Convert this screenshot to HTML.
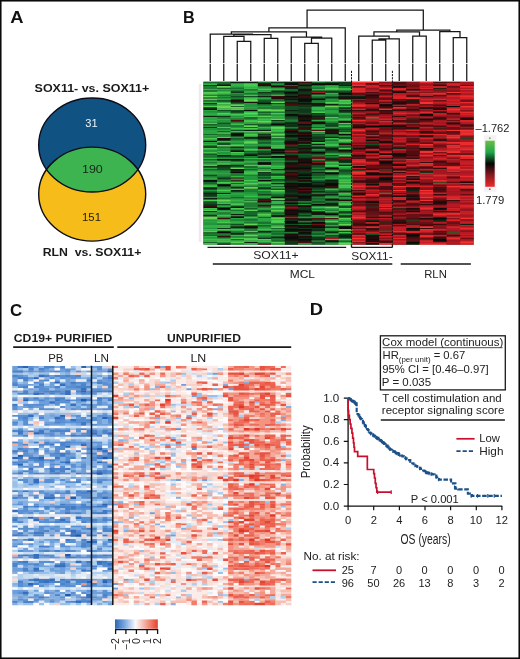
<!DOCTYPE html><html><head><meta charset="utf-8"><style>html,body{margin:0;padding:0;background:#fff;overflow:hidden;}svg{display:block;will-change:transform;}text{font-family:"Liberation Sans",sans-serif;}</style></head><body>
<svg width="520" height="659" viewBox="0 0 520 659">
<rect x="0" y="0" width="520" height="659" fill="#fff"/>
<text x="10.24" y="23.00" font-size="16.80" font-weight="bold" fill="#111" textLength="13.26" lengthAdjust="spacingAndGlyphs" xml:space="preserve">A</text>
<text x="183.05" y="22.80" font-size="16.80" font-weight="bold" fill="#111" textLength="11.72" lengthAdjust="spacingAndGlyphs" xml:space="preserve">B</text>
<text x="10.13" y="315.60" font-size="16.80" font-weight="bold" fill="#111" textLength="12.13" lengthAdjust="spacingAndGlyphs" xml:space="preserve">C</text>
<text x="309.81" y="315.30" font-size="16.80" font-weight="bold" fill="#111" textLength="13.27" lengthAdjust="spacingAndGlyphs" xml:space="preserve">D</text>
<text x="34.63" y="91.80" font-size="11.70" font-weight="bold" fill="#1a1a1a" textLength="114.58" lengthAdjust="spacingAndGlyphs" xml:space="preserve">SOX11- vs. SOX11+</text>
<ellipse cx="92.2" cy="145.0" rx="53.5" ry="47.0" fill="#105383"/>
<ellipse cx="92.2" cy="194.1" rx="53.5" ry="47.0" fill="#f6bc1a"/>
<clipPath id="cb"><ellipse cx="92.2" cy="145.0" rx="53.5" ry="47.0"/></clipPath>
<ellipse cx="92.2" cy="194.1" rx="53.5" ry="47.0" fill="#3eb450" clip-path="url(#cb)"/>
<ellipse cx="92.2" cy="145.0" rx="53.5" ry="47.0" fill="none" stroke="#0c0c18" stroke-width="1.4"/>
<ellipse cx="92.2" cy="194.1" rx="53.5" ry="47.0" fill="none" stroke="#0c0c18" stroke-width="1.4"/>
<text x="85.36" y="127.20" font-size="11.80" fill="#eef3f8" textLength="12.37" lengthAdjust="spacingAndGlyphs" xml:space="preserve">31</text>
<text x="81.96" y="172.80" font-size="11.80" fill="#17261a" textLength="20.82" lengthAdjust="spacingAndGlyphs" xml:space="preserve">190</text>
<text x="82.05" y="220.70" font-size="11.80" fill="#272008" textLength="18.90" lengthAdjust="spacingAndGlyphs" xml:space="preserve">151</text>
<text x="42.70" y="255.50" font-size="11.60" font-weight="bold" fill="#1a1a1a" textLength="98.65" lengthAdjust="spacingAndGlyphs" xml:space="preserve">RLN  vs. SOX11+</text>
<rect x="203.5" y="81.8" width="270.0" height="162.7" fill="#2a1810"/>
<path fill="#17662b" d="M203.5 81.8h13.8v1.7h-13.8zM217.0 81.8h13.8v1.7h-13.8zM257.5 81.8h13.8v1.7h-13.8zM311.5 81.8h13.8v1.7h-13.8zM217.0 83.2h13.8v1.7h-13.8zM284.5 84.6h13.8v1.7h-13.8zM311.5 84.6h13.8v1.7h-13.8zM230.5 87.4h13.8v1.7h-13.8zM311.5 87.4h13.8v1.7h-13.8zM284.5 88.8h13.8v1.7h-13.8zM230.5 90.2h13.8v1.7h-13.8zM284.5 90.2h13.8v1.7h-13.8zM244.0 93.0h13.8v1.7h-13.8zM257.5 93.0h13.8v1.7h-13.8zM271.0 93.0h13.8v1.7h-13.8zM203.5 94.4h13.8v1.7h-13.8zM217.0 94.4h13.8v1.7h-13.8zM338.5 94.4h13.8v1.7h-13.8zM325.0 95.8h13.8v1.7h-13.8zM311.5 97.2h13.8v1.7h-13.8zM271.0 98.6h13.8v1.7h-13.8zM338.5 98.6h13.8v1.7h-13.8zM271.0 100.0h13.8v1.7h-13.8zM230.5 102.8h13.8v1.7h-13.8zM230.5 105.6h13.8v1.7h-13.8zM311.5 105.6h13.8v1.7h-13.8zM338.5 108.4h13.8v1.7h-13.8zM311.5 114.1h13.8v1.7h-13.8zM325.0 114.1h13.8v1.7h-13.8zM325.0 115.5h13.8v1.7h-13.8zM284.5 118.3h13.8v1.7h-13.8zM365.5 118.3h13.8v1.7h-13.8zM230.5 121.1h13.8v1.7h-13.8zM284.5 121.1h13.8v1.7h-13.8zM406.0 122.5h13.8v1.7h-13.8zM257.5 125.3h13.8v1.7h-13.8zM244.0 126.7h13.8v1.7h-13.8zM311.5 126.7h13.8v1.7h-13.8zM298.0 129.5h13.8v1.7h-13.8zM338.5 129.5h13.8v1.7h-13.8zM203.5 133.7h13.8v1.7h-13.8zM325.0 133.7h13.8v1.7h-13.8zM311.5 135.1h13.8v1.7h-13.8zM433.0 136.5h13.8v1.7h-13.8zM338.5 137.9h13.8v1.7h-13.8zM257.5 139.3h13.8v1.7h-13.8zM325.0 139.3h13.8v1.7h-13.8zM338.5 142.1h13.8v1.7h-13.8zM298.0 143.5h13.8v1.7h-13.8zM217.0 146.3h13.8v1.7h-13.8zM325.0 146.3h13.8v1.7h-13.8zM230.5 149.1h13.8v1.7h-13.8zM244.0 150.5h13.8v1.7h-13.8zM325.0 151.9h13.8v1.7h-13.8zM338.5 151.9h13.8v1.7h-13.8zM271.0 153.3h13.8v1.7h-13.8zM298.0 153.3h13.8v1.7h-13.8zM230.5 154.7h13.8v1.7h-13.8zM203.5 156.1h13.8v1.7h-13.8zM217.0 156.1h13.8v1.7h-13.8zM230.5 160.3h13.8v1.7h-13.8zM284.5 160.3h13.8v1.7h-13.8zM325.0 160.3h13.8v1.7h-13.8zM244.0 163.1h13.8v1.7h-13.8zM257.5 167.4h13.8v1.7h-13.8zM203.5 168.8h13.8v1.7h-13.8zM244.0 168.8h13.8v1.7h-13.8zM338.5 168.8h13.8v1.7h-13.8zM284.5 170.2h13.8v1.7h-13.8zM352.0 170.2h13.8v1.7h-13.8zM338.5 171.6h13.8v1.7h-13.8zM271.0 173.0h13.8v1.7h-13.8zM311.5 173.0h13.8v1.7h-13.8zM338.5 173.0h13.8v1.7h-13.8zM311.5 177.2h13.8v1.7h-13.8zM217.0 178.6h13.8v1.7h-13.8zM325.0 178.6h13.8v1.7h-13.8zM271.0 180.0h13.8v1.7h-13.8zM203.5 181.4h13.8v1.7h-13.8zM298.0 181.4h13.8v1.7h-13.8zM203.5 182.8h13.8v1.7h-13.8zM230.5 182.8h13.8v1.7h-13.8zM257.5 184.2h13.8v1.7h-13.8zM271.0 185.6h13.8v1.7h-13.8zM257.5 188.4h13.8v1.7h-13.8zM311.5 189.8h13.8v1.7h-13.8zM338.5 189.8h13.8v1.7h-13.8zM230.5 191.2h13.8v1.7h-13.8zM325.0 192.6h13.8v1.7h-13.8zM271.0 194.0h13.8v1.7h-13.8zM271.0 195.4h13.8v1.7h-13.8zM230.5 196.8h13.8v1.7h-13.8zM311.5 198.2h13.8v1.7h-13.8zM284.5 201.0h13.8v1.7h-13.8zM257.5 203.8h13.8v1.7h-13.8zM271.0 203.8h13.8v1.7h-13.8zM230.5 205.2h13.8v1.7h-13.8zM311.5 205.2h13.8v1.7h-13.8zM230.5 209.4h13.8v1.7h-13.8zM257.5 209.4h13.8v1.7h-13.8zM244.0 210.8h13.8v1.7h-13.8zM217.0 212.2h13.8v1.7h-13.8zM244.0 212.2h13.8v1.7h-13.8zM244.0 213.6h13.8v1.7h-13.8zM298.0 213.6h13.8v1.7h-13.8zM257.5 216.4h13.8v1.7h-13.8zM284.5 216.4h13.8v1.7h-13.8zM338.5 216.4h13.8v1.7h-13.8zM311.5 220.7h13.8v1.7h-13.8zM325.0 222.1h13.8v1.7h-13.8zM298.0 223.5h13.8v1.7h-13.8zM325.0 223.5h13.8v1.7h-13.8zM271.0 227.7h13.8v1.7h-13.8zM271.0 230.5h13.8v1.7h-13.8zM311.5 230.5h13.8v1.7h-13.8zM230.5 231.9h13.8v1.7h-13.8zM257.5 231.9h13.8v1.7h-13.8zM446.5 231.9h13.8v1.7h-13.8zM271.0 233.3h13.8v1.7h-13.8zM365.5 233.3h13.8v1.7h-13.8zM203.5 234.7h13.8v1.7h-13.8zM217.0 234.7h13.8v1.7h-13.8zM230.5 236.1h13.8v1.7h-13.8zM325.0 236.1h13.8v1.7h-13.8zM271.0 237.5h13.8v1.7h-13.8zM338.5 237.5h13.8v1.7h-13.8zM271.0 240.3h13.8v1.7h-13.8zM203.5 241.7h13.8v1.7h-13.8zM325.0 241.7h13.8v1.7h-13.8zM311.5 243.1h13.8v1.7h-13.8z"/>
<path fill="#0d2212" d="M230.5 81.8h13.8v1.7h-13.8zM244.0 81.8h13.8v1.7h-13.8zM284.5 81.8h13.8v1.7h-13.8zM338.5 84.6h13.8v1.7h-13.8zM284.5 87.4h13.8v1.7h-13.8zM271.0 90.2h13.8v1.7h-13.8zM298.0 90.2h13.8v1.7h-13.8zM284.5 93.0h13.8v1.7h-13.8zM257.5 95.8h13.8v1.7h-13.8zM338.5 95.8h13.8v1.7h-13.8zM352.0 95.8h13.8v1.7h-13.8zM298.0 97.2h13.8v1.7h-13.8zM406.0 100.0h13.8v1.7h-13.8zM284.5 101.4h13.8v1.7h-13.8zM311.5 104.2h13.8v1.7h-13.8zM338.5 104.2h13.8v1.7h-13.8zM203.5 108.4h13.8v1.7h-13.8zM406.0 108.4h13.8v1.7h-13.8zM284.5 109.9h13.8v1.7h-13.8zM338.5 109.9h13.8v1.7h-13.8zM365.5 114.1h13.8v1.7h-13.8zM203.5 115.5h13.8v1.7h-13.8zM311.5 115.5h13.8v1.7h-13.8zM298.0 118.3h13.8v1.7h-13.8zM311.5 118.3h13.8v1.7h-13.8zM284.5 122.5h13.8v1.7h-13.8zM284.5 125.3h13.8v1.7h-13.8zM406.0 128.1h13.8v1.7h-13.8zM433.0 128.1h13.8v1.7h-13.8zM244.0 129.5h13.8v1.7h-13.8zM257.5 129.5h13.8v1.7h-13.8zM325.0 130.9h13.8v1.7h-13.8zM230.5 132.3h13.8v1.7h-13.8zM284.5 132.3h13.8v1.7h-13.8zM230.5 135.1h13.8v1.7h-13.8zM244.0 136.5h13.8v1.7h-13.8zM298.0 136.5h13.8v1.7h-13.8zM325.0 136.5h13.8v1.7h-13.8zM257.5 137.9h13.8v1.7h-13.8zM311.5 143.5h13.8v1.7h-13.8zM298.0 144.9h13.8v1.7h-13.8zM352.0 144.9h13.8v1.7h-13.8zM230.5 146.3h13.8v1.7h-13.8zM257.5 146.3h13.8v1.7h-13.8zM311.5 146.3h13.8v1.7h-13.8zM325.0 147.7h13.8v1.7h-13.8zM392.5 147.7h13.8v1.7h-13.8zM284.5 149.1h13.8v1.7h-13.8zM325.0 149.1h13.8v1.7h-13.8zM298.0 150.5h13.8v1.7h-13.8zM257.5 153.3h13.8v1.7h-13.8zM217.0 154.7h13.8v1.7h-13.8zM284.5 154.7h13.8v1.7h-13.8zM338.5 156.1h13.8v1.7h-13.8zM298.0 157.5h13.8v1.7h-13.8zM284.5 158.9h13.8v1.7h-13.8zM338.5 160.3h13.8v1.7h-13.8zM257.5 161.7h13.8v1.7h-13.8zM284.5 161.7h13.8v1.7h-13.8zM217.0 164.6h13.8v1.7h-13.8zM284.5 164.6h13.8v1.7h-13.8zM298.0 164.6h13.8v1.7h-13.8zM338.5 164.6h13.8v1.7h-13.8zM298.0 166.0h13.8v1.7h-13.8zM311.5 171.6h13.8v1.7h-13.8zM298.0 173.0h13.8v1.7h-13.8zM284.5 177.2h13.8v1.7h-13.8zM325.0 180.0h13.8v1.7h-13.8zM311.5 181.4h13.8v1.7h-13.8zM271.0 182.8h13.8v1.7h-13.8zM311.5 184.2h13.8v1.7h-13.8zM203.5 187.0h13.8v1.7h-13.8zM325.0 187.0h13.8v1.7h-13.8zM271.0 188.4h13.8v1.7h-13.8zM284.5 188.4h13.8v1.7h-13.8zM433.0 188.4h13.8v1.7h-13.8zM230.5 189.8h13.8v1.7h-13.8zM284.5 189.8h13.8v1.7h-13.8zM406.0 189.8h13.8v1.7h-13.8zM284.5 191.2h13.8v1.7h-13.8zM311.5 191.2h13.8v1.7h-13.8zM203.5 192.6h13.8v1.7h-13.8zM217.0 192.6h13.8v1.7h-13.8zM298.0 192.6h13.8v1.7h-13.8zM284.5 194.0h13.8v1.7h-13.8zM325.0 194.0h13.8v1.7h-13.8zM257.5 198.2h13.8v1.7h-13.8zM284.5 198.2h13.8v1.7h-13.8zM298.0 198.2h13.8v1.7h-13.8zM298.0 199.6h13.8v1.7h-13.8zM298.0 202.4h13.8v1.7h-13.8zM325.0 202.4h13.8v1.7h-13.8zM325.0 203.8h13.8v1.7h-13.8zM230.5 206.6h13.8v1.7h-13.8zM392.5 208.0h13.8v1.7h-13.8zM298.0 209.4h13.8v1.7h-13.8zM230.5 213.6h13.8v1.7h-13.8zM311.5 213.6h13.8v1.7h-13.8zM203.5 215.0h13.8v1.7h-13.8zM365.5 216.4h13.8v1.7h-13.8zM433.0 219.3h13.8v1.7h-13.8zM392.5 220.7h13.8v1.7h-13.8zM460.0 223.5h13.8v1.7h-13.8zM284.5 227.7h13.8v1.7h-13.8zM311.5 229.1h13.8v1.7h-13.8zM257.5 230.5h13.8v1.7h-13.8zM284.5 230.5h13.8v1.7h-13.8zM325.0 231.9h13.8v1.7h-13.8zM230.5 233.3h13.8v1.7h-13.8zM298.0 233.3h13.8v1.7h-13.8zM338.5 234.7h13.8v1.7h-13.8zM379.0 234.7h13.8v1.7h-13.8zM271.0 236.1h13.8v1.7h-13.8zM338.5 236.1h13.8v1.7h-13.8zM298.0 237.5h13.8v1.7h-13.8zM298.0 240.3h13.8v1.7h-13.8zM244.0 241.7h13.8v1.7h-13.8zM217.0 243.1h13.8v1.7h-13.8zM406.0 243.1h13.8v1.7h-13.8z"/>
<path fill="#0f381a" d="M271.0 81.8h13.8v1.7h-13.8zM338.5 81.8h13.8v1.7h-13.8zM338.5 83.2h13.8v1.7h-13.8zM203.5 84.6h13.8v1.7h-13.8zM311.5 90.2h13.8v1.7h-13.8zM325.0 90.2h13.8v1.7h-13.8zM230.5 91.6h13.8v1.7h-13.8zM257.5 91.6h13.8v1.7h-13.8zM298.0 91.6h13.8v1.7h-13.8zM338.5 91.6h13.8v1.7h-13.8zM298.0 93.0h13.8v1.7h-13.8zM203.5 97.2h13.8v1.7h-13.8zM284.5 97.2h13.8v1.7h-13.8zM325.0 97.2h13.8v1.7h-13.8zM217.0 100.0h13.8v1.7h-13.8zM230.5 101.4h13.8v1.7h-13.8zM298.0 101.4h13.8v1.7h-13.8zM203.5 102.8h13.8v1.7h-13.8zM298.0 104.2h13.8v1.7h-13.8zM298.0 105.6h13.8v1.7h-13.8zM203.5 107.0h13.8v1.7h-13.8zM338.5 107.0h13.8v1.7h-13.8zM298.0 108.4h13.8v1.7h-13.8zM298.0 109.9h13.8v1.7h-13.8zM230.5 111.3h13.8v1.7h-13.8zM298.0 111.3h13.8v1.7h-13.8zM338.5 111.3h13.8v1.7h-13.8zM311.5 112.7h13.8v1.7h-13.8zM217.0 115.5h13.8v1.7h-13.8zM284.5 115.5h13.8v1.7h-13.8zM406.0 118.3h13.8v1.7h-13.8zM271.0 119.7h13.8v1.7h-13.8zM271.0 122.5h13.8v1.7h-13.8zM298.0 122.5h13.8v1.7h-13.8zM203.5 123.9h13.8v1.7h-13.8zM244.0 123.9h13.8v1.7h-13.8zM284.5 123.9h13.8v1.7h-13.8zM298.0 125.3h13.8v1.7h-13.8zM325.0 125.3h13.8v1.7h-13.8zM203.5 126.7h13.8v1.7h-13.8zM284.5 128.1h13.8v1.7h-13.8zM325.0 128.1h13.8v1.7h-13.8zM257.5 133.7h13.8v1.7h-13.8zM284.5 133.7h13.8v1.7h-13.8zM284.5 136.5h13.8v1.7h-13.8zM311.5 136.5h13.8v1.7h-13.8zM244.0 137.9h13.8v1.7h-13.8zM311.5 137.9h13.8v1.7h-13.8zM284.5 139.3h13.8v1.7h-13.8zM298.0 140.7h13.8v1.7h-13.8zM257.5 142.1h13.8v1.7h-13.8zM298.0 146.3h13.8v1.7h-13.8zM284.5 147.7h13.8v1.7h-13.8zM311.5 147.7h13.8v1.7h-13.8zM298.0 149.1h13.8v1.7h-13.8zM244.0 153.3h13.8v1.7h-13.8zM325.0 157.5h13.8v1.7h-13.8zM338.5 158.9h13.8v1.7h-13.8zM311.5 160.3h13.8v1.7h-13.8zM392.5 160.3h13.8v1.7h-13.8zM338.5 161.7h13.8v1.7h-13.8zM230.5 164.6h13.8v1.7h-13.8zM217.0 166.0h13.8v1.7h-13.8zM298.0 170.2h13.8v1.7h-13.8zM257.5 171.6h13.8v1.7h-13.8zM298.0 171.6h13.8v1.7h-13.8zM325.0 171.6h13.8v1.7h-13.8zM419.5 171.6h13.8v1.7h-13.8zM203.5 174.4h13.8v1.7h-13.8zM257.5 174.4h13.8v1.7h-13.8zM271.0 174.4h13.8v1.7h-13.8zM298.0 175.8h13.8v1.7h-13.8zM217.0 177.2h13.8v1.7h-13.8zM257.5 177.2h13.8v1.7h-13.8zM298.0 178.6h13.8v1.7h-13.8zM284.5 180.0h13.8v1.7h-13.8zM325.0 181.4h13.8v1.7h-13.8zM311.5 182.8h13.8v1.7h-13.8zM365.5 182.8h13.8v1.7h-13.8zM257.5 187.0h13.8v1.7h-13.8zM311.5 187.0h13.8v1.7h-13.8zM203.5 188.4h13.8v1.7h-13.8zM379.0 191.2h13.8v1.7h-13.8zM284.5 192.6h13.8v1.7h-13.8zM203.5 194.0h13.8v1.7h-13.8zM257.5 194.0h13.8v1.7h-13.8zM298.0 194.0h13.8v1.7h-13.8zM203.5 195.4h13.8v1.7h-13.8zM338.5 195.4h13.8v1.7h-13.8zM284.5 196.8h13.8v1.7h-13.8zM325.0 199.6h13.8v1.7h-13.8zM406.0 202.4h13.8v1.7h-13.8zM203.5 203.8h13.8v1.7h-13.8zM325.0 205.2h13.8v1.7h-13.8zM365.5 205.2h13.8v1.7h-13.8zM298.0 206.6h13.8v1.7h-13.8zM298.0 208.0h13.8v1.7h-13.8zM203.5 210.8h13.8v1.7h-13.8zM365.5 210.8h13.8v1.7h-13.8zM338.5 212.2h13.8v1.7h-13.8zM298.0 215.0h13.8v1.7h-13.8zM338.5 215.0h13.8v1.7h-13.8zM298.0 217.9h13.8v1.7h-13.8zM284.5 219.3h13.8v1.7h-13.8zM365.5 219.3h13.8v1.7h-13.8zM433.0 220.7h13.8v1.7h-13.8zM379.0 222.1h13.8v1.7h-13.8zM217.0 227.7h13.8v1.7h-13.8zM298.0 227.7h13.8v1.7h-13.8zM311.5 227.7h13.8v1.7h-13.8zM217.0 230.5h13.8v1.7h-13.8zM244.0 231.9h13.8v1.7h-13.8zM338.5 233.3h13.8v1.7h-13.8zM311.5 236.1h13.8v1.7h-13.8zM257.5 237.5h13.8v1.7h-13.8zM311.5 237.5h13.8v1.7h-13.8zM406.0 238.9h13.8v1.7h-13.8zM284.5 240.3h13.8v1.7h-13.8zM284.5 241.7h13.8v1.7h-13.8zM284.5 243.1h13.8v1.7h-13.8z"/>
<path fill="#390c0e" d="M298.0 81.8h13.8v1.7h-13.8zM257.5 83.2h13.8v1.7h-13.8zM379.0 84.6h13.8v1.7h-13.8zM284.5 86.0h13.8v1.7h-13.8zM352.0 86.0h13.8v1.7h-13.8zM433.0 87.4h13.8v1.7h-13.8zM352.0 93.0h13.8v1.7h-13.8zM379.0 93.0h13.8v1.7h-13.8zM271.0 95.8h13.8v1.7h-13.8zM298.0 95.8h13.8v1.7h-13.8zM365.5 95.8h13.8v1.7h-13.8zM365.5 97.2h13.8v1.7h-13.8zM352.0 100.0h13.8v1.7h-13.8zM406.0 101.4h13.8v1.7h-13.8zM284.5 102.8h13.8v1.7h-13.8zM379.0 105.6h13.8v1.7h-13.8zM379.0 107.0h13.8v1.7h-13.8zM365.5 108.4h13.8v1.7h-13.8zM352.0 109.9h13.8v1.7h-13.8zM365.5 109.9h13.8v1.7h-13.8zM379.0 109.9h13.8v1.7h-13.8zM392.5 109.9h13.8v1.7h-13.8zM379.0 112.7h13.8v1.7h-13.8zM298.0 114.1h13.8v1.7h-13.8zM352.0 114.1h13.8v1.7h-13.8zM406.0 114.1h13.8v1.7h-13.8zM392.5 115.5h13.8v1.7h-13.8zM352.0 116.9h13.8v1.7h-13.8zM433.0 116.9h13.8v1.7h-13.8zM433.0 118.3h13.8v1.7h-13.8zM352.0 123.9h13.8v1.7h-13.8zM352.0 125.3h13.8v1.7h-13.8zM298.0 126.7h13.8v1.7h-13.8zM406.0 126.7h13.8v1.7h-13.8zM298.0 128.1h13.8v1.7h-13.8zM392.5 128.1h13.8v1.7h-13.8zM460.0 128.1h13.8v1.7h-13.8zM284.5 129.5h13.8v1.7h-13.8zM365.5 130.9h13.8v1.7h-13.8zM298.0 133.7h13.8v1.7h-13.8zM406.0 135.1h13.8v1.7h-13.8zM406.0 140.7h13.8v1.7h-13.8zM379.0 142.1h13.8v1.7h-13.8zM338.5 143.5h13.8v1.7h-13.8zM284.5 146.3h13.8v1.7h-13.8zM257.5 147.7h13.8v1.7h-13.8zM379.0 149.1h13.8v1.7h-13.8zM365.5 150.5h13.8v1.7h-13.8zM284.5 151.9h13.8v1.7h-13.8zM460.0 153.3h13.8v1.7h-13.8zM406.0 154.7h13.8v1.7h-13.8zM433.0 154.7h13.8v1.7h-13.8zM392.5 156.1h13.8v1.7h-13.8zM284.5 157.5h13.8v1.7h-13.8zM406.0 157.5h13.8v1.7h-13.8zM365.5 158.9h13.8v1.7h-13.8zM433.0 160.3h13.8v1.7h-13.8zM419.5 161.7h13.8v1.7h-13.8zM379.0 163.1h13.8v1.7h-13.8zM284.5 166.0h13.8v1.7h-13.8zM419.5 167.4h13.8v1.7h-13.8zM298.0 168.8h13.8v1.7h-13.8zM365.5 168.8h13.8v1.7h-13.8zM392.5 171.6h13.8v1.7h-13.8zM284.5 174.4h13.8v1.7h-13.8zM406.0 175.8h13.8v1.7h-13.8zM284.5 178.6h13.8v1.7h-13.8zM230.5 180.0h13.8v1.7h-13.8zM352.0 180.0h13.8v1.7h-13.8zM365.5 180.0h13.8v1.7h-13.8zM379.0 180.0h13.8v1.7h-13.8zM352.0 181.4h13.8v1.7h-13.8zM365.5 181.4h13.8v1.7h-13.8zM446.5 181.4h13.8v1.7h-13.8zM325.0 185.6h13.8v1.7h-13.8zM379.0 188.4h13.8v1.7h-13.8zM406.0 188.4h13.8v1.7h-13.8zM460.0 188.4h13.8v1.7h-13.8zM338.5 191.2h13.8v1.7h-13.8zM352.0 194.0h13.8v1.7h-13.8zM406.0 194.0h13.8v1.7h-13.8zM379.0 195.4h13.8v1.7h-13.8zM446.5 199.6h13.8v1.7h-13.8zM352.0 201.0h13.8v1.7h-13.8zM392.5 201.0h13.8v1.7h-13.8zM419.5 203.8h13.8v1.7h-13.8zM257.5 205.2h13.8v1.7h-13.8zM433.0 210.8h13.8v1.7h-13.8zM392.5 215.0h13.8v1.7h-13.8zM217.0 217.9h13.8v1.7h-13.8zM284.5 217.9h13.8v1.7h-13.8zM392.5 219.3h13.8v1.7h-13.8zM352.0 223.5h13.8v1.7h-13.8zM433.0 223.5h13.8v1.7h-13.8zM365.5 224.9h13.8v1.7h-13.8zM392.5 224.9h13.8v1.7h-13.8zM419.5 224.9h13.8v1.7h-13.8zM365.5 227.7h13.8v1.7h-13.8zM419.5 227.7h13.8v1.7h-13.8zM365.5 229.1h13.8v1.7h-13.8zM352.0 233.3h13.8v1.7h-13.8zM392.5 233.3h13.8v1.7h-13.8zM433.0 233.3h13.8v1.7h-13.8zM217.0 236.1h13.8v1.7h-13.8zM406.0 236.1h13.8v1.7h-13.8zM433.0 236.1h13.8v1.7h-13.8zM433.0 237.5h13.8v1.7h-13.8zM379.0 240.3h13.8v1.7h-13.8z"/>
<path fill="#124e22" d="M325.0 81.8h13.8v1.7h-13.8zM298.0 83.2h13.8v1.7h-13.8zM271.0 84.6h13.8v1.7h-13.8zM298.0 86.0h13.8v1.7h-13.8zM217.0 87.4h13.8v1.7h-13.8zM298.0 87.4h13.8v1.7h-13.8zM433.0 88.8h13.8v1.7h-13.8zM338.5 90.2h13.8v1.7h-13.8zM271.0 91.6h13.8v1.7h-13.8zM325.0 91.6h13.8v1.7h-13.8zM284.5 94.4h13.8v1.7h-13.8zM230.5 95.8h13.8v1.7h-13.8zM244.0 95.8h13.8v1.7h-13.8zM230.5 98.6h13.8v1.7h-13.8zM203.5 100.0h13.8v1.7h-13.8zM257.5 100.0h13.8v1.7h-13.8zM284.5 100.0h13.8v1.7h-13.8zM257.5 101.4h13.8v1.7h-13.8zM271.0 102.8h13.8v1.7h-13.8zM284.5 105.6h13.8v1.7h-13.8zM284.5 107.0h13.8v1.7h-13.8zM298.0 107.0h13.8v1.7h-13.8zM284.5 108.4h13.8v1.7h-13.8zM217.0 109.9h13.8v1.7h-13.8zM230.5 109.9h13.8v1.7h-13.8zM257.5 111.3h13.8v1.7h-13.8zM284.5 111.3h13.8v1.7h-13.8zM284.5 112.7h13.8v1.7h-13.8zM298.0 112.7h13.8v1.7h-13.8zM257.5 114.1h13.8v1.7h-13.8zM244.0 116.9h13.8v1.7h-13.8zM284.5 116.9h13.8v1.7h-13.8zM217.0 122.5h13.8v1.7h-13.8zM325.0 122.5h13.8v1.7h-13.8zM257.5 123.9h13.8v1.7h-13.8zM325.0 123.9h13.8v1.7h-13.8zM338.5 128.1h13.8v1.7h-13.8zM230.5 129.5h13.8v1.7h-13.8zM217.0 130.9h13.8v1.7h-13.8zM298.0 130.9h13.8v1.7h-13.8zM338.5 130.9h13.8v1.7h-13.8zM379.0 130.9h13.8v1.7h-13.8zM311.5 133.7h13.8v1.7h-13.8zM257.5 135.1h13.8v1.7h-13.8zM338.5 136.5h13.8v1.7h-13.8zM230.5 137.9h13.8v1.7h-13.8zM284.5 137.9h13.8v1.7h-13.8zM460.0 137.9h13.8v1.7h-13.8zM311.5 139.3h13.8v1.7h-13.8zM217.0 142.1h13.8v1.7h-13.8zM217.0 143.5h13.8v1.7h-13.8zM365.5 143.5h13.8v1.7h-13.8zM284.5 144.9h13.8v1.7h-13.8zM338.5 146.3h13.8v1.7h-13.8zM257.5 150.5h13.8v1.7h-13.8zM311.5 150.5h13.8v1.7h-13.8zM325.0 150.5h13.8v1.7h-13.8zM257.5 151.9h13.8v1.7h-13.8zM203.5 153.3h13.8v1.7h-13.8zM284.5 153.3h13.8v1.7h-13.8zM311.5 153.3h13.8v1.7h-13.8zM298.0 154.7h13.8v1.7h-13.8zM325.0 154.7h13.8v1.7h-13.8zM230.5 156.1h13.8v1.7h-13.8zM298.0 156.1h13.8v1.7h-13.8zM203.5 158.9h13.8v1.7h-13.8zM311.5 164.6h13.8v1.7h-13.8zM230.5 166.0h13.8v1.7h-13.8zM244.0 166.0h13.8v1.7h-13.8zM311.5 166.0h13.8v1.7h-13.8zM217.0 167.4h13.8v1.7h-13.8zM217.0 168.8h13.8v1.7h-13.8zM311.5 168.8h13.8v1.7h-13.8zM325.0 168.8h13.8v1.7h-13.8zM230.5 170.2h13.8v1.7h-13.8zM338.5 170.2h13.8v1.7h-13.8zM379.0 170.2h13.8v1.7h-13.8zM257.5 173.0h13.8v1.7h-13.8zM311.5 174.4h13.8v1.7h-13.8zM271.0 178.6h13.8v1.7h-13.8zM311.5 180.0h13.8v1.7h-13.8zM284.5 181.4h13.8v1.7h-13.8zM433.0 181.4h13.8v1.7h-13.8zM217.0 185.6h13.8v1.7h-13.8zM311.5 188.4h13.8v1.7h-13.8zM203.5 191.2h13.8v1.7h-13.8zM325.0 191.2h13.8v1.7h-13.8zM311.5 195.4h13.8v1.7h-13.8zM271.0 199.6h13.8v1.7h-13.8zM203.5 201.0h13.8v1.7h-13.8zM311.5 201.0h13.8v1.7h-13.8zM203.5 202.4h13.8v1.7h-13.8zM217.0 203.8h13.8v1.7h-13.8zM284.5 203.8h13.8v1.7h-13.8zM338.5 205.2h13.8v1.7h-13.8zM217.0 206.6h13.8v1.7h-13.8zM338.5 206.6h13.8v1.7h-13.8zM244.0 208.0h13.8v1.7h-13.8zM257.5 210.8h13.8v1.7h-13.8zM311.5 210.8h13.8v1.7h-13.8zM338.5 210.8h13.8v1.7h-13.8zM271.0 212.2h13.8v1.7h-13.8zM298.0 212.2h13.8v1.7h-13.8zM325.0 212.2h13.8v1.7h-13.8zM244.0 215.0h13.8v1.7h-13.8zM311.5 219.3h13.8v1.7h-13.8zM406.0 219.3h13.8v1.7h-13.8zM257.5 222.1h13.8v1.7h-13.8zM230.5 223.5h13.8v1.7h-13.8zM284.5 223.5h13.8v1.7h-13.8zM244.0 224.9h13.8v1.7h-13.8zM257.5 224.9h13.8v1.7h-13.8zM244.0 227.7h13.8v1.7h-13.8zM379.0 229.1h13.8v1.7h-13.8zM325.0 230.5h13.8v1.7h-13.8zM203.5 231.9h13.8v1.7h-13.8zM311.5 233.3h13.8v1.7h-13.8zM298.0 234.7h13.8v1.7h-13.8zM325.0 234.7h13.8v1.7h-13.8zM244.0 236.1h13.8v1.7h-13.8zM230.5 238.9h13.8v1.7h-13.8zM338.5 240.3h13.8v1.7h-13.8zM311.5 241.7h13.8v1.7h-13.8z"/>
<path fill="#f53232" d="M352.0 81.8h13.8v1.7h-13.8zM365.5 81.8h13.8v1.7h-13.8zM352.0 84.6h13.8v1.7h-13.8zM446.5 91.6h13.8v1.7h-13.8zM419.5 93.0h13.8v1.7h-13.8zM419.5 101.4h13.8v1.7h-13.8zM460.0 101.4h13.8v1.7h-13.8zM419.5 102.8h13.8v1.7h-13.8zM460.0 105.6h13.8v1.7h-13.8zM446.5 108.4h13.8v1.7h-13.8zM419.5 111.3h13.8v1.7h-13.8zM460.0 111.3h13.8v1.7h-13.8zM365.5 116.9h13.8v1.7h-13.8zM352.0 129.5h13.8v1.7h-13.8zM446.5 129.5h13.8v1.7h-13.8zM460.0 129.5h13.8v1.7h-13.8zM460.0 132.3h13.8v1.7h-13.8zM446.5 136.5h13.8v1.7h-13.8zM433.0 142.1h13.8v1.7h-13.8zM419.5 143.5h13.8v1.7h-13.8zM446.5 146.3h13.8v1.7h-13.8zM460.0 149.1h13.8v1.7h-13.8zM419.5 150.5h13.8v1.7h-13.8zM419.5 151.9h13.8v1.7h-13.8zM446.5 151.9h13.8v1.7h-13.8zM460.0 154.7h13.8v1.7h-13.8zM460.0 156.1h13.8v1.7h-13.8zM446.5 166.0h13.8v1.7h-13.8zM446.5 167.4h13.8v1.7h-13.8zM352.0 171.6h13.8v1.7h-13.8zM419.5 177.2h13.8v1.7h-13.8zM392.5 185.6h13.8v1.7h-13.8zM446.5 185.6h13.8v1.7h-13.8zM352.0 188.4h13.8v1.7h-13.8zM392.5 189.8h13.8v1.7h-13.8zM419.5 189.8h13.8v1.7h-13.8zM419.5 196.8h13.8v1.7h-13.8zM419.5 199.6h13.8v1.7h-13.8zM446.5 212.2h13.8v1.7h-13.8zM352.0 216.4h13.8v1.7h-13.8zM460.0 217.9h13.8v1.7h-13.8zM419.5 226.3h13.8v1.7h-13.8zM419.5 236.1h13.8v1.7h-13.8zM352.0 237.5h13.8v1.7h-13.8zM460.0 241.7h13.8v1.7h-13.8zM419.5 243.1h13.8v1.7h-13.8zM433.0 243.1h13.8v1.7h-13.8z"/>
<path fill="#89131b" d="M379.0 81.8h13.8v1.7h-13.8zM406.0 81.8h13.8v1.7h-13.8zM406.0 83.2h13.8v1.7h-13.8zM419.5 83.2h13.8v1.7h-13.8zM379.0 86.0h13.8v1.7h-13.8zM365.5 87.4h13.8v1.7h-13.8zM379.0 88.8h13.8v1.7h-13.8zM419.5 88.8h13.8v1.7h-13.8zM433.0 90.2h13.8v1.7h-13.8zM446.5 90.2h13.8v1.7h-13.8zM406.0 91.6h13.8v1.7h-13.8zM419.5 91.6h13.8v1.7h-13.8zM365.5 93.0h13.8v1.7h-13.8zM352.0 94.4h13.8v1.7h-13.8zM379.0 94.4h13.8v1.7h-13.8zM433.0 95.8h13.8v1.7h-13.8zM352.0 101.4h13.8v1.7h-13.8zM365.5 101.4h13.8v1.7h-13.8zM433.0 105.6h13.8v1.7h-13.8zM365.5 107.0h13.8v1.7h-13.8zM406.0 107.0h13.8v1.7h-13.8zM419.5 109.9h13.8v1.7h-13.8zM460.0 109.9h13.8v1.7h-13.8zM352.0 111.3h13.8v1.7h-13.8zM379.0 114.1h13.8v1.7h-13.8zM352.0 115.5h13.8v1.7h-13.8zM419.5 115.5h13.8v1.7h-13.8zM433.0 115.5h13.8v1.7h-13.8zM446.5 115.5h13.8v1.7h-13.8zM379.0 116.9h13.8v1.7h-13.8zM406.0 116.9h13.8v1.7h-13.8zM446.5 116.9h13.8v1.7h-13.8zM379.0 119.7h13.8v1.7h-13.8zM365.5 121.1h13.8v1.7h-13.8zM419.5 121.1h13.8v1.7h-13.8zM419.5 123.9h13.8v1.7h-13.8zM446.5 123.9h13.8v1.7h-13.8zM406.0 125.3h13.8v1.7h-13.8zM433.0 126.7h13.8v1.7h-13.8zM379.0 129.5h13.8v1.7h-13.8zM392.5 130.9h13.8v1.7h-13.8zM433.0 130.9h13.8v1.7h-13.8zM379.0 133.7h13.8v1.7h-13.8zM446.5 133.7h13.8v1.7h-13.8zM460.0 135.1h13.8v1.7h-13.8zM460.0 136.5h13.8v1.7h-13.8zM433.0 137.9h13.8v1.7h-13.8zM419.5 139.3h13.8v1.7h-13.8zM446.5 139.3h13.8v1.7h-13.8zM365.5 140.7h13.8v1.7h-13.8zM446.5 140.7h13.8v1.7h-13.8zM433.0 143.5h13.8v1.7h-13.8zM446.5 143.5h13.8v1.7h-13.8zM352.0 146.3h13.8v1.7h-13.8zM379.0 146.3h13.8v1.7h-13.8zM433.0 146.3h13.8v1.7h-13.8zM352.0 149.1h13.8v1.7h-13.8zM352.0 150.5h13.8v1.7h-13.8zM392.5 150.5h13.8v1.7h-13.8zM392.5 151.9h13.8v1.7h-13.8zM419.5 156.1h13.8v1.7h-13.8zM338.5 157.5h13.8v1.7h-13.8zM365.5 157.5h13.8v1.7h-13.8zM446.5 157.5h13.8v1.7h-13.8zM311.5 161.7h13.8v1.7h-13.8zM446.5 161.7h13.8v1.7h-13.8zM406.0 163.1h13.8v1.7h-13.8zM433.0 163.1h13.8v1.7h-13.8zM406.0 166.0h13.8v1.7h-13.8zM392.5 167.4h13.8v1.7h-13.8zM379.0 168.8h13.8v1.7h-13.8zM406.0 168.8h13.8v1.7h-13.8zM446.5 171.6h13.8v1.7h-13.8zM379.0 175.8h13.8v1.7h-13.8zM446.5 175.8h13.8v1.7h-13.8zM365.5 177.2h13.8v1.7h-13.8zM406.0 177.2h13.8v1.7h-13.8zM419.5 180.0h13.8v1.7h-13.8zM419.5 181.4h13.8v1.7h-13.8zM433.0 185.6h13.8v1.7h-13.8zM419.5 187.0h13.8v1.7h-13.8zM365.5 188.4h13.8v1.7h-13.8zM392.5 188.4h13.8v1.7h-13.8zM419.5 188.4h13.8v1.7h-13.8zM365.5 192.6h13.8v1.7h-13.8zM406.0 192.6h13.8v1.7h-13.8zM365.5 199.6h13.8v1.7h-13.8zM406.0 199.6h13.8v1.7h-13.8zM446.5 201.0h13.8v1.7h-13.8zM352.0 202.4h13.8v1.7h-13.8zM379.0 202.4h13.8v1.7h-13.8zM460.0 202.4h13.8v1.7h-13.8zM392.5 203.8h13.8v1.7h-13.8zM352.0 205.2h13.8v1.7h-13.8zM284.5 206.6h13.8v1.7h-13.8zM379.0 206.6h13.8v1.7h-13.8zM433.0 206.6h13.8v1.7h-13.8zM352.0 209.4h13.8v1.7h-13.8zM392.5 209.4h13.8v1.7h-13.8zM419.5 209.4h13.8v1.7h-13.8zM433.0 209.4h13.8v1.7h-13.8zM460.0 209.4h13.8v1.7h-13.8zM379.0 210.8h13.8v1.7h-13.8zM392.5 212.2h13.8v1.7h-13.8zM365.5 215.0h13.8v1.7h-13.8zM392.5 217.9h13.8v1.7h-13.8zM446.5 217.9h13.8v1.7h-13.8zM379.0 219.3h13.8v1.7h-13.8zM419.5 219.3h13.8v1.7h-13.8zM460.0 219.3h13.8v1.7h-13.8zM419.5 220.7h13.8v1.7h-13.8zM446.5 220.7h13.8v1.7h-13.8zM446.5 223.5h13.8v1.7h-13.8zM433.0 224.9h13.8v1.7h-13.8zM446.5 224.9h13.8v1.7h-13.8zM379.0 226.3h13.8v1.7h-13.8zM433.0 226.3h13.8v1.7h-13.8zM379.0 227.7h13.8v1.7h-13.8zM433.0 227.7h13.8v1.7h-13.8zM338.5 230.5h13.8v1.7h-13.8zM352.0 230.5h13.8v1.7h-13.8zM365.5 230.5h13.8v1.7h-13.8zM460.0 230.5h13.8v1.7h-13.8zM392.5 231.9h13.8v1.7h-13.8zM379.0 237.5h13.8v1.7h-13.8zM392.5 238.9h13.8v1.7h-13.8zM419.5 238.9h13.8v1.7h-13.8zM352.0 241.7h13.8v1.7h-13.8zM365.5 241.7h13.8v1.7h-13.8z"/>
<path fill="#500c10" d="M392.5 81.8h13.8v1.7h-13.8zM433.0 81.8h13.8v1.7h-13.8zM392.5 83.2h13.8v1.7h-13.8zM446.5 86.0h13.8v1.7h-13.8zM379.0 90.2h13.8v1.7h-13.8zM392.5 90.2h13.8v1.7h-13.8zM365.5 91.6h13.8v1.7h-13.8zM406.0 94.4h13.8v1.7h-13.8zM433.0 94.4h13.8v1.7h-13.8zM406.0 95.8h13.8v1.7h-13.8zM419.5 95.8h13.8v1.7h-13.8zM379.0 97.2h13.8v1.7h-13.8zM392.5 98.6h13.8v1.7h-13.8zM406.0 98.6h13.8v1.7h-13.8zM379.0 101.4h13.8v1.7h-13.8zM406.0 102.8h13.8v1.7h-13.8zM284.5 104.2h13.8v1.7h-13.8zM433.0 104.2h13.8v1.7h-13.8zM392.5 105.6h13.8v1.7h-13.8zM433.0 107.0h13.8v1.7h-13.8zM406.0 109.9h13.8v1.7h-13.8zM379.0 111.3h13.8v1.7h-13.8zM311.5 116.9h13.8v1.7h-13.8zM460.0 116.9h13.8v1.7h-13.8zM230.5 119.7h13.8v1.7h-13.8zM392.5 119.7h13.8v1.7h-13.8zM406.0 119.7h13.8v1.7h-13.8zM419.5 119.7h13.8v1.7h-13.8zM392.5 121.1h13.8v1.7h-13.8zM406.0 121.1h13.8v1.7h-13.8zM460.0 123.9h13.8v1.7h-13.8zM419.5 125.3h13.8v1.7h-13.8zM433.0 125.3h13.8v1.7h-13.8zM460.0 125.3h13.8v1.7h-13.8zM392.5 126.7h13.8v1.7h-13.8zM311.5 129.5h13.8v1.7h-13.8zM446.5 130.9h13.8v1.7h-13.8zM365.5 133.7h13.8v1.7h-13.8zM379.0 135.1h13.8v1.7h-13.8zM406.0 137.9h13.8v1.7h-13.8zM419.5 142.1h13.8v1.7h-13.8zM284.5 143.5h13.8v1.7h-13.8zM365.5 144.9h13.8v1.7h-13.8zM406.0 144.9h13.8v1.7h-13.8zM392.5 146.3h13.8v1.7h-13.8zM365.5 147.7h13.8v1.7h-13.8zM379.0 147.7h13.8v1.7h-13.8zM406.0 147.7h13.8v1.7h-13.8zM419.5 149.1h13.8v1.7h-13.8zM271.0 150.5h13.8v1.7h-13.8zM338.5 150.5h13.8v1.7h-13.8zM406.0 150.5h13.8v1.7h-13.8zM406.0 151.9h13.8v1.7h-13.8zM433.0 151.9h13.8v1.7h-13.8zM406.0 153.3h13.8v1.7h-13.8zM446.5 153.3h13.8v1.7h-13.8zM352.0 157.5h13.8v1.7h-13.8zM379.0 157.5h13.8v1.7h-13.8zM325.0 158.9h13.8v1.7h-13.8zM433.0 161.7h13.8v1.7h-13.8zM298.0 163.1h13.8v1.7h-13.8zM392.5 163.1h13.8v1.7h-13.8zM446.5 163.1h13.8v1.7h-13.8zM365.5 164.6h13.8v1.7h-13.8zM379.0 164.6h13.8v1.7h-13.8zM419.5 166.0h13.8v1.7h-13.8zM365.5 167.4h13.8v1.7h-13.8zM379.0 167.4h13.8v1.7h-13.8zM406.0 167.4h13.8v1.7h-13.8zM271.0 168.8h13.8v1.7h-13.8zM419.5 170.2h13.8v1.7h-13.8zM365.5 171.6h13.8v1.7h-13.8zM284.5 173.0h13.8v1.7h-13.8zM352.0 174.4h13.8v1.7h-13.8zM365.5 174.4h13.8v1.7h-13.8zM230.5 177.2h13.8v1.7h-13.8zM392.5 177.2h13.8v1.7h-13.8zM446.5 177.2h13.8v1.7h-13.8zM365.5 178.6h13.8v1.7h-13.8zM379.0 181.4h13.8v1.7h-13.8zM392.5 182.8h13.8v1.7h-13.8zM406.0 182.8h13.8v1.7h-13.8zM419.5 182.8h13.8v1.7h-13.8zM379.0 185.6h13.8v1.7h-13.8zM365.5 187.0h13.8v1.7h-13.8zM379.0 187.0h13.8v1.7h-13.8zM433.0 187.0h13.8v1.7h-13.8zM298.0 189.8h13.8v1.7h-13.8zM352.0 189.8h13.8v1.7h-13.8zM433.0 189.8h13.8v1.7h-13.8zM433.0 191.2h13.8v1.7h-13.8zM379.0 194.0h13.8v1.7h-13.8zM460.0 194.0h13.8v1.7h-13.8zM352.0 196.8h13.8v1.7h-13.8zM365.5 196.8h13.8v1.7h-13.8zM406.0 196.8h13.8v1.7h-13.8zM257.5 199.6h13.8v1.7h-13.8zM392.5 199.6h13.8v1.7h-13.8zM433.0 199.6h13.8v1.7h-13.8zM419.5 201.0h13.8v1.7h-13.8zM365.5 203.8h13.8v1.7h-13.8zM406.0 203.8h13.8v1.7h-13.8zM433.0 203.8h13.8v1.7h-13.8zM203.5 205.2h13.8v1.7h-13.8zM284.5 205.2h13.8v1.7h-13.8zM392.5 205.2h13.8v1.7h-13.8zM365.5 208.0h13.8v1.7h-13.8zM365.5 209.4h13.8v1.7h-13.8zM352.0 210.8h13.8v1.7h-13.8zM446.5 210.8h13.8v1.7h-13.8zM379.0 212.2h13.8v1.7h-13.8zM284.5 215.0h13.8v1.7h-13.8zM419.5 215.0h13.8v1.7h-13.8zM433.0 216.4h13.8v1.7h-13.8zM311.5 217.9h13.8v1.7h-13.8zM325.0 217.9h13.8v1.7h-13.8zM406.0 217.9h13.8v1.7h-13.8zM352.0 222.1h13.8v1.7h-13.8zM406.0 223.5h13.8v1.7h-13.8zM419.5 223.5h13.8v1.7h-13.8zM352.0 224.9h13.8v1.7h-13.8zM284.5 226.3h13.8v1.7h-13.8zM298.0 230.5h13.8v1.7h-13.8zM433.0 230.5h13.8v1.7h-13.8zM379.0 231.9h13.8v1.7h-13.8zM419.5 233.3h13.8v1.7h-13.8zM406.0 237.5h13.8v1.7h-13.8zM311.5 238.9h13.8v1.7h-13.8zM298.0 241.7h13.8v1.7h-13.8zM379.0 241.7h13.8v1.7h-13.8zM257.5 243.1h13.8v1.7h-13.8z"/>
<path fill="#e1262b" d="M419.5 81.8h13.8v1.7h-13.8zM352.0 87.4h13.8v1.7h-13.8zM379.0 87.4h13.8v1.7h-13.8zM352.0 88.8h13.8v1.7h-13.8zM392.5 88.8h13.8v1.7h-13.8zM460.0 88.8h13.8v1.7h-13.8zM406.0 90.2h13.8v1.7h-13.8zM433.0 98.6h13.8v1.7h-13.8zM406.0 104.2h13.8v1.7h-13.8zM352.0 105.6h13.8v1.7h-13.8zM446.5 107.0h13.8v1.7h-13.8zM446.5 111.3h13.8v1.7h-13.8zM392.5 112.7h13.8v1.7h-13.8zM460.0 114.1h13.8v1.7h-13.8zM379.0 121.1h13.8v1.7h-13.8zM352.0 128.1h13.8v1.7h-13.8zM406.0 129.5h13.8v1.7h-13.8zM419.5 133.7h13.8v1.7h-13.8zM433.0 133.7h13.8v1.7h-13.8zM460.0 147.7h13.8v1.7h-13.8zM379.0 151.9h13.8v1.7h-13.8zM379.0 154.7h13.8v1.7h-13.8zM365.5 156.1h13.8v1.7h-13.8zM460.0 157.5h13.8v1.7h-13.8zM352.0 164.6h13.8v1.7h-13.8zM406.0 164.6h13.8v1.7h-13.8zM419.5 164.6h13.8v1.7h-13.8zM460.0 166.0h13.8v1.7h-13.8zM352.0 167.4h13.8v1.7h-13.8zM392.5 170.2h13.8v1.7h-13.8zM446.5 170.2h13.8v1.7h-13.8zM406.0 180.0h13.8v1.7h-13.8zM460.0 182.8h13.8v1.7h-13.8zM460.0 187.0h13.8v1.7h-13.8zM379.0 192.6h13.8v1.7h-13.8zM352.0 195.4h13.8v1.7h-13.8zM460.0 195.4h13.8v1.7h-13.8zM446.5 196.8h13.8v1.7h-13.8zM379.0 205.2h13.8v1.7h-13.8zM379.0 208.0h13.8v1.7h-13.8zM446.5 208.0h13.8v1.7h-13.8zM460.0 212.2h13.8v1.7h-13.8zM446.5 213.6h13.8v1.7h-13.8zM352.0 215.0h13.8v1.7h-13.8zM365.5 226.3h13.8v1.7h-13.8zM406.0 226.3h13.8v1.7h-13.8zM446.5 226.3h13.8v1.7h-13.8zM419.5 234.7h13.8v1.7h-13.8zM392.5 237.5h13.8v1.7h-13.8zM419.5 240.3h13.8v1.7h-13.8zM460.0 240.3h13.8v1.7h-13.8z"/>
<path fill="#6c0f15" d="M446.5 81.8h13.8v1.7h-13.8zM392.5 84.6h13.8v1.7h-13.8zM406.0 84.6h13.8v1.7h-13.8zM460.0 84.6h13.8v1.7h-13.8zM406.0 86.0h13.8v1.7h-13.8zM365.5 98.6h13.8v1.7h-13.8zM379.0 98.6h13.8v1.7h-13.8zM365.5 100.0h13.8v1.7h-13.8zM392.5 100.0h13.8v1.7h-13.8zM433.0 100.0h13.8v1.7h-13.8zM460.0 100.0h13.8v1.7h-13.8zM419.5 104.2h13.8v1.7h-13.8zM406.0 105.6h13.8v1.7h-13.8zM352.0 107.0h13.8v1.7h-13.8zM392.5 108.4h13.8v1.7h-13.8zM365.5 112.7h13.8v1.7h-13.8zM352.0 118.3h13.8v1.7h-13.8zM446.5 119.7h13.8v1.7h-13.8zM298.0 121.1h13.8v1.7h-13.8zM352.0 121.1h13.8v1.7h-13.8zM365.5 122.5h13.8v1.7h-13.8zM392.5 123.9h13.8v1.7h-13.8zM406.0 123.9h13.8v1.7h-13.8zM365.5 126.7h13.8v1.7h-13.8zM379.0 126.7h13.8v1.7h-13.8zM446.5 126.7h13.8v1.7h-13.8zM379.0 128.1h13.8v1.7h-13.8zM419.5 128.1h13.8v1.7h-13.8zM446.5 128.1h13.8v1.7h-13.8zM365.5 129.5h13.8v1.7h-13.8zM406.0 130.9h13.8v1.7h-13.8zM352.0 132.3h13.8v1.7h-13.8zM365.5 132.3h13.8v1.7h-13.8zM419.5 132.3h13.8v1.7h-13.8zM433.0 132.3h13.8v1.7h-13.8zM446.5 132.3h13.8v1.7h-13.8zM352.0 135.1h13.8v1.7h-13.8zM379.0 136.5h13.8v1.7h-13.8zM379.0 137.9h13.8v1.7h-13.8zM406.0 139.3h13.8v1.7h-13.8zM352.0 142.1h13.8v1.7h-13.8zM365.5 142.1h13.8v1.7h-13.8zM392.5 142.1h13.8v1.7h-13.8zM406.0 142.1h13.8v1.7h-13.8zM392.5 143.5h13.8v1.7h-13.8zM379.0 144.9h13.8v1.7h-13.8zM433.0 144.9h13.8v1.7h-13.8zM406.0 146.3h13.8v1.7h-13.8zM406.0 149.1h13.8v1.7h-13.8zM365.5 154.7h13.8v1.7h-13.8zM311.5 156.1h13.8v1.7h-13.8zM352.0 156.1h13.8v1.7h-13.8zM406.0 156.1h13.8v1.7h-13.8zM311.5 157.5h13.8v1.7h-13.8zM392.5 157.5h13.8v1.7h-13.8zM460.0 158.9h13.8v1.7h-13.8zM365.5 160.3h13.8v1.7h-13.8zM433.0 164.6h13.8v1.7h-13.8zM446.5 164.6h13.8v1.7h-13.8zM365.5 166.0h13.8v1.7h-13.8zM379.0 166.0h13.8v1.7h-13.8zM352.0 168.8h13.8v1.7h-13.8zM406.0 170.2h13.8v1.7h-13.8zM406.0 173.0h13.8v1.7h-13.8zM379.0 174.4h13.8v1.7h-13.8zM352.0 177.2h13.8v1.7h-13.8zM392.5 180.0h13.8v1.7h-13.8zM392.5 184.2h13.8v1.7h-13.8zM419.5 184.2h13.8v1.7h-13.8zM433.0 184.2h13.8v1.7h-13.8zM460.0 184.2h13.8v1.7h-13.8zM298.0 187.0h13.8v1.7h-13.8zM460.0 189.8h13.8v1.7h-13.8zM406.0 191.2h13.8v1.7h-13.8zM392.5 192.6h13.8v1.7h-13.8zM433.0 198.2h13.8v1.7h-13.8zM365.5 202.4h13.8v1.7h-13.8zM352.0 203.8h13.8v1.7h-13.8zM406.0 205.2h13.8v1.7h-13.8zM365.5 206.6h13.8v1.7h-13.8zM284.5 208.0h13.8v1.7h-13.8zM406.0 209.4h13.8v1.7h-13.8zM392.5 210.8h13.8v1.7h-13.8zM365.5 212.2h13.8v1.7h-13.8zM365.5 213.6h13.8v1.7h-13.8zM379.0 213.6h13.8v1.7h-13.8zM406.0 213.6h13.8v1.7h-13.8zM419.5 213.6h13.8v1.7h-13.8zM406.0 215.0h13.8v1.7h-13.8zM406.0 216.4h13.8v1.7h-13.8zM352.0 219.3h13.8v1.7h-13.8zM352.0 220.7h13.8v1.7h-13.8zM379.0 220.7h13.8v1.7h-13.8zM406.0 220.7h13.8v1.7h-13.8zM406.0 222.1h13.8v1.7h-13.8zM419.5 222.1h13.8v1.7h-13.8zM446.5 222.1h13.8v1.7h-13.8zM311.5 223.5h13.8v1.7h-13.8zM379.0 223.5h13.8v1.7h-13.8zM352.0 227.7h13.8v1.7h-13.8zM433.0 231.9h13.8v1.7h-13.8zM419.5 237.5h13.8v1.7h-13.8zM460.0 237.5h13.8v1.7h-13.8zM406.0 240.3h13.8v1.7h-13.8z"/>
<path fill="#a51620" d="M460.0 81.8h13.8v1.7h-13.8zM460.0 83.2h13.8v1.7h-13.8zM419.5 84.6h13.8v1.7h-13.8zM446.5 87.4h13.8v1.7h-13.8zM365.5 88.8h13.8v1.7h-13.8zM446.5 88.8h13.8v1.7h-13.8zM311.5 91.6h13.8v1.7h-13.8zM379.0 91.6h13.8v1.7h-13.8zM433.0 91.6h13.8v1.7h-13.8zM446.5 97.2h13.8v1.7h-13.8zM352.0 98.6h13.8v1.7h-13.8zM460.0 98.6h13.8v1.7h-13.8zM352.0 102.8h13.8v1.7h-13.8zM379.0 102.8h13.8v1.7h-13.8zM460.0 104.2h13.8v1.7h-13.8zM419.5 105.6h13.8v1.7h-13.8zM419.5 108.4h13.8v1.7h-13.8zM365.5 111.3h13.8v1.7h-13.8zM406.0 111.3h13.8v1.7h-13.8zM419.5 112.7h13.8v1.7h-13.8zM406.0 115.5h13.8v1.7h-13.8zM392.5 116.9h13.8v1.7h-13.8zM433.0 119.7h13.8v1.7h-13.8zM379.0 122.5h13.8v1.7h-13.8zM433.0 122.5h13.8v1.7h-13.8zM379.0 123.9h13.8v1.7h-13.8zM460.0 126.7h13.8v1.7h-13.8zM419.5 129.5h13.8v1.7h-13.8zM406.0 136.5h13.8v1.7h-13.8zM419.5 136.5h13.8v1.7h-13.8zM379.0 139.3h13.8v1.7h-13.8zM460.0 139.3h13.8v1.7h-13.8zM419.5 140.7h13.8v1.7h-13.8zM460.0 140.7h13.8v1.7h-13.8zM352.0 143.5h13.8v1.7h-13.8zM433.0 147.7h13.8v1.7h-13.8zM284.5 150.5h13.8v1.7h-13.8zM460.0 150.5h13.8v1.7h-13.8zM352.0 153.3h13.8v1.7h-13.8zM419.5 153.3h13.8v1.7h-13.8zM433.0 156.1h13.8v1.7h-13.8zM419.5 157.5h13.8v1.7h-13.8zM446.5 160.3h13.8v1.7h-13.8zM406.0 161.7h13.8v1.7h-13.8zM352.0 163.1h13.8v1.7h-13.8zM460.0 164.6h13.8v1.7h-13.8zM460.0 167.4h13.8v1.7h-13.8zM433.0 170.2h13.8v1.7h-13.8zM379.0 171.6h13.8v1.7h-13.8zM433.0 171.6h13.8v1.7h-13.8zM460.0 171.6h13.8v1.7h-13.8zM392.5 173.0h13.8v1.7h-13.8zM433.0 173.0h13.8v1.7h-13.8zM419.5 175.8h13.8v1.7h-13.8zM460.0 177.2h13.8v1.7h-13.8zM352.0 178.6h13.8v1.7h-13.8zM419.5 178.6h13.8v1.7h-13.8zM433.0 178.6h13.8v1.7h-13.8zM446.5 184.2h13.8v1.7h-13.8zM446.5 188.4h13.8v1.7h-13.8zM379.0 189.8h13.8v1.7h-13.8zM365.5 191.2h13.8v1.7h-13.8zM392.5 191.2h13.8v1.7h-13.8zM446.5 191.2h13.8v1.7h-13.8zM460.0 191.2h13.8v1.7h-13.8zM446.5 192.6h13.8v1.7h-13.8zM460.0 192.6h13.8v1.7h-13.8zM446.5 194.0h13.8v1.7h-13.8zM365.5 195.4h13.8v1.7h-13.8zM379.0 196.8h13.8v1.7h-13.8zM433.0 196.8h13.8v1.7h-13.8zM365.5 198.2h13.8v1.7h-13.8zM419.5 198.2h13.8v1.7h-13.8zM352.0 199.6h13.8v1.7h-13.8zM379.0 199.6h13.8v1.7h-13.8zM460.0 199.6h13.8v1.7h-13.8zM392.5 202.4h13.8v1.7h-13.8zM419.5 202.4h13.8v1.7h-13.8zM446.5 202.4h13.8v1.7h-13.8zM433.0 205.2h13.8v1.7h-13.8zM406.0 206.6h13.8v1.7h-13.8zM446.5 206.6h13.8v1.7h-13.8zM460.0 208.0h13.8v1.7h-13.8zM379.0 209.4h13.8v1.7h-13.8zM419.5 210.8h13.8v1.7h-13.8zM419.5 212.2h13.8v1.7h-13.8zM352.0 213.6h13.8v1.7h-13.8zM392.5 213.6h13.8v1.7h-13.8zM446.5 215.0h13.8v1.7h-13.8zM460.0 215.0h13.8v1.7h-13.8zM392.5 216.4h13.8v1.7h-13.8zM419.5 216.4h13.8v1.7h-13.8zM365.5 217.9h13.8v1.7h-13.8zM392.5 223.5h13.8v1.7h-13.8zM460.0 229.1h13.8v1.7h-13.8zM446.5 230.5h13.8v1.7h-13.8zM352.0 231.9h13.8v1.7h-13.8zM419.5 231.9h13.8v1.7h-13.8zM460.0 234.7h13.8v1.7h-13.8zM325.0 237.5h13.8v1.7h-13.8zM460.0 238.9h13.8v1.7h-13.8zM446.5 240.3h13.8v1.7h-13.8zM446.5 243.1h13.8v1.7h-13.8z"/>
<path fill="#32b447" d="M203.5 83.2h13.8v1.7h-13.8zM230.5 83.2h13.8v1.7h-13.8zM230.5 84.6h13.8v1.7h-13.8zM325.0 86.0h13.8v1.7h-13.8zM338.5 87.4h13.8v1.7h-13.8zM203.5 88.8h13.8v1.7h-13.8zM271.0 88.8h13.8v1.7h-13.8zM311.5 88.8h13.8v1.7h-13.8zM338.5 88.8h13.8v1.7h-13.8zM244.0 90.2h13.8v1.7h-13.8zM217.0 93.0h13.8v1.7h-13.8zM325.0 93.0h13.8v1.7h-13.8zM271.0 94.4h13.8v1.7h-13.8zM203.5 101.4h13.8v1.7h-13.8zM325.0 102.8h13.8v1.7h-13.8zM271.0 104.2h13.8v1.7h-13.8zM311.5 107.0h13.8v1.7h-13.8zM271.0 108.4h13.8v1.7h-13.8zM311.5 108.4h13.8v1.7h-13.8zM203.5 114.1h13.8v1.7h-13.8zM271.0 115.5h13.8v1.7h-13.8zM217.0 118.3h13.8v1.7h-13.8zM203.5 119.7h13.8v1.7h-13.8zM257.5 119.7h13.8v1.7h-13.8zM325.0 119.7h13.8v1.7h-13.8zM257.5 126.7h13.8v1.7h-13.8zM311.5 128.1h13.8v1.7h-13.8zM271.0 130.9h13.8v1.7h-13.8zM338.5 135.1h13.8v1.7h-13.8zM203.5 139.3h13.8v1.7h-13.8zM271.0 140.7h13.8v1.7h-13.8zM203.5 143.5h13.8v1.7h-13.8zM230.5 143.5h13.8v1.7h-13.8zM217.0 150.5h13.8v1.7h-13.8zM230.5 153.3h13.8v1.7h-13.8zM325.0 153.3h13.8v1.7h-13.8zM271.0 154.7h13.8v1.7h-13.8zM203.5 157.5h13.8v1.7h-13.8zM244.0 157.5h13.8v1.7h-13.8zM257.5 157.5h13.8v1.7h-13.8zM217.0 160.3h13.8v1.7h-13.8zM244.0 160.3h13.8v1.7h-13.8zM230.5 161.7h13.8v1.7h-13.8zM203.5 163.1h13.8v1.7h-13.8zM257.5 166.0h13.8v1.7h-13.8zM325.0 166.0h13.8v1.7h-13.8zM271.0 167.4h13.8v1.7h-13.8zM230.5 175.8h13.8v1.7h-13.8zM271.0 177.2h13.8v1.7h-13.8zM338.5 178.6h13.8v1.7h-13.8zM217.0 182.8h13.8v1.7h-13.8zM257.5 182.8h13.8v1.7h-13.8zM244.0 184.2h13.8v1.7h-13.8zM271.0 184.2h13.8v1.7h-13.8zM257.5 189.8h13.8v1.7h-13.8zM271.0 191.2h13.8v1.7h-13.8zM217.0 194.0h13.8v1.7h-13.8zM338.5 194.0h13.8v1.7h-13.8zM230.5 199.6h13.8v1.7h-13.8zM217.0 201.0h13.8v1.7h-13.8zM271.0 201.0h13.8v1.7h-13.8zM230.5 202.4h13.8v1.7h-13.8zM271.0 202.4h13.8v1.7h-13.8zM271.0 205.2h13.8v1.7h-13.8zM257.5 208.0h13.8v1.7h-13.8zM311.5 209.4h13.8v1.7h-13.8zM338.5 209.4h13.8v1.7h-13.8zM217.0 210.8h13.8v1.7h-13.8zM271.0 210.8h13.8v1.7h-13.8zM325.0 210.8h13.8v1.7h-13.8zM203.5 212.2h13.8v1.7h-13.8zM271.0 216.4h13.8v1.7h-13.8zM217.0 219.3h13.8v1.7h-13.8zM338.5 219.3h13.8v1.7h-13.8zM217.0 220.7h13.8v1.7h-13.8zM230.5 222.1h13.8v1.7h-13.8zM203.5 224.9h13.8v1.7h-13.8zM271.0 224.9h13.8v1.7h-13.8zM203.5 226.3h13.8v1.7h-13.8zM217.0 226.3h13.8v1.7h-13.8zM325.0 229.1h13.8v1.7h-13.8zM257.5 233.3h13.8v1.7h-13.8zM230.5 234.7h13.8v1.7h-13.8zM203.5 236.1h13.8v1.7h-13.8zM325.0 238.9h13.8v1.7h-13.8zM203.5 240.3h13.8v1.7h-13.8zM244.0 240.3h13.8v1.7h-13.8zM338.5 241.7h13.8v1.7h-13.8zM244.0 243.1h13.8v1.7h-13.8z"/>
<path fill="#56ce54" d="M244.0 83.2h13.8v1.7h-13.8zM325.0 87.4h13.8v1.7h-13.8zM203.5 91.6h13.8v1.7h-13.8zM203.5 98.6h13.8v1.7h-13.8zM338.5 100.0h13.8v1.7h-13.8zM325.0 101.4h13.8v1.7h-13.8zM203.5 105.6h13.8v1.7h-13.8zM230.5 108.4h13.8v1.7h-13.8zM217.0 112.7h13.8v1.7h-13.8zM257.5 115.5h13.8v1.7h-13.8zM325.0 116.9h13.8v1.7h-13.8zM338.5 122.5h13.8v1.7h-13.8zM311.5 130.9h13.8v1.7h-13.8zM338.5 132.3h13.8v1.7h-13.8zM217.0 136.5h13.8v1.7h-13.8zM271.0 136.5h13.8v1.7h-13.8zM230.5 144.9h13.8v1.7h-13.8zM271.0 146.3h13.8v1.7h-13.8zM203.5 151.9h13.8v1.7h-13.8zM338.5 154.7h13.8v1.7h-13.8zM217.0 163.1h13.8v1.7h-13.8zM257.5 164.6h13.8v1.7h-13.8zM257.5 170.2h13.8v1.7h-13.8zM325.0 170.2h13.8v1.7h-13.8zM338.5 181.4h13.8v1.7h-13.8zM244.0 182.8h13.8v1.7h-13.8zM230.5 184.2h13.8v1.7h-13.8zM244.0 201.0h13.8v1.7h-13.8zM203.5 209.4h13.8v1.7h-13.8zM244.0 209.4h13.8v1.7h-13.8zM271.0 209.4h13.8v1.7h-13.8zM257.5 213.6h13.8v1.7h-13.8zM271.0 217.9h13.8v1.7h-13.8zM338.5 217.9h13.8v1.7h-13.8zM271.0 220.7h13.8v1.7h-13.8zM325.0 220.7h13.8v1.7h-13.8zM271.0 226.3h13.8v1.7h-13.8zM203.5 230.5h13.8v1.7h-13.8zM244.0 230.5h13.8v1.7h-13.8zM244.0 238.9h13.8v1.7h-13.8zM257.5 238.9h13.8v1.7h-13.8zM217.0 240.3h13.8v1.7h-13.8zM230.5 241.7h13.8v1.7h-13.8zM271.0 241.7h13.8v1.7h-13.8z"/>
<path fill="#22963c" d="M271.0 83.2h13.8v1.7h-13.8zM325.0 84.6h13.8v1.7h-13.8zM257.5 86.0h13.8v1.7h-13.8zM311.5 86.0h13.8v1.7h-13.8zM257.5 87.4h13.8v1.7h-13.8zM230.5 88.8h13.8v1.7h-13.8zM217.0 90.2h13.8v1.7h-13.8zM230.5 93.0h13.8v1.7h-13.8zM325.0 94.4h13.8v1.7h-13.8zM217.0 95.8h13.8v1.7h-13.8zM325.0 98.6h13.8v1.7h-13.8zM311.5 100.0h13.8v1.7h-13.8zM325.0 100.0h13.8v1.7h-13.8zM217.0 101.4h13.8v1.7h-13.8zM244.0 102.8h13.8v1.7h-13.8zM203.5 104.2h13.8v1.7h-13.8zM244.0 104.2h13.8v1.7h-13.8zM244.0 105.6h13.8v1.7h-13.8zM257.5 105.6h13.8v1.7h-13.8zM244.0 108.4h13.8v1.7h-13.8zM311.5 109.9h13.8v1.7h-13.8zM203.5 111.3h13.8v1.7h-13.8zM217.0 111.3h13.8v1.7h-13.8zM230.5 112.7h13.8v1.7h-13.8zM257.5 112.7h13.8v1.7h-13.8zM325.0 112.7h13.8v1.7h-13.8zM338.5 114.1h13.8v1.7h-13.8zM230.5 115.5h13.8v1.7h-13.8zM257.5 116.9h13.8v1.7h-13.8zM217.0 119.7h13.8v1.7h-13.8zM338.5 119.7h13.8v1.7h-13.8zM217.0 121.1h13.8v1.7h-13.8zM325.0 121.1h13.8v1.7h-13.8zM257.5 122.5h13.8v1.7h-13.8zM311.5 123.9h13.8v1.7h-13.8zM203.5 125.3h13.8v1.7h-13.8zM271.0 125.3h13.8v1.7h-13.8zM311.5 125.3h13.8v1.7h-13.8zM230.5 126.7h13.8v1.7h-13.8zM203.5 128.1h13.8v1.7h-13.8zM257.5 128.1h13.8v1.7h-13.8zM244.0 132.3h13.8v1.7h-13.8zM271.0 132.3h13.8v1.7h-13.8zM311.5 132.3h13.8v1.7h-13.8zM217.0 135.1h13.8v1.7h-13.8zM203.5 136.5h13.8v1.7h-13.8zM230.5 136.5h13.8v1.7h-13.8zM271.0 139.3h13.8v1.7h-13.8zM230.5 142.1h13.8v1.7h-13.8zM271.0 142.1h13.8v1.7h-13.8zM325.0 142.1h13.8v1.7h-13.8zM244.0 143.5h13.8v1.7h-13.8zM257.5 143.5h13.8v1.7h-13.8zM271.0 143.5h13.8v1.7h-13.8zM257.5 144.9h13.8v1.7h-13.8zM311.5 144.9h13.8v1.7h-13.8zM217.0 147.7h13.8v1.7h-13.8zM244.0 147.7h13.8v1.7h-13.8zM271.0 147.7h13.8v1.7h-13.8zM203.5 149.1h13.8v1.7h-13.8zM217.0 149.1h13.8v1.7h-13.8zM257.5 149.1h13.8v1.7h-13.8zM311.5 149.1h13.8v1.7h-13.8zM203.5 150.5h13.8v1.7h-13.8zM217.0 151.9h13.8v1.7h-13.8zM217.0 157.5h13.8v1.7h-13.8zM230.5 157.5h13.8v1.7h-13.8zM271.0 157.5h13.8v1.7h-13.8zM311.5 158.9h13.8v1.7h-13.8zM257.5 160.3h13.8v1.7h-13.8zM271.0 163.1h13.8v1.7h-13.8zM325.0 163.1h13.8v1.7h-13.8zM244.0 167.4h13.8v1.7h-13.8zM338.5 167.4h13.8v1.7h-13.8zM203.5 170.2h13.8v1.7h-13.8zM217.0 170.2h13.8v1.7h-13.8zM217.0 171.6h13.8v1.7h-13.8zM230.5 173.0h13.8v1.7h-13.8zM217.0 174.4h13.8v1.7h-13.8zM244.0 175.8h13.8v1.7h-13.8zM325.0 175.8h13.8v1.7h-13.8zM244.0 177.2h13.8v1.7h-13.8zM338.5 177.2h13.8v1.7h-13.8zM203.5 178.6h13.8v1.7h-13.8zM230.5 178.6h13.8v1.7h-13.8zM244.0 178.6h13.8v1.7h-13.8zM257.5 178.6h13.8v1.7h-13.8zM311.5 178.6h13.8v1.7h-13.8zM257.5 185.6h13.8v1.7h-13.8zM203.5 189.8h13.8v1.7h-13.8zM217.0 191.2h13.8v1.7h-13.8zM244.0 191.2h13.8v1.7h-13.8zM244.0 192.6h13.8v1.7h-13.8zM271.0 192.6h13.8v1.7h-13.8zM230.5 195.4h13.8v1.7h-13.8zM325.0 195.4h13.8v1.7h-13.8zM203.5 196.8h13.8v1.7h-13.8zM217.0 196.8h13.8v1.7h-13.8zM244.0 196.8h13.8v1.7h-13.8zM257.5 196.8h13.8v1.7h-13.8zM338.5 196.8h13.8v1.7h-13.8zM338.5 198.2h13.8v1.7h-13.8zM298.0 203.8h13.8v1.7h-13.8zM244.0 206.6h13.8v1.7h-13.8zM217.0 209.4h13.8v1.7h-13.8zM217.0 213.6h13.8v1.7h-13.8zM230.5 215.0h13.8v1.7h-13.8zM311.5 215.0h13.8v1.7h-13.8zM325.0 215.0h13.8v1.7h-13.8zM298.0 216.4h13.8v1.7h-13.8zM311.5 216.4h13.8v1.7h-13.8zM244.0 217.9h13.8v1.7h-13.8zM203.5 219.3h13.8v1.7h-13.8zM244.0 220.7h13.8v1.7h-13.8zM257.5 220.7h13.8v1.7h-13.8zM203.5 222.1h13.8v1.7h-13.8zM203.5 223.5h13.8v1.7h-13.8zM338.5 224.9h13.8v1.7h-13.8zM257.5 226.3h13.8v1.7h-13.8zM203.5 227.7h13.8v1.7h-13.8zM244.0 233.3h13.8v1.7h-13.8zM257.5 234.7h13.8v1.7h-13.8zM271.0 234.7h13.8v1.7h-13.8zM311.5 234.7h13.8v1.7h-13.8zM217.0 237.5h13.8v1.7h-13.8zM217.0 241.7h13.8v1.7h-13.8zM257.5 241.7h13.8v1.7h-13.8zM230.5 243.1h13.8v1.7h-13.8zM298.0 243.1h13.8v1.7h-13.8zM325.0 243.1h13.8v1.7h-13.8z"/>
<path fill="#0a0c0a" d="M284.5 83.2h13.8v1.7h-13.8zM311.5 83.2h13.8v1.7h-13.8zM325.0 83.2h13.8v1.7h-13.8zM365.5 83.2h13.8v1.7h-13.8zM284.5 91.6h13.8v1.7h-13.8zM311.5 93.0h13.8v1.7h-13.8zM338.5 93.0h13.8v1.7h-13.8zM284.5 95.8h13.8v1.7h-13.8zM298.0 98.6h13.8v1.7h-13.8zM311.5 98.6h13.8v1.7h-13.8zM298.0 100.0h13.8v1.7h-13.8zM257.5 102.8h13.8v1.7h-13.8zM365.5 102.8h13.8v1.7h-13.8zM325.0 104.2h13.8v1.7h-13.8zM379.0 104.2h13.8v1.7h-13.8zM446.5 105.6h13.8v1.7h-13.8zM244.0 109.9h13.8v1.7h-13.8zM433.0 111.3h13.8v1.7h-13.8zM284.5 114.1h13.8v1.7h-13.8zM419.5 114.1h13.8v1.7h-13.8zM298.0 115.5h13.8v1.7h-13.8zM419.5 118.3h13.8v1.7h-13.8zM298.0 119.7h13.8v1.7h-13.8zM311.5 121.1h13.8v1.7h-13.8zM271.0 123.9h13.8v1.7h-13.8zM298.0 123.9h13.8v1.7h-13.8zM365.5 125.3h13.8v1.7h-13.8zM379.0 125.3h13.8v1.7h-13.8zM284.5 130.9h13.8v1.7h-13.8zM230.5 133.7h13.8v1.7h-13.8zM338.5 133.7h13.8v1.7h-13.8zM284.5 135.1h13.8v1.7h-13.8zM298.0 135.1h13.8v1.7h-13.8zM392.5 135.1h13.8v1.7h-13.8zM298.0 137.9h13.8v1.7h-13.8zM217.0 139.3h13.8v1.7h-13.8zM365.5 139.3h13.8v1.7h-13.8zM433.0 139.3h13.8v1.7h-13.8zM203.5 140.7h13.8v1.7h-13.8zM311.5 140.7h13.8v1.7h-13.8zM379.0 140.7h13.8v1.7h-13.8zM284.5 142.1h13.8v1.7h-13.8zM271.0 149.1h13.8v1.7h-13.8zM338.5 149.1h13.8v1.7h-13.8zM271.0 151.9h13.8v1.7h-13.8zM311.5 151.9h13.8v1.7h-13.8zM392.5 153.3h13.8v1.7h-13.8zM271.0 156.1h13.8v1.7h-13.8zM217.0 158.9h13.8v1.7h-13.8zM230.5 158.9h13.8v1.7h-13.8zM379.0 160.3h13.8v1.7h-13.8zM298.0 161.7h13.8v1.7h-13.8zM379.0 161.7h13.8v1.7h-13.8zM257.5 163.1h13.8v1.7h-13.8zM203.5 166.0h13.8v1.7h-13.8zM284.5 167.4h13.8v1.7h-13.8zM298.0 167.4h13.8v1.7h-13.8zM325.0 167.4h13.8v1.7h-13.8zM433.0 167.4h13.8v1.7h-13.8zM230.5 168.8h13.8v1.7h-13.8zM230.5 171.6h13.8v1.7h-13.8zM325.0 173.0h13.8v1.7h-13.8zM365.5 173.0h13.8v1.7h-13.8zM379.0 173.0h13.8v1.7h-13.8zM298.0 174.4h13.8v1.7h-13.8zM298.0 177.2h13.8v1.7h-13.8zM379.0 177.2h13.8v1.7h-13.8zM379.0 178.6h13.8v1.7h-13.8zM406.0 178.6h13.8v1.7h-13.8zM203.5 180.0h13.8v1.7h-13.8zM257.5 180.0h13.8v1.7h-13.8zM284.5 182.8h13.8v1.7h-13.8zM298.0 182.8h13.8v1.7h-13.8zM325.0 182.8h13.8v1.7h-13.8zM217.0 184.2h13.8v1.7h-13.8zM298.0 184.2h13.8v1.7h-13.8zM325.0 184.2h13.8v1.7h-13.8zM365.5 184.2h13.8v1.7h-13.8zM284.5 185.6h13.8v1.7h-13.8zM298.0 185.6h13.8v1.7h-13.8zM311.5 185.6h13.8v1.7h-13.8zM230.5 187.0h13.8v1.7h-13.8zM298.0 188.4h13.8v1.7h-13.8zM433.0 194.0h13.8v1.7h-13.8zM298.0 195.4h13.8v1.7h-13.8zM271.0 196.8h13.8v1.7h-13.8zM298.0 196.8h13.8v1.7h-13.8zM203.5 198.2h13.8v1.7h-13.8zM365.5 201.0h13.8v1.7h-13.8zM284.5 202.4h13.8v1.7h-13.8zM311.5 203.8h13.8v1.7h-13.8zM217.0 208.0h13.8v1.7h-13.8zM433.0 208.0h13.8v1.7h-13.8zM284.5 209.4h13.8v1.7h-13.8zM298.0 210.8h13.8v1.7h-13.8zM406.0 210.8h13.8v1.7h-13.8zM284.5 213.6h13.8v1.7h-13.8zM325.0 213.6h13.8v1.7h-13.8zM271.0 215.0h13.8v1.7h-13.8zM230.5 216.4h13.8v1.7h-13.8zM379.0 216.4h13.8v1.7h-13.8zM433.0 217.9h13.8v1.7h-13.8zM284.5 220.7h13.8v1.7h-13.8zM284.5 222.1h13.8v1.7h-13.8zM298.0 222.1h13.8v1.7h-13.8zM311.5 222.1h13.8v1.7h-13.8zM284.5 224.9h13.8v1.7h-13.8zM298.0 224.9h13.8v1.7h-13.8zM230.5 226.3h13.8v1.7h-13.8zM311.5 226.3h13.8v1.7h-13.8zM338.5 226.3h13.8v1.7h-13.8zM338.5 227.7h13.8v1.7h-13.8zM406.0 227.7h13.8v1.7h-13.8zM284.5 229.1h13.8v1.7h-13.8zM298.0 229.1h13.8v1.7h-13.8zM217.0 231.9h13.8v1.7h-13.8zM298.0 231.9h13.8v1.7h-13.8zM406.0 234.7h13.8v1.7h-13.8zM284.5 236.1h13.8v1.7h-13.8zM284.5 237.5h13.8v1.7h-13.8zM298.0 238.9h13.8v1.7h-13.8zM365.5 238.9h13.8v1.7h-13.8zM433.0 238.9h13.8v1.7h-13.8zM433.0 240.3h13.8v1.7h-13.8zM406.0 241.7h13.8v1.7h-13.8zM365.5 243.1h13.8v1.7h-13.8z"/>
<path fill="#d72028" d="M352.0 83.2h13.8v1.7h-13.8zM365.5 86.0h13.8v1.7h-13.8zM392.5 87.4h13.8v1.7h-13.8zM419.5 87.4h13.8v1.7h-13.8zM460.0 91.6h13.8v1.7h-13.8zM392.5 93.0h13.8v1.7h-13.8zM460.0 94.4h13.8v1.7h-13.8zM392.5 95.8h13.8v1.7h-13.8zM446.5 95.8h13.8v1.7h-13.8zM392.5 97.2h13.8v1.7h-13.8zM460.0 97.2h13.8v1.7h-13.8zM419.5 98.6h13.8v1.7h-13.8zM446.5 100.0h13.8v1.7h-13.8zM446.5 102.8h13.8v1.7h-13.8zM365.5 104.2h13.8v1.7h-13.8zM460.0 107.0h13.8v1.7h-13.8zM352.0 108.4h13.8v1.7h-13.8zM446.5 109.9h13.8v1.7h-13.8zM406.0 112.7h13.8v1.7h-13.8zM379.0 118.3h13.8v1.7h-13.8zM460.0 119.7h13.8v1.7h-13.8zM460.0 121.1h13.8v1.7h-13.8zM392.5 122.5h13.8v1.7h-13.8zM392.5 132.3h13.8v1.7h-13.8zM352.0 133.7h13.8v1.7h-13.8zM406.0 133.7h13.8v1.7h-13.8zM365.5 135.1h13.8v1.7h-13.8zM419.5 137.9h13.8v1.7h-13.8zM406.0 143.5h13.8v1.7h-13.8zM419.5 144.9h13.8v1.7h-13.8zM460.0 146.3h13.8v1.7h-13.8zM365.5 149.1h13.8v1.7h-13.8zM446.5 149.1h13.8v1.7h-13.8zM433.0 153.3h13.8v1.7h-13.8zM433.0 157.5h13.8v1.7h-13.8zM352.0 158.9h13.8v1.7h-13.8zM352.0 161.7h13.8v1.7h-13.8zM365.5 161.7h13.8v1.7h-13.8zM460.0 163.1h13.8v1.7h-13.8zM433.0 166.0h13.8v1.7h-13.8zM446.5 168.8h13.8v1.7h-13.8zM365.5 170.2h13.8v1.7h-13.8zM419.5 173.0h13.8v1.7h-13.8zM446.5 174.4h13.8v1.7h-13.8zM433.0 182.8h13.8v1.7h-13.8zM406.0 185.6h13.8v1.7h-13.8zM419.5 185.6h13.8v1.7h-13.8zM419.5 191.2h13.8v1.7h-13.8zM433.0 195.4h13.8v1.7h-13.8zM446.5 195.4h13.8v1.7h-13.8zM392.5 196.8h13.8v1.7h-13.8zM392.5 198.2h13.8v1.7h-13.8zM460.0 198.2h13.8v1.7h-13.8zM379.0 203.8h13.8v1.7h-13.8zM352.0 206.6h13.8v1.7h-13.8zM419.5 206.6h13.8v1.7h-13.8zM446.5 216.4h13.8v1.7h-13.8zM352.0 217.9h13.8v1.7h-13.8zM446.5 219.3h13.8v1.7h-13.8zM460.0 222.1h13.8v1.7h-13.8zM433.0 229.1h13.8v1.7h-13.8zM406.0 230.5h13.8v1.7h-13.8zM419.5 230.5h13.8v1.7h-13.8zM406.0 231.9h13.8v1.7h-13.8zM392.5 234.7h13.8v1.7h-13.8zM446.5 236.1h13.8v1.7h-13.8zM392.5 240.3h13.8v1.7h-13.8zM460.0 243.1h13.8v1.7h-13.8z"/>
<path fill="#b61923" d="M379.0 83.2h13.8v1.7h-13.8zM433.0 83.2h13.8v1.7h-13.8zM406.0 87.4h13.8v1.7h-13.8zM460.0 87.4h13.8v1.7h-13.8zM419.5 90.2h13.8v1.7h-13.8zM460.0 90.2h13.8v1.7h-13.8zM352.0 91.6h13.8v1.7h-13.8zM406.0 93.0h13.8v1.7h-13.8zM460.0 93.0h13.8v1.7h-13.8zM419.5 97.2h13.8v1.7h-13.8zM433.0 97.2h13.8v1.7h-13.8zM419.5 100.0h13.8v1.7h-13.8zM433.0 102.8h13.8v1.7h-13.8zM460.0 102.8h13.8v1.7h-13.8zM392.5 104.2h13.8v1.7h-13.8zM365.5 105.6h13.8v1.7h-13.8zM433.0 109.9h13.8v1.7h-13.8zM392.5 114.1h13.8v1.7h-13.8zM446.5 114.1h13.8v1.7h-13.8zM365.5 115.5h13.8v1.7h-13.8zM379.0 115.5h13.8v1.7h-13.8zM460.0 115.5h13.8v1.7h-13.8zM419.5 116.9h13.8v1.7h-13.8zM365.5 119.7h13.8v1.7h-13.8zM433.0 121.1h13.8v1.7h-13.8zM446.5 121.1h13.8v1.7h-13.8zM352.0 122.5h13.8v1.7h-13.8zM460.0 122.5h13.8v1.7h-13.8zM365.5 123.9h13.8v1.7h-13.8zM433.0 123.9h13.8v1.7h-13.8zM446.5 125.3h13.8v1.7h-13.8zM392.5 129.5h13.8v1.7h-13.8zM352.0 130.9h13.8v1.7h-13.8zM406.0 132.3h13.8v1.7h-13.8zM433.0 135.1h13.8v1.7h-13.8zM392.5 136.5h13.8v1.7h-13.8zM352.0 137.9h13.8v1.7h-13.8zM365.5 137.9h13.8v1.7h-13.8zM352.0 139.3h13.8v1.7h-13.8zM392.5 139.3h13.8v1.7h-13.8zM352.0 140.7h13.8v1.7h-13.8zM433.0 140.7h13.8v1.7h-13.8zM379.0 143.5h13.8v1.7h-13.8zM392.5 144.9h13.8v1.7h-13.8zM433.0 149.1h13.8v1.7h-13.8zM379.0 150.5h13.8v1.7h-13.8zM352.0 151.9h13.8v1.7h-13.8zM460.0 151.9h13.8v1.7h-13.8zM446.5 156.1h13.8v1.7h-13.8zM392.5 158.9h13.8v1.7h-13.8zM419.5 158.9h13.8v1.7h-13.8zM433.0 168.8h13.8v1.7h-13.8zM460.0 170.2h13.8v1.7h-13.8zM446.5 173.0h13.8v1.7h-13.8zM460.0 173.0h13.8v1.7h-13.8zM392.5 174.4h13.8v1.7h-13.8zM460.0 174.4h13.8v1.7h-13.8zM365.5 175.8h13.8v1.7h-13.8zM433.0 177.2h13.8v1.7h-13.8zM446.5 178.6h13.8v1.7h-13.8zM446.5 180.0h13.8v1.7h-13.8zM460.0 180.0h13.8v1.7h-13.8zM392.5 181.4h13.8v1.7h-13.8zM352.0 182.8h13.8v1.7h-13.8zM379.0 182.8h13.8v1.7h-13.8zM352.0 184.2h13.8v1.7h-13.8zM379.0 184.2h13.8v1.7h-13.8zM406.0 184.2h13.8v1.7h-13.8zM352.0 187.0h13.8v1.7h-13.8zM392.5 187.0h13.8v1.7h-13.8zM446.5 189.8h13.8v1.7h-13.8zM352.0 191.2h13.8v1.7h-13.8zM392.5 194.0h13.8v1.7h-13.8zM460.0 196.8h13.8v1.7h-13.8zM379.0 201.0h13.8v1.7h-13.8zM446.5 203.8h13.8v1.7h-13.8zM460.0 203.8h13.8v1.7h-13.8zM419.5 205.2h13.8v1.7h-13.8zM446.5 205.2h13.8v1.7h-13.8zM406.0 212.2h13.8v1.7h-13.8zM433.0 212.2h13.8v1.7h-13.8zM460.0 213.6h13.8v1.7h-13.8zM379.0 217.9h13.8v1.7h-13.8zM460.0 220.7h13.8v1.7h-13.8zM433.0 222.1h13.8v1.7h-13.8zM379.0 224.9h13.8v1.7h-13.8zM406.0 224.9h13.8v1.7h-13.8zM352.0 226.3h13.8v1.7h-13.8zM460.0 226.3h13.8v1.7h-13.8zM446.5 227.7h13.8v1.7h-13.8zM446.5 229.1h13.8v1.7h-13.8zM379.0 230.5h13.8v1.7h-13.8zM460.0 231.9h13.8v1.7h-13.8zM446.5 233.3h13.8v1.7h-13.8zM392.5 236.1h13.8v1.7h-13.8zM379.0 238.9h13.8v1.7h-13.8zM446.5 238.9h13.8v1.7h-13.8zM433.0 241.7h13.8v1.7h-13.8zM446.5 241.7h13.8v1.7h-13.8zM352.0 243.1h13.8v1.7h-13.8zM392.5 243.1h13.8v1.7h-13.8z"/>
<path fill="#eb2c2f" d="M446.5 83.2h13.8v1.7h-13.8zM433.0 86.0h13.8v1.7h-13.8zM460.0 86.0h13.8v1.7h-13.8zM352.0 90.2h13.8v1.7h-13.8zM433.0 93.0h13.8v1.7h-13.8zM460.0 95.8h13.8v1.7h-13.8zM406.0 97.2h13.8v1.7h-13.8zM352.0 104.2h13.8v1.7h-13.8zM392.5 107.0h13.8v1.7h-13.8zM379.0 108.4h13.8v1.7h-13.8zM352.0 119.7h13.8v1.7h-13.8zM460.0 130.9h13.8v1.7h-13.8zM460.0 133.7h13.8v1.7h-13.8zM446.5 135.1h13.8v1.7h-13.8zM446.5 142.1h13.8v1.7h-13.8zM460.0 142.1h13.8v1.7h-13.8zM460.0 143.5h13.8v1.7h-13.8zM446.5 144.9h13.8v1.7h-13.8zM433.0 150.5h13.8v1.7h-13.8zM446.5 150.5h13.8v1.7h-13.8zM419.5 154.7h13.8v1.7h-13.8zM446.5 154.7h13.8v1.7h-13.8zM406.0 158.9h13.8v1.7h-13.8zM352.0 160.3h13.8v1.7h-13.8zM419.5 163.1h13.8v1.7h-13.8zM460.0 168.8h13.8v1.7h-13.8zM352.0 173.0h13.8v1.7h-13.8zM406.0 174.4h13.8v1.7h-13.8zM433.0 174.4h13.8v1.7h-13.8zM392.5 175.8h13.8v1.7h-13.8zM460.0 175.8h13.8v1.7h-13.8zM433.0 180.0h13.8v1.7h-13.8zM352.0 185.6h13.8v1.7h-13.8zM460.0 185.6h13.8v1.7h-13.8zM419.5 192.6h13.8v1.7h-13.8zM365.5 194.0h13.8v1.7h-13.8zM446.5 198.2h13.8v1.7h-13.8zM460.0 205.2h13.8v1.7h-13.8zM419.5 208.0h13.8v1.7h-13.8zM433.0 213.6h13.8v1.7h-13.8zM460.0 227.7h13.8v1.7h-13.8zM419.5 229.1h13.8v1.7h-13.8zM392.5 230.5h13.8v1.7h-13.8zM352.0 234.7h13.8v1.7h-13.8zM446.5 237.5h13.8v1.7h-13.8zM352.0 240.3h13.8v1.7h-13.8zM379.0 243.1h13.8v1.7h-13.8z"/>
<path fill="#210c0c" d="M217.0 84.6h13.8v1.7h-13.8zM257.5 84.6h13.8v1.7h-13.8zM298.0 84.6h13.8v1.7h-13.8zM433.0 84.6h13.8v1.7h-13.8zM271.0 86.0h13.8v1.7h-13.8zM392.5 86.0h13.8v1.7h-13.8zM298.0 88.8h13.8v1.7h-13.8zM406.0 88.8h13.8v1.7h-13.8zM392.5 91.6h13.8v1.7h-13.8zM446.5 93.0h13.8v1.7h-13.8zM298.0 94.4h13.8v1.7h-13.8zM365.5 94.4h13.8v1.7h-13.8zM271.0 97.2h13.8v1.7h-13.8zM338.5 97.2h13.8v1.7h-13.8zM352.0 97.2h13.8v1.7h-13.8zM284.5 98.6h13.8v1.7h-13.8zM230.5 100.0h13.8v1.7h-13.8zM244.0 101.4h13.8v1.7h-13.8zM392.5 101.4h13.8v1.7h-13.8zM298.0 102.8h13.8v1.7h-13.8zM311.5 102.8h13.8v1.7h-13.8zM392.5 102.8h13.8v1.7h-13.8zM419.5 107.0h13.8v1.7h-13.8zM433.0 108.4h13.8v1.7h-13.8zM446.5 112.7h13.8v1.7h-13.8zM298.0 116.9h13.8v1.7h-13.8zM460.0 118.3h13.8v1.7h-13.8zM338.5 121.1h13.8v1.7h-13.8zM311.5 122.5h13.8v1.7h-13.8zM446.5 122.5h13.8v1.7h-13.8zM392.5 125.3h13.8v1.7h-13.8zM352.0 126.7h13.8v1.7h-13.8zM325.0 129.5h13.8v1.7h-13.8zM419.5 130.9h13.8v1.7h-13.8zM298.0 132.3h13.8v1.7h-13.8zM325.0 132.3h13.8v1.7h-13.8zM419.5 135.1h13.8v1.7h-13.8zM257.5 136.5h13.8v1.7h-13.8zM365.5 136.5h13.8v1.7h-13.8zM217.0 137.9h13.8v1.7h-13.8zM298.0 139.3h13.8v1.7h-13.8zM284.5 140.7h13.8v1.7h-13.8zM298.0 142.1h13.8v1.7h-13.8zM203.5 146.3h13.8v1.7h-13.8zM365.5 146.3h13.8v1.7h-13.8zM298.0 147.7h13.8v1.7h-13.8zM352.0 147.7h13.8v1.7h-13.8zM419.5 147.7h13.8v1.7h-13.8zM230.5 150.5h13.8v1.7h-13.8zM298.0 151.9h13.8v1.7h-13.8zM365.5 151.9h13.8v1.7h-13.8zM379.0 153.3h13.8v1.7h-13.8zM244.0 154.7h13.8v1.7h-13.8zM352.0 154.7h13.8v1.7h-13.8zM392.5 154.7h13.8v1.7h-13.8zM257.5 156.1h13.8v1.7h-13.8zM284.5 156.1h13.8v1.7h-13.8zM298.0 158.9h13.8v1.7h-13.8zM298.0 160.3h13.8v1.7h-13.8zM284.5 163.1h13.8v1.7h-13.8zM311.5 163.1h13.8v1.7h-13.8zM392.5 164.6h13.8v1.7h-13.8zM352.0 166.0h13.8v1.7h-13.8zM284.5 168.8h13.8v1.7h-13.8zM392.5 168.8h13.8v1.7h-13.8zM284.5 171.6h13.8v1.7h-13.8zM284.5 175.8h13.8v1.7h-13.8zM298.0 180.0h13.8v1.7h-13.8zM406.0 181.4h13.8v1.7h-13.8zM460.0 181.4h13.8v1.7h-13.8zM284.5 184.2h13.8v1.7h-13.8zM284.5 187.0h13.8v1.7h-13.8zM406.0 187.0h13.8v1.7h-13.8zM298.0 191.2h13.8v1.7h-13.8zM352.0 192.6h13.8v1.7h-13.8zM311.5 194.0h13.8v1.7h-13.8zM284.5 195.4h13.8v1.7h-13.8zM392.5 195.4h13.8v1.7h-13.8zM406.0 195.4h13.8v1.7h-13.8zM325.0 198.2h13.8v1.7h-13.8zM406.0 198.2h13.8v1.7h-13.8zM284.5 199.6h13.8v1.7h-13.8zM338.5 199.6h13.8v1.7h-13.8zM257.5 201.0h13.8v1.7h-13.8zM433.0 201.0h13.8v1.7h-13.8zM433.0 202.4h13.8v1.7h-13.8zM298.0 205.2h13.8v1.7h-13.8zM203.5 206.6h13.8v1.7h-13.8zM406.0 208.0h13.8v1.7h-13.8zM284.5 210.8h13.8v1.7h-13.8zM284.5 212.2h13.8v1.7h-13.8zM311.5 212.2h13.8v1.7h-13.8zM419.5 217.9h13.8v1.7h-13.8zM298.0 219.3h13.8v1.7h-13.8zM365.5 220.7h13.8v1.7h-13.8zM392.5 222.1h13.8v1.7h-13.8zM365.5 223.5h13.8v1.7h-13.8zM311.5 224.9h13.8v1.7h-13.8zM244.0 226.3h13.8v1.7h-13.8zM298.0 226.3h13.8v1.7h-13.8zM325.0 226.3h13.8v1.7h-13.8zM406.0 229.1h13.8v1.7h-13.8zM284.5 233.3h13.8v1.7h-13.8zM406.0 233.3h13.8v1.7h-13.8zM284.5 234.7h13.8v1.7h-13.8zM365.5 234.7h13.8v1.7h-13.8zM446.5 234.7h13.8v1.7h-13.8zM298.0 236.1h13.8v1.7h-13.8zM365.5 236.1h13.8v1.7h-13.8zM365.5 237.5h13.8v1.7h-13.8zM284.5 238.9h13.8v1.7h-13.8zM325.0 240.3h13.8v1.7h-13.8zM365.5 240.3h13.8v1.7h-13.8z"/>
<path fill="#48c950" d="M244.0 84.6h13.8v1.7h-13.8zM244.0 87.4h13.8v1.7h-13.8zM257.5 88.8h13.8v1.7h-13.8zM217.0 91.6h13.8v1.7h-13.8zM203.5 93.0h13.8v1.7h-13.8zM244.0 98.6h13.8v1.7h-13.8zM338.5 102.8h13.8v1.7h-13.8zM257.5 108.4h13.8v1.7h-13.8zM311.5 111.3h13.8v1.7h-13.8zM271.0 112.7h13.8v1.7h-13.8zM230.5 114.1h13.8v1.7h-13.8zM244.0 115.5h13.8v1.7h-13.8zM244.0 121.1h13.8v1.7h-13.8zM203.5 122.5h13.8v1.7h-13.8zM230.5 123.9h13.8v1.7h-13.8zM217.0 126.7h13.8v1.7h-13.8zM244.0 128.1h13.8v1.7h-13.8zM271.0 128.1h13.8v1.7h-13.8zM244.0 130.9h13.8v1.7h-13.8zM217.0 132.3h13.8v1.7h-13.8zM244.0 133.7h13.8v1.7h-13.8zM203.5 137.9h13.8v1.7h-13.8zM244.0 140.7h13.8v1.7h-13.8zM203.5 147.7h13.8v1.7h-13.8zM338.5 147.7h13.8v1.7h-13.8zM244.0 149.1h13.8v1.7h-13.8zM230.5 151.9h13.8v1.7h-13.8zM203.5 164.6h13.8v1.7h-13.8zM244.0 164.6h13.8v1.7h-13.8zM325.0 164.6h13.8v1.7h-13.8zM244.0 180.0h13.8v1.7h-13.8zM217.0 181.4h13.8v1.7h-13.8zM257.5 181.4h13.8v1.7h-13.8zM338.5 187.0h13.8v1.7h-13.8zM325.0 188.4h13.8v1.7h-13.8zM217.0 189.8h13.8v1.7h-13.8zM203.5 199.6h13.8v1.7h-13.8zM230.5 203.8h13.8v1.7h-13.8zM338.5 203.8h13.8v1.7h-13.8zM230.5 208.0h13.8v1.7h-13.8zM338.5 208.0h13.8v1.7h-13.8zM325.0 216.4h13.8v1.7h-13.8zM271.0 219.3h13.8v1.7h-13.8zM217.0 222.1h13.8v1.7h-13.8zM271.0 222.1h13.8v1.7h-13.8zM217.0 224.9h13.8v1.7h-13.8zM217.0 229.1h13.8v1.7h-13.8zM230.5 237.5h13.8v1.7h-13.8zM244.0 237.5h13.8v1.7h-13.8zM203.5 238.9h13.8v1.7h-13.8zM338.5 238.9h13.8v1.7h-13.8z"/>
<path fill="#c61d25" d="M365.5 84.6h13.8v1.7h-13.8zM446.5 84.6h13.8v1.7h-13.8zM419.5 86.0h13.8v1.7h-13.8zM365.5 90.2h13.8v1.7h-13.8zM392.5 94.4h13.8v1.7h-13.8zM419.5 94.4h13.8v1.7h-13.8zM446.5 94.4h13.8v1.7h-13.8zM379.0 95.8h13.8v1.7h-13.8zM446.5 98.6h13.8v1.7h-13.8zM379.0 100.0h13.8v1.7h-13.8zM433.0 101.4h13.8v1.7h-13.8zM446.5 101.4h13.8v1.7h-13.8zM446.5 104.2h13.8v1.7h-13.8zM460.0 108.4h13.8v1.7h-13.8zM392.5 111.3h13.8v1.7h-13.8zM352.0 112.7h13.8v1.7h-13.8zM433.0 112.7h13.8v1.7h-13.8zM460.0 112.7h13.8v1.7h-13.8zM433.0 114.1h13.8v1.7h-13.8zM392.5 118.3h13.8v1.7h-13.8zM446.5 118.3h13.8v1.7h-13.8zM419.5 122.5h13.8v1.7h-13.8zM419.5 126.7h13.8v1.7h-13.8zM365.5 128.1h13.8v1.7h-13.8zM433.0 129.5h13.8v1.7h-13.8zM379.0 132.3h13.8v1.7h-13.8zM392.5 133.7h13.8v1.7h-13.8zM352.0 136.5h13.8v1.7h-13.8zM392.5 137.9h13.8v1.7h-13.8zM446.5 137.9h13.8v1.7h-13.8zM392.5 140.7h13.8v1.7h-13.8zM460.0 144.9h13.8v1.7h-13.8zM419.5 146.3h13.8v1.7h-13.8zM446.5 147.7h13.8v1.7h-13.8zM392.5 149.1h13.8v1.7h-13.8zM365.5 153.3h13.8v1.7h-13.8zM379.0 156.1h13.8v1.7h-13.8zM379.0 158.9h13.8v1.7h-13.8zM433.0 158.9h13.8v1.7h-13.8zM446.5 158.9h13.8v1.7h-13.8zM406.0 160.3h13.8v1.7h-13.8zM419.5 160.3h13.8v1.7h-13.8zM460.0 160.3h13.8v1.7h-13.8zM392.5 161.7h13.8v1.7h-13.8zM460.0 161.7h13.8v1.7h-13.8zM365.5 163.1h13.8v1.7h-13.8zM392.5 166.0h13.8v1.7h-13.8zM419.5 168.8h13.8v1.7h-13.8zM406.0 171.6h13.8v1.7h-13.8zM419.5 174.4h13.8v1.7h-13.8zM352.0 175.8h13.8v1.7h-13.8zM433.0 175.8h13.8v1.7h-13.8zM392.5 178.6h13.8v1.7h-13.8zM460.0 178.6h13.8v1.7h-13.8zM446.5 182.8h13.8v1.7h-13.8zM365.5 185.6h13.8v1.7h-13.8zM446.5 187.0h13.8v1.7h-13.8zM365.5 189.8h13.8v1.7h-13.8zM433.0 192.6h13.8v1.7h-13.8zM419.5 194.0h13.8v1.7h-13.8zM419.5 195.4h13.8v1.7h-13.8zM352.0 198.2h13.8v1.7h-13.8zM379.0 198.2h13.8v1.7h-13.8zM406.0 201.0h13.8v1.7h-13.8zM460.0 201.0h13.8v1.7h-13.8zM392.5 206.6h13.8v1.7h-13.8zM460.0 206.6h13.8v1.7h-13.8zM352.0 208.0h13.8v1.7h-13.8zM446.5 209.4h13.8v1.7h-13.8zM460.0 210.8h13.8v1.7h-13.8zM352.0 212.2h13.8v1.7h-13.8zM379.0 215.0h13.8v1.7h-13.8zM433.0 215.0h13.8v1.7h-13.8zM460.0 216.4h13.8v1.7h-13.8zM365.5 222.1h13.8v1.7h-13.8zM460.0 224.9h13.8v1.7h-13.8zM392.5 226.3h13.8v1.7h-13.8zM392.5 227.7h13.8v1.7h-13.8zM352.0 229.1h13.8v1.7h-13.8zM392.5 229.1h13.8v1.7h-13.8zM365.5 231.9h13.8v1.7h-13.8zM379.0 233.3h13.8v1.7h-13.8zM460.0 233.3h13.8v1.7h-13.8zM433.0 234.7h13.8v1.7h-13.8zM352.0 236.1h13.8v1.7h-13.8zM379.0 236.1h13.8v1.7h-13.8zM460.0 236.1h13.8v1.7h-13.8zM352.0 238.9h13.8v1.7h-13.8zM392.5 241.7h13.8v1.7h-13.8zM419.5 241.7h13.8v1.7h-13.8z"/>
<path fill="#1d7e33" d="M203.5 86.0h13.8v1.7h-13.8zM338.5 86.0h13.8v1.7h-13.8zM203.5 87.4h13.8v1.7h-13.8zM244.0 88.8h13.8v1.7h-13.8zM203.5 90.2h13.8v1.7h-13.8zM230.5 94.4h13.8v1.7h-13.8zM257.5 94.4h13.8v1.7h-13.8zM311.5 95.8h13.8v1.7h-13.8zM217.0 97.2h13.8v1.7h-13.8zM230.5 97.2h13.8v1.7h-13.8zM257.5 98.6h13.8v1.7h-13.8zM311.5 101.4h13.8v1.7h-13.8zM257.5 104.2h13.8v1.7h-13.8zM271.0 105.6h13.8v1.7h-13.8zM257.5 107.0h13.8v1.7h-13.8zM271.0 107.0h13.8v1.7h-13.8zM325.0 108.4h13.8v1.7h-13.8zM271.0 111.3h13.8v1.7h-13.8zM338.5 115.5h13.8v1.7h-13.8zM217.0 116.9h13.8v1.7h-13.8zM338.5 116.9h13.8v1.7h-13.8zM230.5 118.3h13.8v1.7h-13.8zM244.0 118.3h13.8v1.7h-13.8zM284.5 119.7h13.8v1.7h-13.8zM271.0 121.1h13.8v1.7h-13.8zM217.0 123.9h13.8v1.7h-13.8zM338.5 123.9h13.8v1.7h-13.8zM217.0 125.3h13.8v1.7h-13.8zM230.5 125.3h13.8v1.7h-13.8zM284.5 126.7h13.8v1.7h-13.8zM338.5 126.7h13.8v1.7h-13.8zM217.0 128.1h13.8v1.7h-13.8zM257.5 132.3h13.8v1.7h-13.8zM217.0 133.7h13.8v1.7h-13.8zM271.0 135.1h13.8v1.7h-13.8zM325.0 135.1h13.8v1.7h-13.8zM271.0 137.9h13.8v1.7h-13.8zM230.5 139.3h13.8v1.7h-13.8zM257.5 140.7h13.8v1.7h-13.8zM203.5 144.9h13.8v1.7h-13.8zM338.5 144.9h13.8v1.7h-13.8zM244.0 146.3h13.8v1.7h-13.8zM230.5 147.7h13.8v1.7h-13.8zM244.0 151.9h13.8v1.7h-13.8zM203.5 154.7h13.8v1.7h-13.8zM257.5 154.7h13.8v1.7h-13.8zM311.5 154.7h13.8v1.7h-13.8zM244.0 156.1h13.8v1.7h-13.8zM325.0 156.1h13.8v1.7h-13.8zM244.0 158.9h13.8v1.7h-13.8zM257.5 158.9h13.8v1.7h-13.8zM271.0 158.9h13.8v1.7h-13.8zM203.5 161.7h13.8v1.7h-13.8zM271.0 161.7h13.8v1.7h-13.8zM311.5 167.4h13.8v1.7h-13.8zM311.5 170.2h13.8v1.7h-13.8zM230.5 174.4h13.8v1.7h-13.8zM244.0 174.4h13.8v1.7h-13.8zM325.0 174.4h13.8v1.7h-13.8zM203.5 175.8h13.8v1.7h-13.8zM217.0 175.8h13.8v1.7h-13.8zM257.5 175.8h13.8v1.7h-13.8zM311.5 175.8h13.8v1.7h-13.8zM217.0 180.0h13.8v1.7h-13.8zM230.5 185.6h13.8v1.7h-13.8zM244.0 185.6h13.8v1.7h-13.8zM217.0 187.0h13.8v1.7h-13.8zM244.0 188.4h13.8v1.7h-13.8zM338.5 188.4h13.8v1.7h-13.8zM244.0 189.8h13.8v1.7h-13.8zM325.0 189.8h13.8v1.7h-13.8zM257.5 191.2h13.8v1.7h-13.8zM257.5 192.6h13.8v1.7h-13.8zM311.5 192.6h13.8v1.7h-13.8zM311.5 196.8h13.8v1.7h-13.8zM217.0 198.2h13.8v1.7h-13.8zM244.0 199.6h13.8v1.7h-13.8zM311.5 199.6h13.8v1.7h-13.8zM298.0 201.0h13.8v1.7h-13.8zM325.0 201.0h13.8v1.7h-13.8zM244.0 202.4h13.8v1.7h-13.8zM257.5 202.4h13.8v1.7h-13.8zM311.5 202.4h13.8v1.7h-13.8zM244.0 203.8h13.8v1.7h-13.8zM244.0 205.2h13.8v1.7h-13.8zM257.5 206.6h13.8v1.7h-13.8zM311.5 208.0h13.8v1.7h-13.8zM325.0 209.4h13.8v1.7h-13.8zM203.5 213.6h13.8v1.7h-13.8zM271.0 213.6h13.8v1.7h-13.8zM217.0 216.4h13.8v1.7h-13.8zM230.5 219.3h13.8v1.7h-13.8zM244.0 219.3h13.8v1.7h-13.8zM298.0 220.7h13.8v1.7h-13.8zM338.5 220.7h13.8v1.7h-13.8zM244.0 222.1h13.8v1.7h-13.8zM217.0 223.5h13.8v1.7h-13.8zM271.0 223.5h13.8v1.7h-13.8zM230.5 224.9h13.8v1.7h-13.8zM230.5 227.7h13.8v1.7h-13.8zM244.0 229.1h13.8v1.7h-13.8zM230.5 230.5h13.8v1.7h-13.8zM271.0 231.9h13.8v1.7h-13.8zM284.5 231.9h13.8v1.7h-13.8zM311.5 231.9h13.8v1.7h-13.8zM203.5 233.3h13.8v1.7h-13.8zM217.0 233.3h13.8v1.7h-13.8zM257.5 236.1h13.8v1.7h-13.8zM271.0 238.9h13.8v1.7h-13.8zM311.5 240.3h13.8v1.7h-13.8z"/>
<path fill="#64d458" d="M217.0 86.0h13.8v1.7h-13.8zM203.5 95.8h13.8v1.7h-13.8zM244.0 100.0h13.8v1.7h-13.8zM271.0 101.4h13.8v1.7h-13.8zM217.0 102.8h13.8v1.7h-13.8zM230.5 104.2h13.8v1.7h-13.8zM217.0 105.6h13.8v1.7h-13.8zM325.0 105.6h13.8v1.7h-13.8zM217.0 107.0h13.8v1.7h-13.8zM230.5 107.0h13.8v1.7h-13.8zM257.5 109.9h13.8v1.7h-13.8zM271.0 109.9h13.8v1.7h-13.8zM244.0 112.7h13.8v1.7h-13.8zM271.0 118.3h13.8v1.7h-13.8zM257.5 121.1h13.8v1.7h-13.8zM244.0 125.3h13.8v1.7h-13.8zM271.0 126.7h13.8v1.7h-13.8zM257.5 130.9h13.8v1.7h-13.8zM271.0 133.7h13.8v1.7h-13.8zM338.5 139.3h13.8v1.7h-13.8zM244.0 142.1h13.8v1.7h-13.8zM217.0 144.9h13.8v1.7h-13.8zM230.5 167.4h13.8v1.7h-13.8zM338.5 184.2h13.8v1.7h-13.8zM244.0 187.0h13.8v1.7h-13.8zM271.0 189.8h13.8v1.7h-13.8zM271.0 198.2h13.8v1.7h-13.8zM217.0 199.6h13.8v1.7h-13.8zM271.0 206.6h13.8v1.7h-13.8zM325.0 206.6h13.8v1.7h-13.8zM203.5 216.4h13.8v1.7h-13.8zM203.5 217.9h13.8v1.7h-13.8zM244.0 223.5h13.8v1.7h-13.8zM338.5 223.5h13.8v1.7h-13.8zM338.5 229.1h13.8v1.7h-13.8zM244.0 234.7h13.8v1.7h-13.8zM338.5 243.1h13.8v1.7h-13.8z"/>
<path fill="#2aa541" d="M230.5 86.0h13.8v1.7h-13.8zM271.0 87.4h13.8v1.7h-13.8zM217.0 88.8h13.8v1.7h-13.8zM257.5 90.2h13.8v1.7h-13.8zM244.0 91.6h13.8v1.7h-13.8zM311.5 94.4h13.8v1.7h-13.8zM257.5 97.2h13.8v1.7h-13.8zM217.0 98.6h13.8v1.7h-13.8zM244.0 107.0h13.8v1.7h-13.8zM325.0 107.0h13.8v1.7h-13.8zM203.5 109.9h13.8v1.7h-13.8zM325.0 109.9h13.8v1.7h-13.8zM325.0 111.3h13.8v1.7h-13.8zM203.5 112.7h13.8v1.7h-13.8zM338.5 112.7h13.8v1.7h-13.8zM271.0 114.1h13.8v1.7h-13.8zM203.5 116.9h13.8v1.7h-13.8zM230.5 116.9h13.8v1.7h-13.8zM271.0 116.9h13.8v1.7h-13.8zM203.5 118.3h13.8v1.7h-13.8zM325.0 118.3h13.8v1.7h-13.8zM311.5 119.7h13.8v1.7h-13.8zM203.5 121.1h13.8v1.7h-13.8zM230.5 122.5h13.8v1.7h-13.8zM244.0 122.5h13.8v1.7h-13.8zM325.0 126.7h13.8v1.7h-13.8zM203.5 129.5h13.8v1.7h-13.8zM217.0 129.5h13.8v1.7h-13.8zM203.5 130.9h13.8v1.7h-13.8zM203.5 132.3h13.8v1.7h-13.8zM203.5 135.1h13.8v1.7h-13.8zM244.0 139.3h13.8v1.7h-13.8zM230.5 140.7h13.8v1.7h-13.8zM325.0 140.7h13.8v1.7h-13.8zM203.5 142.1h13.8v1.7h-13.8zM244.0 144.9h13.8v1.7h-13.8zM217.0 153.3h13.8v1.7h-13.8zM338.5 153.3h13.8v1.7h-13.8zM203.5 160.3h13.8v1.7h-13.8zM271.0 160.3h13.8v1.7h-13.8zM217.0 161.7h13.8v1.7h-13.8zM244.0 161.7h13.8v1.7h-13.8zM230.5 163.1h13.8v1.7h-13.8zM338.5 163.1h13.8v1.7h-13.8zM271.0 164.6h13.8v1.7h-13.8zM203.5 167.4h13.8v1.7h-13.8zM257.5 168.8h13.8v1.7h-13.8zM244.0 170.2h13.8v1.7h-13.8zM271.0 170.2h13.8v1.7h-13.8zM203.5 171.6h13.8v1.7h-13.8zM271.0 171.6h13.8v1.7h-13.8zM203.5 173.0h13.8v1.7h-13.8zM217.0 173.0h13.8v1.7h-13.8zM338.5 174.4h13.8v1.7h-13.8zM203.5 177.2h13.8v1.7h-13.8zM325.0 177.2h13.8v1.7h-13.8zM244.0 181.4h13.8v1.7h-13.8zM271.0 181.4h13.8v1.7h-13.8zM338.5 182.8h13.8v1.7h-13.8zM203.5 184.2h13.8v1.7h-13.8zM271.0 187.0h13.8v1.7h-13.8zM217.0 188.4h13.8v1.7h-13.8zM230.5 192.6h13.8v1.7h-13.8zM230.5 194.0h13.8v1.7h-13.8zM244.0 194.0h13.8v1.7h-13.8zM217.0 195.4h13.8v1.7h-13.8zM257.5 195.4h13.8v1.7h-13.8zM325.0 196.8h13.8v1.7h-13.8zM230.5 198.2h13.8v1.7h-13.8zM244.0 198.2h13.8v1.7h-13.8zM230.5 201.0h13.8v1.7h-13.8zM338.5 201.0h13.8v1.7h-13.8zM217.0 205.2h13.8v1.7h-13.8zM271.0 208.0h13.8v1.7h-13.8zM325.0 208.0h13.8v1.7h-13.8zM230.5 210.8h13.8v1.7h-13.8zM230.5 212.2h13.8v1.7h-13.8zM257.5 212.2h13.8v1.7h-13.8zM338.5 213.6h13.8v1.7h-13.8zM230.5 217.9h13.8v1.7h-13.8zM257.5 217.9h13.8v1.7h-13.8zM257.5 219.3h13.8v1.7h-13.8zM325.0 219.3h13.8v1.7h-13.8zM203.5 220.7h13.8v1.7h-13.8zM230.5 220.7h13.8v1.7h-13.8zM338.5 222.1h13.8v1.7h-13.8zM257.5 223.5h13.8v1.7h-13.8zM325.0 224.9h13.8v1.7h-13.8zM257.5 227.7h13.8v1.7h-13.8zM325.0 227.7h13.8v1.7h-13.8zM271.0 229.1h13.8v1.7h-13.8zM325.0 233.3h13.8v1.7h-13.8zM203.5 237.5h13.8v1.7h-13.8zM271.0 243.1h13.8v1.7h-13.8z"/>
<path fill="#3ac34c" d="M244.0 86.0h13.8v1.7h-13.8zM325.0 88.8h13.8v1.7h-13.8zM244.0 94.4h13.8v1.7h-13.8zM244.0 97.2h13.8v1.7h-13.8zM338.5 101.4h13.8v1.7h-13.8zM217.0 104.2h13.8v1.7h-13.8zM338.5 105.6h13.8v1.7h-13.8zM217.0 108.4h13.8v1.7h-13.8zM244.0 111.3h13.8v1.7h-13.8zM217.0 114.1h13.8v1.7h-13.8zM244.0 114.1h13.8v1.7h-13.8zM257.5 118.3h13.8v1.7h-13.8zM338.5 118.3h13.8v1.7h-13.8zM244.0 119.7h13.8v1.7h-13.8zM338.5 125.3h13.8v1.7h-13.8zM230.5 128.1h13.8v1.7h-13.8zM271.0 129.5h13.8v1.7h-13.8zM230.5 130.9h13.8v1.7h-13.8zM244.0 135.1h13.8v1.7h-13.8zM325.0 137.9h13.8v1.7h-13.8zM217.0 140.7h13.8v1.7h-13.8zM338.5 140.7h13.8v1.7h-13.8zM311.5 142.1h13.8v1.7h-13.8zM325.0 143.5h13.8v1.7h-13.8zM271.0 144.9h13.8v1.7h-13.8zM325.0 144.9h13.8v1.7h-13.8zM325.0 161.7h13.8v1.7h-13.8zM271.0 166.0h13.8v1.7h-13.8zM338.5 166.0h13.8v1.7h-13.8zM244.0 171.6h13.8v1.7h-13.8zM244.0 173.0h13.8v1.7h-13.8zM271.0 175.8h13.8v1.7h-13.8zM338.5 175.8h13.8v1.7h-13.8zM338.5 180.0h13.8v1.7h-13.8zM230.5 181.4h13.8v1.7h-13.8zM203.5 185.6h13.8v1.7h-13.8zM338.5 185.6h13.8v1.7h-13.8zM230.5 188.4h13.8v1.7h-13.8zM338.5 192.6h13.8v1.7h-13.8zM244.0 195.4h13.8v1.7h-13.8zM217.0 202.4h13.8v1.7h-13.8zM338.5 202.4h13.8v1.7h-13.8zM311.5 206.6h13.8v1.7h-13.8zM203.5 208.0h13.8v1.7h-13.8zM217.0 215.0h13.8v1.7h-13.8zM257.5 215.0h13.8v1.7h-13.8zM244.0 216.4h13.8v1.7h-13.8zM203.5 229.1h13.8v1.7h-13.8zM230.5 229.1h13.8v1.7h-13.8zM257.5 229.1h13.8v1.7h-13.8zM338.5 231.9h13.8v1.7h-13.8zM217.0 238.9h13.8v1.7h-13.8zM230.5 240.3h13.8v1.7h-13.8zM257.5 240.3h13.8v1.7h-13.8zM203.5 243.1h13.8v1.7h-13.8z"/>
<rect x="198.8" y="84" width="2.6" height="158" fill="#efe9ed"/>
<path d="M307.07 10.00L423.30 10.00M307.07 10.00L307.07 27.80M268.89 27.80L345.25 27.80M268.89 27.80L268.89 31.80M231.34 31.80L306.44 31.80M231.34 31.80L231.34 34.00M210.25 34.00L252.44 34.00M252.44 34.00L252.44 34.60M233.88 34.60L271.00 34.60M233.88 34.60L233.88 36.25M223.75 36.25L244.00 36.25M244.00 36.25L244.00 41.25M237.25 41.25L250.75 41.25M271.00 34.60L271.00 38.25M264.25 38.25L277.75 38.25M306.44 31.80L306.44 37.00M291.25 37.00L321.62 37.00M321.62 37.00L321.62 38.00M311.50 38.00L331.75 38.00M311.50 38.00L311.50 43.25M304.75 43.25L318.25 43.25M423.30 10.00L423.30 30.00M396.72 30.00L449.88 30.00M396.72 30.00L396.72 31.75M373.94 31.75L419.50 31.75M373.94 31.75L373.94 36.00M358.75 36.00L389.12 36.00M389.12 36.00L389.12 38.75M379.00 38.75L399.25 38.75M379.00 38.75L379.00 40.00M372.25 40.00L385.75 40.00M419.50 31.75L419.50 36.00M412.75 36.00L426.25 36.00M449.88 30.00L449.88 31.50M439.75 31.50L460.00 31.50M460.00 31.50L460.00 37.50M453.25 37.50L466.75 37.50M210.25 34.00V62.30M210.25 64.30V80.40M223.75 36.25V62.30M223.75 64.30V80.40M237.25 41.25V62.30M237.25 64.30V80.40M250.75 41.25V62.30M250.75 64.30V80.40M264.25 38.25V62.30M264.25 64.30V80.40M277.75 38.25V62.30M277.75 64.30V80.40M291.25 37.00V62.30M291.25 64.30V80.40M304.75 43.25V62.30M304.75 64.30V80.40M318.25 43.25V62.30M318.25 64.30V80.40M331.75 38.00V62.30M331.75 64.30V80.40M345.25 27.80V62.30M345.25 64.30V80.40M358.75 36.00V62.30M358.75 64.30V80.40M372.25 40.00V62.30M372.25 64.30V80.40M385.75 40.00V62.30M385.75 64.30V80.40M399.25 38.75V62.30M399.25 64.30V80.40M412.75 36.00V62.30M412.75 64.30V80.40M426.25 36.00V62.30M426.25 64.30V80.40M439.75 31.50V62.30M439.75 64.30V80.40M453.25 37.50V62.30M453.25 64.30V80.40M466.75 37.50V62.30M466.75 64.30V80.40" stroke="#161616" stroke-width="1.25" fill="none" stroke-linecap="square"/>
<line x1="351.5" y1="70.8" x2="351.5" y2="244.6" stroke="#151515" stroke-width="1" stroke-dasharray="2.2 1"/>
<line x1="392.4" y1="70.8" x2="392.4" y2="244.6" stroke="#151515" stroke-width="1" stroke-dasharray="2.2 1"/>
<rect x="483.8" y="135.3" width="12.6" height="56.5" fill="#f3f3f5"/>
<defs><linearGradient id="gbar" x1="0" y1="0" x2="0" y2="1"><stop offset="0" stop-color="#6dbd45"/><stop offset="0.25" stop-color="#1fa74b"/><stop offset="0.5" stop-color="#050505"/><stop offset="0.75" stop-color="#8a1a20"/><stop offset="1" stop-color="#ee2a2a"/></linearGradient></defs>
<rect x="485.3" y="140.7" width="9.4" height="46.1" fill="url(#gbar)"/>
<circle cx="489.8" cy="138.2" r="0.9" fill="#60b848"/><circle cx="489.8" cy="189.2" r="0.9" fill="#e83a3a"/>
<text x="475.50" y="132.10" font-size="11.20" fill="#222" textLength="33.94" lengthAdjust="spacingAndGlyphs" xml:space="preserve">–1.762</text>
<text x="475.95" y="204.40" font-size="11.20" fill="#222" textLength="28.28" lengthAdjust="spacingAndGlyphs" xml:space="preserve">1.779</text>
<path d="M207.5 247.4H346.2M351.5 247.4H392.4M351.5 244.4V247.6M392.4 244.4V247.6M212.8 264H392.3M400.7 264H470.9" stroke="#1a1a1a" stroke-width="1.4" fill="none"/>
<text x="253.25" y="259.30" font-size="11.40" fill="#222" textLength="45.44" lengthAdjust="spacingAndGlyphs" xml:space="preserve">SOX11+</text>
<text x="351.37" y="259.80" font-size="11.40" fill="#222" textLength="41.24" lengthAdjust="spacingAndGlyphs" xml:space="preserve">SOX11-</text>
<text x="289.74" y="277.70" font-size="11.40" fill="#222" textLength="25.23" lengthAdjust="spacingAndGlyphs" xml:space="preserve">MCL</text>
<text x="424.20" y="277.70" font-size="11.40" fill="#222" textLength="22.61" lengthAdjust="spacingAndGlyphs" xml:space="preserve">RLN</text>
<text x="13.81" y="341.80" font-size="11.80" font-weight="bold" fill="#1a1a1a" textLength="98.48" lengthAdjust="spacingAndGlyphs" xml:space="preserve">CD19+ PURIFIED</text>
<text x="167.08" y="341.80" font-size="11.80" font-weight="bold" fill="#1a1a1a" textLength="73.83" lengthAdjust="spacingAndGlyphs" xml:space="preserve">UNPURIFIED</text>
<path d="M13.2 347.1H113.8M117.3 347.1H291.2" stroke="#1a1a1a" stroke-width="1.6"/>
<text x="48.19" y="361.80" font-size="11.00" fill="#222" textLength="15.23" lengthAdjust="spacingAndGlyphs" xml:space="preserve">PB</text>
<text x="93.97" y="361.80" font-size="11.00" fill="#222" textLength="14.90" lengthAdjust="spacingAndGlyphs" xml:space="preserve">LN</text>
<text x="190.41" y="362.00" font-size="11.00" fill="#222" textLength="15.82" lengthAdjust="spacingAndGlyphs" xml:space="preserve">LN</text>
<rect x="12.3" y="365.9" width="278.7" height="239.1" fill="#f0d8d4"/>
<path fill="#6e9fdb" d="M12.3 365.9h5.6v2.5h-5.6zM33.4 365.9h5.6v2.5h-5.6zM91.5 365.9h5.6v2.5h-5.6zM12.3 368.1h5.6v2.5h-5.6zM44.0 368.1h5.6v2.5h-5.6zM59.8 368.1h5.6v2.5h-5.6zM70.4 368.1h5.6v2.5h-5.6zM22.9 370.3h5.6v2.5h-5.6zM33.4 370.3h5.6v2.5h-5.6zM44.0 370.3h5.6v2.5h-5.6zM59.8 370.3h5.6v2.5h-5.6zM86.2 370.3h5.6v2.5h-5.6zM91.5 370.3h5.6v2.5h-5.6zM96.8 370.3h5.6v2.5h-5.6zM102.2 370.3h5.6v2.5h-5.6zM212.4 372.5h5.5v2.5h-5.5zM22.9 374.8h5.6v2.5h-5.6zM49.3 374.8h5.6v2.5h-5.6zM96.8 374.8h5.6v2.5h-5.6zM12.3 377.0h5.6v2.5h-5.6zM65.1 377.0h5.6v2.5h-5.6zM75.7 377.0h5.6v2.5h-5.6zM86.2 377.0h5.6v2.5h-5.6zM91.5 377.0h5.6v2.5h-5.6zM12.3 379.2h5.6v2.5h-5.6zM54.5 379.2h5.6v2.5h-5.6zM65.1 379.2h5.6v2.5h-5.6zM102.2 379.2h5.6v2.5h-5.6zM38.7 381.4h5.6v2.5h-5.6zM49.3 381.4h5.6v2.5h-5.6zM65.1 381.4h5.6v2.5h-5.6zM86.2 381.4h5.6v2.5h-5.6zM91.5 381.4h5.6v2.5h-5.6zM107.5 381.4h5.6v2.5h-5.6zM17.6 383.6h5.6v2.5h-5.6zM22.9 383.6h5.6v2.5h-5.6zM28.1 383.6h5.6v2.5h-5.6zM49.3 383.6h5.6v2.5h-5.6zM65.1 383.6h5.6v2.5h-5.6zM75.7 383.6h5.6v2.5h-5.6zM180.9 383.6h5.5v2.5h-5.5zM44.0 385.8h5.6v2.5h-5.6zM49.3 385.8h5.6v2.5h-5.6zM28.1 388.0h5.6v2.5h-5.6zM54.5 388.0h5.6v2.5h-5.6zM59.8 388.0h5.6v2.5h-5.6zM65.1 388.0h5.6v2.5h-5.6zM70.4 388.0h5.6v2.5h-5.6zM75.7 388.0h5.6v2.5h-5.6zM102.2 388.0h5.6v2.5h-5.6zM107.5 388.0h5.6v2.5h-5.6zM186.2 388.0h5.5v2.5h-5.5zM212.4 388.0h5.5v2.5h-5.5zM228.1 388.0h5.5v2.5h-5.5zM28.1 392.5h5.6v2.5h-5.6zM44.0 392.5h5.6v2.5h-5.6zM54.5 392.5h5.6v2.5h-5.6zM75.7 392.5h5.6v2.5h-5.6zM191.4 394.7h5.5v2.5h-5.5zM12.3 396.9h5.6v2.5h-5.6zM28.1 396.9h5.6v2.5h-5.6zM49.3 396.9h5.6v2.5h-5.6zM75.7 396.9h5.6v2.5h-5.6zM80.9 396.9h5.6v2.5h-5.6zM86.2 396.9h5.6v2.5h-5.6zM28.1 399.1h5.6v2.5h-5.6zM33.4 399.1h5.6v2.5h-5.6zM44.0 399.1h5.6v2.5h-5.6zM91.5 399.1h5.6v2.5h-5.6zM38.7 401.3h5.6v2.5h-5.6zM44.0 401.3h5.6v2.5h-5.6zM75.7 401.3h5.6v2.5h-5.6zM102.2 401.3h5.6v2.5h-5.6zM44.0 403.5h5.6v2.5h-5.6zM91.5 403.5h5.6v2.5h-5.6zM102.2 403.5h5.6v2.5h-5.6zM107.5 403.5h5.6v2.5h-5.6zM22.9 405.8h5.6v2.5h-5.6zM33.4 405.8h5.6v2.5h-5.6zM38.7 405.8h5.6v2.5h-5.6zM75.7 405.8h5.6v2.5h-5.6zM86.2 405.8h5.6v2.5h-5.6zM91.5 405.8h5.6v2.5h-5.6zM75.7 408.0h5.6v2.5h-5.6zM96.8 408.0h5.6v2.5h-5.6zM33.4 412.4h5.6v2.5h-5.6zM102.2 412.4h5.6v2.5h-5.6zM38.7 414.6h5.6v2.5h-5.6zM49.3 414.6h5.6v2.5h-5.6zM70.4 414.6h5.6v2.5h-5.6zM107.5 414.6h5.6v2.5h-5.6zM75.7 416.8h5.6v2.5h-5.6zM96.8 416.8h5.6v2.5h-5.6zM17.6 419.0h5.6v2.5h-5.6zM65.1 419.0h5.6v2.5h-5.6zM96.8 419.0h5.6v2.5h-5.6zM44.0 421.2h5.6v2.5h-5.6zM49.3 421.2h5.6v2.5h-5.6zM96.8 421.2h5.6v2.5h-5.6zM28.1 423.5h5.6v2.5h-5.6zM49.3 423.5h5.6v2.5h-5.6zM54.5 423.5h5.6v2.5h-5.6zM59.8 423.5h5.6v2.5h-5.6zM75.7 423.5h5.6v2.5h-5.6zM96.8 423.5h5.6v2.5h-5.6zM102.2 423.5h5.6v2.5h-5.6zM107.5 423.5h5.6v2.5h-5.6zM38.7 427.9h5.6v2.5h-5.6zM49.3 427.9h5.6v2.5h-5.6zM59.8 427.9h5.6v2.5h-5.6zM86.2 427.9h5.6v2.5h-5.6zM91.5 427.9h5.6v2.5h-5.6zM102.2 427.9h5.6v2.5h-5.6zM107.5 427.9h5.6v2.5h-5.6zM22.9 430.1h5.6v2.5h-5.6zM33.4 430.1h5.6v2.5h-5.6zM96.8 430.1h5.6v2.5h-5.6zM107.5 430.1h5.6v2.5h-5.6zM70.4 432.3h5.6v2.5h-5.6zM96.8 432.3h5.6v2.5h-5.6zM12.3 434.5h5.6v2.5h-5.6zM17.6 434.5h5.6v2.5h-5.6zM44.0 434.5h5.6v2.5h-5.6zM54.5 434.5h5.6v2.5h-5.6zM59.8 434.5h5.6v2.5h-5.6zM65.1 434.5h5.6v2.5h-5.6zM91.5 434.5h5.6v2.5h-5.6zM107.5 434.5h5.6v2.5h-5.6zM70.4 439.0h5.6v2.5h-5.6zM17.6 441.2h5.6v2.5h-5.6zM49.3 441.2h5.6v2.5h-5.6zM86.2 441.2h5.6v2.5h-5.6zM107.5 441.2h5.6v2.5h-5.6zM17.6 443.4h5.6v2.5h-5.6zM70.4 443.4h5.6v2.5h-5.6zM75.7 443.4h5.6v2.5h-5.6zM86.2 443.4h5.6v2.5h-5.6zM96.8 443.4h5.6v2.5h-5.6zM107.5 443.4h5.6v2.5h-5.6zM38.7 445.6h5.6v2.5h-5.6zM86.2 445.6h5.6v2.5h-5.6zM91.5 445.6h5.6v2.5h-5.6zM107.5 445.6h5.6v2.5h-5.6zM28.1 447.8h5.6v2.5h-5.6zM44.0 447.8h5.6v2.5h-5.6zM102.2 447.8h5.6v2.5h-5.6zM17.6 450.0h5.6v2.5h-5.6zM86.2 450.0h5.6v2.5h-5.6zM96.8 450.0h5.6v2.5h-5.6zM12.3 452.2h5.6v2.5h-5.6zM28.1 452.2h5.6v2.5h-5.6zM33.4 452.2h5.6v2.5h-5.6zM44.0 452.2h5.6v2.5h-5.6zM70.4 452.2h5.6v2.5h-5.6zM80.9 452.2h5.6v2.5h-5.6zM102.2 452.2h5.6v2.5h-5.6zM38.7 454.5h5.6v2.5h-5.6zM65.1 454.5h5.6v2.5h-5.6zM70.4 454.5h5.6v2.5h-5.6zM91.5 454.5h5.6v2.5h-5.6zM17.6 458.9h5.6v2.5h-5.6zM22.9 458.9h5.6v2.5h-5.6zM54.5 458.9h5.6v2.5h-5.6zM33.4 461.1h5.6v2.5h-5.6zM49.3 461.1h5.6v2.5h-5.6zM75.7 461.1h5.6v2.5h-5.6zM80.9 461.1h5.6v2.5h-5.6zM28.1 463.3h5.6v2.5h-5.6zM65.1 463.3h5.6v2.5h-5.6zM102.2 463.3h5.6v2.5h-5.6zM107.5 463.3h5.6v2.5h-5.6zM17.6 465.5h5.6v2.5h-5.6zM28.1 465.5h5.6v2.5h-5.6zM49.3 465.5h5.6v2.5h-5.6zM75.7 465.5h5.6v2.5h-5.6zM91.5 465.5h5.6v2.5h-5.6zM102.2 465.5h5.6v2.5h-5.6zM44.0 467.7h5.6v2.5h-5.6zM80.9 467.7h5.6v2.5h-5.6zM102.2 467.7h5.6v2.5h-5.6zM17.6 470.0h5.6v2.5h-5.6zM54.5 470.0h5.6v2.5h-5.6zM80.9 470.0h5.6v2.5h-5.6zM91.5 470.0h5.6v2.5h-5.6zM44.0 472.2h5.6v2.5h-5.6zM70.4 476.6h5.6v2.5h-5.6zM86.2 478.8h5.6v2.5h-5.6zM107.5 478.8h5.6v2.5h-5.6zM175.7 478.8h5.5v2.5h-5.5zM201.9 478.8h5.5v2.5h-5.5zM80.9 483.2h5.6v2.5h-5.6zM65.1 485.4h5.6v2.5h-5.6zM102.2 485.4h5.6v2.5h-5.6zM17.6 489.9h5.6v2.5h-5.6zM28.1 489.9h5.6v2.5h-5.6zM54.5 489.9h5.6v2.5h-5.6zM102.2 489.9h5.6v2.5h-5.6zM38.7 492.1h5.6v2.5h-5.6zM49.3 492.1h5.6v2.5h-5.6zM107.5 492.1h5.6v2.5h-5.6zM28.1 494.3h5.6v2.5h-5.6zM102.2 494.3h5.6v2.5h-5.6zM107.5 494.3h5.6v2.5h-5.6zM54.5 496.5h5.6v2.5h-5.6zM17.6 500.9h5.6v2.5h-5.6zM107.5 500.9h5.6v2.5h-5.6zM12.3 503.2h5.6v2.5h-5.6zM49.3 503.2h5.6v2.5h-5.6zM75.7 503.2h5.6v2.5h-5.6zM96.8 503.2h5.6v2.5h-5.6zM112.8 503.2h5.5v2.5h-5.5zM38.7 505.4h5.6v2.5h-5.6zM54.5 507.6h5.6v2.5h-5.6zM28.1 509.8h5.6v2.5h-5.6zM38.7 509.8h5.6v2.5h-5.6zM49.3 509.8h5.6v2.5h-5.6zM59.8 509.8h5.6v2.5h-5.6zM80.9 509.8h5.6v2.5h-5.6zM91.5 509.8h5.6v2.5h-5.6zM22.9 512.0h5.6v2.5h-5.6zM38.7 512.0h5.6v2.5h-5.6zM54.5 512.0h5.6v2.5h-5.6zM59.8 512.0h5.6v2.5h-5.6zM80.9 512.0h5.6v2.5h-5.6zM149.5 512.0h5.5v2.5h-5.5zM17.6 516.4h5.6v2.5h-5.6zM22.9 516.4h5.6v2.5h-5.6zM65.1 516.4h5.6v2.5h-5.6zM38.7 518.7h5.6v2.5h-5.6zM65.1 518.7h5.6v2.5h-5.6zM96.8 518.7h5.6v2.5h-5.6zM12.3 520.9h5.6v2.5h-5.6zM86.2 520.9h5.6v2.5h-5.6zM96.8 520.9h5.6v2.5h-5.6zM102.2 520.9h5.6v2.5h-5.6zM49.3 525.3h5.6v2.5h-5.6zM80.9 525.3h5.6v2.5h-5.6zM33.4 527.5h5.6v2.5h-5.6zM54.5 527.5h5.6v2.5h-5.6zM59.8 527.5h5.6v2.5h-5.6zM12.3 529.7h5.6v2.5h-5.6zM33.4 529.7h5.6v2.5h-5.6zM91.5 529.7h5.6v2.5h-5.6zM12.3 531.9h5.6v2.5h-5.6zM86.2 531.9h5.6v2.5h-5.6zM170.5 534.2h5.5v2.5h-5.5zM44.0 538.6h5.6v2.5h-5.6zM49.3 538.6h5.6v2.5h-5.6zM38.7 540.8h5.6v2.5h-5.6zM49.3 540.8h5.6v2.5h-5.6zM102.2 540.8h5.6v2.5h-5.6zM12.3 543.0h5.6v2.5h-5.6zM49.3 545.2h5.6v2.5h-5.6zM75.7 545.2h5.6v2.5h-5.6zM102.2 545.2h5.6v2.5h-5.6zM22.9 547.4h5.6v2.5h-5.6zM22.9 549.7h5.6v2.5h-5.6zM28.1 549.7h5.6v2.5h-5.6zM49.3 549.7h5.6v2.5h-5.6zM59.8 549.7h5.6v2.5h-5.6zM96.8 549.7h5.6v2.5h-5.6zM107.5 549.7h5.6v2.5h-5.6zM12.3 556.3h5.6v2.5h-5.6zM38.7 556.3h5.6v2.5h-5.6zM44.0 556.3h5.6v2.5h-5.6zM54.5 556.3h5.6v2.5h-5.6zM107.5 556.3h5.6v2.5h-5.6zM12.3 560.7h5.6v2.5h-5.6zM59.8 560.7h5.6v2.5h-5.6zM80.9 560.7h5.6v2.5h-5.6zM17.6 562.9h5.6v2.5h-5.6zM38.7 562.9h5.6v2.5h-5.6zM65.1 562.9h5.6v2.5h-5.6zM80.9 562.9h5.6v2.5h-5.6zM22.9 565.1h5.6v2.5h-5.6zM33.4 565.1h5.6v2.5h-5.6zM38.7 565.1h5.6v2.5h-5.6zM44.0 565.1h5.6v2.5h-5.6zM65.1 565.1h5.6v2.5h-5.6zM12.3 567.4h5.6v2.5h-5.6zM17.6 567.4h5.6v2.5h-5.6zM49.3 567.4h5.6v2.5h-5.6zM59.8 567.4h5.6v2.5h-5.6zM75.7 567.4h5.6v2.5h-5.6zM80.9 567.4h5.6v2.5h-5.6zM12.3 569.6h5.6v2.5h-5.6zM17.6 569.6h5.6v2.5h-5.6zM28.1 569.6h5.6v2.5h-5.6zM49.3 569.6h5.6v2.5h-5.6zM54.5 569.6h5.6v2.5h-5.6zM59.8 569.6h5.6v2.5h-5.6zM102.2 569.6h5.6v2.5h-5.6zM107.5 569.6h5.6v2.5h-5.6zM59.8 571.8h5.6v2.5h-5.6zM91.5 578.4h5.6v2.5h-5.6zM123.3 578.4h5.5v2.5h-5.5zM33.4 580.6h5.6v2.5h-5.6zM22.9 582.9h5.6v2.5h-5.6zM38.7 582.9h5.6v2.5h-5.6zM44.0 582.9h5.6v2.5h-5.6zM70.4 582.9h5.6v2.5h-5.6zM102.2 582.9h5.6v2.5h-5.6zM112.8 582.9h5.5v2.5h-5.5zM22.9 585.1h5.6v2.5h-5.6zM28.1 585.1h5.6v2.5h-5.6zM59.8 585.1h5.6v2.5h-5.6zM91.5 585.1h5.6v2.5h-5.6zM96.8 585.1h5.6v2.5h-5.6zM112.8 587.3h5.5v2.5h-5.5zM12.3 589.5h5.6v2.5h-5.6zM17.6 589.5h5.6v2.5h-5.6zM22.9 589.5h5.6v2.5h-5.6zM33.4 589.5h5.6v2.5h-5.6zM44.0 589.5h5.6v2.5h-5.6zM65.1 589.5h5.6v2.5h-5.6zM91.5 589.5h5.6v2.5h-5.6zM12.3 591.7h5.6v2.5h-5.6zM49.3 591.7h5.6v2.5h-5.6zM59.8 591.7h5.6v2.5h-5.6zM86.2 591.7h5.6v2.5h-5.6zM91.5 591.7h5.6v2.5h-5.6zM96.8 591.7h5.6v2.5h-5.6zM22.9 593.9h5.6v2.5h-5.6zM70.4 593.9h5.6v2.5h-5.6zM75.7 593.9h5.6v2.5h-5.6zM107.5 593.9h5.6v2.5h-5.6zM17.6 596.1h5.6v2.5h-5.6zM33.4 596.1h5.6v2.5h-5.6zM75.7 596.1h5.6v2.5h-5.6zM96.8 596.1h5.6v2.5h-5.6zM22.9 598.4h5.6v2.5h-5.6zM38.7 598.4h5.6v2.5h-5.6zM49.3 598.4h5.6v2.5h-5.6zM59.8 598.4h5.6v2.5h-5.6zM86.2 598.4h5.6v2.5h-5.6zM91.5 598.4h5.6v2.5h-5.6zM96.8 598.4h5.6v2.5h-5.6zM33.4 600.6h5.6v2.5h-5.6zM102.2 600.6h5.6v2.5h-5.6zM107.5 602.8h5.6v2.5h-5.6z"/>
<path fill="#4079c5" d="M17.6 365.9h5.6v2.5h-5.6zM107.5 377.0h5.6v2.5h-5.6zM70.4 381.4h5.6v2.5h-5.6zM49.3 390.3h5.6v2.5h-5.6zM96.8 390.3h5.6v2.5h-5.6zM107.5 390.3h5.6v2.5h-5.6zM38.7 392.5h5.6v2.5h-5.6zM96.8 396.9h5.6v2.5h-5.6zM54.5 399.1h5.6v2.5h-5.6zM65.1 399.1h5.6v2.5h-5.6zM107.5 399.1h5.6v2.5h-5.6zM12.3 403.5h5.6v2.5h-5.6zM80.9 421.2h5.6v2.5h-5.6zM80.9 423.5h5.6v2.5h-5.6zM17.6 430.1h5.6v2.5h-5.6zM38.7 430.1h5.6v2.5h-5.6zM17.6 432.3h5.6v2.5h-5.6zM38.7 432.3h5.6v2.5h-5.6zM70.4 434.5h5.6v2.5h-5.6zM86.2 434.5h5.6v2.5h-5.6zM33.4 441.2h5.6v2.5h-5.6zM49.3 443.4h5.6v2.5h-5.6zM12.3 450.0h5.6v2.5h-5.6zM59.8 452.2h5.6v2.5h-5.6zM59.8 454.5h5.6v2.5h-5.6zM17.6 456.7h5.6v2.5h-5.6zM28.1 456.7h5.6v2.5h-5.6zM33.4 456.7h5.6v2.5h-5.6zM54.5 456.7h5.6v2.5h-5.6zM96.8 456.7h5.6v2.5h-5.6zM107.5 456.7h5.6v2.5h-5.6zM38.7 458.9h5.6v2.5h-5.6zM59.8 461.1h5.6v2.5h-5.6zM28.1 467.7h5.6v2.5h-5.6zM49.3 467.7h5.6v2.5h-5.6zM65.1 467.7h5.6v2.5h-5.6zM49.3 470.0h5.6v2.5h-5.6zM96.8 470.0h5.6v2.5h-5.6zM17.6 472.2h5.6v2.5h-5.6zM54.5 472.2h5.6v2.5h-5.6zM75.7 472.2h5.6v2.5h-5.6zM91.5 472.2h5.6v2.5h-5.6zM22.9 489.9h5.6v2.5h-5.6zM49.3 494.3h5.6v2.5h-5.6zM59.8 503.2h5.6v2.5h-5.6zM22.9 505.4h5.6v2.5h-5.6zM33.4 505.4h5.6v2.5h-5.6zM70.4 505.4h5.6v2.5h-5.6zM96.8 505.4h5.6v2.5h-5.6zM102.2 505.4h5.6v2.5h-5.6zM70.4 507.6h5.6v2.5h-5.6zM102.2 509.8h5.6v2.5h-5.6zM65.1 512.0h5.6v2.5h-5.6zM96.8 512.0h5.6v2.5h-5.6zM102.2 512.0h5.6v2.5h-5.6zM12.3 518.7h5.6v2.5h-5.6zM86.2 527.5h5.6v2.5h-5.6zM17.6 531.9h5.6v2.5h-5.6zM33.4 531.9h5.6v2.5h-5.6zM38.7 531.9h5.6v2.5h-5.6zM70.4 531.9h5.6v2.5h-5.6zM12.3 534.2h5.6v2.5h-5.6zM102.2 534.2h5.6v2.5h-5.6zM65.1 538.6h5.6v2.5h-5.6zM38.7 545.2h5.6v2.5h-5.6zM22.9 554.1h5.6v2.5h-5.6zM102.2 554.1h5.6v2.5h-5.6zM65.1 556.3h5.6v2.5h-5.6zM70.4 556.3h5.6v2.5h-5.6zM22.9 560.7h5.6v2.5h-5.6zM86.2 560.7h5.6v2.5h-5.6zM102.2 560.7h5.6v2.5h-5.6zM59.8 562.9h5.6v2.5h-5.6zM96.8 562.9h5.6v2.5h-5.6zM33.4 569.6h5.6v2.5h-5.6zM80.9 569.6h5.6v2.5h-5.6zM38.7 578.4h5.6v2.5h-5.6zM44.0 578.4h5.6v2.5h-5.6zM59.8 578.4h5.6v2.5h-5.6zM70.4 578.4h5.6v2.5h-5.6zM102.2 578.4h5.6v2.5h-5.6zM38.7 580.6h5.6v2.5h-5.6zM65.1 580.6h5.6v2.5h-5.6zM38.7 596.1h5.6v2.5h-5.6zM86.2 600.6h5.6v2.5h-5.6z"/>
<path fill="#2964b6" d="M22.9 365.9h5.6v2.5h-5.6zM80.9 365.9h5.6v2.5h-5.6zM107.5 370.3h5.6v2.5h-5.6zM33.4 377.0h5.6v2.5h-5.6zM54.5 381.4h5.6v2.5h-5.6zM80.9 390.3h5.6v2.5h-5.6zM22.9 399.1h5.6v2.5h-5.6zM59.8 414.6h5.6v2.5h-5.6zM102.2 416.8h5.6v2.5h-5.6zM33.4 432.3h5.6v2.5h-5.6zM65.1 445.6h5.6v2.5h-5.6zM96.8 447.8h5.6v2.5h-5.6zM17.6 454.5h5.6v2.5h-5.6zM12.3 456.7h5.6v2.5h-5.6zM38.7 456.7h5.6v2.5h-5.6zM65.1 461.1h5.6v2.5h-5.6zM96.8 461.1h5.6v2.5h-5.6zM17.6 463.3h5.6v2.5h-5.6zM107.5 465.5h5.6v2.5h-5.6zM86.2 489.9h5.6v2.5h-5.6zM102.2 503.2h5.6v2.5h-5.6zM28.1 516.4h5.6v2.5h-5.6zM107.5 538.6h5.6v2.5h-5.6zM86.2 540.8h5.6v2.5h-5.6zM86.2 580.6h5.6v2.5h-5.6zM102.2 580.6h5.6v2.5h-5.6zM28.1 582.9h5.6v2.5h-5.6z"/>
<path fill="#598fd3" d="M28.1 365.9h5.6v2.5h-5.6zM96.8 365.9h5.6v2.5h-5.6zM65.1 368.1h5.6v2.5h-5.6zM96.8 368.1h5.6v2.5h-5.6zM28.1 370.3h5.6v2.5h-5.6zM38.7 370.3h5.6v2.5h-5.6zM49.3 370.3h5.6v2.5h-5.6zM65.1 370.3h5.6v2.5h-5.6zM75.7 370.3h5.6v2.5h-5.6zM17.6 374.8h5.6v2.5h-5.6zM59.8 374.8h5.6v2.5h-5.6zM70.4 374.8h5.6v2.5h-5.6zM107.5 374.8h5.6v2.5h-5.6zM28.1 377.0h5.6v2.5h-5.6zM49.3 377.0h5.6v2.5h-5.6zM59.8 377.0h5.6v2.5h-5.6zM70.4 377.0h5.6v2.5h-5.6zM102.2 377.0h5.6v2.5h-5.6zM38.7 379.2h5.6v2.5h-5.6zM96.8 379.2h5.6v2.5h-5.6zM107.5 379.2h5.6v2.5h-5.6zM12.3 381.4h5.6v2.5h-5.6zM75.7 381.4h5.6v2.5h-5.6zM80.9 381.4h5.6v2.5h-5.6zM102.2 381.4h5.6v2.5h-5.6zM70.4 383.6h5.6v2.5h-5.6zM102.2 383.6h5.6v2.5h-5.6zM107.5 383.6h5.6v2.5h-5.6zM17.6 385.8h5.6v2.5h-5.6zM38.7 385.8h5.6v2.5h-5.6zM65.1 385.8h5.6v2.5h-5.6zM70.4 385.8h5.6v2.5h-5.6zM107.5 385.8h5.6v2.5h-5.6zM38.7 388.0h5.6v2.5h-5.6zM44.0 388.0h5.6v2.5h-5.6zM91.5 388.0h5.6v2.5h-5.6zM96.8 388.0h5.6v2.5h-5.6zM12.3 390.3h5.6v2.5h-5.6zM33.4 390.3h5.6v2.5h-5.6zM38.7 390.3h5.6v2.5h-5.6zM59.8 390.3h5.6v2.5h-5.6zM86.2 390.3h5.6v2.5h-5.6zM86.2 392.5h5.6v2.5h-5.6zM91.5 392.5h5.6v2.5h-5.6zM44.0 396.9h5.6v2.5h-5.6zM102.2 396.9h5.6v2.5h-5.6zM12.3 399.1h5.6v2.5h-5.6zM59.8 399.1h5.6v2.5h-5.6zM70.4 399.1h5.6v2.5h-5.6zM75.7 399.1h5.6v2.5h-5.6zM54.5 401.3h5.6v2.5h-5.6zM59.8 401.3h5.6v2.5h-5.6zM65.1 401.3h5.6v2.5h-5.6zM96.8 401.3h5.6v2.5h-5.6zM22.9 403.5h5.6v2.5h-5.6zM28.1 403.5h5.6v2.5h-5.6zM33.4 403.5h5.6v2.5h-5.6zM38.7 403.5h5.6v2.5h-5.6zM54.5 403.5h5.6v2.5h-5.6zM86.2 403.5h5.6v2.5h-5.6zM96.8 403.5h5.6v2.5h-5.6zM12.3 405.8h5.6v2.5h-5.6zM28.1 405.8h5.6v2.5h-5.6zM59.8 405.8h5.6v2.5h-5.6zM107.5 405.8h5.6v2.5h-5.6zM12.3 408.0h5.6v2.5h-5.6zM38.7 408.0h5.6v2.5h-5.6zM44.0 408.0h5.6v2.5h-5.6zM49.3 408.0h5.6v2.5h-5.6zM70.4 408.0h5.6v2.5h-5.6zM86.2 408.0h5.6v2.5h-5.6zM102.2 408.0h5.6v2.5h-5.6zM107.5 408.0h5.6v2.5h-5.6zM12.3 414.6h5.6v2.5h-5.6zM17.6 414.6h5.6v2.5h-5.6zM22.9 414.6h5.6v2.5h-5.6zM75.7 414.6h5.6v2.5h-5.6zM86.2 414.6h5.6v2.5h-5.6zM96.8 414.6h5.6v2.5h-5.6zM102.2 414.6h5.6v2.5h-5.6zM17.6 416.8h5.6v2.5h-5.6zM80.9 416.8h5.6v2.5h-5.6zM91.5 416.8h5.6v2.5h-5.6zM22.9 419.0h5.6v2.5h-5.6zM54.5 419.0h5.6v2.5h-5.6zM59.8 419.0h5.6v2.5h-5.6zM75.7 419.0h5.6v2.5h-5.6zM80.9 419.0h5.6v2.5h-5.6zM91.5 419.0h5.6v2.5h-5.6zM107.5 419.0h5.6v2.5h-5.6zM22.9 421.2h5.6v2.5h-5.6zM59.8 421.2h5.6v2.5h-5.6zM65.1 421.2h5.6v2.5h-5.6zM70.4 421.2h5.6v2.5h-5.6zM75.7 421.2h5.6v2.5h-5.6zM86.2 421.2h5.6v2.5h-5.6zM107.5 421.2h5.6v2.5h-5.6zM12.3 423.5h5.6v2.5h-5.6zM22.9 423.5h5.6v2.5h-5.6zM44.0 423.5h5.6v2.5h-5.6zM91.5 423.5h5.6v2.5h-5.6zM17.6 427.9h5.6v2.5h-5.6zM44.0 427.9h5.6v2.5h-5.6zM54.5 427.9h5.6v2.5h-5.6zM65.1 427.9h5.6v2.5h-5.6zM75.7 427.9h5.6v2.5h-5.6zM175.7 427.9h5.5v2.5h-5.5zM75.7 430.1h5.6v2.5h-5.6zM44.0 432.3h5.6v2.5h-5.6zM49.3 432.3h5.6v2.5h-5.6zM59.8 432.3h5.6v2.5h-5.6zM80.9 432.3h5.6v2.5h-5.6zM49.3 434.5h5.6v2.5h-5.6zM54.5 441.2h5.6v2.5h-5.6zM70.4 441.2h5.6v2.5h-5.6zM75.7 441.2h5.6v2.5h-5.6zM80.9 441.2h5.6v2.5h-5.6zM91.5 441.2h5.6v2.5h-5.6zM96.8 441.2h5.6v2.5h-5.6zM38.7 443.4h5.6v2.5h-5.6zM65.1 443.4h5.6v2.5h-5.6zM54.5 445.6h5.6v2.5h-5.6zM59.8 445.6h5.6v2.5h-5.6zM96.8 445.6h5.6v2.5h-5.6zM22.9 447.8h5.6v2.5h-5.6zM54.5 447.8h5.6v2.5h-5.6zM59.8 447.8h5.6v2.5h-5.6zM191.4 447.8h5.5v2.5h-5.5zM33.4 450.0h5.6v2.5h-5.6zM44.0 450.0h5.6v2.5h-5.6zM54.5 450.0h5.6v2.5h-5.6zM65.1 450.0h5.6v2.5h-5.6zM22.9 452.2h5.6v2.5h-5.6zM49.3 452.2h5.6v2.5h-5.6zM22.9 454.5h5.6v2.5h-5.6zM28.1 454.5h5.6v2.5h-5.6zM49.3 454.5h5.6v2.5h-5.6zM54.5 454.5h5.6v2.5h-5.6zM102.2 454.5h5.6v2.5h-5.6zM65.1 456.7h5.6v2.5h-5.6zM91.5 456.7h5.6v2.5h-5.6zM28.1 458.9h5.6v2.5h-5.6zM44.0 458.9h5.6v2.5h-5.6zM65.1 458.9h5.6v2.5h-5.6zM91.5 458.9h5.6v2.5h-5.6zM17.6 461.1h5.6v2.5h-5.6zM22.9 461.1h5.6v2.5h-5.6zM38.7 461.1h5.6v2.5h-5.6zM12.3 463.3h5.6v2.5h-5.6zM38.7 463.3h5.6v2.5h-5.6zM49.3 463.3h5.6v2.5h-5.6zM54.5 463.3h5.6v2.5h-5.6zM70.4 463.3h5.6v2.5h-5.6zM80.9 463.3h5.6v2.5h-5.6zM22.9 465.5h5.6v2.5h-5.6zM33.4 465.5h5.6v2.5h-5.6zM38.7 465.5h5.6v2.5h-5.6zM59.8 465.5h5.6v2.5h-5.6zM70.4 465.5h5.6v2.5h-5.6zM80.9 465.5h5.6v2.5h-5.6zM28.1 470.0h5.6v2.5h-5.6zM107.5 470.0h5.6v2.5h-5.6zM12.3 472.2h5.6v2.5h-5.6zM28.1 472.2h5.6v2.5h-5.6zM38.7 472.2h5.6v2.5h-5.6zM59.8 472.2h5.6v2.5h-5.6zM65.1 472.2h5.6v2.5h-5.6zM80.9 472.2h5.6v2.5h-5.6zM107.5 472.2h5.6v2.5h-5.6zM17.6 478.8h5.6v2.5h-5.6zM22.9 478.8h5.6v2.5h-5.6zM44.0 478.8h5.6v2.5h-5.6zM49.3 478.8h5.6v2.5h-5.6zM59.8 478.8h5.6v2.5h-5.6zM75.7 478.8h5.6v2.5h-5.6zM96.8 478.8h5.6v2.5h-5.6zM102.2 478.8h5.6v2.5h-5.6zM22.9 481.0h5.6v2.5h-5.6zM44.0 481.0h5.6v2.5h-5.6zM49.3 481.0h5.6v2.5h-5.6zM65.1 481.0h5.6v2.5h-5.6zM70.4 481.0h5.6v2.5h-5.6zM28.1 483.2h5.6v2.5h-5.6zM38.7 489.9h5.6v2.5h-5.6zM80.9 489.9h5.6v2.5h-5.6zM91.5 489.9h5.6v2.5h-5.6zM44.0 492.1h5.6v2.5h-5.6zM54.5 492.1h5.6v2.5h-5.6zM59.8 492.1h5.6v2.5h-5.6zM75.7 492.1h5.6v2.5h-5.6zM96.8 492.1h5.6v2.5h-5.6zM102.2 492.1h5.6v2.5h-5.6zM33.4 494.3h5.6v2.5h-5.6zM44.0 494.3h5.6v2.5h-5.6zM75.7 494.3h5.6v2.5h-5.6zM80.9 494.3h5.6v2.5h-5.6zM86.2 494.3h5.6v2.5h-5.6zM96.8 494.3h5.6v2.5h-5.6zM17.6 496.5h5.6v2.5h-5.6zM22.9 496.5h5.6v2.5h-5.6zM59.8 496.5h5.6v2.5h-5.6zM80.9 496.5h5.6v2.5h-5.6zM91.5 496.5h5.6v2.5h-5.6zM96.8 496.5h5.6v2.5h-5.6zM107.5 496.5h5.6v2.5h-5.6zM86.2 500.9h5.6v2.5h-5.6zM17.6 503.2h5.6v2.5h-5.6zM33.4 503.2h5.6v2.5h-5.6zM65.1 503.2h5.6v2.5h-5.6zM70.4 503.2h5.6v2.5h-5.6zM107.5 503.2h5.6v2.5h-5.6zM28.1 505.4h5.6v2.5h-5.6zM49.3 505.4h5.6v2.5h-5.6zM75.7 505.4h5.6v2.5h-5.6zM22.9 507.6h5.6v2.5h-5.6zM75.7 507.6h5.6v2.5h-5.6zM80.9 507.6h5.6v2.5h-5.6zM86.2 507.6h5.6v2.5h-5.6zM17.6 509.8h5.6v2.5h-5.6zM22.9 509.8h5.6v2.5h-5.6zM33.4 509.8h5.6v2.5h-5.6zM65.1 509.8h5.6v2.5h-5.6zM107.5 509.8h5.6v2.5h-5.6zM17.6 512.0h5.6v2.5h-5.6zM28.1 512.0h5.6v2.5h-5.6zM70.4 512.0h5.6v2.5h-5.6zM33.4 516.4h5.6v2.5h-5.6zM80.9 516.4h5.6v2.5h-5.6zM86.2 516.4h5.6v2.5h-5.6zM102.2 516.4h5.6v2.5h-5.6zM44.0 518.7h5.6v2.5h-5.6zM54.5 518.7h5.6v2.5h-5.6zM80.9 518.7h5.6v2.5h-5.6zM86.2 518.7h5.6v2.5h-5.6zM107.5 518.7h5.6v2.5h-5.6zM38.7 520.9h5.6v2.5h-5.6zM44.0 520.9h5.6v2.5h-5.6zM49.3 520.9h5.6v2.5h-5.6zM59.8 520.9h5.6v2.5h-5.6zM91.5 520.9h5.6v2.5h-5.6zM12.3 525.3h5.6v2.5h-5.6zM22.9 525.3h5.6v2.5h-5.6zM38.7 525.3h5.6v2.5h-5.6zM44.0 525.3h5.6v2.5h-5.6zM54.5 525.3h5.6v2.5h-5.6zM70.4 525.3h5.6v2.5h-5.6zM75.7 525.3h5.6v2.5h-5.6zM102.2 525.3h5.6v2.5h-5.6zM17.6 527.5h5.6v2.5h-5.6zM22.9 527.5h5.6v2.5h-5.6zM28.1 527.5h5.6v2.5h-5.6zM38.7 527.5h5.6v2.5h-5.6zM49.3 527.5h5.6v2.5h-5.6zM65.1 527.5h5.6v2.5h-5.6zM80.9 527.5h5.6v2.5h-5.6zM107.5 527.5h5.6v2.5h-5.6zM22.9 529.7h5.6v2.5h-5.6zM38.7 529.7h5.6v2.5h-5.6zM54.5 529.7h5.6v2.5h-5.6zM65.1 529.7h5.6v2.5h-5.6zM75.7 529.7h5.6v2.5h-5.6zM28.1 531.9h5.6v2.5h-5.6zM59.8 531.9h5.6v2.5h-5.6zM80.9 531.9h5.6v2.5h-5.6zM96.8 531.9h5.6v2.5h-5.6zM22.9 534.2h5.6v2.5h-5.6zM49.3 534.2h5.6v2.5h-5.6zM12.3 538.6h5.6v2.5h-5.6zM54.5 538.6h5.6v2.5h-5.6zM70.4 538.6h5.6v2.5h-5.6zM91.5 538.6h5.6v2.5h-5.6zM65.1 540.8h5.6v2.5h-5.6zM70.4 540.8h5.6v2.5h-5.6zM80.9 540.8h5.6v2.5h-5.6zM107.5 540.8h5.6v2.5h-5.6zM17.6 543.0h5.6v2.5h-5.6zM28.1 543.0h5.6v2.5h-5.6zM59.8 543.0h5.6v2.5h-5.6zM86.2 543.0h5.6v2.5h-5.6zM102.2 543.0h5.6v2.5h-5.6zM12.3 545.2h5.6v2.5h-5.6zM59.8 545.2h5.6v2.5h-5.6zM65.1 545.2h5.6v2.5h-5.6zM86.2 545.2h5.6v2.5h-5.6zM107.5 545.2h5.6v2.5h-5.6zM96.8 547.4h5.6v2.5h-5.6zM17.6 549.7h5.6v2.5h-5.6zM38.7 549.7h5.6v2.5h-5.6zM70.4 549.7h5.6v2.5h-5.6zM91.5 549.7h5.6v2.5h-5.6zM38.7 554.1h5.6v2.5h-5.6zM49.3 554.1h5.6v2.5h-5.6zM75.7 554.1h5.6v2.5h-5.6zM86.2 554.1h5.6v2.5h-5.6zM96.8 554.1h5.6v2.5h-5.6zM17.6 556.3h5.6v2.5h-5.6zM28.1 556.3h5.6v2.5h-5.6zM49.3 556.3h5.6v2.5h-5.6zM75.7 556.3h5.6v2.5h-5.6zM80.9 556.3h5.6v2.5h-5.6zM86.2 556.3h5.6v2.5h-5.6zM96.8 556.3h5.6v2.5h-5.6zM102.2 556.3h5.6v2.5h-5.6zM38.7 560.7h5.6v2.5h-5.6zM44.0 560.7h5.6v2.5h-5.6zM49.3 560.7h5.6v2.5h-5.6zM107.5 560.7h5.6v2.5h-5.6zM22.9 562.9h5.6v2.5h-5.6zM28.1 562.9h5.6v2.5h-5.6zM54.5 562.9h5.6v2.5h-5.6zM86.2 562.9h5.6v2.5h-5.6zM80.9 565.1h5.6v2.5h-5.6zM86.2 565.1h5.6v2.5h-5.6zM102.2 565.1h5.6v2.5h-5.6zM107.5 565.1h5.6v2.5h-5.6zM91.5 567.4h5.6v2.5h-5.6zM38.7 569.6h5.6v2.5h-5.6zM65.1 578.4h5.6v2.5h-5.6zM59.8 580.6h5.6v2.5h-5.6zM107.5 580.6h5.6v2.5h-5.6zM17.6 582.9h5.6v2.5h-5.6zM65.1 582.9h5.6v2.5h-5.6zM75.7 582.9h5.6v2.5h-5.6zM86.2 582.9h5.6v2.5h-5.6zM17.6 585.1h5.6v2.5h-5.6zM38.7 585.1h5.6v2.5h-5.6zM54.5 585.1h5.6v2.5h-5.6zM65.1 585.1h5.6v2.5h-5.6zM70.4 585.1h5.6v2.5h-5.6zM102.2 585.1h5.6v2.5h-5.6zM107.5 585.1h5.6v2.5h-5.6zM54.5 589.5h5.6v2.5h-5.6zM86.2 589.5h5.6v2.5h-5.6zM102.2 589.5h5.6v2.5h-5.6zM17.6 591.7h5.6v2.5h-5.6zM44.0 591.7h5.6v2.5h-5.6zM70.4 591.7h5.6v2.5h-5.6zM80.9 591.7h5.6v2.5h-5.6zM102.2 591.7h5.6v2.5h-5.6zM107.5 591.7h5.6v2.5h-5.6zM33.4 593.9h5.6v2.5h-5.6zM28.1 596.1h5.6v2.5h-5.6zM44.0 596.1h5.6v2.5h-5.6zM59.8 596.1h5.6v2.5h-5.6zM91.5 596.1h5.6v2.5h-5.6zM102.2 596.1h5.6v2.5h-5.6zM17.6 598.4h5.6v2.5h-5.6zM33.4 598.4h5.6v2.5h-5.6zM80.9 598.4h5.6v2.5h-5.6zM49.3 600.6h5.6v2.5h-5.6zM65.1 600.6h5.6v2.5h-5.6z"/>
<path fill="#98c0e9" d="M38.7 365.9h5.6v2.5h-5.6zM70.4 365.9h5.6v2.5h-5.6zM17.6 368.1h5.6v2.5h-5.6zM33.4 368.1h5.6v2.5h-5.6zM91.5 368.1h5.6v2.5h-5.6zM70.4 370.3h5.6v2.5h-5.6zM80.9 370.3h5.6v2.5h-5.6zM12.3 372.5h5.6v2.5h-5.6zM17.6 372.5h5.6v2.5h-5.6zM28.1 372.5h5.6v2.5h-5.6zM38.7 372.5h5.6v2.5h-5.6zM44.0 372.5h5.6v2.5h-5.6zM59.8 372.5h5.6v2.5h-5.6zM91.5 372.5h5.6v2.5h-5.6zM180.9 372.5h5.5v2.5h-5.5zM33.4 374.8h5.6v2.5h-5.6zM102.2 374.8h5.6v2.5h-5.6zM17.6 381.4h5.6v2.5h-5.6zM165.2 381.4h5.5v2.5h-5.5zM96.8 383.6h5.6v2.5h-5.6zM12.3 385.8h5.6v2.5h-5.6zM59.8 385.8h5.6v2.5h-5.6zM22.9 388.0h5.6v2.5h-5.6zM49.3 388.0h5.6v2.5h-5.6zM86.2 388.0h5.6v2.5h-5.6zM149.5 388.0h5.5v2.5h-5.5zM12.3 392.5h5.6v2.5h-5.6zM196.7 392.5h5.5v2.5h-5.5zM196.7 394.7h5.5v2.5h-5.5zM207.1 394.7h5.5v2.5h-5.5zM212.4 394.7h5.5v2.5h-5.5zM128.5 396.9h5.5v2.5h-5.5zM22.9 401.3h5.6v2.5h-5.6zM107.5 401.3h5.6v2.5h-5.6zM254.3 401.3h5.5v2.5h-5.5zM49.3 403.5h5.6v2.5h-5.6zM170.5 403.5h5.5v2.5h-5.5zM149.5 408.0h5.5v2.5h-5.5zM170.5 410.2h5.5v2.5h-5.5zM191.4 410.2h5.5v2.5h-5.5zM17.6 412.4h5.6v2.5h-5.6zM22.9 412.4h5.6v2.5h-5.6zM28.1 412.4h5.6v2.5h-5.6zM44.0 412.4h5.6v2.5h-5.6zM54.5 412.4h5.6v2.5h-5.6zM59.8 412.4h5.6v2.5h-5.6zM65.1 412.4h5.6v2.5h-5.6zM70.4 412.4h5.6v2.5h-5.6zM91.5 412.4h5.6v2.5h-5.6zM96.8 412.4h5.6v2.5h-5.6zM212.4 412.4h5.5v2.5h-5.5zM33.4 414.6h5.6v2.5h-5.6zM91.5 414.6h5.6v2.5h-5.6zM191.4 414.6h5.5v2.5h-5.5zM280.5 414.6h5.5v2.5h-5.5zM175.7 416.8h5.5v2.5h-5.5zM28.1 419.0h5.6v2.5h-5.6zM165.2 419.0h5.5v2.5h-5.5zM17.6 421.2h5.6v2.5h-5.6zM154.7 421.2h5.5v2.5h-5.5zM17.6 423.5h5.6v2.5h-5.6zM65.1 423.5h5.6v2.5h-5.6zM12.3 427.9h5.6v2.5h-5.6zM22.9 427.9h5.6v2.5h-5.6zM70.4 427.9h5.6v2.5h-5.6zM217.6 427.9h5.5v2.5h-5.5zM33.4 434.5h5.6v2.5h-5.6zM38.7 434.5h5.6v2.5h-5.6zM170.5 436.7h5.5v2.5h-5.5zM28.1 439.0h5.6v2.5h-5.6zM38.7 439.0h5.6v2.5h-5.6zM49.3 439.0h5.6v2.5h-5.6zM54.5 439.0h5.6v2.5h-5.6zM65.1 439.0h5.6v2.5h-5.6zM80.9 439.0h5.6v2.5h-5.6zM123.3 439.0h5.5v2.5h-5.5zM196.7 439.0h5.5v2.5h-5.5zM207.1 441.2h5.5v2.5h-5.5zM222.9 441.2h5.5v2.5h-5.5zM160.0 443.4h5.5v2.5h-5.5zM180.9 443.4h5.5v2.5h-5.5zM12.3 445.6h5.6v2.5h-5.6zM139.0 445.6h5.5v2.5h-5.5zM280.5 445.6h5.5v2.5h-5.5zM12.3 447.8h5.6v2.5h-5.6zM107.5 447.8h5.6v2.5h-5.6zM144.2 447.8h5.5v2.5h-5.5zM133.8 452.2h5.5v2.5h-5.5zM170.5 452.2h5.5v2.5h-5.5zM170.5 454.5h5.5v2.5h-5.5zM96.8 458.9h5.6v2.5h-5.6zM70.4 461.1h5.6v2.5h-5.6zM160.0 461.1h5.5v2.5h-5.5zM180.9 461.1h5.5v2.5h-5.5zM144.2 463.3h5.5v2.5h-5.5zM149.5 463.3h5.5v2.5h-5.5zM86.2 465.5h5.6v2.5h-5.6zM175.7 465.5h5.5v2.5h-5.5zM86.2 467.7h5.6v2.5h-5.6zM107.5 467.7h5.6v2.5h-5.6zM238.6 467.7h5.5v2.5h-5.5zM12.3 470.0h5.6v2.5h-5.6zM70.4 472.2h5.6v2.5h-5.6zM160.0 474.4h5.5v2.5h-5.5zM33.4 476.6h5.6v2.5h-5.6zM44.0 476.6h5.6v2.5h-5.6zM65.1 476.6h5.6v2.5h-5.6zM80.9 476.6h5.6v2.5h-5.6zM107.5 476.6h5.6v2.5h-5.6zM54.5 478.8h5.6v2.5h-5.6zM80.9 478.8h5.6v2.5h-5.6zM170.5 478.8h5.5v2.5h-5.5zM12.3 481.0h5.6v2.5h-5.6zM59.8 481.0h5.6v2.5h-5.6zM102.2 481.0h5.6v2.5h-5.6zM107.5 481.0h5.6v2.5h-5.6zM12.3 483.2h5.6v2.5h-5.6zM22.9 483.2h5.6v2.5h-5.6zM54.5 483.2h5.6v2.5h-5.6zM65.1 483.2h5.6v2.5h-5.6zM70.4 483.2h5.6v2.5h-5.6zM86.2 483.2h5.6v2.5h-5.6zM96.8 483.2h5.6v2.5h-5.6zM102.2 483.2h5.6v2.5h-5.6zM107.5 483.2h5.6v2.5h-5.6zM170.5 483.2h5.5v2.5h-5.5zM12.3 485.4h5.6v2.5h-5.6zM22.9 485.4h5.6v2.5h-5.6zM70.4 485.4h5.6v2.5h-5.6zM75.7 485.4h5.6v2.5h-5.6zM201.9 485.4h5.5v2.5h-5.5zM91.5 492.1h5.6v2.5h-5.6zM91.5 494.3h5.6v2.5h-5.6zM207.1 494.3h5.5v2.5h-5.5zM75.7 496.5h5.6v2.5h-5.6zM222.9 496.5h5.5v2.5h-5.5zM12.3 498.7h5.6v2.5h-5.6zM17.6 498.7h5.6v2.5h-5.6zM22.9 498.7h5.6v2.5h-5.6zM44.0 498.7h5.6v2.5h-5.6zM59.8 498.7h5.6v2.5h-5.6zM75.7 498.7h5.6v2.5h-5.6zM96.8 498.7h5.6v2.5h-5.6zM102.2 498.7h5.6v2.5h-5.6zM12.3 500.9h5.6v2.5h-5.6zM28.1 500.9h5.6v2.5h-5.6zM33.4 500.9h5.6v2.5h-5.6zM38.7 500.9h5.6v2.5h-5.6zM54.5 500.9h5.6v2.5h-5.6zM264.8 500.9h5.5v2.5h-5.5zM54.5 503.2h5.6v2.5h-5.6zM133.8 503.2h5.5v2.5h-5.5zM207.1 503.2h5.5v2.5h-5.5zM222.9 503.2h5.5v2.5h-5.5zM165.2 505.4h5.5v2.5h-5.5zM280.5 505.4h5.5v2.5h-5.5zM28.1 507.6h5.6v2.5h-5.6zM33.4 507.6h5.6v2.5h-5.6zM49.3 507.6h5.6v2.5h-5.6zM59.8 507.6h5.6v2.5h-5.6zM102.2 507.6h5.6v2.5h-5.6zM107.5 507.6h5.6v2.5h-5.6zM54.5 509.8h5.6v2.5h-5.6zM33.4 512.0h5.6v2.5h-5.6zM222.9 512.0h5.5v2.5h-5.5zM186.2 514.2h5.5v2.5h-5.5zM91.5 516.4h5.6v2.5h-5.6zM191.4 516.4h5.5v2.5h-5.5zM22.9 518.7h5.6v2.5h-5.6zM228.1 518.7h5.5v2.5h-5.5zM22.9 520.9h5.6v2.5h-5.6zM118.0 520.9h5.5v2.5h-5.5zM207.1 520.9h5.5v2.5h-5.5zM222.9 520.9h5.5v2.5h-5.5zM33.4 525.3h5.6v2.5h-5.6zM91.5 525.3h5.6v2.5h-5.6zM160.0 525.3h5.5v2.5h-5.5zM249.1 525.3h5.5v2.5h-5.5zM54.5 531.9h5.6v2.5h-5.6zM212.4 531.9h5.5v2.5h-5.5zM28.1 534.2h5.6v2.5h-5.6zM38.7 538.6h5.6v2.5h-5.6zM86.2 538.6h5.6v2.5h-5.6zM96.8 538.6h5.6v2.5h-5.6zM102.2 538.6h5.6v2.5h-5.6zM217.6 538.6h5.5v2.5h-5.5zM33.4 540.8h5.6v2.5h-5.6zM33.4 543.0h5.6v2.5h-5.6zM38.7 543.0h5.6v2.5h-5.6zM180.9 543.0h5.5v2.5h-5.5zM33.4 547.4h5.6v2.5h-5.6zM44.0 547.4h5.6v2.5h-5.6zM49.3 547.4h5.6v2.5h-5.6zM59.8 547.4h5.6v2.5h-5.6zM80.9 547.4h5.6v2.5h-5.6zM86.2 547.4h5.6v2.5h-5.6zM33.4 549.7h5.6v2.5h-5.6zM139.0 549.7h5.5v2.5h-5.5zM22.9 556.3h5.6v2.5h-5.6zM59.8 556.3h5.6v2.5h-5.6zM149.5 556.3h5.5v2.5h-5.5zM28.1 560.7h5.6v2.5h-5.6zM65.1 560.7h5.6v2.5h-5.6zM70.4 560.7h5.6v2.5h-5.6zM139.0 562.9h5.5v2.5h-5.5zM96.8 565.1h5.6v2.5h-5.6zM44.0 567.4h5.6v2.5h-5.6zM201.9 567.4h5.5v2.5h-5.5zM222.9 567.4h5.5v2.5h-5.5zM65.1 569.6h5.6v2.5h-5.6zM33.4 571.8h5.6v2.5h-5.6zM38.7 571.8h5.6v2.5h-5.6zM44.0 571.8h5.6v2.5h-5.6zM70.4 571.8h5.6v2.5h-5.6zM170.5 571.8h5.5v2.5h-5.5zM217.6 571.8h5.5v2.5h-5.5zM17.6 578.4h5.6v2.5h-5.6zM128.5 578.4h5.5v2.5h-5.5zM28.1 580.6h5.6v2.5h-5.6zM70.4 580.6h5.6v2.5h-5.6zM12.3 585.1h5.6v2.5h-5.6zM139.0 587.3h5.5v2.5h-5.5zM96.8 589.5h5.6v2.5h-5.6zM28.1 591.7h5.6v2.5h-5.6zM65.1 591.7h5.6v2.5h-5.6zM59.8 593.9h5.6v2.5h-5.6zM123.3 593.9h5.5v2.5h-5.5zM217.6 593.9h5.5v2.5h-5.5zM254.3 593.9h5.5v2.5h-5.5zM12.3 596.1h5.6v2.5h-5.6zM70.4 596.1h5.6v2.5h-5.6zM175.7 596.1h5.5v2.5h-5.5zM91.5 600.6h5.6v2.5h-5.6zM217.6 600.6h5.5v2.5h-5.5zM22.9 602.8h5.6v2.5h-5.6zM28.1 602.8h5.6v2.5h-5.6zM38.7 602.8h5.6v2.5h-5.6zM59.8 602.8h5.6v2.5h-5.6zM65.1 602.8h5.6v2.5h-5.6zM75.7 602.8h5.6v2.5h-5.6zM86.2 602.8h5.6v2.5h-5.6z"/>
<path fill="#4c84cc" d="M44.0 365.9h5.6v2.5h-5.6zM49.3 365.9h5.6v2.5h-5.6zM59.8 365.9h5.6v2.5h-5.6zM28.1 368.1h5.6v2.5h-5.6zM38.7 368.1h5.6v2.5h-5.6zM107.5 368.1h5.6v2.5h-5.6zM12.3 370.3h5.6v2.5h-5.6zM17.6 370.3h5.6v2.5h-5.6zM54.5 370.3h5.6v2.5h-5.6zM12.3 374.8h5.6v2.5h-5.6zM44.0 374.8h5.6v2.5h-5.6zM54.5 374.8h5.6v2.5h-5.6zM65.1 374.8h5.6v2.5h-5.6zM75.7 374.8h5.6v2.5h-5.6zM17.6 377.0h5.6v2.5h-5.6zM22.9 377.0h5.6v2.5h-5.6zM22.9 379.2h5.6v2.5h-5.6zM44.0 379.2h5.6v2.5h-5.6zM86.2 379.2h5.6v2.5h-5.6zM33.4 381.4h5.6v2.5h-5.6zM96.8 381.4h5.6v2.5h-5.6zM12.3 383.6h5.6v2.5h-5.6zM38.7 383.6h5.6v2.5h-5.6zM80.9 383.6h5.6v2.5h-5.6zM22.9 385.8h5.6v2.5h-5.6zM33.4 385.8h5.6v2.5h-5.6zM54.5 385.8h5.6v2.5h-5.6zM75.7 385.8h5.6v2.5h-5.6zM80.9 385.8h5.6v2.5h-5.6zM86.2 385.8h5.6v2.5h-5.6zM22.9 390.3h5.6v2.5h-5.6zM44.0 390.3h5.6v2.5h-5.6zM54.5 390.3h5.6v2.5h-5.6zM75.7 390.3h5.6v2.5h-5.6zM91.5 390.3h5.6v2.5h-5.6zM102.2 390.3h5.6v2.5h-5.6zM17.6 392.5h5.6v2.5h-5.6zM22.9 392.5h5.6v2.5h-5.6zM49.3 392.5h5.6v2.5h-5.6zM59.8 392.5h5.6v2.5h-5.6zM80.9 392.5h5.6v2.5h-5.6zM22.9 396.9h5.6v2.5h-5.6zM33.4 396.9h5.6v2.5h-5.6zM54.5 396.9h5.6v2.5h-5.6zM59.8 396.9h5.6v2.5h-5.6zM107.5 396.9h5.6v2.5h-5.6zM38.7 399.1h5.6v2.5h-5.6zM86.2 399.1h5.6v2.5h-5.6zM96.8 399.1h5.6v2.5h-5.6zM80.9 403.5h5.6v2.5h-5.6zM80.9 408.0h5.6v2.5h-5.6zM22.9 416.8h5.6v2.5h-5.6zM38.7 416.8h5.6v2.5h-5.6zM59.8 416.8h5.6v2.5h-5.6zM107.5 416.8h5.6v2.5h-5.6zM86.2 419.0h5.6v2.5h-5.6zM12.3 421.2h5.6v2.5h-5.6zM54.5 421.2h5.6v2.5h-5.6zM80.9 427.9h5.6v2.5h-5.6zM12.3 430.1h5.6v2.5h-5.6zM28.1 430.1h5.6v2.5h-5.6zM49.3 430.1h5.6v2.5h-5.6zM54.5 430.1h5.6v2.5h-5.6zM59.8 430.1h5.6v2.5h-5.6zM65.1 430.1h5.6v2.5h-5.6zM86.2 430.1h5.6v2.5h-5.6zM91.5 430.1h5.6v2.5h-5.6zM102.2 430.1h5.6v2.5h-5.6zM86.2 432.3h5.6v2.5h-5.6zM102.2 432.3h5.6v2.5h-5.6zM22.9 434.5h5.6v2.5h-5.6zM75.7 434.5h5.6v2.5h-5.6zM80.9 434.5h5.6v2.5h-5.6zM96.8 434.5h5.6v2.5h-5.6zM12.3 441.2h5.6v2.5h-5.6zM44.0 441.2h5.6v2.5h-5.6zM59.8 441.2h5.6v2.5h-5.6zM65.1 441.2h5.6v2.5h-5.6zM22.9 443.4h5.6v2.5h-5.6zM44.0 443.4h5.6v2.5h-5.6zM59.8 443.4h5.6v2.5h-5.6zM17.6 447.8h5.6v2.5h-5.6zM33.4 447.8h5.6v2.5h-5.6zM86.2 447.8h5.6v2.5h-5.6zM91.5 447.8h5.6v2.5h-5.6zM22.9 450.0h5.6v2.5h-5.6zM75.7 450.0h5.6v2.5h-5.6zM54.5 452.2h5.6v2.5h-5.6zM65.1 452.2h5.6v2.5h-5.6zM86.2 452.2h5.6v2.5h-5.6zM91.5 452.2h5.6v2.5h-5.6zM96.8 454.5h5.6v2.5h-5.6zM107.5 454.5h5.6v2.5h-5.6zM70.4 456.7h5.6v2.5h-5.6zM80.9 456.7h5.6v2.5h-5.6zM33.4 458.9h5.6v2.5h-5.6zM49.3 458.9h5.6v2.5h-5.6zM12.3 461.1h5.6v2.5h-5.6zM102.2 461.1h5.6v2.5h-5.6zM54.5 467.7h5.6v2.5h-5.6zM59.8 467.7h5.6v2.5h-5.6zM22.9 470.0h5.6v2.5h-5.6zM59.8 470.0h5.6v2.5h-5.6zM70.4 470.0h5.6v2.5h-5.6zM102.2 470.0h5.6v2.5h-5.6zM33.4 472.2h5.6v2.5h-5.6zM49.3 472.2h5.6v2.5h-5.6zM86.2 472.2h5.6v2.5h-5.6zM102.2 472.2h5.6v2.5h-5.6zM75.7 481.0h5.6v2.5h-5.6zM96.8 481.0h5.6v2.5h-5.6zM12.3 489.9h5.6v2.5h-5.6zM65.1 489.9h5.6v2.5h-5.6zM75.7 489.9h5.6v2.5h-5.6zM65.1 492.1h5.6v2.5h-5.6zM80.9 492.1h5.6v2.5h-5.6zM86.2 492.1h5.6v2.5h-5.6zM17.6 494.3h5.6v2.5h-5.6zM12.3 496.5h5.6v2.5h-5.6zM33.4 496.5h5.6v2.5h-5.6zM86.2 496.5h5.6v2.5h-5.6zM80.9 503.2h5.6v2.5h-5.6zM44.0 505.4h5.6v2.5h-5.6zM54.5 505.4h5.6v2.5h-5.6zM59.8 505.4h5.6v2.5h-5.6zM65.1 505.4h5.6v2.5h-5.6zM80.9 505.4h5.6v2.5h-5.6zM86.2 505.4h5.6v2.5h-5.6zM91.5 505.4h5.6v2.5h-5.6zM44.0 507.6h5.6v2.5h-5.6zM65.1 507.6h5.6v2.5h-5.6zM75.7 512.0h5.6v2.5h-5.6zM91.5 512.0h5.6v2.5h-5.6zM12.3 516.4h5.6v2.5h-5.6zM49.3 516.4h5.6v2.5h-5.6zM91.5 518.7h5.6v2.5h-5.6zM102.2 518.7h5.6v2.5h-5.6zM17.6 520.9h5.6v2.5h-5.6zM54.5 520.9h5.6v2.5h-5.6zM65.1 520.9h5.6v2.5h-5.6zM80.9 520.9h5.6v2.5h-5.6zM91.5 527.5h5.6v2.5h-5.6zM102.2 527.5h5.6v2.5h-5.6zM44.0 529.7h5.6v2.5h-5.6zM102.2 529.7h5.6v2.5h-5.6zM107.5 529.7h5.6v2.5h-5.6zM75.7 531.9h5.6v2.5h-5.6zM17.6 534.2h5.6v2.5h-5.6zM33.4 534.2h5.6v2.5h-5.6zM38.7 534.2h5.6v2.5h-5.6zM59.8 534.2h5.6v2.5h-5.6zM65.1 534.2h5.6v2.5h-5.6zM86.2 534.2h5.6v2.5h-5.6zM91.5 534.2h5.6v2.5h-5.6zM22.9 538.6h5.6v2.5h-5.6zM80.9 538.6h5.6v2.5h-5.6zM80.9 543.0h5.6v2.5h-5.6zM44.0 545.2h5.6v2.5h-5.6zM80.9 545.2h5.6v2.5h-5.6zM44.0 549.7h5.6v2.5h-5.6zM54.5 549.7h5.6v2.5h-5.6zM65.1 549.7h5.6v2.5h-5.6zM86.2 549.7h5.6v2.5h-5.6zM17.6 554.1h5.6v2.5h-5.6zM28.1 554.1h5.6v2.5h-5.6zM44.0 554.1h5.6v2.5h-5.6zM91.5 554.1h5.6v2.5h-5.6zM107.5 554.1h5.6v2.5h-5.6zM91.5 556.3h5.6v2.5h-5.6zM17.6 560.7h5.6v2.5h-5.6zM12.3 562.9h5.6v2.5h-5.6zM33.4 562.9h5.6v2.5h-5.6zM102.2 562.9h5.6v2.5h-5.6zM12.3 565.1h5.6v2.5h-5.6zM91.5 565.1h5.6v2.5h-5.6zM22.9 567.4h5.6v2.5h-5.6zM22.9 569.6h5.6v2.5h-5.6zM86.2 569.6h5.6v2.5h-5.6zM28.1 578.4h5.6v2.5h-5.6zM75.7 578.4h5.6v2.5h-5.6zM80.9 578.4h5.6v2.5h-5.6zM86.2 578.4h5.6v2.5h-5.6zM107.5 578.4h5.6v2.5h-5.6zM17.6 580.6h5.6v2.5h-5.6zM49.3 580.6h5.6v2.5h-5.6zM54.5 580.6h5.6v2.5h-5.6zM75.7 580.6h5.6v2.5h-5.6zM80.9 580.6h5.6v2.5h-5.6zM33.4 582.9h5.6v2.5h-5.6zM59.8 582.9h5.6v2.5h-5.6zM91.5 582.9h5.6v2.5h-5.6zM80.9 585.1h5.6v2.5h-5.6zM86.2 585.1h5.6v2.5h-5.6zM54.5 593.9h5.6v2.5h-5.6zM102.2 593.9h5.6v2.5h-5.6zM80.9 596.1h5.6v2.5h-5.6zM12.3 600.6h5.6v2.5h-5.6zM22.9 600.6h5.6v2.5h-5.6zM28.1 600.6h5.6v2.5h-5.6zM70.4 600.6h5.6v2.5h-5.6zM80.9 600.6h5.6v2.5h-5.6z"/>
<path fill="#83afe2" d="M54.5 365.9h5.6v2.5h-5.6zM86.2 365.9h5.6v2.5h-5.6zM160.0 365.9h5.5v2.5h-5.5zM49.3 368.1h5.6v2.5h-5.6zM102.2 368.1h5.6v2.5h-5.6zM65.1 372.5h5.6v2.5h-5.6zM91.5 374.8h5.6v2.5h-5.6zM44.0 377.0h5.6v2.5h-5.6zM54.5 377.0h5.6v2.5h-5.6zM80.9 377.0h5.6v2.5h-5.6zM28.1 379.2h5.6v2.5h-5.6zM70.4 379.2h5.6v2.5h-5.6zM22.9 381.4h5.6v2.5h-5.6zM59.8 381.4h5.6v2.5h-5.6zM243.8 381.4h5.5v2.5h-5.5zM33.4 383.6h5.6v2.5h-5.6zM86.2 383.6h5.6v2.5h-5.6zM222.9 383.6h5.5v2.5h-5.5zM96.8 385.8h5.6v2.5h-5.6zM154.7 385.8h5.5v2.5h-5.5zM33.4 388.0h5.6v2.5h-5.6zM17.6 390.3h5.6v2.5h-5.6zM28.1 390.3h5.6v2.5h-5.6zM38.7 396.9h5.6v2.5h-5.6zM49.3 399.1h5.6v2.5h-5.6zM102.2 399.1h5.6v2.5h-5.6zM201.9 399.1h5.5v2.5h-5.5zM80.9 401.3h5.6v2.5h-5.6zM65.1 403.5h5.6v2.5h-5.6zM75.7 403.5h5.6v2.5h-5.6zM17.6 405.8h5.6v2.5h-5.6zM65.1 405.8h5.6v2.5h-5.6zM70.4 405.8h5.6v2.5h-5.6zM133.8 405.8h5.5v2.5h-5.5zM285.8 405.8h5.5v2.5h-5.5zM17.6 408.0h5.6v2.5h-5.6zM28.1 408.0h5.6v2.5h-5.6zM54.5 408.0h5.6v2.5h-5.6zM65.1 408.0h5.6v2.5h-5.6zM91.5 408.0h5.6v2.5h-5.6zM212.4 408.0h5.5v2.5h-5.5zM49.3 412.4h5.6v2.5h-5.6zM44.0 414.6h5.6v2.5h-5.6zM54.5 414.6h5.6v2.5h-5.6zM186.2 414.6h5.5v2.5h-5.5zM28.1 416.8h5.6v2.5h-5.6zM44.0 416.8h5.6v2.5h-5.6zM49.3 416.8h5.6v2.5h-5.6zM154.7 416.8h5.5v2.5h-5.5zM12.3 419.0h5.6v2.5h-5.6zM38.7 419.0h5.6v2.5h-5.6zM44.0 419.0h5.6v2.5h-5.6zM102.2 419.0h5.6v2.5h-5.6zM280.5 419.0h5.5v2.5h-5.5zM102.2 421.2h5.6v2.5h-5.6zM70.4 423.5h5.6v2.5h-5.6zM86.2 423.5h5.6v2.5h-5.6zM33.4 427.9h5.6v2.5h-5.6zM96.8 427.9h5.6v2.5h-5.6zM44.0 430.1h5.6v2.5h-5.6zM22.9 432.3h5.6v2.5h-5.6zM54.5 432.3h5.6v2.5h-5.6zM75.7 432.3h5.6v2.5h-5.6zM17.6 439.0h5.6v2.5h-5.6zM44.0 439.0h5.6v2.5h-5.6zM75.7 439.0h5.6v2.5h-5.6zM86.2 439.0h5.6v2.5h-5.6zM107.5 439.0h5.6v2.5h-5.6zM118.0 439.0h5.5v2.5h-5.5zM212.4 439.0h5.5v2.5h-5.5zM28.1 441.2h5.6v2.5h-5.6zM91.5 443.4h5.6v2.5h-5.6zM102.2 443.4h5.6v2.5h-5.6zM165.2 443.4h5.5v2.5h-5.5zM175.7 443.4h5.5v2.5h-5.5zM17.6 445.6h5.6v2.5h-5.6zM49.3 445.6h5.6v2.5h-5.6zM243.8 445.6h5.5v2.5h-5.5zM80.9 447.8h5.6v2.5h-5.6zM28.1 450.0h5.6v2.5h-5.6zM49.3 450.0h5.6v2.5h-5.6zM91.5 450.0h5.6v2.5h-5.6zM33.4 454.5h5.6v2.5h-5.6zM86.2 454.5h5.6v2.5h-5.6zM59.8 456.7h5.6v2.5h-5.6zM86.2 456.7h5.6v2.5h-5.6zM196.7 456.7h5.5v2.5h-5.5zM59.8 458.9h5.6v2.5h-5.6zM80.9 458.9h5.6v2.5h-5.6zM86.2 458.9h5.6v2.5h-5.6zM280.5 458.9h5.5v2.5h-5.5zM28.1 461.1h5.6v2.5h-5.6zM44.0 461.1h5.6v2.5h-5.6zM54.5 461.1h5.6v2.5h-5.6zM86.2 461.1h5.6v2.5h-5.6zM91.5 461.1h5.6v2.5h-5.6zM59.8 463.3h5.6v2.5h-5.6zM75.7 463.3h5.6v2.5h-5.6zM86.2 463.3h5.6v2.5h-5.6zM91.5 463.3h5.6v2.5h-5.6zM96.8 463.3h5.6v2.5h-5.6zM70.4 467.7h5.6v2.5h-5.6zM96.8 467.7h5.6v2.5h-5.6zM33.4 470.0h5.6v2.5h-5.6zM44.0 470.0h5.6v2.5h-5.6zM75.7 470.0h5.6v2.5h-5.6zM144.2 474.4h5.5v2.5h-5.5zM12.3 476.6h5.6v2.5h-5.6zM22.9 476.6h5.6v2.5h-5.6zM28.1 476.6h5.6v2.5h-5.6zM49.3 476.6h5.6v2.5h-5.6zM54.5 476.6h5.6v2.5h-5.6zM75.7 476.6h5.6v2.5h-5.6zM86.2 476.6h5.6v2.5h-5.6zM96.8 476.6h5.6v2.5h-5.6zM102.2 476.6h5.6v2.5h-5.6zM28.1 478.8h5.6v2.5h-5.6zM65.1 478.8h5.6v2.5h-5.6zM91.5 478.8h5.6v2.5h-5.6zM238.6 478.8h5.5v2.5h-5.5zM28.1 481.0h5.6v2.5h-5.6zM38.7 481.0h5.6v2.5h-5.6zM91.5 481.0h5.6v2.5h-5.6zM33.4 483.2h5.6v2.5h-5.6zM59.8 483.2h5.6v2.5h-5.6zM280.5 483.2h5.5v2.5h-5.5zM49.3 485.4h5.6v2.5h-5.6zM33.4 489.9h5.6v2.5h-5.6zM44.0 489.9h5.6v2.5h-5.6zM49.3 489.9h5.6v2.5h-5.6zM59.8 489.9h5.6v2.5h-5.6zM107.5 489.9h5.6v2.5h-5.6zM17.6 492.1h5.6v2.5h-5.6zM28.1 492.1h5.6v2.5h-5.6zM70.4 492.1h5.6v2.5h-5.6zM12.3 494.3h5.6v2.5h-5.6zM59.8 494.3h5.6v2.5h-5.6zM175.7 496.5h5.5v2.5h-5.5zM38.7 498.7h5.6v2.5h-5.6zM49.3 498.7h5.6v2.5h-5.6zM65.1 498.7h5.6v2.5h-5.6zM70.4 498.7h5.6v2.5h-5.6zM91.5 498.7h5.6v2.5h-5.6zM107.5 498.7h5.6v2.5h-5.6zM22.9 500.9h5.6v2.5h-5.6zM59.8 500.9h5.6v2.5h-5.6zM65.1 500.9h5.6v2.5h-5.6zM80.9 500.9h5.6v2.5h-5.6zM102.2 500.9h5.6v2.5h-5.6zM118.0 500.9h5.5v2.5h-5.5zM22.9 503.2h5.6v2.5h-5.6zM38.7 503.2h5.6v2.5h-5.6zM44.0 503.2h5.6v2.5h-5.6zM86.2 503.2h5.6v2.5h-5.6zM91.5 503.2h5.6v2.5h-5.6zM17.6 507.6h5.6v2.5h-5.6zM91.5 507.6h5.6v2.5h-5.6zM96.8 507.6h5.6v2.5h-5.6zM70.4 509.8h5.6v2.5h-5.6zM75.7 509.8h5.6v2.5h-5.6zM96.8 509.8h5.6v2.5h-5.6zM44.0 512.0h5.6v2.5h-5.6zM107.5 512.0h5.6v2.5h-5.6zM44.0 516.4h5.6v2.5h-5.6zM59.8 516.4h5.6v2.5h-5.6zM96.8 516.4h5.6v2.5h-5.6zM107.5 516.4h5.6v2.5h-5.6zM128.5 516.4h5.5v2.5h-5.5zM17.6 518.7h5.6v2.5h-5.6zM49.3 518.7h5.6v2.5h-5.6zM75.7 518.7h5.6v2.5h-5.6zM112.8 520.9h5.5v2.5h-5.5zM154.7 523.1h5.5v2.5h-5.5zM107.5 525.3h5.6v2.5h-5.6zM44.0 527.5h5.6v2.5h-5.6zM70.4 527.5h5.6v2.5h-5.6zM75.7 527.5h5.6v2.5h-5.6zM180.9 527.5h5.5v2.5h-5.5zM49.3 529.7h5.6v2.5h-5.6zM80.9 529.7h5.6v2.5h-5.6zM86.2 529.7h5.6v2.5h-5.6zM123.3 529.7h5.5v2.5h-5.5zM22.9 531.9h5.6v2.5h-5.6zM44.0 531.9h5.6v2.5h-5.6zM49.3 531.9h5.6v2.5h-5.6zM91.5 531.9h5.6v2.5h-5.6zM165.2 534.2h5.5v2.5h-5.5zM17.6 538.6h5.6v2.5h-5.6zM12.3 540.8h5.6v2.5h-5.6zM17.6 540.8h5.6v2.5h-5.6zM54.5 540.8h5.6v2.5h-5.6zM75.7 540.8h5.6v2.5h-5.6zM22.9 543.0h5.6v2.5h-5.6zM49.3 543.0h5.6v2.5h-5.6zM75.7 543.0h5.6v2.5h-5.6zM91.5 543.0h5.6v2.5h-5.6zM28.1 545.2h5.6v2.5h-5.6zM70.4 545.2h5.6v2.5h-5.6zM96.8 545.2h5.6v2.5h-5.6zM38.7 547.4h5.6v2.5h-5.6zM65.1 547.4h5.6v2.5h-5.6zM75.7 549.7h5.6v2.5h-5.6zM102.2 549.7h5.6v2.5h-5.6zM70.4 554.1h5.6v2.5h-5.6zM80.9 554.1h5.6v2.5h-5.6zM28.1 565.1h5.6v2.5h-5.6zM49.3 565.1h5.6v2.5h-5.6zM70.4 565.1h5.6v2.5h-5.6zM75.7 565.1h5.6v2.5h-5.6zM28.1 567.4h5.6v2.5h-5.6zM54.5 567.4h5.6v2.5h-5.6zM65.1 567.4h5.6v2.5h-5.6zM86.2 567.4h5.6v2.5h-5.6zM70.4 569.6h5.6v2.5h-5.6zM12.3 571.8h5.6v2.5h-5.6zM28.1 571.8h5.6v2.5h-5.6zM54.5 571.8h5.6v2.5h-5.6zM22.9 578.4h5.6v2.5h-5.6zM96.8 578.4h5.6v2.5h-5.6zM170.5 578.4h5.5v2.5h-5.5zM243.8 578.4h5.5v2.5h-5.5zM22.9 580.6h5.6v2.5h-5.6zM96.8 580.6h5.6v2.5h-5.6zM12.3 582.9h5.6v2.5h-5.6zM49.3 582.9h5.6v2.5h-5.6zM96.8 582.9h5.6v2.5h-5.6zM107.5 582.9h5.6v2.5h-5.6zM44.0 585.1h5.6v2.5h-5.6zM49.3 589.5h5.6v2.5h-5.6zM75.7 589.5h5.6v2.5h-5.6zM80.9 589.5h5.6v2.5h-5.6zM54.5 591.7h5.6v2.5h-5.6zM12.3 593.9h5.6v2.5h-5.6zM17.6 593.9h5.6v2.5h-5.6zM38.7 593.9h5.6v2.5h-5.6zM49.3 593.9h5.6v2.5h-5.6zM91.5 593.9h5.6v2.5h-5.6zM22.9 596.1h5.6v2.5h-5.6zM49.3 596.1h5.6v2.5h-5.6zM54.5 596.1h5.6v2.5h-5.6zM12.3 598.4h5.6v2.5h-5.6zM44.0 598.4h5.6v2.5h-5.6zM54.5 598.4h5.6v2.5h-5.6zM75.7 598.4h5.6v2.5h-5.6zM17.6 600.6h5.6v2.5h-5.6zM44.0 600.6h5.6v2.5h-5.6zM54.5 600.6h5.6v2.5h-5.6zM107.5 600.6h5.6v2.5h-5.6zM12.3 602.8h5.6v2.5h-5.6zM96.8 602.8h5.6v2.5h-5.6zM170.5 602.8h5.5v2.5h-5.5z"/>
<path fill="#fcfafa" d="M65.1 365.9h5.6v2.5h-5.6zM217.6 365.9h5.5v2.5h-5.5zM54.5 368.1h5.6v2.5h-5.6zM80.9 368.1h5.6v2.5h-5.6zM86.2 368.1h5.6v2.5h-5.6zM154.7 368.1h5.5v2.5h-5.5zM175.7 368.1h5.5v2.5h-5.5zM112.8 370.3h5.5v2.5h-5.5zM118.0 370.3h5.5v2.5h-5.5zM128.5 370.3h5.5v2.5h-5.5zM139.0 370.3h5.5v2.5h-5.5zM154.7 370.3h5.5v2.5h-5.5zM160.0 370.3h5.5v2.5h-5.5zM165.2 370.3h5.5v2.5h-5.5zM175.7 370.3h5.5v2.5h-5.5zM207.1 370.3h5.5v2.5h-5.5zM222.9 370.3h5.5v2.5h-5.5zM280.5 370.3h5.5v2.5h-5.5zM285.8 370.3h5.5v2.5h-5.5zM49.3 372.5h5.6v2.5h-5.6zM86.2 372.5h5.6v2.5h-5.6zM102.2 372.5h5.6v2.5h-5.6zM207.1 374.8h5.5v2.5h-5.5zM222.9 374.8h5.5v2.5h-5.5zM133.8 377.0h5.5v2.5h-5.5zM139.0 377.0h5.5v2.5h-5.5zM144.2 377.0h5.5v2.5h-5.5zM154.7 377.0h5.5v2.5h-5.5zM160.0 377.0h5.5v2.5h-5.5zM191.4 377.0h5.5v2.5h-5.5zM275.3 377.0h5.5v2.5h-5.5zM49.3 379.2h5.6v2.5h-5.6zM112.8 379.2h5.5v2.5h-5.5zM118.0 379.2h5.5v2.5h-5.5zM144.2 379.2h5.5v2.5h-5.5zM160.0 379.2h5.5v2.5h-5.5zM201.9 379.2h5.5v2.5h-5.5zM207.1 379.2h5.5v2.5h-5.5zM212.4 379.2h5.5v2.5h-5.5zM28.1 381.4h5.6v2.5h-5.6zM44.0 381.4h5.6v2.5h-5.6zM133.8 381.4h5.5v2.5h-5.5zM212.4 381.4h5.5v2.5h-5.5zM217.6 381.4h5.5v2.5h-5.5zM112.8 383.6h5.5v2.5h-5.5zM175.7 383.6h5.5v2.5h-5.5zM280.5 383.6h5.5v2.5h-5.5zM28.1 385.8h5.6v2.5h-5.6zM118.0 385.8h5.5v2.5h-5.5zM139.0 385.8h5.5v2.5h-5.5zM186.2 385.8h5.5v2.5h-5.5zM207.1 385.8h5.5v2.5h-5.5zM212.4 385.8h5.5v2.5h-5.5zM217.6 385.8h5.5v2.5h-5.5zM17.6 388.0h5.6v2.5h-5.6zM123.3 390.3h5.5v2.5h-5.5zM128.5 390.3h5.5v2.5h-5.5zM139.0 390.3h5.5v2.5h-5.5zM144.2 390.3h5.5v2.5h-5.5zM160.0 390.3h5.5v2.5h-5.5zM170.5 390.3h5.5v2.5h-5.5zM180.9 390.3h5.5v2.5h-5.5zM186.2 390.3h5.5v2.5h-5.5zM201.9 390.3h5.5v2.5h-5.5zM212.4 390.3h5.5v2.5h-5.5zM217.6 390.3h5.5v2.5h-5.5zM222.9 390.3h5.5v2.5h-5.5zM275.3 390.3h5.5v2.5h-5.5zM118.0 392.5h5.5v2.5h-5.5zM186.2 392.5h5.5v2.5h-5.5zM207.1 392.5h5.5v2.5h-5.5zM212.4 392.5h5.5v2.5h-5.5zM217.6 392.5h5.5v2.5h-5.5zM280.5 392.5h5.5v2.5h-5.5zM17.6 394.7h5.6v2.5h-5.6zM22.9 394.7h5.6v2.5h-5.6zM49.3 394.7h5.6v2.5h-5.6zM70.4 396.9h5.6v2.5h-5.6zM91.5 396.9h5.6v2.5h-5.6zM160.0 396.9h5.5v2.5h-5.5zM175.7 396.9h5.5v2.5h-5.5zM222.9 396.9h5.5v2.5h-5.5zM249.1 396.9h5.5v2.5h-5.5zM275.3 396.9h5.5v2.5h-5.5zM285.8 396.9h5.5v2.5h-5.5zM160.0 399.1h5.5v2.5h-5.5zM191.4 399.1h5.5v2.5h-5.5zM212.4 399.1h5.5v2.5h-5.5zM217.6 399.1h5.5v2.5h-5.5zM28.1 401.3h5.6v2.5h-5.6zM128.5 401.3h5.5v2.5h-5.5zM175.7 401.3h5.5v2.5h-5.5zM212.4 401.3h5.5v2.5h-5.5zM217.6 401.3h5.5v2.5h-5.5zM222.9 401.3h5.5v2.5h-5.5zM59.8 403.5h5.6v2.5h-5.6zM54.5 405.8h5.6v2.5h-5.6zM207.1 405.8h5.5v2.5h-5.5zM212.4 405.8h5.5v2.5h-5.5zM275.3 405.8h5.5v2.5h-5.5zM22.9 408.0h5.6v2.5h-5.6zM128.5 408.0h5.5v2.5h-5.5zM133.8 408.0h5.5v2.5h-5.5zM160.0 408.0h5.5v2.5h-5.5zM165.2 408.0h5.5v2.5h-5.5zM17.6 410.2h5.6v2.5h-5.6zM75.7 410.2h5.6v2.5h-5.6zM91.5 410.2h5.6v2.5h-5.6zM128.5 410.2h5.5v2.5h-5.5zM149.5 410.2h5.5v2.5h-5.5zM175.7 410.2h5.5v2.5h-5.5zM212.4 410.2h5.5v2.5h-5.5zM270.0 410.2h5.5v2.5h-5.5zM12.3 412.4h5.6v2.5h-5.6zM38.7 412.4h5.6v2.5h-5.6zM80.9 412.4h5.6v2.5h-5.6zM128.5 412.4h5.5v2.5h-5.5zM144.2 412.4h5.5v2.5h-5.5zM154.7 412.4h5.5v2.5h-5.5zM170.5 412.4h5.5v2.5h-5.5zM144.2 414.6h5.5v2.5h-5.5zM180.9 414.6h5.5v2.5h-5.5zM196.7 414.6h5.5v2.5h-5.5zM275.3 414.6h5.5v2.5h-5.5zM12.3 416.8h5.6v2.5h-5.6zM123.3 416.8h5.5v2.5h-5.5zM212.4 416.8h5.5v2.5h-5.5zM222.9 416.8h5.5v2.5h-5.5zM33.4 419.0h5.6v2.5h-5.6zM118.0 419.0h5.5v2.5h-5.5zM133.8 419.0h5.5v2.5h-5.5zM139.0 419.0h5.5v2.5h-5.5zM191.4 419.0h5.5v2.5h-5.5zM217.6 419.0h5.5v2.5h-5.5zM222.9 419.0h5.5v2.5h-5.5zM112.8 421.2h5.5v2.5h-5.5zM123.3 421.2h5.5v2.5h-5.5zM222.9 421.2h5.5v2.5h-5.5zM285.8 421.2h5.5v2.5h-5.5zM38.7 423.5h5.6v2.5h-5.6zM128.5 423.5h5.5v2.5h-5.5zM149.5 423.5h5.5v2.5h-5.5zM160.0 423.5h5.5v2.5h-5.5zM165.2 423.5h5.5v2.5h-5.5zM207.1 423.5h5.5v2.5h-5.5zM22.9 425.7h5.6v2.5h-5.6zM49.3 425.7h5.6v2.5h-5.6zM54.5 425.7h5.6v2.5h-5.6zM80.9 425.7h5.6v2.5h-5.6zM107.5 425.7h5.6v2.5h-5.6zM112.8 425.7h5.5v2.5h-5.5zM118.0 425.7h5.5v2.5h-5.5zM133.8 425.7h5.5v2.5h-5.5zM180.9 425.7h5.5v2.5h-5.5zM217.6 425.7h5.5v2.5h-5.5zM28.1 427.9h5.6v2.5h-5.6zM112.8 430.1h5.5v2.5h-5.5zM123.3 430.1h5.5v2.5h-5.5zM170.5 430.1h5.5v2.5h-5.5zM186.2 430.1h5.5v2.5h-5.5zM217.6 430.1h5.5v2.5h-5.5zM65.1 432.3h5.6v2.5h-5.6zM133.8 432.3h5.5v2.5h-5.5zM144.2 432.3h5.5v2.5h-5.5zM170.5 432.3h5.5v2.5h-5.5zM175.7 432.3h5.5v2.5h-5.5zM180.9 432.3h5.5v2.5h-5.5zM196.7 432.3h5.5v2.5h-5.5zM212.4 432.3h5.5v2.5h-5.5zM217.6 432.3h5.5v2.5h-5.5zM222.9 432.3h5.5v2.5h-5.5zM270.0 432.3h5.5v2.5h-5.5zM275.3 432.3h5.5v2.5h-5.5zM128.5 434.5h5.5v2.5h-5.5zM160.0 434.5h5.5v2.5h-5.5zM201.9 434.5h5.5v2.5h-5.5zM12.3 436.7h5.6v2.5h-5.6zM17.6 436.7h5.6v2.5h-5.6zM28.1 436.7h5.6v2.5h-5.6zM54.5 436.7h5.6v2.5h-5.6zM118.0 436.7h5.5v2.5h-5.5zM133.8 436.7h5.5v2.5h-5.5zM180.9 436.7h5.5v2.5h-5.5zM186.2 436.7h5.5v2.5h-5.5zM217.6 436.7h5.5v2.5h-5.5zM12.3 439.0h5.6v2.5h-5.6zM59.8 439.0h5.6v2.5h-5.6zM139.0 439.0h5.5v2.5h-5.5zM186.2 439.0h5.5v2.5h-5.5zM264.8 439.0h5.5v2.5h-5.5zM133.8 441.2h5.5v2.5h-5.5zM139.0 441.2h5.5v2.5h-5.5zM196.7 441.2h5.5v2.5h-5.5zM54.5 443.4h5.6v2.5h-5.6zM154.7 443.4h5.5v2.5h-5.5zM28.1 445.6h5.6v2.5h-5.6zM33.4 445.6h5.6v2.5h-5.6zM102.2 445.6h5.6v2.5h-5.6zM112.8 445.6h5.5v2.5h-5.5zM170.5 445.6h5.5v2.5h-5.5zM75.7 447.8h5.6v2.5h-5.6zM139.0 447.8h5.5v2.5h-5.5zM160.0 447.8h5.5v2.5h-5.5zM186.2 447.8h5.5v2.5h-5.5zM207.1 447.8h5.5v2.5h-5.5zM249.1 447.8h5.5v2.5h-5.5zM38.7 450.0h5.6v2.5h-5.6zM59.8 450.0h5.6v2.5h-5.6zM80.9 450.0h5.6v2.5h-5.6zM123.3 450.0h5.5v2.5h-5.5zM160.0 450.0h5.5v2.5h-5.5zM165.2 450.0h5.5v2.5h-5.5zM180.9 450.0h5.5v2.5h-5.5zM191.4 450.0h5.5v2.5h-5.5zM212.4 450.0h5.5v2.5h-5.5zM222.9 450.0h5.5v2.5h-5.5zM17.6 452.2h5.6v2.5h-5.6zM38.7 452.2h5.6v2.5h-5.6zM112.8 452.2h5.5v2.5h-5.5zM118.0 452.2h5.5v2.5h-5.5zM139.0 452.2h5.5v2.5h-5.5zM144.2 452.2h5.5v2.5h-5.5zM80.9 454.5h5.6v2.5h-5.6zM112.8 454.5h5.5v2.5h-5.5zM123.3 454.5h5.5v2.5h-5.5zM165.2 454.5h5.5v2.5h-5.5zM207.1 454.5h5.5v2.5h-5.5zM118.0 456.7h5.5v2.5h-5.5zM139.0 456.7h5.5v2.5h-5.5zM170.5 456.7h5.5v2.5h-5.5zM186.2 456.7h5.5v2.5h-5.5zM207.1 456.7h5.5v2.5h-5.5zM222.9 456.7h5.5v2.5h-5.5zM70.4 458.9h5.6v2.5h-5.6zM123.3 461.1h5.5v2.5h-5.5zM186.2 461.1h5.5v2.5h-5.5zM118.0 463.3h5.5v2.5h-5.5zM139.0 463.3h5.5v2.5h-5.5zM170.5 463.3h5.5v2.5h-5.5zM186.2 463.3h5.5v2.5h-5.5zM212.4 463.3h5.5v2.5h-5.5zM222.9 463.3h5.5v2.5h-5.5zM12.3 465.5h5.6v2.5h-5.6zM44.0 465.5h5.6v2.5h-5.6zM123.3 465.5h5.5v2.5h-5.5zM128.5 465.5h5.5v2.5h-5.5zM149.5 465.5h5.5v2.5h-5.5zM170.5 465.5h5.5v2.5h-5.5zM186.2 465.5h5.5v2.5h-5.5zM222.9 465.5h5.5v2.5h-5.5zM228.1 465.5h5.5v2.5h-5.5zM22.9 467.7h5.6v2.5h-5.6zM170.5 467.7h5.5v2.5h-5.5zM175.7 467.7h5.5v2.5h-5.5zM186.2 467.7h5.5v2.5h-5.5zM112.8 470.0h5.5v2.5h-5.5zM118.0 470.0h5.5v2.5h-5.5zM128.5 470.0h5.5v2.5h-5.5zM139.0 470.0h5.5v2.5h-5.5zM149.5 470.0h5.5v2.5h-5.5zM154.7 470.0h5.5v2.5h-5.5zM175.7 470.0h5.5v2.5h-5.5zM180.9 470.0h5.5v2.5h-5.5zM186.2 470.0h5.5v2.5h-5.5zM191.4 470.0h5.5v2.5h-5.5zM207.1 470.0h5.5v2.5h-5.5zM212.4 470.0h5.5v2.5h-5.5zM222.9 470.0h5.5v2.5h-5.5zM22.9 474.4h5.6v2.5h-5.6zM75.7 474.4h5.6v2.5h-5.6zM70.4 478.8h5.6v2.5h-5.6zM86.2 481.0h5.6v2.5h-5.6zM123.3 481.0h5.5v2.5h-5.5zM128.5 481.0h5.5v2.5h-5.5zM133.8 481.0h5.5v2.5h-5.5zM139.0 481.0h5.5v2.5h-5.5zM160.0 481.0h5.5v2.5h-5.5zM165.2 481.0h5.5v2.5h-5.5zM175.7 481.0h5.5v2.5h-5.5zM180.9 481.0h5.5v2.5h-5.5zM207.1 481.0h5.5v2.5h-5.5zM212.4 481.0h5.5v2.5h-5.5zM217.6 481.0h5.5v2.5h-5.5zM280.5 481.0h5.5v2.5h-5.5zM118.0 483.2h5.5v2.5h-5.5zM139.0 483.2h5.5v2.5h-5.5zM165.2 483.2h5.5v2.5h-5.5zM180.9 483.2h5.5v2.5h-5.5zM186.2 483.2h5.5v2.5h-5.5zM201.9 483.2h5.5v2.5h-5.5zM238.6 483.2h5.5v2.5h-5.5zM54.5 485.4h5.6v2.5h-5.6zM59.8 485.4h5.6v2.5h-5.6zM91.5 485.4h5.6v2.5h-5.6zM123.3 485.4h5.5v2.5h-5.5zM139.0 485.4h5.5v2.5h-5.5zM175.7 485.4h5.5v2.5h-5.5zM180.9 485.4h5.5v2.5h-5.5zM22.9 487.7h5.6v2.5h-5.6zM86.2 487.7h5.6v2.5h-5.6zM186.2 487.7h5.5v2.5h-5.5zM165.2 489.9h5.5v2.5h-5.5zM175.7 489.9h5.5v2.5h-5.5zM180.9 489.9h5.5v2.5h-5.5zM201.9 489.9h5.5v2.5h-5.5zM212.4 492.1h5.5v2.5h-5.5zM54.5 494.3h5.6v2.5h-5.6zM118.0 494.3h5.5v2.5h-5.5zM196.7 494.3h5.5v2.5h-5.5zM212.4 494.3h5.5v2.5h-5.5zM217.6 494.3h5.5v2.5h-5.5zM123.3 496.5h5.5v2.5h-5.5zM170.5 496.5h5.5v2.5h-5.5zM180.9 496.5h5.5v2.5h-5.5zM186.2 496.5h5.5v2.5h-5.5zM28.1 498.7h5.6v2.5h-5.6zM33.4 498.7h5.6v2.5h-5.6zM112.8 498.7h5.5v2.5h-5.5zM128.5 498.7h5.5v2.5h-5.5zM133.8 498.7h5.5v2.5h-5.5zM139.0 498.7h5.5v2.5h-5.5zM149.5 498.7h5.5v2.5h-5.5zM165.2 498.7h5.5v2.5h-5.5zM170.5 498.7h5.5v2.5h-5.5zM175.7 498.7h5.5v2.5h-5.5zM191.4 498.7h5.5v2.5h-5.5zM207.1 498.7h5.5v2.5h-5.5zM212.4 498.7h5.5v2.5h-5.5zM222.9 498.7h5.5v2.5h-5.5zM75.7 500.9h5.6v2.5h-5.6zM123.3 500.9h5.5v2.5h-5.5zM222.9 500.9h5.5v2.5h-5.5zM28.1 503.2h5.6v2.5h-5.6zM175.7 505.4h5.5v2.5h-5.5zM180.9 505.4h5.5v2.5h-5.5zM222.9 505.4h5.5v2.5h-5.5zM228.1 505.4h5.5v2.5h-5.5zM12.3 507.6h5.6v2.5h-5.6zM175.7 507.6h5.5v2.5h-5.5zM196.7 507.6h5.5v2.5h-5.5zM139.0 509.8h5.5v2.5h-5.5zM160.0 509.8h5.5v2.5h-5.5zM165.2 509.8h5.5v2.5h-5.5zM186.2 509.8h5.5v2.5h-5.5zM212.4 509.8h5.5v2.5h-5.5zM217.6 509.8h5.5v2.5h-5.5zM12.3 512.0h5.6v2.5h-5.6zM49.3 512.0h5.6v2.5h-5.6zM118.0 512.0h5.5v2.5h-5.5zM180.9 512.0h5.5v2.5h-5.5zM196.7 512.0h5.5v2.5h-5.5zM212.4 512.0h5.5v2.5h-5.5zM217.6 512.0h5.5v2.5h-5.5zM17.6 514.2h5.6v2.5h-5.6zM33.4 514.2h5.6v2.5h-5.6zM118.0 514.2h5.5v2.5h-5.5zM139.0 514.2h5.5v2.5h-5.5zM144.2 514.2h5.5v2.5h-5.5zM180.9 514.2h5.5v2.5h-5.5zM233.3 514.2h5.5v2.5h-5.5zM54.5 516.4h5.6v2.5h-5.6zM133.8 516.4h5.5v2.5h-5.5zM149.5 516.4h5.5v2.5h-5.5zM186.2 516.4h5.5v2.5h-5.5zM196.7 516.4h5.5v2.5h-5.5zM128.5 518.7h5.5v2.5h-5.5zM160.0 518.7h5.5v2.5h-5.5zM212.4 518.7h5.5v2.5h-5.5zM238.6 518.7h5.5v2.5h-5.5zM280.5 518.7h5.5v2.5h-5.5zM170.5 520.9h5.5v2.5h-5.5zM186.2 520.9h5.5v2.5h-5.5zM212.4 520.9h5.5v2.5h-5.5zM28.1 523.1h5.6v2.5h-5.6zM49.3 523.1h5.6v2.5h-5.6zM139.0 523.1h5.5v2.5h-5.5zM160.0 523.1h5.5v2.5h-5.5zM217.6 523.1h5.5v2.5h-5.5zM65.1 525.3h5.6v2.5h-5.6zM196.7 525.3h5.5v2.5h-5.5zM201.9 525.3h5.5v2.5h-5.5zM207.1 525.3h5.5v2.5h-5.5zM12.3 527.5h5.6v2.5h-5.6zM160.0 527.5h5.5v2.5h-5.5zM170.5 527.5h5.5v2.5h-5.5zM217.6 527.5h5.5v2.5h-5.5zM65.1 531.9h5.6v2.5h-5.6zM118.0 531.9h5.5v2.5h-5.5zM180.9 531.9h5.5v2.5h-5.5zM243.8 531.9h5.5v2.5h-5.5zM275.3 531.9h5.5v2.5h-5.5zM12.3 536.4h5.6v2.5h-5.6zM128.5 536.4h5.5v2.5h-5.5zM180.9 536.4h5.5v2.5h-5.5zM207.1 536.4h5.5v2.5h-5.5zM212.4 536.4h5.5v2.5h-5.5zM217.6 536.4h5.5v2.5h-5.5zM280.5 536.4h5.5v2.5h-5.5zM59.8 538.6h5.6v2.5h-5.6zM28.1 540.8h5.6v2.5h-5.6zM191.4 540.8h5.5v2.5h-5.5zM196.7 540.8h5.5v2.5h-5.5zM207.1 540.8h5.5v2.5h-5.5zM222.9 540.8h5.5v2.5h-5.5zM44.0 543.0h5.6v2.5h-5.6zM65.1 543.0h5.6v2.5h-5.6zM170.5 543.0h5.5v2.5h-5.5zM212.4 543.0h5.5v2.5h-5.5zM17.6 545.2h5.6v2.5h-5.6zM22.9 545.2h5.6v2.5h-5.6zM54.5 545.2h5.6v2.5h-5.6zM112.8 545.2h5.5v2.5h-5.5zM133.8 545.2h5.5v2.5h-5.5zM154.7 545.2h5.5v2.5h-5.5zM160.0 545.2h5.5v2.5h-5.5zM170.5 545.2h5.5v2.5h-5.5zM180.9 545.2h5.5v2.5h-5.5zM196.7 545.2h5.5v2.5h-5.5zM212.4 545.2h5.5v2.5h-5.5zM12.3 547.4h5.6v2.5h-5.6zM128.5 547.4h5.5v2.5h-5.5zM133.8 547.4h5.5v2.5h-5.5zM139.0 547.4h5.5v2.5h-5.5zM149.5 547.4h5.5v2.5h-5.5zM165.2 547.4h5.5v2.5h-5.5zM170.5 547.4h5.5v2.5h-5.5zM201.9 547.4h5.5v2.5h-5.5zM222.9 547.4h5.5v2.5h-5.5zM275.3 547.4h5.5v2.5h-5.5zM80.9 549.7h5.6v2.5h-5.6zM207.1 549.7h5.5v2.5h-5.5zM280.5 549.7h5.5v2.5h-5.5zM80.9 551.9h5.6v2.5h-5.6zM86.2 551.9h5.6v2.5h-5.6zM165.2 551.9h5.5v2.5h-5.5zM139.0 554.1h5.5v2.5h-5.5zM170.5 554.1h5.5v2.5h-5.5zM222.9 554.1h5.5v2.5h-5.5zM264.8 554.1h5.5v2.5h-5.5zM133.8 556.3h5.5v2.5h-5.5zM139.0 556.3h5.5v2.5h-5.5zM154.7 556.3h5.5v2.5h-5.5zM175.7 556.3h5.5v2.5h-5.5zM222.9 556.3h5.5v2.5h-5.5zM17.6 558.5h5.6v2.5h-5.6zM28.1 558.5h5.6v2.5h-5.6zM33.4 558.5h5.6v2.5h-5.6zM49.3 558.5h5.6v2.5h-5.6zM96.8 558.5h5.6v2.5h-5.6zM180.9 558.5h5.5v2.5h-5.5zM186.2 558.5h5.5v2.5h-5.5zM191.4 558.5h5.5v2.5h-5.5zM212.4 558.5h5.5v2.5h-5.5zM254.3 558.5h5.5v2.5h-5.5zM54.5 560.7h5.6v2.5h-5.6zM128.5 560.7h5.5v2.5h-5.5zM149.5 560.7h5.5v2.5h-5.5zM212.4 560.7h5.5v2.5h-5.5zM217.6 560.7h5.5v2.5h-5.5zM238.6 560.7h5.5v2.5h-5.5zM217.6 562.9h5.5v2.5h-5.5zM170.5 565.1h5.5v2.5h-5.5zM222.9 565.1h5.5v2.5h-5.5zM96.8 567.4h5.6v2.5h-5.6zM102.2 567.4h5.6v2.5h-5.6zM180.9 567.4h5.5v2.5h-5.5zM186.2 567.4h5.5v2.5h-5.5zM217.6 567.4h5.5v2.5h-5.5zM96.8 569.6h5.6v2.5h-5.6zM118.0 569.6h5.5v2.5h-5.5zM133.8 569.6h5.5v2.5h-5.5zM139.0 569.6h5.5v2.5h-5.5zM154.7 569.6h5.5v2.5h-5.5zM165.2 569.6h5.5v2.5h-5.5zM180.9 569.6h5.5v2.5h-5.5zM186.2 569.6h5.5v2.5h-5.5zM191.4 569.6h5.5v2.5h-5.5zM207.1 569.6h5.5v2.5h-5.5zM275.3 569.6h5.5v2.5h-5.5zM280.5 569.6h5.5v2.5h-5.5zM17.6 571.8h5.6v2.5h-5.6zM86.2 571.8h5.6v2.5h-5.6zM139.0 571.8h5.5v2.5h-5.5zM191.4 571.8h5.5v2.5h-5.5zM212.4 571.8h5.5v2.5h-5.5zM222.9 571.8h5.5v2.5h-5.5zM12.3 574.0h5.6v2.5h-5.6zM118.0 574.0h5.5v2.5h-5.5zM123.3 574.0h5.5v2.5h-5.5zM154.7 574.0h5.5v2.5h-5.5zM160.0 574.0h5.5v2.5h-5.5zM180.9 574.0h5.5v2.5h-5.5zM212.4 574.0h5.5v2.5h-5.5zM217.6 574.0h5.5v2.5h-5.5zM222.9 574.0h5.5v2.5h-5.5zM80.9 576.2h5.6v2.5h-5.6zM102.2 576.2h5.6v2.5h-5.6zM123.3 576.2h5.5v2.5h-5.5zM128.5 576.2h5.5v2.5h-5.5zM133.8 576.2h5.5v2.5h-5.5zM149.5 576.2h5.5v2.5h-5.5zM196.7 576.2h5.5v2.5h-5.5zM118.0 580.6h5.5v2.5h-5.5zM54.5 582.9h5.6v2.5h-5.6zM123.3 582.9h5.5v2.5h-5.5zM133.8 582.9h5.5v2.5h-5.5zM217.6 582.9h5.5v2.5h-5.5zM233.3 582.9h5.5v2.5h-5.5zM33.4 585.1h5.6v2.5h-5.6zM75.7 585.1h5.6v2.5h-5.6zM112.8 585.1h5.5v2.5h-5.5zM123.3 585.1h5.5v2.5h-5.5zM128.5 585.1h5.5v2.5h-5.5zM133.8 585.1h5.5v2.5h-5.5zM139.0 585.1h5.5v2.5h-5.5zM149.5 585.1h5.5v2.5h-5.5zM154.7 585.1h5.5v2.5h-5.5zM170.5 585.1h5.5v2.5h-5.5zM201.9 585.1h5.5v2.5h-5.5zM207.1 585.1h5.5v2.5h-5.5zM212.4 585.1h5.5v2.5h-5.5zM238.6 585.1h5.5v2.5h-5.5zM12.3 587.3h5.6v2.5h-5.6zM22.9 587.3h5.6v2.5h-5.6zM191.4 587.3h5.5v2.5h-5.5zM217.6 587.3h5.5v2.5h-5.5zM280.5 587.3h5.5v2.5h-5.5zM38.7 589.5h5.6v2.5h-5.6zM59.8 589.5h5.6v2.5h-5.6zM149.5 589.5h5.5v2.5h-5.5zM160.0 589.5h5.5v2.5h-5.5zM170.5 589.5h5.5v2.5h-5.5zM207.1 589.5h5.5v2.5h-5.5zM212.4 589.5h5.5v2.5h-5.5zM222.9 589.5h5.5v2.5h-5.5zM264.8 589.5h5.5v2.5h-5.5zM75.7 591.7h5.6v2.5h-5.6zM160.0 591.7h5.5v2.5h-5.5zM212.4 591.7h5.5v2.5h-5.5zM249.1 591.7h5.5v2.5h-5.5zM44.0 593.9h5.6v2.5h-5.6zM80.9 593.9h5.6v2.5h-5.6zM128.5 593.9h5.5v2.5h-5.5zM133.8 593.9h5.5v2.5h-5.5zM139.0 593.9h5.5v2.5h-5.5zM175.7 593.9h5.5v2.5h-5.5zM207.1 593.9h5.5v2.5h-5.5zM212.4 593.9h5.5v2.5h-5.5zM65.1 596.1h5.6v2.5h-5.6zM154.7 596.1h5.5v2.5h-5.5zM123.3 598.4h5.5v2.5h-5.5zM128.5 598.4h5.5v2.5h-5.5zM170.5 598.4h5.5v2.5h-5.5zM201.9 598.4h5.5v2.5h-5.5zM207.1 598.4h5.5v2.5h-5.5zM217.6 598.4h5.5v2.5h-5.5zM222.9 598.4h5.5v2.5h-5.5zM128.5 600.6h5.5v2.5h-5.5zM144.2 600.6h5.5v2.5h-5.5zM165.2 600.6h5.5v2.5h-5.5zM196.7 600.6h5.5v2.5h-5.5zM222.9 600.6h5.5v2.5h-5.5zM254.3 600.6h5.5v2.5h-5.5zM33.4 602.8h5.6v2.5h-5.6zM44.0 602.8h5.6v2.5h-5.6zM128.5 602.8h5.5v2.5h-5.5zM175.7 602.8h5.5v2.5h-5.5zM180.9 602.8h5.5v2.5h-5.5z"/>
<path fill="#c9ddf2" d="M75.7 365.9h5.6v2.5h-5.6zM102.2 365.9h5.6v2.5h-5.6zM75.7 368.1h5.6v2.5h-5.6zM70.4 372.5h5.6v2.5h-5.6zM80.9 372.5h5.6v2.5h-5.6zM107.5 372.5h5.6v2.5h-5.6zM191.4 372.5h5.5v2.5h-5.5zM139.0 374.8h5.5v2.5h-5.5zM180.9 374.8h5.5v2.5h-5.5zM207.1 377.0h5.5v2.5h-5.5zM170.5 388.0h5.5v2.5h-5.5zM12.3 394.7h5.6v2.5h-5.6zM44.0 394.7h5.6v2.5h-5.6zM54.5 394.7h5.6v2.5h-5.6zM59.8 394.7h5.6v2.5h-5.6zM80.9 394.7h5.6v2.5h-5.6zM86.2 394.7h5.6v2.5h-5.6zM91.5 394.7h5.6v2.5h-5.6zM102.2 394.7h5.6v2.5h-5.6zM154.7 394.7h5.5v2.5h-5.5zM160.0 394.7h5.5v2.5h-5.5zM217.6 394.7h5.5v2.5h-5.5zM17.6 396.9h5.6v2.5h-5.6zM212.4 396.9h5.5v2.5h-5.5zM175.7 403.5h5.5v2.5h-5.5zM180.9 403.5h5.5v2.5h-5.5zM186.2 403.5h5.5v2.5h-5.5zM170.5 405.8h5.5v2.5h-5.5zM12.3 410.2h5.6v2.5h-5.6zM22.9 410.2h5.6v2.5h-5.6zM33.4 410.2h5.6v2.5h-5.6zM44.0 410.2h5.6v2.5h-5.6zM49.3 410.2h5.6v2.5h-5.6zM59.8 410.2h5.6v2.5h-5.6zM65.1 410.2h5.6v2.5h-5.6zM102.2 410.2h5.6v2.5h-5.6zM33.4 416.8h5.6v2.5h-5.6zM186.2 419.0h5.5v2.5h-5.5zM175.7 421.2h5.5v2.5h-5.5zM112.8 423.5h5.5v2.5h-5.5zM17.6 425.7h5.6v2.5h-5.6zM28.1 425.7h5.6v2.5h-5.6zM33.4 425.7h5.6v2.5h-5.6zM38.7 425.7h5.6v2.5h-5.6zM65.1 425.7h5.6v2.5h-5.6zM70.4 425.7h5.6v2.5h-5.6zM75.7 425.7h5.6v2.5h-5.6zM96.8 425.7h5.6v2.5h-5.6zM102.2 425.7h5.6v2.5h-5.6zM123.3 425.7h5.5v2.5h-5.5zM149.5 425.7h5.5v2.5h-5.5zM264.8 425.7h5.5v2.5h-5.5zM160.0 427.9h5.5v2.5h-5.5zM207.1 427.9h5.5v2.5h-5.5zM139.0 430.1h5.5v2.5h-5.5zM165.2 430.1h5.5v2.5h-5.5zM222.9 430.1h5.5v2.5h-5.5zM175.7 434.5h5.5v2.5h-5.5zM212.4 434.5h5.5v2.5h-5.5zM33.4 436.7h5.6v2.5h-5.6zM44.0 436.7h5.6v2.5h-5.6zM49.3 436.7h5.6v2.5h-5.6zM59.8 436.7h5.6v2.5h-5.6zM70.4 436.7h5.6v2.5h-5.6zM75.7 436.7h5.6v2.5h-5.6zM80.9 436.7h5.6v2.5h-5.6zM102.2 436.7h5.6v2.5h-5.6zM107.5 436.7h5.6v2.5h-5.6zM22.9 439.0h5.6v2.5h-5.6zM96.8 439.0h5.6v2.5h-5.6zM102.2 439.0h5.6v2.5h-5.6zM243.8 441.2h5.5v2.5h-5.5zM249.1 443.4h5.5v2.5h-5.5zM144.2 445.6h5.5v2.5h-5.5zM233.3 445.6h5.5v2.5h-5.5zM49.3 447.8h5.6v2.5h-5.6zM165.2 447.8h5.5v2.5h-5.5zM112.8 450.0h5.5v2.5h-5.5zM75.7 452.2h5.6v2.5h-5.6zM212.4 454.5h5.5v2.5h-5.5zM112.8 458.9h5.5v2.5h-5.5zM160.0 458.9h5.5v2.5h-5.5zM212.4 461.1h5.5v2.5h-5.5zM228.1 461.1h5.5v2.5h-5.5zM65.1 465.5h5.6v2.5h-5.6zM33.4 467.7h5.6v2.5h-5.6zM91.5 467.7h5.6v2.5h-5.6zM165.2 467.7h5.5v2.5h-5.5zM254.3 467.7h5.5v2.5h-5.5zM243.8 472.2h5.5v2.5h-5.5zM17.6 474.4h5.6v2.5h-5.6zM28.1 474.4h5.6v2.5h-5.6zM44.0 474.4h5.6v2.5h-5.6zM49.3 474.4h5.6v2.5h-5.6zM54.5 474.4h5.6v2.5h-5.6zM80.9 474.4h5.6v2.5h-5.6zM96.8 474.4h5.6v2.5h-5.6zM107.5 474.4h5.6v2.5h-5.6zM112.8 474.4h5.5v2.5h-5.5zM186.2 474.4h5.5v2.5h-5.5zM201.9 474.4h5.5v2.5h-5.5zM207.1 474.4h5.5v2.5h-5.5zM17.6 476.6h5.6v2.5h-5.6zM139.0 476.6h5.5v2.5h-5.5zM238.6 476.6h5.5v2.5h-5.5zM165.2 478.8h5.5v2.5h-5.5zM196.7 478.8h5.5v2.5h-5.5zM207.1 478.8h5.5v2.5h-5.5zM49.3 483.2h5.6v2.5h-5.6zM128.5 483.2h5.5v2.5h-5.5zM222.9 483.2h5.5v2.5h-5.5zM254.3 483.2h5.5v2.5h-5.5zM80.9 485.4h5.6v2.5h-5.6zM212.4 485.4h5.5v2.5h-5.5zM12.3 487.7h5.6v2.5h-5.6zM17.6 487.7h5.6v2.5h-5.6zM44.0 487.7h5.6v2.5h-5.6zM54.5 487.7h5.6v2.5h-5.6zM65.1 487.7h5.6v2.5h-5.6zM70.4 487.7h5.6v2.5h-5.6zM91.5 487.7h5.6v2.5h-5.6zM96.8 487.7h5.6v2.5h-5.6zM102.2 487.7h5.6v2.5h-5.6zM212.4 489.9h5.5v2.5h-5.5zM186.2 492.1h5.5v2.5h-5.5zM22.9 494.3h5.6v2.5h-5.6zM38.7 494.3h5.6v2.5h-5.6zM54.5 498.7h5.6v2.5h-5.6zM96.8 500.9h5.6v2.5h-5.6zM186.2 500.9h5.5v2.5h-5.5zM17.6 505.4h5.6v2.5h-5.6zM154.7 507.6h5.5v2.5h-5.5zM180.9 507.6h5.5v2.5h-5.5zM207.1 507.6h5.5v2.5h-5.5zM12.3 514.2h5.6v2.5h-5.6zM22.9 514.2h5.6v2.5h-5.6zM28.1 514.2h5.6v2.5h-5.6zM70.4 514.2h5.6v2.5h-5.6zM80.9 514.2h5.6v2.5h-5.6zM86.2 514.2h5.6v2.5h-5.6zM91.5 514.2h5.6v2.5h-5.6zM96.8 514.2h5.6v2.5h-5.6zM102.2 514.2h5.6v2.5h-5.6zM133.8 514.2h5.5v2.5h-5.5zM17.6 523.1h5.6v2.5h-5.6zM22.9 523.1h5.6v2.5h-5.6zM33.4 523.1h5.6v2.5h-5.6zM44.0 523.1h5.6v2.5h-5.6zM54.5 523.1h5.6v2.5h-5.6zM59.8 523.1h5.6v2.5h-5.6zM65.1 523.1h5.6v2.5h-5.6zM75.7 523.1h5.6v2.5h-5.6zM91.5 523.1h5.6v2.5h-5.6zM102.2 523.1h5.6v2.5h-5.6zM186.2 523.1h5.5v2.5h-5.5zM139.0 525.3h5.5v2.5h-5.5zM222.9 529.7h5.5v2.5h-5.5zM44.0 534.2h5.6v2.5h-5.6zM212.4 534.2h5.5v2.5h-5.5zM217.6 534.2h5.5v2.5h-5.5zM17.6 536.4h5.6v2.5h-5.6zM22.9 536.4h5.6v2.5h-5.6zM28.1 536.4h5.6v2.5h-5.6zM38.7 536.4h5.6v2.5h-5.6zM44.0 536.4h5.6v2.5h-5.6zM49.3 536.4h5.6v2.5h-5.6zM75.7 536.4h5.6v2.5h-5.6zM80.9 536.4h5.6v2.5h-5.6zM91.5 536.4h5.6v2.5h-5.6zM102.2 536.4h5.6v2.5h-5.6zM107.5 536.4h5.6v2.5h-5.6zM118.0 536.4h5.5v2.5h-5.5zM186.2 536.4h5.5v2.5h-5.5zM75.7 538.6h5.6v2.5h-5.6zM207.1 538.6h5.5v2.5h-5.5zM212.4 538.6h5.5v2.5h-5.5zM54.5 543.0h5.6v2.5h-5.6zM112.8 543.0h5.5v2.5h-5.5zM91.5 545.2h5.6v2.5h-5.6zM275.3 545.2h5.5v2.5h-5.5zM54.5 547.4h5.6v2.5h-5.6zM254.3 547.4h5.5v2.5h-5.5zM22.9 551.9h5.6v2.5h-5.6zM28.1 551.9h5.6v2.5h-5.6zM33.4 551.9h5.6v2.5h-5.6zM54.5 551.9h5.6v2.5h-5.6zM59.8 551.9h5.6v2.5h-5.6zM91.5 551.9h5.6v2.5h-5.6zM54.5 554.1h5.6v2.5h-5.6zM123.3 554.1h5.5v2.5h-5.5zM144.2 554.1h5.5v2.5h-5.5zM175.7 554.1h5.5v2.5h-5.5zM180.9 556.3h5.5v2.5h-5.5zM12.3 558.5h5.6v2.5h-5.6zM22.9 558.5h5.6v2.5h-5.6zM38.7 558.5h5.6v2.5h-5.6zM44.0 558.5h5.6v2.5h-5.6zM54.5 558.5h5.6v2.5h-5.6zM59.8 558.5h5.6v2.5h-5.6zM65.1 558.5h5.6v2.5h-5.6zM75.7 558.5h5.6v2.5h-5.6zM80.9 558.5h5.6v2.5h-5.6zM86.2 558.5h5.6v2.5h-5.6zM91.5 558.5h5.6v2.5h-5.6zM102.2 558.5h5.6v2.5h-5.6zM17.6 565.1h5.6v2.5h-5.6zM191.4 565.1h5.5v2.5h-5.5zM118.0 567.4h5.5v2.5h-5.5zM149.5 569.6h5.5v2.5h-5.5zM65.1 571.8h5.6v2.5h-5.6zM107.5 571.8h5.6v2.5h-5.6zM196.7 571.8h5.5v2.5h-5.5zM22.9 574.0h5.6v2.5h-5.6zM28.1 574.0h5.6v2.5h-5.6zM38.7 574.0h5.6v2.5h-5.6zM44.0 574.0h5.6v2.5h-5.6zM49.3 574.0h5.6v2.5h-5.6zM86.2 574.0h5.6v2.5h-5.6zM91.5 574.0h5.6v2.5h-5.6zM102.2 574.0h5.6v2.5h-5.6zM107.5 574.0h5.6v2.5h-5.6zM133.8 574.0h5.5v2.5h-5.5zM149.5 574.0h5.5v2.5h-5.5zM186.2 574.0h5.5v2.5h-5.5zM201.9 574.0h5.5v2.5h-5.5zM12.3 576.2h5.6v2.5h-5.6zM22.9 576.2h5.6v2.5h-5.6zM28.1 576.2h5.6v2.5h-5.6zM33.4 576.2h5.6v2.5h-5.6zM49.3 576.2h5.6v2.5h-5.6zM54.5 576.2h5.6v2.5h-5.6zM59.8 576.2h5.6v2.5h-5.6zM70.4 576.2h5.6v2.5h-5.6zM86.2 576.2h5.6v2.5h-5.6zM107.5 576.2h5.6v2.5h-5.6zM201.9 576.2h5.5v2.5h-5.5zM54.5 578.4h5.6v2.5h-5.6zM12.3 580.6h5.6v2.5h-5.6zM144.2 580.6h5.5v2.5h-5.5zM17.6 587.3h5.6v2.5h-5.6zM33.4 587.3h5.6v2.5h-5.6zM44.0 587.3h5.6v2.5h-5.6zM54.5 587.3h5.6v2.5h-5.6zM59.8 587.3h5.6v2.5h-5.6zM65.1 587.3h5.6v2.5h-5.6zM75.7 587.3h5.6v2.5h-5.6zM86.2 587.3h5.6v2.5h-5.6zM149.5 587.3h5.5v2.5h-5.5zM165.2 589.5h5.5v2.5h-5.5zM139.0 591.7h5.5v2.5h-5.5zM107.5 598.4h5.6v2.5h-5.6zM59.8 600.6h5.6v2.5h-5.6zM49.3 602.8h5.6v2.5h-5.6zM70.4 602.8h5.6v2.5h-5.6zM91.5 602.8h5.6v2.5h-5.6zM133.8 602.8h5.5v2.5h-5.5z"/>
<path fill="#f9d0c6" d="M107.5 365.9h5.6v2.5h-5.6zM254.3 365.9h5.5v2.5h-5.5zM123.3 368.1h5.5v2.5h-5.5zM128.5 368.1h5.5v2.5h-5.5zM222.9 368.1h5.5v2.5h-5.5zM238.6 370.3h5.5v2.5h-5.5zM75.7 372.5h5.6v2.5h-5.6zM128.5 372.5h5.5v2.5h-5.5zM144.2 372.5h5.5v2.5h-5.5zM201.9 372.5h5.5v2.5h-5.5zM280.5 372.5h5.5v2.5h-5.5zM112.8 374.8h5.5v2.5h-5.5zM186.2 374.8h5.5v2.5h-5.5zM175.7 377.0h5.5v2.5h-5.5zM186.2 377.0h5.5v2.5h-5.5zM254.3 377.0h5.5v2.5h-5.5zM259.6 377.0h5.5v2.5h-5.5zM280.5 377.0h5.5v2.5h-5.5zM154.7 379.2h5.5v2.5h-5.5zM238.6 379.2h5.5v2.5h-5.5zM259.6 379.2h5.5v2.5h-5.5zM123.3 381.4h5.5v2.5h-5.5zM128.5 381.4h5.5v2.5h-5.5zM170.5 383.6h5.5v2.5h-5.5zM186.2 383.6h5.5v2.5h-5.5zM191.4 383.6h5.5v2.5h-5.5zM102.2 385.8h5.6v2.5h-5.6zM254.3 385.8h5.5v2.5h-5.5zM118.0 388.0h5.5v2.5h-5.5zM123.3 388.0h5.5v2.5h-5.5zM139.0 388.0h5.5v2.5h-5.5zM191.4 388.0h5.5v2.5h-5.5zM144.2 392.5h5.5v2.5h-5.5zM154.7 392.5h5.5v2.5h-5.5zM275.3 392.5h5.5v2.5h-5.5zM128.5 394.7h5.5v2.5h-5.5zM149.5 394.7h5.5v2.5h-5.5zM180.9 396.9h5.5v2.5h-5.5zM186.2 401.3h5.5v2.5h-5.5zM133.8 403.5h5.5v2.5h-5.5zM154.7 403.5h5.5v2.5h-5.5zM254.3 403.5h5.5v2.5h-5.5zM275.3 403.5h5.5v2.5h-5.5zM280.5 405.8h5.5v2.5h-5.5zM196.7 410.2h5.5v2.5h-5.5zM118.0 412.4h5.5v2.5h-5.5zM243.8 412.4h5.5v2.5h-5.5zM212.4 414.6h5.5v2.5h-5.5zM222.9 414.6h5.5v2.5h-5.5zM144.2 416.8h5.5v2.5h-5.5zM249.1 416.8h5.5v2.5h-5.5zM254.3 416.8h5.5v2.5h-5.5zM170.5 419.0h5.5v2.5h-5.5zM249.1 421.2h5.5v2.5h-5.5zM33.4 423.5h5.6v2.5h-5.6zM123.3 423.5h5.5v2.5h-5.5zM191.4 423.5h5.5v2.5h-5.5zM165.2 425.7h5.5v2.5h-5.5zM243.8 425.7h5.5v2.5h-5.5zM280.5 425.7h5.5v2.5h-5.5zM128.5 427.9h5.5v2.5h-5.5zM154.7 427.9h5.5v2.5h-5.5zM180.9 427.9h5.5v2.5h-5.5zM233.3 427.9h5.5v2.5h-5.5zM133.8 430.1h5.5v2.5h-5.5zM149.5 430.1h5.5v2.5h-5.5zM180.9 430.1h5.5v2.5h-5.5zM249.1 432.3h5.5v2.5h-5.5zM165.2 434.5h5.5v2.5h-5.5zM165.2 441.2h5.5v2.5h-5.5zM212.4 443.4h5.5v2.5h-5.5zM217.6 445.6h5.5v2.5h-5.5zM222.9 445.6h5.5v2.5h-5.5zM70.4 447.8h5.6v2.5h-5.6zM217.6 447.8h5.5v2.5h-5.5zM107.5 450.0h5.6v2.5h-5.6zM133.8 450.0h5.5v2.5h-5.5zM139.0 450.0h5.5v2.5h-5.5zM186.2 450.0h5.5v2.5h-5.5zM228.1 450.0h5.5v2.5h-5.5zM264.8 450.0h5.5v2.5h-5.5zM96.8 452.2h5.6v2.5h-5.6zM149.5 454.5h5.5v2.5h-5.5zM238.6 454.5h5.5v2.5h-5.5zM275.3 456.7h5.5v2.5h-5.5zM280.5 456.7h5.5v2.5h-5.5zM118.0 458.9h5.5v2.5h-5.5zM123.3 458.9h5.5v2.5h-5.5zM196.7 458.9h5.5v2.5h-5.5zM212.4 458.9h5.5v2.5h-5.5zM222.9 458.9h5.5v2.5h-5.5zM107.5 461.1h5.6v2.5h-5.6zM201.9 463.3h5.5v2.5h-5.5zM165.2 465.5h5.5v2.5h-5.5zM254.3 465.5h5.5v2.5h-5.5zM160.0 472.2h5.5v2.5h-5.5zM186.2 472.2h5.5v2.5h-5.5zM207.1 472.2h5.5v2.5h-5.5zM212.4 472.2h5.5v2.5h-5.5zM222.9 472.2h5.5v2.5h-5.5zM133.8 474.4h5.5v2.5h-5.5zM154.7 474.4h5.5v2.5h-5.5zM175.7 474.4h5.5v2.5h-5.5zM191.4 474.4h5.5v2.5h-5.5zM212.4 474.4h5.5v2.5h-5.5zM149.5 476.6h5.5v2.5h-5.5zM175.7 476.6h5.5v2.5h-5.5zM207.1 476.6h5.5v2.5h-5.5zM233.3 476.6h5.5v2.5h-5.5zM243.8 476.6h5.5v2.5h-5.5zM38.7 478.8h5.6v2.5h-5.6zM118.0 478.8h5.5v2.5h-5.5zM139.0 478.8h5.5v2.5h-5.5zM144.2 478.8h5.5v2.5h-5.5zM149.5 478.8h5.5v2.5h-5.5zM186.2 478.8h5.5v2.5h-5.5zM243.8 478.8h5.5v2.5h-5.5zM160.0 483.2h5.5v2.5h-5.5zM217.6 485.4h5.5v2.5h-5.5zM154.7 487.7h5.5v2.5h-5.5zM112.8 489.9h5.5v2.5h-5.5zM118.0 489.9h5.5v2.5h-5.5zM123.3 489.9h5.5v2.5h-5.5zM128.5 489.9h5.5v2.5h-5.5zM144.2 489.9h5.5v2.5h-5.5zM160.0 489.9h5.5v2.5h-5.5zM139.0 492.1h5.5v2.5h-5.5zM160.0 494.3h5.5v2.5h-5.5zM186.2 494.3h5.5v2.5h-5.5zM139.0 496.5h5.5v2.5h-5.5zM270.0 498.7h5.5v2.5h-5.5zM49.3 500.9h5.6v2.5h-5.6zM160.0 500.9h5.5v2.5h-5.5zM207.1 500.9h5.5v2.5h-5.5zM128.5 503.2h5.5v2.5h-5.5zM144.2 503.2h5.5v2.5h-5.5zM149.5 503.2h5.5v2.5h-5.5zM165.2 503.2h5.5v2.5h-5.5zM170.5 503.2h5.5v2.5h-5.5zM191.4 503.2h5.5v2.5h-5.5zM201.9 503.2h5.5v2.5h-5.5zM196.7 505.4h5.5v2.5h-5.5zM201.9 505.4h5.5v2.5h-5.5zM275.3 505.4h5.5v2.5h-5.5zM160.0 507.6h5.5v2.5h-5.5zM133.8 509.8h5.5v2.5h-5.5zM170.5 509.8h5.5v2.5h-5.5zM280.5 509.8h5.5v2.5h-5.5zM170.5 516.4h5.5v2.5h-5.5zM170.5 518.7h5.5v2.5h-5.5zM191.4 518.7h5.5v2.5h-5.5zM285.8 523.1h5.5v2.5h-5.5zM86.2 525.3h5.6v2.5h-5.6zM144.2 529.7h5.5v2.5h-5.5zM160.0 529.7h5.5v2.5h-5.5zM180.9 529.7h5.5v2.5h-5.5zM186.2 529.7h5.5v2.5h-5.5zM123.3 531.9h5.5v2.5h-5.5zM144.2 531.9h5.5v2.5h-5.5zM160.0 531.9h5.5v2.5h-5.5zM123.3 534.2h5.5v2.5h-5.5zM144.2 534.2h5.5v2.5h-5.5zM154.7 534.2h5.5v2.5h-5.5zM160.0 534.2h5.5v2.5h-5.5zM180.9 534.2h5.5v2.5h-5.5zM186.2 534.2h5.5v2.5h-5.5zM285.8 534.2h5.5v2.5h-5.5zM133.8 538.6h5.5v2.5h-5.5zM180.9 538.6h5.5v2.5h-5.5zM191.4 538.6h5.5v2.5h-5.5zM201.9 538.6h5.5v2.5h-5.5zM254.3 538.6h5.5v2.5h-5.5zM112.8 540.8h5.5v2.5h-5.5zM149.5 540.8h5.5v2.5h-5.5zM186.2 543.0h5.5v2.5h-5.5zM243.8 543.0h5.5v2.5h-5.5zM128.5 545.2h5.5v2.5h-5.5zM175.7 545.2h5.5v2.5h-5.5zM191.4 545.2h5.5v2.5h-5.5zM160.0 547.4h5.5v2.5h-5.5zM186.2 547.4h5.5v2.5h-5.5zM249.1 547.4h5.5v2.5h-5.5zM259.6 547.4h5.5v2.5h-5.5zM270.0 547.4h5.5v2.5h-5.5zM112.8 549.7h5.5v2.5h-5.5zM175.7 549.7h5.5v2.5h-5.5zM123.3 551.9h5.5v2.5h-5.5zM139.0 551.9h5.5v2.5h-5.5zM228.1 551.9h5.5v2.5h-5.5zM133.8 554.1h5.5v2.5h-5.5zM165.2 554.1h5.5v2.5h-5.5zM207.1 554.1h5.5v2.5h-5.5zM212.4 556.3h5.5v2.5h-5.5zM285.8 556.3h5.5v2.5h-5.5zM207.1 560.7h5.5v2.5h-5.5zM70.4 562.9h5.6v2.5h-5.6zM70.4 567.4h5.6v2.5h-5.6zM144.2 569.6h5.5v2.5h-5.5zM170.5 569.6h5.5v2.5h-5.5zM238.6 569.6h5.5v2.5h-5.5zM243.8 569.6h5.5v2.5h-5.5zM175.7 571.8h5.5v2.5h-5.5zM139.0 574.0h5.5v2.5h-5.5zM196.7 574.0h5.5v2.5h-5.5zM228.1 574.0h5.5v2.5h-5.5zM280.5 574.0h5.5v2.5h-5.5zM118.0 576.2h5.5v2.5h-5.5zM160.0 576.2h5.5v2.5h-5.5zM165.2 576.2h5.5v2.5h-5.5zM254.3 576.2h5.5v2.5h-5.5zM133.8 578.4h5.5v2.5h-5.5zM149.5 578.4h5.5v2.5h-5.5zM217.6 578.4h5.5v2.5h-5.5zM222.9 578.4h5.5v2.5h-5.5zM259.6 578.4h5.5v2.5h-5.5zM264.8 578.4h5.5v2.5h-5.5zM112.8 580.6h5.5v2.5h-5.5zM191.4 580.6h5.5v2.5h-5.5zM259.6 585.1h5.5v2.5h-5.5zM264.8 585.1h5.5v2.5h-5.5zM270.0 585.1h5.5v2.5h-5.5zM170.5 587.3h5.5v2.5h-5.5zM112.8 589.5h5.5v2.5h-5.5zM118.0 589.5h5.5v2.5h-5.5zM196.7 589.5h5.5v2.5h-5.5zM217.6 589.5h5.5v2.5h-5.5zM228.1 589.5h5.5v2.5h-5.5zM112.8 591.7h5.5v2.5h-5.5zM133.8 591.7h5.5v2.5h-5.5zM280.5 591.7h5.5v2.5h-5.5zM285.8 591.7h5.5v2.5h-5.5zM201.9 593.9h5.5v2.5h-5.5zM118.0 598.4h5.5v2.5h-5.5zM144.2 598.4h5.5v2.5h-5.5zM175.7 598.4h5.5v2.5h-5.5zM180.9 598.4h5.5v2.5h-5.5zM191.4 598.4h5.5v2.5h-5.5zM212.4 598.4h5.5v2.5h-5.5zM228.1 598.4h5.5v2.5h-5.5zM259.6 598.4h5.5v2.5h-5.5zM118.0 600.6h5.5v2.5h-5.5zM139.0 600.6h5.5v2.5h-5.5zM54.5 602.8h5.6v2.5h-5.6zM285.8 602.8h5.5v2.5h-5.5z"/>
<path fill="#ee6d5a" d="M112.8 365.9h5.5v2.5h-5.5zM175.7 365.9h5.5v2.5h-5.5zM233.3 365.9h5.5v2.5h-5.5zM238.6 365.9h5.5v2.5h-5.5zM270.0 365.9h5.5v2.5h-5.5zM280.5 365.9h5.5v2.5h-5.5zM201.9 368.1h5.5v2.5h-5.5zM139.0 372.5h5.5v2.5h-5.5zM160.0 372.5h5.5v2.5h-5.5zM259.6 381.4h5.5v2.5h-5.5zM270.0 381.4h5.5v2.5h-5.5zM243.8 383.6h5.5v2.5h-5.5zM249.1 383.6h5.5v2.5h-5.5zM160.0 385.8h5.5v2.5h-5.5zM228.1 385.8h5.5v2.5h-5.5zM196.7 388.0h5.5v2.5h-5.5zM207.1 388.0h5.5v2.5h-5.5zM249.1 388.0h5.5v2.5h-5.5zM285.8 388.0h5.5v2.5h-5.5zM222.9 392.5h5.5v2.5h-5.5zM249.1 392.5h5.5v2.5h-5.5zM264.8 394.7h5.5v2.5h-5.5zM154.7 399.1h5.5v2.5h-5.5zM180.9 401.3h5.5v2.5h-5.5zM191.4 401.3h5.5v2.5h-5.5zM196.7 401.3h5.5v2.5h-5.5zM233.3 401.3h5.5v2.5h-5.5zM259.6 401.3h5.5v2.5h-5.5zM275.3 401.3h5.5v2.5h-5.5zM212.4 403.5h5.5v2.5h-5.5zM249.1 403.5h5.5v2.5h-5.5zM160.0 405.8h5.5v2.5h-5.5zM233.3 405.8h5.5v2.5h-5.5zM243.8 405.8h5.5v2.5h-5.5zM264.8 405.8h5.5v2.5h-5.5zM238.6 408.0h5.5v2.5h-5.5zM243.8 408.0h5.5v2.5h-5.5zM275.3 410.2h5.5v2.5h-5.5zM228.1 412.4h5.5v2.5h-5.5zM259.6 412.4h5.5v2.5h-5.5zM154.7 414.6h5.5v2.5h-5.5zM207.1 414.6h5.5v2.5h-5.5zM228.1 419.0h5.5v2.5h-5.5zM238.6 419.0h5.5v2.5h-5.5zM249.1 419.0h5.5v2.5h-5.5zM233.3 421.2h5.5v2.5h-5.5zM238.6 421.2h5.5v2.5h-5.5zM243.8 421.2h5.5v2.5h-5.5zM249.1 423.5h5.5v2.5h-5.5zM254.3 423.5h5.5v2.5h-5.5zM259.6 427.9h5.5v2.5h-5.5zM285.8 427.9h5.5v2.5h-5.5zM149.5 434.5h5.5v2.5h-5.5zM228.1 434.5h5.5v2.5h-5.5zM254.3 434.5h5.5v2.5h-5.5zM285.8 434.5h5.5v2.5h-5.5zM165.2 436.7h5.5v2.5h-5.5zM270.0 436.7h5.5v2.5h-5.5zM280.5 436.7h5.5v2.5h-5.5zM254.3 439.0h5.5v2.5h-5.5zM275.3 439.0h5.5v2.5h-5.5zM270.0 441.2h5.5v2.5h-5.5zM275.3 441.2h5.5v2.5h-5.5zM243.8 443.4h5.5v2.5h-5.5zM259.6 443.4h5.5v2.5h-5.5zM275.3 443.4h5.5v2.5h-5.5zM285.8 443.4h5.5v2.5h-5.5zM128.5 445.6h5.5v2.5h-5.5zM228.1 445.6h5.5v2.5h-5.5zM254.3 445.6h5.5v2.5h-5.5zM243.8 447.8h5.5v2.5h-5.5zM228.1 454.5h5.5v2.5h-5.5zM243.8 454.5h5.5v2.5h-5.5zM280.5 454.5h5.5v2.5h-5.5zM133.8 456.7h5.5v2.5h-5.5zM270.0 456.7h5.5v2.5h-5.5zM133.8 458.9h5.5v2.5h-5.5zM201.9 458.9h5.5v2.5h-5.5zM196.7 461.1h5.5v2.5h-5.5zM217.6 461.1h5.5v2.5h-5.5zM238.6 461.1h5.5v2.5h-5.5zM254.3 461.1h5.5v2.5h-5.5zM112.8 463.3h5.5v2.5h-5.5zM196.7 463.3h5.5v2.5h-5.5zM233.3 463.3h5.5v2.5h-5.5zM238.6 463.3h5.5v2.5h-5.5zM270.0 463.3h5.5v2.5h-5.5zM191.4 465.5h5.5v2.5h-5.5zM217.6 465.5h5.5v2.5h-5.5zM249.1 467.7h5.5v2.5h-5.5zM259.6 467.7h5.5v2.5h-5.5zM264.8 467.7h5.5v2.5h-5.5zM270.0 467.7h5.5v2.5h-5.5zM280.5 472.2h5.5v2.5h-5.5zM233.3 474.4h5.5v2.5h-5.5zM275.3 476.6h5.5v2.5h-5.5zM228.1 478.8h5.5v2.5h-5.5zM243.8 483.2h5.5v2.5h-5.5zM264.8 483.2h5.5v2.5h-5.5zM270.0 483.2h5.5v2.5h-5.5zM112.8 485.4h5.5v2.5h-5.5zM233.3 485.4h5.5v2.5h-5.5zM249.1 485.4h5.5v2.5h-5.5zM254.3 485.4h5.5v2.5h-5.5zM196.7 487.7h5.5v2.5h-5.5zM228.1 487.7h5.5v2.5h-5.5zM238.6 487.7h5.5v2.5h-5.5zM243.8 492.1h5.5v2.5h-5.5zM249.1 492.1h5.5v2.5h-5.5zM264.8 492.1h5.5v2.5h-5.5zM270.0 492.1h5.5v2.5h-5.5zM154.7 494.3h5.5v2.5h-5.5zM201.9 494.3h5.5v2.5h-5.5zM238.6 494.3h5.5v2.5h-5.5zM249.1 494.3h5.5v2.5h-5.5zM259.6 494.3h5.5v2.5h-5.5zM275.3 494.3h5.5v2.5h-5.5zM285.8 494.3h5.5v2.5h-5.5zM285.8 496.5h5.5v2.5h-5.5zM139.0 503.2h5.5v2.5h-5.5zM154.7 503.2h5.5v2.5h-5.5zM228.1 503.2h5.5v2.5h-5.5zM243.8 503.2h5.5v2.5h-5.5zM254.3 503.2h5.5v2.5h-5.5zM285.8 503.2h5.5v2.5h-5.5zM191.4 505.4h5.5v2.5h-5.5zM128.5 507.6h5.5v2.5h-5.5zM228.1 507.6h5.5v2.5h-5.5zM243.8 507.6h5.5v2.5h-5.5zM259.6 507.6h5.5v2.5h-5.5zM264.8 512.0h5.5v2.5h-5.5zM165.2 514.2h5.5v2.5h-5.5zM243.8 514.2h5.5v2.5h-5.5zM280.5 514.2h5.5v2.5h-5.5zM154.7 516.4h5.5v2.5h-5.5zM165.2 516.4h5.5v2.5h-5.5zM233.3 516.4h5.5v2.5h-5.5zM249.1 516.4h5.5v2.5h-5.5zM264.8 518.7h5.5v2.5h-5.5zM139.0 520.9h5.5v2.5h-5.5zM233.3 520.9h5.5v2.5h-5.5zM259.6 520.9h5.5v2.5h-5.5zM270.0 520.9h5.5v2.5h-5.5zM180.9 523.1h5.5v2.5h-5.5zM243.8 523.1h5.5v2.5h-5.5zM264.8 523.1h5.5v2.5h-5.5zM233.3 525.3h5.5v2.5h-5.5zM243.8 527.5h5.5v2.5h-5.5zM275.3 527.5h5.5v2.5h-5.5zM191.4 529.7h5.5v2.5h-5.5zM112.8 531.9h5.5v2.5h-5.5zM228.1 531.9h5.5v2.5h-5.5zM238.6 531.9h5.5v2.5h-5.5zM249.1 531.9h5.5v2.5h-5.5zM139.0 534.2h5.5v2.5h-5.5zM238.6 536.4h5.5v2.5h-5.5zM112.8 538.6h5.5v2.5h-5.5zM154.7 538.6h5.5v2.5h-5.5zM254.3 540.8h5.5v2.5h-5.5zM149.5 543.0h5.5v2.5h-5.5zM275.3 543.0h5.5v2.5h-5.5zM201.9 549.7h5.5v2.5h-5.5zM233.3 549.7h5.5v2.5h-5.5zM243.8 549.7h5.5v2.5h-5.5zM264.8 549.7h5.5v2.5h-5.5zM270.0 549.7h5.5v2.5h-5.5zM201.9 551.9h5.5v2.5h-5.5zM238.6 551.9h5.5v2.5h-5.5zM243.8 551.9h5.5v2.5h-5.5zM249.1 551.9h5.5v2.5h-5.5zM201.9 556.3h5.5v2.5h-5.5zM207.1 556.3h5.5v2.5h-5.5zM228.1 556.3h5.5v2.5h-5.5zM233.3 556.3h5.5v2.5h-5.5zM264.8 556.3h5.5v2.5h-5.5zM233.3 558.5h5.5v2.5h-5.5zM228.1 560.7h5.5v2.5h-5.5zM165.2 562.9h5.5v2.5h-5.5zM186.2 562.9h5.5v2.5h-5.5zM233.3 562.9h5.5v2.5h-5.5zM270.0 562.9h5.5v2.5h-5.5zM233.3 565.1h5.5v2.5h-5.5zM249.1 565.1h5.5v2.5h-5.5zM275.3 565.1h5.5v2.5h-5.5zM238.6 567.4h5.5v2.5h-5.5zM249.1 567.4h5.5v2.5h-5.5zM254.3 567.4h5.5v2.5h-5.5zM264.8 567.4h5.5v2.5h-5.5zM259.6 571.8h5.5v2.5h-5.5zM249.1 578.4h5.5v2.5h-5.5zM270.0 578.4h5.5v2.5h-5.5zM170.5 580.6h5.5v2.5h-5.5zM249.1 580.6h5.5v2.5h-5.5zM264.8 580.6h5.5v2.5h-5.5zM238.6 582.9h5.5v2.5h-5.5zM270.0 582.9h5.5v2.5h-5.5zM259.6 587.3h5.5v2.5h-5.5zM285.8 587.3h5.5v2.5h-5.5zM112.8 593.9h5.5v2.5h-5.5zM165.2 593.9h5.5v2.5h-5.5zM264.8 593.9h5.5v2.5h-5.5zM270.0 593.9h5.5v2.5h-5.5zM149.5 596.1h5.5v2.5h-5.5zM238.6 596.1h5.5v2.5h-5.5zM249.1 600.6h5.5v2.5h-5.5zM238.6 602.8h5.5v2.5h-5.5zM243.8 602.8h5.5v2.5h-5.5zM249.1 602.8h5.5v2.5h-5.5zM270.0 602.8h5.5v2.5h-5.5z"/>
<path fill="#fbece9" d="M118.0 365.9h5.5v2.5h-5.5zM123.3 365.9h5.5v2.5h-5.5zM128.5 365.9h5.5v2.5h-5.5zM144.2 365.9h5.5v2.5h-5.5zM170.5 365.9h5.5v2.5h-5.5zM186.2 365.9h5.5v2.5h-5.5zM196.7 365.9h5.5v2.5h-5.5zM201.9 365.9h5.5v2.5h-5.5zM207.1 365.9h5.5v2.5h-5.5zM212.4 365.9h5.5v2.5h-5.5zM222.9 365.9h5.5v2.5h-5.5zM275.3 365.9h5.5v2.5h-5.5zM285.8 365.9h5.5v2.5h-5.5zM112.8 368.1h5.5v2.5h-5.5zM118.0 368.1h5.5v2.5h-5.5zM170.5 368.1h5.5v2.5h-5.5zM180.9 368.1h5.5v2.5h-5.5zM186.2 368.1h5.5v2.5h-5.5zM207.1 368.1h5.5v2.5h-5.5zM280.5 368.1h5.5v2.5h-5.5zM285.8 368.1h5.5v2.5h-5.5zM149.5 370.3h5.5v2.5h-5.5zM170.5 370.3h5.5v2.5h-5.5zM191.4 370.3h5.5v2.5h-5.5zM201.9 370.3h5.5v2.5h-5.5zM228.1 370.3h5.5v2.5h-5.5zM233.3 370.3h5.5v2.5h-5.5zM254.3 370.3h5.5v2.5h-5.5zM264.8 370.3h5.5v2.5h-5.5zM270.0 370.3h5.5v2.5h-5.5zM275.3 370.3h5.5v2.5h-5.5zM149.5 374.8h5.5v2.5h-5.5zM154.7 374.8h5.5v2.5h-5.5zM175.7 374.8h5.5v2.5h-5.5zM191.4 374.8h5.5v2.5h-5.5zM217.6 374.8h5.5v2.5h-5.5zM280.5 374.8h5.5v2.5h-5.5zM285.8 374.8h5.5v2.5h-5.5zM149.5 377.0h5.5v2.5h-5.5zM165.2 377.0h5.5v2.5h-5.5zM180.9 377.0h5.5v2.5h-5.5zM196.7 377.0h5.5v2.5h-5.5zM201.9 377.0h5.5v2.5h-5.5zM217.6 377.0h5.5v2.5h-5.5zM222.9 377.0h5.5v2.5h-5.5zM249.1 377.0h5.5v2.5h-5.5zM33.4 379.2h5.6v2.5h-5.6zM75.7 379.2h5.6v2.5h-5.6zM128.5 379.2h5.5v2.5h-5.5zM133.8 379.2h5.5v2.5h-5.5zM165.2 379.2h5.5v2.5h-5.5zM175.7 379.2h5.5v2.5h-5.5zM180.9 379.2h5.5v2.5h-5.5zM191.4 379.2h5.5v2.5h-5.5zM196.7 379.2h5.5v2.5h-5.5zM217.6 379.2h5.5v2.5h-5.5zM222.9 379.2h5.5v2.5h-5.5zM270.0 379.2h5.5v2.5h-5.5zM275.3 379.2h5.5v2.5h-5.5zM280.5 379.2h5.5v2.5h-5.5zM118.0 381.4h5.5v2.5h-5.5zM144.2 381.4h5.5v2.5h-5.5zM175.7 381.4h5.5v2.5h-5.5zM180.9 381.4h5.5v2.5h-5.5zM207.1 381.4h5.5v2.5h-5.5zM275.3 381.4h5.5v2.5h-5.5zM139.0 383.6h5.5v2.5h-5.5zM165.2 383.6h5.5v2.5h-5.5zM201.9 383.6h5.5v2.5h-5.5zM207.1 383.6h5.5v2.5h-5.5zM228.1 383.6h5.5v2.5h-5.5zM233.3 383.6h5.5v2.5h-5.5zM275.3 383.6h5.5v2.5h-5.5zM149.5 385.8h5.5v2.5h-5.5zM196.7 385.8h5.5v2.5h-5.5zM201.9 385.8h5.5v2.5h-5.5zM112.8 390.3h5.5v2.5h-5.5zM165.2 390.3h5.5v2.5h-5.5zM175.7 390.3h5.5v2.5h-5.5zM196.7 390.3h5.5v2.5h-5.5zM207.1 390.3h5.5v2.5h-5.5zM228.1 390.3h5.5v2.5h-5.5zM280.5 390.3h5.5v2.5h-5.5zM133.8 392.5h5.5v2.5h-5.5zM139.0 392.5h5.5v2.5h-5.5zM149.5 392.5h5.5v2.5h-5.5zM175.7 392.5h5.5v2.5h-5.5zM180.9 392.5h5.5v2.5h-5.5zM201.9 392.5h5.5v2.5h-5.5zM112.8 396.9h5.5v2.5h-5.5zM123.3 396.9h5.5v2.5h-5.5zM139.0 396.9h5.5v2.5h-5.5zM144.2 396.9h5.5v2.5h-5.5zM154.7 396.9h5.5v2.5h-5.5zM170.5 396.9h5.5v2.5h-5.5zM186.2 396.9h5.5v2.5h-5.5zM264.8 396.9h5.5v2.5h-5.5zM133.8 399.1h5.5v2.5h-5.5zM139.0 399.1h5.5v2.5h-5.5zM170.5 399.1h5.5v2.5h-5.5zM175.7 399.1h5.5v2.5h-5.5zM222.9 399.1h5.5v2.5h-5.5zM280.5 399.1h5.5v2.5h-5.5zM285.8 399.1h5.5v2.5h-5.5zM123.3 401.3h5.5v2.5h-5.5zM139.0 401.3h5.5v2.5h-5.5zM144.2 401.3h5.5v2.5h-5.5zM154.7 401.3h5.5v2.5h-5.5zM160.0 401.3h5.5v2.5h-5.5zM170.5 401.3h5.5v2.5h-5.5zM228.1 401.3h5.5v2.5h-5.5zM285.8 401.3h5.5v2.5h-5.5zM17.6 403.5h5.6v2.5h-5.6zM222.9 403.5h5.5v2.5h-5.5zM118.0 405.8h5.5v2.5h-5.5zM154.7 405.8h5.5v2.5h-5.5zM175.7 405.8h5.5v2.5h-5.5zM191.4 405.8h5.5v2.5h-5.5zM196.7 405.8h5.5v2.5h-5.5zM112.8 408.0h5.5v2.5h-5.5zM118.0 408.0h5.5v2.5h-5.5zM154.7 408.0h5.5v2.5h-5.5zM175.7 408.0h5.5v2.5h-5.5zM191.4 408.0h5.5v2.5h-5.5zM201.9 408.0h5.5v2.5h-5.5zM222.9 408.0h5.5v2.5h-5.5zM86.2 410.2h5.6v2.5h-5.6zM144.2 410.2h5.5v2.5h-5.5zM165.2 410.2h5.5v2.5h-5.5zM207.1 410.2h5.5v2.5h-5.5zM243.8 410.2h5.5v2.5h-5.5zM175.7 412.4h5.5v2.5h-5.5zM180.9 412.4h5.5v2.5h-5.5zM196.7 412.4h5.5v2.5h-5.5zM201.9 412.4h5.5v2.5h-5.5zM217.6 412.4h5.5v2.5h-5.5zM118.0 414.6h5.5v2.5h-5.5zM149.5 414.6h5.5v2.5h-5.5zM160.0 414.6h5.5v2.5h-5.5zM165.2 414.6h5.5v2.5h-5.5zM217.6 414.6h5.5v2.5h-5.5zM128.5 416.8h5.5v2.5h-5.5zM133.8 416.8h5.5v2.5h-5.5zM139.0 416.8h5.5v2.5h-5.5zM180.9 416.8h5.5v2.5h-5.5zM196.7 416.8h5.5v2.5h-5.5zM201.9 416.8h5.5v2.5h-5.5zM217.6 416.8h5.5v2.5h-5.5zM112.8 419.0h5.5v2.5h-5.5zM128.5 419.0h5.5v2.5h-5.5zM144.2 419.0h5.5v2.5h-5.5zM149.5 419.0h5.5v2.5h-5.5zM160.0 419.0h5.5v2.5h-5.5zM275.3 419.0h5.5v2.5h-5.5zM38.7 421.2h5.6v2.5h-5.6zM160.0 421.2h5.5v2.5h-5.5zM180.9 421.2h5.5v2.5h-5.5zM212.4 421.2h5.5v2.5h-5.5zM217.6 421.2h5.5v2.5h-5.5zM133.8 423.5h5.5v2.5h-5.5zM154.7 423.5h5.5v2.5h-5.5zM170.5 423.5h5.5v2.5h-5.5zM175.7 423.5h5.5v2.5h-5.5zM186.2 423.5h5.5v2.5h-5.5zM212.4 423.5h5.5v2.5h-5.5zM217.6 423.5h5.5v2.5h-5.5zM139.0 425.7h5.5v2.5h-5.5zM154.7 425.7h5.5v2.5h-5.5zM170.5 425.7h5.5v2.5h-5.5zM186.2 425.7h5.5v2.5h-5.5zM196.7 425.7h5.5v2.5h-5.5zM118.0 430.1h5.5v2.5h-5.5zM128.5 430.1h5.5v2.5h-5.5zM144.2 430.1h5.5v2.5h-5.5zM154.7 430.1h5.5v2.5h-5.5zM160.0 430.1h5.5v2.5h-5.5zM175.7 430.1h5.5v2.5h-5.5zM191.4 430.1h5.5v2.5h-5.5zM212.4 430.1h5.5v2.5h-5.5zM285.8 430.1h5.5v2.5h-5.5zM128.5 432.3h5.5v2.5h-5.5zM149.5 432.3h5.5v2.5h-5.5zM165.2 432.3h5.5v2.5h-5.5zM186.2 432.3h5.5v2.5h-5.5zM191.4 432.3h5.5v2.5h-5.5zM280.5 432.3h5.5v2.5h-5.5zM285.8 432.3h5.5v2.5h-5.5zM28.1 434.5h5.6v2.5h-5.6zM133.8 434.5h5.5v2.5h-5.5zM186.2 434.5h5.5v2.5h-5.5zM191.4 434.5h5.5v2.5h-5.5zM196.7 434.5h5.5v2.5h-5.5zM207.1 434.5h5.5v2.5h-5.5zM275.3 434.5h5.5v2.5h-5.5zM65.1 436.7h5.6v2.5h-5.6zM201.9 436.7h5.5v2.5h-5.5zM212.4 436.7h5.5v2.5h-5.5zM222.9 436.7h5.5v2.5h-5.5zM285.8 436.7h5.5v2.5h-5.5zM112.8 439.0h5.5v2.5h-5.5zM154.7 439.0h5.5v2.5h-5.5zM165.2 439.0h5.5v2.5h-5.5zM201.9 439.0h5.5v2.5h-5.5zM207.1 439.0h5.5v2.5h-5.5zM217.6 439.0h5.5v2.5h-5.5zM222.9 439.0h5.5v2.5h-5.5zM128.5 441.2h5.5v2.5h-5.5zM170.5 441.2h5.5v2.5h-5.5zM180.9 441.2h5.5v2.5h-5.5zM212.4 441.2h5.5v2.5h-5.5zM123.3 443.4h5.5v2.5h-5.5zM139.0 443.4h5.5v2.5h-5.5zM144.2 443.4h5.5v2.5h-5.5zM186.2 443.4h5.5v2.5h-5.5zM201.9 443.4h5.5v2.5h-5.5zM207.1 443.4h5.5v2.5h-5.5zM222.9 443.4h5.5v2.5h-5.5zM118.0 445.6h5.5v2.5h-5.5zM123.3 445.6h5.5v2.5h-5.5zM133.8 445.6h5.5v2.5h-5.5zM180.9 445.6h5.5v2.5h-5.5zM285.8 445.6h5.5v2.5h-5.5zM149.5 447.8h5.5v2.5h-5.5zM175.7 447.8h5.5v2.5h-5.5zM180.9 447.8h5.5v2.5h-5.5zM196.7 447.8h5.5v2.5h-5.5zM201.9 447.8h5.5v2.5h-5.5zM233.3 447.8h5.5v2.5h-5.5zM238.6 447.8h5.5v2.5h-5.5zM128.5 450.0h5.5v2.5h-5.5zM144.2 450.0h5.5v2.5h-5.5zM154.7 450.0h5.5v2.5h-5.5zM196.7 450.0h5.5v2.5h-5.5zM207.1 450.0h5.5v2.5h-5.5zM217.6 450.0h5.5v2.5h-5.5zM238.6 450.0h5.5v2.5h-5.5zM280.5 450.0h5.5v2.5h-5.5zM285.8 450.0h5.5v2.5h-5.5zM123.3 452.2h5.5v2.5h-5.5zM128.5 452.2h5.5v2.5h-5.5zM154.7 452.2h5.5v2.5h-5.5zM175.7 452.2h5.5v2.5h-5.5zM180.9 452.2h5.5v2.5h-5.5zM201.9 452.2h5.5v2.5h-5.5zM222.9 452.2h5.5v2.5h-5.5zM228.1 452.2h5.5v2.5h-5.5zM285.8 452.2h5.5v2.5h-5.5zM154.7 454.5h5.5v2.5h-5.5zM160.0 454.5h5.5v2.5h-5.5zM175.7 454.5h5.5v2.5h-5.5zM180.9 454.5h5.5v2.5h-5.5zM186.2 454.5h5.5v2.5h-5.5zM196.7 454.5h5.5v2.5h-5.5zM180.9 456.7h5.5v2.5h-5.5zM212.4 456.7h5.5v2.5h-5.5zM217.6 456.7h5.5v2.5h-5.5zM285.8 456.7h5.5v2.5h-5.5zM102.2 458.9h5.6v2.5h-5.6zM175.7 458.9h5.5v2.5h-5.5zM139.0 461.1h5.5v2.5h-5.5zM165.2 461.1h5.5v2.5h-5.5zM175.7 461.1h5.5v2.5h-5.5zM233.3 461.1h5.5v2.5h-5.5zM33.4 463.3h5.6v2.5h-5.6zM133.8 463.3h5.5v2.5h-5.5zM160.0 463.3h5.5v2.5h-5.5zM207.1 463.3h5.5v2.5h-5.5zM217.6 463.3h5.5v2.5h-5.5zM280.5 463.3h5.5v2.5h-5.5zM112.8 465.5h5.5v2.5h-5.5zM201.9 465.5h5.5v2.5h-5.5zM212.4 465.5h5.5v2.5h-5.5zM259.6 465.5h5.5v2.5h-5.5zM280.5 465.5h5.5v2.5h-5.5zM118.0 467.7h5.5v2.5h-5.5zM154.7 467.7h5.5v2.5h-5.5zM201.9 467.7h5.5v2.5h-5.5zM207.1 467.7h5.5v2.5h-5.5zM123.3 470.0h5.5v2.5h-5.5zM144.2 470.0h5.5v2.5h-5.5zM160.0 470.0h5.5v2.5h-5.5zM165.2 470.0h5.5v2.5h-5.5zM170.5 470.0h5.5v2.5h-5.5zM196.7 470.0h5.5v2.5h-5.5zM217.6 470.0h5.5v2.5h-5.5zM228.1 470.0h5.5v2.5h-5.5zM238.6 470.0h5.5v2.5h-5.5zM270.0 470.0h5.5v2.5h-5.5zM280.5 470.0h5.5v2.5h-5.5zM285.8 470.0h5.5v2.5h-5.5zM59.8 474.4h5.6v2.5h-5.6zM118.0 474.4h5.5v2.5h-5.5zM180.9 474.4h5.5v2.5h-5.5zM118.0 481.0h5.5v2.5h-5.5zM149.5 481.0h5.5v2.5h-5.5zM191.4 481.0h5.5v2.5h-5.5zM196.7 481.0h5.5v2.5h-5.5zM228.1 481.0h5.5v2.5h-5.5zM123.3 483.2h5.5v2.5h-5.5zM133.8 483.2h5.5v2.5h-5.5zM144.2 483.2h5.5v2.5h-5.5zM212.4 483.2h5.5v2.5h-5.5zM217.6 483.2h5.5v2.5h-5.5zM275.3 483.2h5.5v2.5h-5.5zM38.7 485.4h5.6v2.5h-5.6zM154.7 485.4h5.5v2.5h-5.5zM165.2 485.4h5.5v2.5h-5.5zM191.4 485.4h5.5v2.5h-5.5zM222.9 485.4h5.5v2.5h-5.5zM275.3 485.4h5.5v2.5h-5.5zM139.0 487.7h5.5v2.5h-5.5zM149.5 487.7h5.5v2.5h-5.5zM165.2 487.7h5.5v2.5h-5.5zM180.9 487.7h5.5v2.5h-5.5zM191.4 487.7h5.5v2.5h-5.5zM201.9 487.7h5.5v2.5h-5.5zM217.6 487.7h5.5v2.5h-5.5zM270.0 487.7h5.5v2.5h-5.5zM285.8 487.7h5.5v2.5h-5.5zM133.8 489.9h5.5v2.5h-5.5zM154.7 489.9h5.5v2.5h-5.5zM170.5 489.9h5.5v2.5h-5.5zM186.2 489.9h5.5v2.5h-5.5zM191.4 489.9h5.5v2.5h-5.5zM196.7 489.9h5.5v2.5h-5.5zM217.6 489.9h5.5v2.5h-5.5zM222.9 489.9h5.5v2.5h-5.5zM243.8 489.9h5.5v2.5h-5.5zM33.4 492.1h5.6v2.5h-5.6zM112.8 492.1h5.5v2.5h-5.5zM118.0 492.1h5.5v2.5h-5.5zM128.5 492.1h5.5v2.5h-5.5zM154.7 492.1h5.5v2.5h-5.5zM160.0 492.1h5.5v2.5h-5.5zM180.9 492.1h5.5v2.5h-5.5zM191.4 492.1h5.5v2.5h-5.5zM222.9 492.1h5.5v2.5h-5.5zM70.4 494.3h5.6v2.5h-5.6zM139.0 494.3h5.5v2.5h-5.5zM165.2 494.3h5.5v2.5h-5.5zM133.8 496.5h5.5v2.5h-5.5zM160.0 496.5h5.5v2.5h-5.5zM165.2 496.5h5.5v2.5h-5.5zM207.1 496.5h5.5v2.5h-5.5zM228.1 496.5h5.5v2.5h-5.5zM280.5 496.5h5.5v2.5h-5.5zM123.3 498.7h5.5v2.5h-5.5zM144.2 498.7h5.5v2.5h-5.5zM186.2 498.7h5.5v2.5h-5.5zM217.6 498.7h5.5v2.5h-5.5zM275.3 498.7h5.5v2.5h-5.5zM280.5 498.7h5.5v2.5h-5.5zM285.8 498.7h5.5v2.5h-5.5zM165.2 500.9h5.5v2.5h-5.5zM170.5 500.9h5.5v2.5h-5.5zM175.7 500.9h5.5v2.5h-5.5zM212.4 500.9h5.5v2.5h-5.5zM217.6 500.9h5.5v2.5h-5.5zM112.8 505.4h5.5v2.5h-5.5zM128.5 505.4h5.5v2.5h-5.5zM144.2 505.4h5.5v2.5h-5.5zM149.5 505.4h5.5v2.5h-5.5zM154.7 505.4h5.5v2.5h-5.5zM160.0 505.4h5.5v2.5h-5.5zM186.2 505.4h5.5v2.5h-5.5zM212.4 505.4h5.5v2.5h-5.5zM233.3 505.4h5.5v2.5h-5.5zM112.8 507.6h5.5v2.5h-5.5zM118.0 507.6h5.5v2.5h-5.5zM123.3 507.6h5.5v2.5h-5.5zM133.8 507.6h5.5v2.5h-5.5zM139.0 507.6h5.5v2.5h-5.5zM144.2 507.6h5.5v2.5h-5.5zM149.5 507.6h5.5v2.5h-5.5zM170.5 507.6h5.5v2.5h-5.5zM186.2 507.6h5.5v2.5h-5.5zM222.9 507.6h5.5v2.5h-5.5zM280.5 507.6h5.5v2.5h-5.5zM128.5 509.8h5.5v2.5h-5.5zM144.2 509.8h5.5v2.5h-5.5zM191.4 509.8h5.5v2.5h-5.5zM201.9 509.8h5.5v2.5h-5.5zM207.1 509.8h5.5v2.5h-5.5zM222.9 509.8h5.5v2.5h-5.5zM112.8 512.0h5.5v2.5h-5.5zM160.0 512.0h5.5v2.5h-5.5zM170.5 512.0h5.5v2.5h-5.5zM175.7 512.0h5.5v2.5h-5.5zM186.2 512.0h5.5v2.5h-5.5zM243.8 512.0h5.5v2.5h-5.5zM65.1 514.2h5.6v2.5h-5.6zM160.0 514.2h5.5v2.5h-5.5zM201.9 514.2h5.5v2.5h-5.5zM217.6 514.2h5.5v2.5h-5.5zM275.3 514.2h5.5v2.5h-5.5zM201.9 516.4h5.5v2.5h-5.5zM212.4 516.4h5.5v2.5h-5.5zM222.9 516.4h5.5v2.5h-5.5zM228.1 516.4h5.5v2.5h-5.5zM112.8 518.7h5.5v2.5h-5.5zM139.0 518.7h5.5v2.5h-5.5zM144.2 518.7h5.5v2.5h-5.5zM175.7 518.7h5.5v2.5h-5.5zM186.2 518.7h5.5v2.5h-5.5zM207.1 518.7h5.5v2.5h-5.5zM222.9 518.7h5.5v2.5h-5.5zM33.4 520.9h5.6v2.5h-5.6zM133.8 520.9h5.5v2.5h-5.5zM154.7 520.9h5.5v2.5h-5.5zM175.7 520.9h5.5v2.5h-5.5zM180.9 520.9h5.5v2.5h-5.5zM191.4 520.9h5.5v2.5h-5.5zM201.9 520.9h5.5v2.5h-5.5zM217.6 520.9h5.5v2.5h-5.5zM243.8 520.9h5.5v2.5h-5.5zM275.3 520.9h5.5v2.5h-5.5zM118.0 523.1h5.5v2.5h-5.5zM123.3 523.1h5.5v2.5h-5.5zM128.5 523.1h5.5v2.5h-5.5zM149.5 523.1h5.5v2.5h-5.5zM165.2 523.1h5.5v2.5h-5.5zM170.5 523.1h5.5v2.5h-5.5zM201.9 523.1h5.5v2.5h-5.5zM222.9 523.1h5.5v2.5h-5.5zM28.1 525.3h5.6v2.5h-5.6zM118.0 525.3h5.5v2.5h-5.5zM128.5 525.3h5.5v2.5h-5.5zM165.2 525.3h5.5v2.5h-5.5zM259.6 525.3h5.5v2.5h-5.5zM275.3 525.3h5.5v2.5h-5.5zM285.8 525.3h5.5v2.5h-5.5zM133.8 527.5h5.5v2.5h-5.5zM165.2 527.5h5.5v2.5h-5.5zM196.7 527.5h5.5v2.5h-5.5zM201.9 527.5h5.5v2.5h-5.5zM96.8 529.7h5.6v2.5h-5.6zM175.7 529.7h5.5v2.5h-5.5zM128.5 531.9h5.5v2.5h-5.5zM139.0 531.9h5.5v2.5h-5.5zM149.5 531.9h5.5v2.5h-5.5zM165.2 531.9h5.5v2.5h-5.5zM191.4 531.9h5.5v2.5h-5.5zM123.3 536.4h5.5v2.5h-5.5zM133.8 536.4h5.5v2.5h-5.5zM144.2 536.4h5.5v2.5h-5.5zM160.0 536.4h5.5v2.5h-5.5zM175.7 536.4h5.5v2.5h-5.5zM201.9 536.4h5.5v2.5h-5.5zM264.8 536.4h5.5v2.5h-5.5zM22.9 540.8h5.6v2.5h-5.6zM59.8 540.8h5.6v2.5h-5.6zM118.0 540.8h5.5v2.5h-5.5zM165.2 540.8h5.5v2.5h-5.5zM201.9 540.8h5.5v2.5h-5.5zM212.4 540.8h5.5v2.5h-5.5zM217.6 540.8h5.5v2.5h-5.5zM280.5 540.8h5.5v2.5h-5.5zM118.0 543.0h5.5v2.5h-5.5zM133.8 543.0h5.5v2.5h-5.5zM139.0 543.0h5.5v2.5h-5.5zM154.7 543.0h5.5v2.5h-5.5zM191.4 543.0h5.5v2.5h-5.5zM201.9 543.0h5.5v2.5h-5.5zM217.6 543.0h5.5v2.5h-5.5zM222.9 543.0h5.5v2.5h-5.5zM118.0 545.2h5.5v2.5h-5.5zM123.3 545.2h5.5v2.5h-5.5zM139.0 545.2h5.5v2.5h-5.5zM144.2 545.2h5.5v2.5h-5.5zM201.9 545.2h5.5v2.5h-5.5zM222.9 545.2h5.5v2.5h-5.5zM238.6 545.2h5.5v2.5h-5.5zM249.1 545.2h5.5v2.5h-5.5zM118.0 547.4h5.5v2.5h-5.5zM123.3 547.4h5.5v2.5h-5.5zM144.2 547.4h5.5v2.5h-5.5zM154.7 547.4h5.5v2.5h-5.5zM180.9 547.4h5.5v2.5h-5.5zM212.4 547.4h5.5v2.5h-5.5zM154.7 549.7h5.5v2.5h-5.5zM180.9 549.7h5.5v2.5h-5.5zM212.4 549.7h5.5v2.5h-5.5zM222.9 549.7h5.5v2.5h-5.5zM275.3 549.7h5.5v2.5h-5.5zM112.8 551.9h5.5v2.5h-5.5zM118.0 551.9h5.5v2.5h-5.5zM128.5 551.9h5.5v2.5h-5.5zM170.5 551.9h5.5v2.5h-5.5zM196.7 551.9h5.5v2.5h-5.5zM217.6 551.9h5.5v2.5h-5.5zM285.8 551.9h5.5v2.5h-5.5zM118.0 554.1h5.5v2.5h-5.5zM154.7 554.1h5.5v2.5h-5.5zM180.9 554.1h5.5v2.5h-5.5zM191.4 554.1h5.5v2.5h-5.5zM212.4 554.1h5.5v2.5h-5.5zM259.6 554.1h5.5v2.5h-5.5zM275.3 554.1h5.5v2.5h-5.5zM280.5 554.1h5.5v2.5h-5.5zM285.8 554.1h5.5v2.5h-5.5zM112.8 556.3h5.5v2.5h-5.5zM128.5 556.3h5.5v2.5h-5.5zM165.2 556.3h5.5v2.5h-5.5zM170.5 556.3h5.5v2.5h-5.5zM139.0 558.5h5.5v2.5h-5.5zM160.0 558.5h5.5v2.5h-5.5zM139.0 560.7h5.5v2.5h-5.5zM160.0 560.7h5.5v2.5h-5.5zM170.5 560.7h5.5v2.5h-5.5zM175.7 560.7h5.5v2.5h-5.5zM186.2 560.7h5.5v2.5h-5.5zM191.4 560.7h5.5v2.5h-5.5zM196.7 560.7h5.5v2.5h-5.5zM201.9 560.7h5.5v2.5h-5.5zM222.9 560.7h5.5v2.5h-5.5zM275.3 560.7h5.5v2.5h-5.5zM118.0 562.9h5.5v2.5h-5.5zM133.8 562.9h5.5v2.5h-5.5zM222.9 562.9h5.5v2.5h-5.5zM112.8 565.1h5.5v2.5h-5.5zM118.0 565.1h5.5v2.5h-5.5zM133.8 565.1h5.5v2.5h-5.5zM149.5 565.1h5.5v2.5h-5.5zM154.7 565.1h5.5v2.5h-5.5zM160.0 565.1h5.5v2.5h-5.5zM180.9 565.1h5.5v2.5h-5.5zM186.2 565.1h5.5v2.5h-5.5zM196.7 565.1h5.5v2.5h-5.5zM217.6 565.1h5.5v2.5h-5.5zM270.0 565.1h5.5v2.5h-5.5zM280.5 565.1h5.5v2.5h-5.5zM112.8 567.4h5.5v2.5h-5.5zM128.5 567.4h5.5v2.5h-5.5zM154.7 567.4h5.5v2.5h-5.5zM175.7 567.4h5.5v2.5h-5.5zM191.4 567.4h5.5v2.5h-5.5zM212.4 567.4h5.5v2.5h-5.5zM270.0 567.4h5.5v2.5h-5.5zM123.3 569.6h5.5v2.5h-5.5zM196.7 569.6h5.5v2.5h-5.5zM201.9 569.6h5.5v2.5h-5.5zM233.3 569.6h5.5v2.5h-5.5zM264.8 569.6h5.5v2.5h-5.5zM118.0 571.8h5.5v2.5h-5.5zM128.5 571.8h5.5v2.5h-5.5zM133.8 571.8h5.5v2.5h-5.5zM144.2 571.8h5.5v2.5h-5.5zM149.5 571.8h5.5v2.5h-5.5zM180.9 571.8h5.5v2.5h-5.5zM285.8 571.8h5.5v2.5h-5.5zM112.8 574.0h5.5v2.5h-5.5zM128.5 574.0h5.5v2.5h-5.5zM144.2 574.0h5.5v2.5h-5.5zM165.2 574.0h5.5v2.5h-5.5zM170.5 574.0h5.5v2.5h-5.5zM270.0 574.0h5.5v2.5h-5.5zM275.3 574.0h5.5v2.5h-5.5zM112.8 576.2h5.5v2.5h-5.5zM144.2 576.2h5.5v2.5h-5.5zM170.5 576.2h5.5v2.5h-5.5zM180.9 576.2h5.5v2.5h-5.5zM212.4 576.2h5.5v2.5h-5.5zM228.1 576.2h5.5v2.5h-5.5zM275.3 576.2h5.5v2.5h-5.5zM280.5 576.2h5.5v2.5h-5.5zM285.8 576.2h5.5v2.5h-5.5zM139.0 580.6h5.5v2.5h-5.5zM154.7 580.6h5.5v2.5h-5.5zM160.0 580.6h5.5v2.5h-5.5zM180.9 580.6h5.5v2.5h-5.5zM217.6 580.6h5.5v2.5h-5.5zM222.9 580.6h5.5v2.5h-5.5zM280.5 580.6h5.5v2.5h-5.5zM128.5 582.9h5.5v2.5h-5.5zM144.2 582.9h5.5v2.5h-5.5zM160.0 582.9h5.5v2.5h-5.5zM170.5 582.9h5.5v2.5h-5.5zM175.7 582.9h5.5v2.5h-5.5zM196.7 582.9h5.5v2.5h-5.5zM212.4 582.9h5.5v2.5h-5.5zM275.3 582.9h5.5v2.5h-5.5zM118.0 585.1h5.5v2.5h-5.5zM144.2 585.1h5.5v2.5h-5.5zM186.2 585.1h5.5v2.5h-5.5zM196.7 585.1h5.5v2.5h-5.5zM275.3 585.1h5.5v2.5h-5.5zM118.0 587.3h5.5v2.5h-5.5zM133.8 587.3h5.5v2.5h-5.5zM160.0 587.3h5.5v2.5h-5.5zM165.2 587.3h5.5v2.5h-5.5zM175.7 587.3h5.5v2.5h-5.5zM180.9 587.3h5.5v2.5h-5.5zM212.4 587.3h5.5v2.5h-5.5zM275.3 587.3h5.5v2.5h-5.5zM123.3 589.5h5.5v2.5h-5.5zM128.5 589.5h5.5v2.5h-5.5zM133.8 589.5h5.5v2.5h-5.5zM139.0 589.5h5.5v2.5h-5.5zM144.2 589.5h5.5v2.5h-5.5zM175.7 589.5h5.5v2.5h-5.5zM186.2 589.5h5.5v2.5h-5.5zM191.4 589.5h5.5v2.5h-5.5zM201.9 589.5h5.5v2.5h-5.5zM144.2 591.7h5.5v2.5h-5.5zM154.7 591.7h5.5v2.5h-5.5zM170.5 591.7h5.5v2.5h-5.5zM175.7 591.7h5.5v2.5h-5.5zM180.9 591.7h5.5v2.5h-5.5zM186.2 591.7h5.5v2.5h-5.5zM191.4 591.7h5.5v2.5h-5.5zM196.7 591.7h5.5v2.5h-5.5zM201.9 591.7h5.5v2.5h-5.5zM222.9 591.7h5.5v2.5h-5.5zM264.8 591.7h5.5v2.5h-5.5zM275.3 591.7h5.5v2.5h-5.5zM170.5 593.9h5.5v2.5h-5.5zM191.4 593.9h5.5v2.5h-5.5zM196.7 593.9h5.5v2.5h-5.5zM118.0 596.1h5.5v2.5h-5.5zM128.5 596.1h5.5v2.5h-5.5zM165.2 596.1h5.5v2.5h-5.5zM170.5 596.1h5.5v2.5h-5.5zM191.4 596.1h5.5v2.5h-5.5zM196.7 596.1h5.5v2.5h-5.5zM222.9 596.1h5.5v2.5h-5.5zM275.3 596.1h5.5v2.5h-5.5zM112.8 598.4h5.5v2.5h-5.5zM133.8 598.4h5.5v2.5h-5.5zM139.0 598.4h5.5v2.5h-5.5zM149.5 598.4h5.5v2.5h-5.5zM160.0 598.4h5.5v2.5h-5.5zM196.7 598.4h5.5v2.5h-5.5zM275.3 598.4h5.5v2.5h-5.5zM280.5 598.4h5.5v2.5h-5.5zM212.4 600.6h5.5v2.5h-5.5zM285.8 600.6h5.5v2.5h-5.5zM112.8 602.8h5.5v2.5h-5.5zM118.0 602.8h5.5v2.5h-5.5zM123.3 602.8h5.5v2.5h-5.5zM149.5 602.8h5.5v2.5h-5.5zM186.2 602.8h5.5v2.5h-5.5zM196.7 602.8h5.5v2.5h-5.5zM207.1 602.8h5.5v2.5h-5.5zM280.5 602.8h5.5v2.5h-5.5z"/>
<path fill="#f5a99a" d="M133.8 365.9h5.5v2.5h-5.5zM228.1 365.9h5.5v2.5h-5.5zM149.5 368.1h5.5v2.5h-5.5zM243.8 372.5h5.5v2.5h-5.5zM118.0 374.8h5.5v2.5h-5.5zM238.6 374.8h5.5v2.5h-5.5zM254.3 374.8h5.5v2.5h-5.5zM275.3 374.8h5.5v2.5h-5.5zM212.4 377.0h5.5v2.5h-5.5zM238.6 377.0h5.5v2.5h-5.5zM270.0 377.0h5.5v2.5h-5.5zM123.3 379.2h5.5v2.5h-5.5zM139.0 379.2h5.5v2.5h-5.5zM243.8 379.2h5.5v2.5h-5.5zM249.1 379.2h5.5v2.5h-5.5zM254.3 379.2h5.5v2.5h-5.5zM228.1 381.4h5.5v2.5h-5.5zM280.5 381.4h5.5v2.5h-5.5zM144.2 383.6h5.5v2.5h-5.5zM154.7 383.6h5.5v2.5h-5.5zM160.0 383.6h5.5v2.5h-5.5zM254.3 383.6h5.5v2.5h-5.5zM285.8 385.8h5.5v2.5h-5.5zM154.7 388.0h5.5v2.5h-5.5zM128.5 392.5h5.5v2.5h-5.5zM123.3 394.7h5.5v2.5h-5.5zM175.7 394.7h5.5v2.5h-5.5zM201.9 394.7h5.5v2.5h-5.5zM228.1 394.7h5.5v2.5h-5.5zM249.1 394.7h5.5v2.5h-5.5zM112.8 399.1h5.5v2.5h-5.5zM118.0 399.1h5.5v2.5h-5.5zM144.2 399.1h5.5v2.5h-5.5zM196.7 399.1h5.5v2.5h-5.5zM238.6 399.1h5.5v2.5h-5.5zM249.1 399.1h5.5v2.5h-5.5zM243.8 401.3h5.5v2.5h-5.5zM118.0 403.5h5.5v2.5h-5.5zM191.4 403.5h5.5v2.5h-5.5zM112.8 405.8h5.5v2.5h-5.5zM128.5 405.8h5.5v2.5h-5.5zM144.2 405.8h5.5v2.5h-5.5zM149.5 405.8h5.5v2.5h-5.5zM139.0 408.0h5.5v2.5h-5.5zM186.2 408.0h5.5v2.5h-5.5zM233.3 408.0h5.5v2.5h-5.5zM285.8 408.0h5.5v2.5h-5.5zM112.8 410.2h5.5v2.5h-5.5zM123.3 410.2h5.5v2.5h-5.5zM139.0 410.2h5.5v2.5h-5.5zM160.0 410.2h5.5v2.5h-5.5zM180.9 410.2h5.5v2.5h-5.5zM201.9 410.2h5.5v2.5h-5.5zM65.1 414.6h5.6v2.5h-5.6zM201.9 414.6h5.5v2.5h-5.5zM228.1 414.6h5.5v2.5h-5.5zM254.3 414.6h5.5v2.5h-5.5zM228.1 416.8h5.5v2.5h-5.5zM259.6 416.8h5.5v2.5h-5.5zM285.8 416.8h5.5v2.5h-5.5zM128.5 421.2h5.5v2.5h-5.5zM133.8 421.2h5.5v2.5h-5.5zM144.2 421.2h5.5v2.5h-5.5zM201.9 421.2h5.5v2.5h-5.5zM228.1 421.2h5.5v2.5h-5.5zM201.9 423.5h5.5v2.5h-5.5zM160.0 425.7h5.5v2.5h-5.5zM207.1 425.7h5.5v2.5h-5.5zM238.6 425.7h5.5v2.5h-5.5zM254.3 425.7h5.5v2.5h-5.5zM275.3 425.7h5.5v2.5h-5.5zM123.3 427.9h5.5v2.5h-5.5zM207.1 430.1h5.5v2.5h-5.5zM228.1 430.1h5.5v2.5h-5.5zM233.3 430.1h5.5v2.5h-5.5zM243.8 430.1h5.5v2.5h-5.5zM249.1 430.1h5.5v2.5h-5.5zM259.6 430.1h5.5v2.5h-5.5zM280.5 430.1h5.5v2.5h-5.5zM118.0 434.5h5.5v2.5h-5.5zM123.3 434.5h5.5v2.5h-5.5zM217.6 434.5h5.5v2.5h-5.5zM249.1 434.5h5.5v2.5h-5.5zM259.6 434.5h5.5v2.5h-5.5zM154.7 436.7h5.5v2.5h-5.5zM160.0 436.7h5.5v2.5h-5.5zM191.4 436.7h5.5v2.5h-5.5zM254.3 436.7h5.5v2.5h-5.5zM259.6 436.7h5.5v2.5h-5.5zM275.3 436.7h5.5v2.5h-5.5zM238.6 439.0h5.5v2.5h-5.5zM259.6 439.0h5.5v2.5h-5.5zM112.8 441.2h5.5v2.5h-5.5zM123.3 441.2h5.5v2.5h-5.5zM264.8 441.2h5.5v2.5h-5.5zM12.3 443.4h5.6v2.5h-5.6zM149.5 443.4h5.5v2.5h-5.5zM217.6 443.4h5.5v2.5h-5.5zM22.9 445.6h5.6v2.5h-5.6zM154.7 445.6h5.5v2.5h-5.5zM175.7 445.6h5.5v2.5h-5.5zM201.9 445.6h5.5v2.5h-5.5zM249.1 445.6h5.5v2.5h-5.5zM270.0 445.6h5.5v2.5h-5.5zM112.8 447.8h5.5v2.5h-5.5zM123.3 447.8h5.5v2.5h-5.5zM128.5 447.8h5.5v2.5h-5.5zM133.8 447.8h5.5v2.5h-5.5zM270.0 447.8h5.5v2.5h-5.5zM249.1 450.0h5.5v2.5h-5.5zM275.3 450.0h5.5v2.5h-5.5zM149.5 452.2h5.5v2.5h-5.5zM249.1 452.2h5.5v2.5h-5.5zM270.0 452.2h5.5v2.5h-5.5zM191.4 454.5h5.5v2.5h-5.5zM249.1 454.5h5.5v2.5h-5.5zM254.3 454.5h5.5v2.5h-5.5zM270.0 454.5h5.5v2.5h-5.5zM128.5 456.7h5.5v2.5h-5.5zM149.5 456.7h5.5v2.5h-5.5zM249.1 456.7h5.5v2.5h-5.5zM254.3 456.7h5.5v2.5h-5.5zM285.8 458.9h5.5v2.5h-5.5zM144.2 461.1h5.5v2.5h-5.5zM201.9 461.1h5.5v2.5h-5.5zM207.1 461.1h5.5v2.5h-5.5zM270.0 461.1h5.5v2.5h-5.5zM165.2 463.3h5.5v2.5h-5.5zM175.7 463.3h5.5v2.5h-5.5zM180.9 463.3h5.5v2.5h-5.5zM228.1 463.3h5.5v2.5h-5.5zM118.0 465.5h5.5v2.5h-5.5zM133.8 465.5h5.5v2.5h-5.5zM139.0 465.5h5.5v2.5h-5.5zM154.7 465.5h5.5v2.5h-5.5zM128.5 467.7h5.5v2.5h-5.5zM133.8 467.7h5.5v2.5h-5.5zM139.0 467.7h5.5v2.5h-5.5zM191.4 467.7h5.5v2.5h-5.5zM196.7 467.7h5.5v2.5h-5.5zM243.8 467.7h5.5v2.5h-5.5zM285.8 467.7h5.5v2.5h-5.5zM123.3 472.2h5.5v2.5h-5.5zM128.5 472.2h5.5v2.5h-5.5zM128.5 476.6h5.5v2.5h-5.5zM133.8 476.6h5.5v2.5h-5.5zM180.9 476.6h5.5v2.5h-5.5zM196.7 476.6h5.5v2.5h-5.5zM154.7 478.8h5.5v2.5h-5.5zM112.8 483.2h5.5v2.5h-5.5zM196.7 483.2h5.5v2.5h-5.5zM133.8 485.4h5.5v2.5h-5.5zM196.7 485.4h5.5v2.5h-5.5zM238.6 485.4h5.5v2.5h-5.5zM264.8 485.4h5.5v2.5h-5.5zM285.8 485.4h5.5v2.5h-5.5zM123.3 487.7h5.5v2.5h-5.5zM222.9 487.7h5.5v2.5h-5.5zM243.8 487.7h5.5v2.5h-5.5zM249.1 487.7h5.5v2.5h-5.5zM259.6 487.7h5.5v2.5h-5.5zM275.3 487.7h5.5v2.5h-5.5zM149.5 489.9h5.5v2.5h-5.5zM238.6 489.9h5.5v2.5h-5.5zM254.3 489.9h5.5v2.5h-5.5zM259.6 489.9h5.5v2.5h-5.5zM270.0 489.9h5.5v2.5h-5.5zM280.5 489.9h5.5v2.5h-5.5zM144.2 492.1h5.5v2.5h-5.5zM149.5 492.1h5.5v2.5h-5.5zM175.7 492.1h5.5v2.5h-5.5zM196.7 492.1h5.5v2.5h-5.5zM207.1 492.1h5.5v2.5h-5.5zM228.1 492.1h5.5v2.5h-5.5zM254.3 492.1h5.5v2.5h-5.5zM285.8 492.1h5.5v2.5h-5.5zM123.3 494.3h5.5v2.5h-5.5zM133.8 494.3h5.5v2.5h-5.5zM254.3 494.3h5.5v2.5h-5.5zM270.0 494.3h5.5v2.5h-5.5zM128.5 496.5h5.5v2.5h-5.5zM212.4 496.5h5.5v2.5h-5.5zM112.8 500.9h5.5v2.5h-5.5zM149.5 500.9h5.5v2.5h-5.5zM196.7 500.9h5.5v2.5h-5.5zM243.8 500.9h5.5v2.5h-5.5zM275.3 503.2h5.5v2.5h-5.5zM123.3 505.4h5.5v2.5h-5.5zM170.5 505.4h5.5v2.5h-5.5zM217.6 505.4h5.5v2.5h-5.5zM264.8 507.6h5.5v2.5h-5.5zM270.0 507.6h5.5v2.5h-5.5zM275.3 507.6h5.5v2.5h-5.5zM112.8 509.8h5.5v2.5h-5.5zM180.9 509.8h5.5v2.5h-5.5zM228.1 509.8h5.5v2.5h-5.5zM238.6 509.8h5.5v2.5h-5.5zM254.3 509.8h5.5v2.5h-5.5zM259.6 509.8h5.5v2.5h-5.5zM128.5 512.0h5.5v2.5h-5.5zM139.0 512.0h5.5v2.5h-5.5zM280.5 512.0h5.5v2.5h-5.5zM128.5 514.2h5.5v2.5h-5.5zM154.7 514.2h5.5v2.5h-5.5zM175.7 514.2h5.5v2.5h-5.5zM196.7 514.2h5.5v2.5h-5.5zM259.6 514.2h5.5v2.5h-5.5zM118.0 516.4h5.5v2.5h-5.5zM160.0 516.4h5.5v2.5h-5.5zM207.1 516.4h5.5v2.5h-5.5zM243.8 516.4h5.5v2.5h-5.5zM123.3 518.7h5.5v2.5h-5.5zM254.3 518.7h5.5v2.5h-5.5zM128.5 520.9h5.5v2.5h-5.5zM196.7 520.9h5.5v2.5h-5.5zM285.8 520.9h5.5v2.5h-5.5zM112.8 523.1h5.5v2.5h-5.5zM144.2 523.1h5.5v2.5h-5.5zM123.3 525.3h5.5v2.5h-5.5zM133.8 525.3h5.5v2.5h-5.5zM149.5 525.3h5.5v2.5h-5.5zM280.5 525.3h5.5v2.5h-5.5zM186.2 527.5h5.5v2.5h-5.5zM207.1 527.5h5.5v2.5h-5.5zM228.1 527.5h5.5v2.5h-5.5zM259.6 527.5h5.5v2.5h-5.5zM133.8 529.7h5.5v2.5h-5.5zM133.8 531.9h5.5v2.5h-5.5zM207.1 531.9h5.5v2.5h-5.5zM233.3 531.9h5.5v2.5h-5.5zM254.3 531.9h5.5v2.5h-5.5zM264.8 531.9h5.5v2.5h-5.5zM285.8 531.9h5.5v2.5h-5.5zM107.5 534.2h5.6v2.5h-5.6zM128.5 534.2h5.5v2.5h-5.5zM196.7 534.2h5.5v2.5h-5.5zM264.8 534.2h5.5v2.5h-5.5zM191.4 536.4h5.5v2.5h-5.5zM228.1 536.4h5.5v2.5h-5.5zM233.3 536.4h5.5v2.5h-5.5zM243.8 536.4h5.5v2.5h-5.5zM249.1 536.4h5.5v2.5h-5.5zM275.3 536.4h5.5v2.5h-5.5zM270.0 538.6h5.5v2.5h-5.5zM233.3 540.8h5.5v2.5h-5.5zM238.6 540.8h5.5v2.5h-5.5zM243.8 540.8h5.5v2.5h-5.5zM196.7 543.0h5.5v2.5h-5.5zM165.2 545.2h5.5v2.5h-5.5zM233.3 545.2h5.5v2.5h-5.5zM254.3 545.2h5.5v2.5h-5.5zM259.6 545.2h5.5v2.5h-5.5zM285.8 545.2h5.5v2.5h-5.5zM233.3 547.4h5.5v2.5h-5.5zM238.6 547.4h5.5v2.5h-5.5zM243.8 547.4h5.5v2.5h-5.5zM285.8 547.4h5.5v2.5h-5.5zM254.3 549.7h5.5v2.5h-5.5zM149.5 551.9h5.5v2.5h-5.5zM186.2 551.9h5.5v2.5h-5.5zM12.3 554.1h5.6v2.5h-5.6zM128.5 554.1h5.5v2.5h-5.5zM228.1 554.1h5.5v2.5h-5.5zM254.3 554.1h5.5v2.5h-5.5zM270.0 554.1h5.5v2.5h-5.5zM123.3 556.3h5.5v2.5h-5.5zM238.6 556.3h5.5v2.5h-5.5zM270.0 556.3h5.5v2.5h-5.5zM128.5 558.5h5.5v2.5h-5.5zM149.5 558.5h5.5v2.5h-5.5zM238.6 558.5h5.5v2.5h-5.5zM285.8 558.5h5.5v2.5h-5.5zM112.8 560.7h5.5v2.5h-5.5zM133.8 560.7h5.5v2.5h-5.5zM144.2 560.7h5.5v2.5h-5.5zM233.3 560.7h5.5v2.5h-5.5zM144.2 562.9h5.5v2.5h-5.5zM191.4 562.9h5.5v2.5h-5.5zM201.9 562.9h5.5v2.5h-5.5zM228.1 562.9h5.5v2.5h-5.5zM207.1 565.1h5.5v2.5h-5.5zM139.0 567.4h5.5v2.5h-5.5zM149.5 567.4h5.5v2.5h-5.5zM196.7 567.4h5.5v2.5h-5.5zM275.3 567.4h5.5v2.5h-5.5zM280.5 567.4h5.5v2.5h-5.5zM285.8 567.4h5.5v2.5h-5.5zM259.6 569.6h5.5v2.5h-5.5zM270.0 569.6h5.5v2.5h-5.5zM285.8 569.6h5.5v2.5h-5.5zM165.2 571.8h5.5v2.5h-5.5zM207.1 571.8h5.5v2.5h-5.5zM233.3 571.8h5.5v2.5h-5.5zM270.0 571.8h5.5v2.5h-5.5zM280.5 571.8h5.5v2.5h-5.5zM249.1 574.0h5.5v2.5h-5.5zM259.6 574.0h5.5v2.5h-5.5zM264.8 574.0h5.5v2.5h-5.5zM285.8 574.0h5.5v2.5h-5.5zM139.0 576.2h5.5v2.5h-5.5zM222.9 576.2h5.5v2.5h-5.5zM233.3 576.2h5.5v2.5h-5.5zM238.6 576.2h5.5v2.5h-5.5zM264.8 576.2h5.5v2.5h-5.5zM270.0 576.2h5.5v2.5h-5.5zM154.7 578.4h5.5v2.5h-5.5zM201.9 578.4h5.5v2.5h-5.5zM123.3 580.6h5.5v2.5h-5.5zM201.9 580.6h5.5v2.5h-5.5zM228.1 580.6h5.5v2.5h-5.5zM118.0 582.9h5.5v2.5h-5.5zM139.0 582.9h5.5v2.5h-5.5zM149.5 582.9h5.5v2.5h-5.5zM222.9 582.9h5.5v2.5h-5.5zM254.3 582.9h5.5v2.5h-5.5zM280.5 582.9h5.5v2.5h-5.5zM186.2 587.3h5.5v2.5h-5.5zM207.1 587.3h5.5v2.5h-5.5zM222.9 587.3h5.5v2.5h-5.5zM270.0 587.3h5.5v2.5h-5.5zM238.6 589.5h5.5v2.5h-5.5zM259.6 589.5h5.5v2.5h-5.5zM270.0 589.5h5.5v2.5h-5.5zM118.0 591.7h5.5v2.5h-5.5zM217.6 591.7h5.5v2.5h-5.5zM228.1 591.7h5.5v2.5h-5.5zM243.8 591.7h5.5v2.5h-5.5zM254.3 591.7h5.5v2.5h-5.5zM270.0 591.7h5.5v2.5h-5.5zM144.2 593.9h5.5v2.5h-5.5zM180.9 593.9h5.5v2.5h-5.5zM280.5 593.9h5.5v2.5h-5.5zM285.8 593.9h5.5v2.5h-5.5zM112.8 596.1h5.5v2.5h-5.5zM123.3 596.1h5.5v2.5h-5.5zM133.8 596.1h5.5v2.5h-5.5zM186.2 596.1h5.5v2.5h-5.5zM207.1 596.1h5.5v2.5h-5.5zM228.1 596.1h5.5v2.5h-5.5zM233.3 598.4h5.5v2.5h-5.5zM243.8 598.4h5.5v2.5h-5.5zM264.8 598.4h5.5v2.5h-5.5zM270.0 598.4h5.5v2.5h-5.5zM133.8 600.6h5.5v2.5h-5.5zM259.6 600.6h5.5v2.5h-5.5zM144.2 602.8h5.5v2.5h-5.5z"/>
<path fill="#faded8" d="M139.0 365.9h5.5v2.5h-5.5zM149.5 365.9h5.5v2.5h-5.5zM191.4 365.9h5.5v2.5h-5.5zM212.4 368.1h5.5v2.5h-5.5zM123.3 370.3h5.5v2.5h-5.5zM144.2 370.3h5.5v2.5h-5.5zM180.9 370.3h5.5v2.5h-5.5zM196.7 370.3h5.5v2.5h-5.5zM212.4 370.3h5.5v2.5h-5.5zM217.6 370.3h5.5v2.5h-5.5zM243.8 370.3h5.5v2.5h-5.5zM249.1 370.3h5.5v2.5h-5.5zM259.6 370.3h5.5v2.5h-5.5zM118.0 372.5h5.5v2.5h-5.5zM133.8 372.5h5.5v2.5h-5.5zM154.7 372.5h5.5v2.5h-5.5zM165.2 372.5h5.5v2.5h-5.5zM186.2 372.5h5.5v2.5h-5.5zM196.7 372.5h5.5v2.5h-5.5zM222.9 372.5h5.5v2.5h-5.5zM275.3 372.5h5.5v2.5h-5.5zM123.3 374.8h5.5v2.5h-5.5zM165.2 374.8h5.5v2.5h-5.5zM38.7 377.0h5.6v2.5h-5.6zM128.5 377.0h5.5v2.5h-5.5zM149.5 379.2h5.5v2.5h-5.5zM186.2 379.2h5.5v2.5h-5.5zM149.5 381.4h5.5v2.5h-5.5zM186.2 381.4h5.5v2.5h-5.5zM191.4 381.4h5.5v2.5h-5.5zM285.8 381.4h5.5v2.5h-5.5zM123.3 383.6h5.5v2.5h-5.5zM133.8 383.6h5.5v2.5h-5.5zM149.5 383.6h5.5v2.5h-5.5zM217.6 383.6h5.5v2.5h-5.5zM285.8 383.6h5.5v2.5h-5.5zM123.3 385.8h5.5v2.5h-5.5zM170.5 385.8h5.5v2.5h-5.5zM180.9 385.8h5.5v2.5h-5.5zM191.4 385.8h5.5v2.5h-5.5zM280.5 385.8h5.5v2.5h-5.5zM112.8 388.0h5.5v2.5h-5.5zM160.0 388.0h5.5v2.5h-5.5zM175.7 388.0h5.5v2.5h-5.5zM180.9 388.0h5.5v2.5h-5.5zM222.9 388.0h5.5v2.5h-5.5zM70.4 390.3h5.6v2.5h-5.6zM118.0 390.3h5.5v2.5h-5.5zM133.8 390.3h5.5v2.5h-5.5zM149.5 390.3h5.5v2.5h-5.5zM154.7 390.3h5.5v2.5h-5.5zM191.4 390.3h5.5v2.5h-5.5zM233.3 390.3h5.5v2.5h-5.5zM238.6 390.3h5.5v2.5h-5.5zM243.8 390.3h5.5v2.5h-5.5zM249.1 390.3h5.5v2.5h-5.5zM254.3 390.3h5.5v2.5h-5.5zM259.6 390.3h5.5v2.5h-5.5zM264.8 390.3h5.5v2.5h-5.5zM270.0 390.3h5.5v2.5h-5.5zM112.8 392.5h5.5v2.5h-5.5zM160.0 392.5h5.5v2.5h-5.5zM118.0 394.7h5.5v2.5h-5.5zM180.9 394.7h5.5v2.5h-5.5zM186.2 394.7h5.5v2.5h-5.5zM275.3 394.7h5.5v2.5h-5.5zM133.8 396.9h5.5v2.5h-5.5zM149.5 396.9h5.5v2.5h-5.5zM165.2 396.9h5.5v2.5h-5.5zM191.4 396.9h5.5v2.5h-5.5zM217.6 396.9h5.5v2.5h-5.5zM149.5 399.1h5.5v2.5h-5.5zM186.2 399.1h5.5v2.5h-5.5zM207.1 399.1h5.5v2.5h-5.5zM275.3 399.1h5.5v2.5h-5.5zM201.9 401.3h5.5v2.5h-5.5zM112.8 403.5h5.5v2.5h-5.5zM201.9 403.5h5.5v2.5h-5.5zM228.1 403.5h5.5v2.5h-5.5zM285.8 403.5h5.5v2.5h-5.5zM222.9 405.8h5.5v2.5h-5.5zM123.3 408.0h5.5v2.5h-5.5zM170.5 408.0h5.5v2.5h-5.5zM180.9 408.0h5.5v2.5h-5.5zM133.8 410.2h5.5v2.5h-5.5zM186.2 410.2h5.5v2.5h-5.5zM217.6 410.2h5.5v2.5h-5.5zM238.6 412.4h5.5v2.5h-5.5zM112.8 414.6h5.5v2.5h-5.5zM118.0 416.8h5.5v2.5h-5.5zM165.2 416.8h5.5v2.5h-5.5zM191.4 416.8h5.5v2.5h-5.5zM175.7 419.0h5.5v2.5h-5.5zM201.9 419.0h5.5v2.5h-5.5zM118.0 421.2h5.5v2.5h-5.5zM186.2 421.2h5.5v2.5h-5.5zM207.1 421.2h5.5v2.5h-5.5zM280.5 421.2h5.5v2.5h-5.5zM118.0 423.5h5.5v2.5h-5.5zM175.7 425.7h5.5v2.5h-5.5zM222.9 425.7h5.5v2.5h-5.5zM285.8 425.7h5.5v2.5h-5.5zM144.2 427.9h5.5v2.5h-5.5zM149.5 427.9h5.5v2.5h-5.5zM186.2 427.9h5.5v2.5h-5.5zM191.4 427.9h5.5v2.5h-5.5zM201.9 427.9h5.5v2.5h-5.5zM70.4 430.1h5.6v2.5h-5.6zM80.9 430.1h5.6v2.5h-5.6zM112.8 432.3h5.5v2.5h-5.5zM118.0 432.3h5.5v2.5h-5.5zM139.0 432.3h5.5v2.5h-5.5zM160.0 432.3h5.5v2.5h-5.5zM228.1 432.3h5.5v2.5h-5.5zM233.3 432.3h5.5v2.5h-5.5zM238.6 432.3h5.5v2.5h-5.5zM243.8 432.3h5.5v2.5h-5.5zM254.3 432.3h5.5v2.5h-5.5zM259.6 432.3h5.5v2.5h-5.5zM264.8 432.3h5.5v2.5h-5.5zM139.0 434.5h5.5v2.5h-5.5zM112.8 436.7h5.5v2.5h-5.5zM144.2 436.7h5.5v2.5h-5.5zM175.7 436.7h5.5v2.5h-5.5zM207.1 436.7h5.5v2.5h-5.5zM249.1 436.7h5.5v2.5h-5.5zM128.5 439.0h5.5v2.5h-5.5zM191.4 441.2h5.5v2.5h-5.5zM217.6 441.2h5.5v2.5h-5.5zM128.5 443.4h5.5v2.5h-5.5zM196.7 443.4h5.5v2.5h-5.5zM160.0 445.6h5.5v2.5h-5.5zM186.2 445.6h5.5v2.5h-5.5zM154.7 447.8h5.5v2.5h-5.5zM212.4 447.8h5.5v2.5h-5.5zM170.5 450.0h5.5v2.5h-5.5zM201.9 450.0h5.5v2.5h-5.5zM243.8 450.0h5.5v2.5h-5.5zM259.6 450.0h5.5v2.5h-5.5zM217.6 452.2h5.5v2.5h-5.5zM233.3 452.2h5.5v2.5h-5.5zM118.0 454.5h5.5v2.5h-5.5zM128.5 454.5h5.5v2.5h-5.5zM139.0 454.5h5.5v2.5h-5.5zM222.9 454.5h5.5v2.5h-5.5zM22.9 456.7h5.6v2.5h-5.6zM44.0 456.7h5.6v2.5h-5.6zM123.3 456.7h5.5v2.5h-5.5zM175.7 456.7h5.5v2.5h-5.5zM201.9 456.7h5.5v2.5h-5.5zM139.0 458.9h5.5v2.5h-5.5zM149.5 458.9h5.5v2.5h-5.5zM170.5 458.9h5.5v2.5h-5.5zM118.0 461.1h5.5v2.5h-5.5zM154.7 461.1h5.5v2.5h-5.5zM191.4 461.1h5.5v2.5h-5.5zM275.3 461.1h5.5v2.5h-5.5zM280.5 461.1h5.5v2.5h-5.5zM128.5 463.3h5.5v2.5h-5.5zM54.5 465.5h5.6v2.5h-5.6zM238.6 465.5h5.5v2.5h-5.5zM123.3 467.7h5.5v2.5h-5.5zM180.9 467.7h5.5v2.5h-5.5zM222.9 467.7h5.5v2.5h-5.5zM133.8 470.0h5.5v2.5h-5.5zM201.9 470.0h5.5v2.5h-5.5zM233.3 470.0h5.5v2.5h-5.5zM243.8 470.0h5.5v2.5h-5.5zM249.1 470.0h5.5v2.5h-5.5zM254.3 470.0h5.5v2.5h-5.5zM264.8 470.0h5.5v2.5h-5.5zM275.3 470.0h5.5v2.5h-5.5zM118.0 472.2h5.5v2.5h-5.5zM144.2 472.2h5.5v2.5h-5.5zM165.2 472.2h5.5v2.5h-5.5zM170.5 472.2h5.5v2.5h-5.5zM180.9 472.2h5.5v2.5h-5.5zM196.7 472.2h5.5v2.5h-5.5zM201.9 472.2h5.5v2.5h-5.5zM217.6 472.2h5.5v2.5h-5.5zM170.5 474.4h5.5v2.5h-5.5zM196.7 474.4h5.5v2.5h-5.5zM217.6 474.4h5.5v2.5h-5.5zM228.1 474.4h5.5v2.5h-5.5zM118.0 476.6h5.5v2.5h-5.5zM123.3 476.6h5.5v2.5h-5.5zM144.2 476.6h5.5v2.5h-5.5zM165.2 476.6h5.5v2.5h-5.5zM170.5 476.6h5.5v2.5h-5.5zM212.4 476.6h5.5v2.5h-5.5zM222.9 476.6h5.5v2.5h-5.5zM285.8 476.6h5.5v2.5h-5.5zM112.8 478.8h5.5v2.5h-5.5zM128.5 478.8h5.5v2.5h-5.5zM160.0 478.8h5.5v2.5h-5.5zM180.9 478.8h5.5v2.5h-5.5zM212.4 478.8h5.5v2.5h-5.5zM217.6 478.8h5.5v2.5h-5.5zM112.8 481.0h5.5v2.5h-5.5zM144.2 481.0h5.5v2.5h-5.5zM201.9 481.0h5.5v2.5h-5.5zM222.9 481.0h5.5v2.5h-5.5zM233.3 481.0h5.5v2.5h-5.5zM238.6 481.0h5.5v2.5h-5.5zM243.8 481.0h5.5v2.5h-5.5zM249.1 481.0h5.5v2.5h-5.5zM254.3 481.0h5.5v2.5h-5.5zM259.6 481.0h5.5v2.5h-5.5zM264.8 481.0h5.5v2.5h-5.5zM270.0 481.0h5.5v2.5h-5.5zM275.3 481.0h5.5v2.5h-5.5zM285.8 481.0h5.5v2.5h-5.5zM175.7 483.2h5.5v2.5h-5.5zM160.0 485.4h5.5v2.5h-5.5zM186.2 485.4h5.5v2.5h-5.5zM112.8 487.7h5.5v2.5h-5.5zM160.0 487.7h5.5v2.5h-5.5zM207.1 487.7h5.5v2.5h-5.5zM212.4 487.7h5.5v2.5h-5.5zM233.3 489.9h5.5v2.5h-5.5zM249.1 489.9h5.5v2.5h-5.5zM280.5 492.1h5.5v2.5h-5.5zM175.7 494.3h5.5v2.5h-5.5zM180.9 494.3h5.5v2.5h-5.5zM191.4 496.5h5.5v2.5h-5.5zM275.3 496.5h5.5v2.5h-5.5zM160.0 498.7h5.5v2.5h-5.5zM196.7 498.7h5.5v2.5h-5.5zM201.9 498.7h5.5v2.5h-5.5zM228.1 498.7h5.5v2.5h-5.5zM233.3 498.7h5.5v2.5h-5.5zM238.6 498.7h5.5v2.5h-5.5zM243.8 498.7h5.5v2.5h-5.5zM249.1 498.7h5.5v2.5h-5.5zM254.3 498.7h5.5v2.5h-5.5zM259.6 498.7h5.5v2.5h-5.5zM264.8 498.7h5.5v2.5h-5.5zM144.2 500.9h5.5v2.5h-5.5zM275.3 500.9h5.5v2.5h-5.5zM280.5 500.9h5.5v2.5h-5.5zM175.7 503.2h5.5v2.5h-5.5zM212.4 503.2h5.5v2.5h-5.5zM217.6 503.2h5.5v2.5h-5.5zM107.5 505.4h5.6v2.5h-5.6zM207.1 505.4h5.5v2.5h-5.5zM118.0 509.8h5.5v2.5h-5.5zM149.5 509.8h5.5v2.5h-5.5zM275.3 509.8h5.5v2.5h-5.5zM123.3 512.0h5.5v2.5h-5.5zM144.2 512.0h5.5v2.5h-5.5zM270.0 512.0h5.5v2.5h-5.5zM112.8 514.2h5.5v2.5h-5.5zM123.3 514.2h5.5v2.5h-5.5zM149.5 514.2h5.5v2.5h-5.5zM123.3 516.4h5.5v2.5h-5.5zM139.0 516.4h5.5v2.5h-5.5zM144.2 516.4h5.5v2.5h-5.5zM275.3 516.4h5.5v2.5h-5.5zM285.8 516.4h5.5v2.5h-5.5zM154.7 518.7h5.5v2.5h-5.5zM217.6 518.7h5.5v2.5h-5.5zM144.2 520.9h5.5v2.5h-5.5zM165.2 520.9h5.5v2.5h-5.5zM212.4 523.1h5.5v2.5h-5.5zM238.6 523.1h5.5v2.5h-5.5zM144.2 525.3h5.5v2.5h-5.5zM154.7 525.3h5.5v2.5h-5.5zM170.5 525.3h5.5v2.5h-5.5zM112.8 527.5h5.5v2.5h-5.5zM118.0 527.5h5.5v2.5h-5.5zM128.5 527.5h5.5v2.5h-5.5zM144.2 527.5h5.5v2.5h-5.5zM154.7 527.5h5.5v2.5h-5.5zM175.7 527.5h5.5v2.5h-5.5zM118.0 529.7h5.5v2.5h-5.5zM154.7 529.7h5.5v2.5h-5.5zM170.5 529.7h5.5v2.5h-5.5zM201.9 529.7h5.5v2.5h-5.5zM207.1 529.7h5.5v2.5h-5.5zM212.4 529.7h5.5v2.5h-5.5zM217.6 529.7h5.5v2.5h-5.5zM228.1 529.7h5.5v2.5h-5.5zM270.0 529.7h5.5v2.5h-5.5zM154.7 531.9h5.5v2.5h-5.5zM175.7 531.9h5.5v2.5h-5.5zM186.2 531.9h5.5v2.5h-5.5zM196.7 531.9h5.5v2.5h-5.5zM201.9 531.9h5.5v2.5h-5.5zM54.5 534.2h5.6v2.5h-5.6zM80.9 534.2h5.6v2.5h-5.6zM96.8 534.2h5.6v2.5h-5.6zM112.8 534.2h5.5v2.5h-5.5zM118.0 534.2h5.5v2.5h-5.5zM133.8 534.2h5.5v2.5h-5.5zM175.7 534.2h5.5v2.5h-5.5zM201.9 534.2h5.5v2.5h-5.5zM222.9 534.2h5.5v2.5h-5.5zM275.3 534.2h5.5v2.5h-5.5zM280.5 534.2h5.5v2.5h-5.5zM149.5 536.4h5.5v2.5h-5.5zM196.7 536.4h5.5v2.5h-5.5zM222.9 536.4h5.5v2.5h-5.5zM118.0 538.6h5.5v2.5h-5.5zM128.5 538.6h5.5v2.5h-5.5zM139.0 538.6h5.5v2.5h-5.5zM186.2 538.6h5.5v2.5h-5.5zM196.7 538.6h5.5v2.5h-5.5zM275.3 538.6h5.5v2.5h-5.5zM144.2 540.8h5.5v2.5h-5.5zM186.2 545.2h5.5v2.5h-5.5zM207.1 545.2h5.5v2.5h-5.5zM280.5 545.2h5.5v2.5h-5.5zM175.7 547.4h5.5v2.5h-5.5zM191.4 547.4h5.5v2.5h-5.5zM196.7 547.4h5.5v2.5h-5.5zM264.8 547.4h5.5v2.5h-5.5zM280.5 547.4h5.5v2.5h-5.5zM123.3 549.7h5.5v2.5h-5.5zM128.5 549.7h5.5v2.5h-5.5zM149.5 549.7h5.5v2.5h-5.5zM217.6 549.7h5.5v2.5h-5.5zM144.2 551.9h5.5v2.5h-5.5zM154.7 551.9h5.5v2.5h-5.5zM175.7 551.9h5.5v2.5h-5.5zM59.8 554.1h5.6v2.5h-5.6zM112.8 554.1h5.5v2.5h-5.5zM149.5 554.1h5.5v2.5h-5.5zM160.0 554.1h5.5v2.5h-5.5zM186.2 554.1h5.5v2.5h-5.5zM196.7 554.1h5.5v2.5h-5.5zM217.6 554.1h5.5v2.5h-5.5zM243.8 554.1h5.5v2.5h-5.5zM144.2 556.3h5.5v2.5h-5.5zM186.2 556.3h5.5v2.5h-5.5zM217.6 556.3h5.5v2.5h-5.5zM259.6 556.3h5.5v2.5h-5.5zM280.5 556.3h5.5v2.5h-5.5zM118.0 558.5h5.5v2.5h-5.5zM123.3 558.5h5.5v2.5h-5.5zM133.8 558.5h5.5v2.5h-5.5zM165.2 558.5h5.5v2.5h-5.5zM154.7 560.7h5.5v2.5h-5.5zM196.7 562.9h5.5v2.5h-5.5zM207.1 562.9h5.5v2.5h-5.5zM212.4 562.9h5.5v2.5h-5.5zM264.8 562.9h5.5v2.5h-5.5zM144.2 565.1h5.5v2.5h-5.5zM165.2 565.1h5.5v2.5h-5.5zM123.3 567.4h5.5v2.5h-5.5zM133.8 567.4h5.5v2.5h-5.5zM175.7 569.6h5.5v2.5h-5.5zM222.9 569.6h5.5v2.5h-5.5zM123.3 571.8h5.5v2.5h-5.5zM243.8 571.8h5.5v2.5h-5.5zM175.7 574.0h5.5v2.5h-5.5zM207.1 574.0h5.5v2.5h-5.5zM238.6 574.0h5.5v2.5h-5.5zM175.7 576.2h5.5v2.5h-5.5zM217.6 576.2h5.5v2.5h-5.5zM12.3 578.4h5.6v2.5h-5.6zM112.8 578.4h5.5v2.5h-5.5zM118.0 578.4h5.5v2.5h-5.5zM139.0 578.4h5.5v2.5h-5.5zM165.2 578.4h5.5v2.5h-5.5zM175.7 578.4h5.5v2.5h-5.5zM180.9 578.4h5.5v2.5h-5.5zM207.1 578.4h5.5v2.5h-5.5zM175.7 580.6h5.5v2.5h-5.5zM186.2 580.6h5.5v2.5h-5.5zM207.1 580.6h5.5v2.5h-5.5zM212.4 580.6h5.5v2.5h-5.5zM165.2 582.9h5.5v2.5h-5.5zM207.1 582.9h5.5v2.5h-5.5zM160.0 585.1h5.5v2.5h-5.5zM191.4 585.1h5.5v2.5h-5.5zM228.1 585.1h5.5v2.5h-5.5zM233.3 585.1h5.5v2.5h-5.5zM243.8 585.1h5.5v2.5h-5.5zM249.1 585.1h5.5v2.5h-5.5zM254.3 585.1h5.5v2.5h-5.5zM280.5 585.1h5.5v2.5h-5.5zM285.8 585.1h5.5v2.5h-5.5zM123.3 587.3h5.5v2.5h-5.5zM154.7 587.3h5.5v2.5h-5.5zM233.3 587.3h5.5v2.5h-5.5zM154.7 589.5h5.5v2.5h-5.5zM254.3 589.5h5.5v2.5h-5.5zM275.3 589.5h5.5v2.5h-5.5zM149.5 591.7h5.5v2.5h-5.5zM165.2 591.7h5.5v2.5h-5.5zM275.3 593.9h5.5v2.5h-5.5zM139.0 596.1h5.5v2.5h-5.5zM144.2 596.1h5.5v2.5h-5.5zM160.0 596.1h5.5v2.5h-5.5zM180.9 596.1h5.5v2.5h-5.5zM102.2 598.4h5.6v2.5h-5.6zM154.7 598.4h5.5v2.5h-5.5zM249.1 598.4h5.5v2.5h-5.5zM112.8 600.6h5.5v2.5h-5.5zM149.5 600.6h5.5v2.5h-5.5zM154.7 600.6h5.5v2.5h-5.5zM186.2 600.6h5.5v2.5h-5.5zM165.2 602.8h5.5v2.5h-5.5zM217.6 602.8h5.5v2.5h-5.5z"/>
<path fill="#e54534" d="M154.7 365.9h5.5v2.5h-5.5zM238.6 372.5h5.5v2.5h-5.5zM254.3 372.5h5.5v2.5h-5.5zM259.6 372.5h5.5v2.5h-5.5zM238.6 383.6h5.5v2.5h-5.5zM222.9 385.8h5.5v2.5h-5.5zM259.6 385.8h5.5v2.5h-5.5zM254.3 388.0h5.5v2.5h-5.5zM264.8 392.5h5.5v2.5h-5.5zM112.8 394.7h5.5v2.5h-5.5zM160.0 403.5h5.5v2.5h-5.5zM112.8 416.8h5.5v2.5h-5.5zM243.8 419.0h5.5v2.5h-5.5zM270.0 427.9h5.5v2.5h-5.5zM280.5 427.9h5.5v2.5h-5.5zM243.8 434.5h5.5v2.5h-5.5zM228.1 436.7h5.5v2.5h-5.5zM264.8 436.7h5.5v2.5h-5.5zM243.8 439.0h5.5v2.5h-5.5zM228.1 441.2h5.5v2.5h-5.5zM264.8 443.4h5.5v2.5h-5.5zM228.1 447.8h5.5v2.5h-5.5zM243.8 456.7h5.5v2.5h-5.5zM249.1 458.9h5.5v2.5h-5.5zM249.1 463.3h5.5v2.5h-5.5zM196.7 465.5h5.5v2.5h-5.5zM149.5 467.7h5.5v2.5h-5.5zM254.3 474.4h5.5v2.5h-5.5zM259.6 474.4h5.5v2.5h-5.5zM270.0 474.4h5.5v2.5h-5.5zM217.6 476.6h5.5v2.5h-5.5zM249.1 476.6h5.5v2.5h-5.5zM270.0 476.6h5.5v2.5h-5.5zM222.9 478.8h5.5v2.5h-5.5zM264.8 487.7h5.5v2.5h-5.5zM233.3 492.1h5.5v2.5h-5.5zM275.3 492.1h5.5v2.5h-5.5zM243.8 496.5h5.5v2.5h-5.5zM249.1 514.2h5.5v2.5h-5.5zM249.1 518.7h5.5v2.5h-5.5zM238.6 520.9h5.5v2.5h-5.5zM264.8 520.9h5.5v2.5h-5.5zM112.8 529.7h5.5v2.5h-5.5zM243.8 529.7h5.5v2.5h-5.5zM264.8 529.7h5.5v2.5h-5.5zM233.3 534.2h5.5v2.5h-5.5zM165.2 538.6h5.5v2.5h-5.5zM243.8 556.3h5.5v2.5h-5.5zM160.0 567.4h5.5v2.5h-5.5zM186.2 578.4h5.5v2.5h-5.5zM238.6 580.6h5.5v2.5h-5.5zM259.6 580.6h5.5v2.5h-5.5zM254.3 602.8h5.5v2.5h-5.5zM259.6 602.8h5.5v2.5h-5.5z"/>
<path fill="#e85241" d="M165.2 365.9h5.5v2.5h-5.5zM259.6 365.9h5.5v2.5h-5.5zM144.2 368.1h5.5v2.5h-5.5zM165.2 368.1h5.5v2.5h-5.5zM259.6 368.1h5.5v2.5h-5.5zM270.0 368.1h5.5v2.5h-5.5zM228.1 372.5h5.5v2.5h-5.5zM233.3 372.5h5.5v2.5h-5.5zM270.0 372.5h5.5v2.5h-5.5zM264.8 381.4h5.5v2.5h-5.5zM233.3 385.8h5.5v2.5h-5.5zM238.6 385.8h5.5v2.5h-5.5zM201.9 388.0h5.5v2.5h-5.5zM233.3 388.0h5.5v2.5h-5.5zM238.6 388.0h5.5v2.5h-5.5zM243.8 388.0h5.5v2.5h-5.5zM259.6 388.0h5.5v2.5h-5.5zM238.6 392.5h5.5v2.5h-5.5zM222.9 394.7h5.5v2.5h-5.5zM259.6 394.7h5.5v2.5h-5.5zM270.0 394.7h5.5v2.5h-5.5zM285.8 394.7h5.5v2.5h-5.5zM228.1 396.9h5.5v2.5h-5.5zM259.6 396.9h5.5v2.5h-5.5zM228.1 399.1h5.5v2.5h-5.5zM249.1 401.3h5.5v2.5h-5.5zM270.0 401.3h5.5v2.5h-5.5zM128.5 403.5h5.5v2.5h-5.5zM238.6 403.5h5.5v2.5h-5.5zM259.6 403.5h5.5v2.5h-5.5zM280.5 403.5h5.5v2.5h-5.5zM254.3 405.8h5.5v2.5h-5.5zM259.6 408.0h5.5v2.5h-5.5zM228.1 410.2h5.5v2.5h-5.5zM233.3 410.2h5.5v2.5h-5.5zM264.8 410.2h5.5v2.5h-5.5zM139.0 412.4h5.5v2.5h-5.5zM207.1 412.4h5.5v2.5h-5.5zM233.3 412.4h5.5v2.5h-5.5zM233.3 423.5h5.5v2.5h-5.5zM170.5 439.0h5.5v2.5h-5.5zM249.1 439.0h5.5v2.5h-5.5zM175.7 441.2h5.5v2.5h-5.5zM249.1 441.2h5.5v2.5h-5.5zM238.6 443.4h5.5v2.5h-5.5zM254.3 443.4h5.5v2.5h-5.5zM191.4 445.6h5.5v2.5h-5.5zM196.7 452.2h5.5v2.5h-5.5zM207.1 452.2h5.5v2.5h-5.5zM238.6 452.2h5.5v2.5h-5.5zM259.6 452.2h5.5v2.5h-5.5zM264.8 452.2h5.5v2.5h-5.5zM233.3 454.5h5.5v2.5h-5.5zM259.6 454.5h5.5v2.5h-5.5zM154.7 456.7h5.5v2.5h-5.5zM238.6 458.9h5.5v2.5h-5.5zM243.8 458.9h5.5v2.5h-5.5zM270.0 458.9h5.5v2.5h-5.5zM264.8 461.1h5.5v2.5h-5.5zM191.4 463.3h5.5v2.5h-5.5zM249.1 465.5h5.5v2.5h-5.5zM154.7 472.2h5.5v2.5h-5.5zM254.3 472.2h5.5v2.5h-5.5zM139.0 474.4h5.5v2.5h-5.5zM238.6 474.4h5.5v2.5h-5.5zM254.3 476.6h5.5v2.5h-5.5zM259.6 478.8h5.5v2.5h-5.5zM144.2 485.4h5.5v2.5h-5.5zM128.5 494.3h5.5v2.5h-5.5zM149.5 494.3h5.5v2.5h-5.5zM144.2 496.5h5.5v2.5h-5.5zM264.8 496.5h5.5v2.5h-5.5zM249.1 500.9h5.5v2.5h-5.5zM186.2 503.2h5.5v2.5h-5.5zM233.3 503.2h5.5v2.5h-5.5zM249.1 503.2h5.5v2.5h-5.5zM259.6 503.2h5.5v2.5h-5.5zM270.0 503.2h5.5v2.5h-5.5zM249.1 505.4h5.5v2.5h-5.5zM270.0 505.4h5.5v2.5h-5.5zM254.3 512.0h5.5v2.5h-5.5zM238.6 516.4h5.5v2.5h-5.5zM228.1 520.9h5.5v2.5h-5.5zM249.1 523.1h5.5v2.5h-5.5zM228.1 525.3h5.5v2.5h-5.5zM243.8 525.3h5.5v2.5h-5.5zM238.6 527.5h5.5v2.5h-5.5zM139.0 529.7h5.5v2.5h-5.5zM254.3 529.7h5.5v2.5h-5.5zM259.6 529.7h5.5v2.5h-5.5zM191.4 534.2h5.5v2.5h-5.5zM149.5 538.6h5.5v2.5h-5.5zM228.1 538.6h5.5v2.5h-5.5zM264.8 540.8h5.5v2.5h-5.5zM270.0 540.8h5.5v2.5h-5.5zM228.1 543.0h5.5v2.5h-5.5zM238.6 543.0h5.5v2.5h-5.5zM249.1 543.0h5.5v2.5h-5.5zM285.8 543.0h5.5v2.5h-5.5zM259.6 549.7h5.5v2.5h-5.5zM180.9 551.9h5.5v2.5h-5.5zM254.3 551.9h5.5v2.5h-5.5zM222.9 558.5h5.5v2.5h-5.5zM259.6 558.5h5.5v2.5h-5.5zM118.0 560.7h5.5v2.5h-5.5zM264.8 560.7h5.5v2.5h-5.5zM154.7 562.9h5.5v2.5h-5.5zM238.6 565.1h5.5v2.5h-5.5zM243.8 565.1h5.5v2.5h-5.5zM254.3 565.1h5.5v2.5h-5.5zM165.2 567.4h5.5v2.5h-5.5zM207.1 567.4h5.5v2.5h-5.5zM254.3 571.8h5.5v2.5h-5.5zM144.2 578.4h5.5v2.5h-5.5zM212.4 578.4h5.5v2.5h-5.5zM238.6 578.4h5.5v2.5h-5.5zM254.3 578.4h5.5v2.5h-5.5zM259.6 582.9h5.5v2.5h-5.5zM228.1 587.3h5.5v2.5h-5.5zM254.3 587.3h5.5v2.5h-5.5zM228.1 593.9h5.5v2.5h-5.5zM228.1 600.6h5.5v2.5h-5.5zM238.6 600.6h5.5v2.5h-5.5z"/>
<path fill="#f07c69" d="M180.9 365.9h5.5v2.5h-5.5zM233.3 368.1h5.5v2.5h-5.5zM238.6 368.1h5.5v2.5h-5.5zM254.3 368.1h5.5v2.5h-5.5zM264.8 368.1h5.5v2.5h-5.5zM123.3 372.5h5.5v2.5h-5.5zM264.8 372.5h5.5v2.5h-5.5zM133.8 374.8h5.5v2.5h-5.5zM233.3 374.8h5.5v2.5h-5.5zM259.6 374.8h5.5v2.5h-5.5zM112.8 377.0h5.5v2.5h-5.5zM228.1 379.2h5.5v2.5h-5.5zM238.6 381.4h5.5v2.5h-5.5zM275.3 385.8h5.5v2.5h-5.5zM133.8 388.0h5.5v2.5h-5.5zM270.0 388.0h5.5v2.5h-5.5zM275.3 388.0h5.5v2.5h-5.5zM254.3 392.5h5.5v2.5h-5.5zM233.3 394.7h5.5v2.5h-5.5zM238.6 394.7h5.5v2.5h-5.5zM243.8 394.7h5.5v2.5h-5.5zM196.7 396.9h5.5v2.5h-5.5zM233.3 399.1h5.5v2.5h-5.5zM259.6 399.1h5.5v2.5h-5.5zM264.8 399.1h5.5v2.5h-5.5zM165.2 403.5h5.5v2.5h-5.5zM196.7 403.5h5.5v2.5h-5.5zM217.6 403.5h5.5v2.5h-5.5zM249.1 405.8h5.5v2.5h-5.5zM207.1 408.0h5.5v2.5h-5.5zM112.8 412.4h5.5v2.5h-5.5zM123.3 412.4h5.5v2.5h-5.5zM175.7 414.6h5.5v2.5h-5.5zM243.8 414.6h5.5v2.5h-5.5zM249.1 414.6h5.5v2.5h-5.5zM259.6 414.6h5.5v2.5h-5.5zM280.5 416.8h5.5v2.5h-5.5zM270.0 421.2h5.5v2.5h-5.5zM228.1 423.5h5.5v2.5h-5.5zM275.3 423.5h5.5v2.5h-5.5zM233.3 425.7h5.5v2.5h-5.5zM139.0 427.9h5.5v2.5h-5.5zM170.5 427.9h5.5v2.5h-5.5zM264.8 427.9h5.5v2.5h-5.5zM275.3 427.9h5.5v2.5h-5.5zM180.9 434.5h5.5v2.5h-5.5zM238.6 434.5h5.5v2.5h-5.5zM270.0 439.0h5.5v2.5h-5.5zM285.8 439.0h5.5v2.5h-5.5zM191.4 443.4h5.5v2.5h-5.5zM259.6 445.6h5.5v2.5h-5.5zM264.8 447.8h5.5v2.5h-5.5zM275.3 447.8h5.5v2.5h-5.5zM280.5 447.8h5.5v2.5h-5.5zM160.0 452.2h5.5v2.5h-5.5zM217.6 454.5h5.5v2.5h-5.5zM264.8 454.5h5.5v2.5h-5.5zM228.1 456.7h5.5v2.5h-5.5zM233.3 456.7h5.5v2.5h-5.5zM128.5 458.9h5.5v2.5h-5.5zM275.3 458.9h5.5v2.5h-5.5zM243.8 463.3h5.5v2.5h-5.5zM254.3 463.3h5.5v2.5h-5.5zM233.3 465.5h5.5v2.5h-5.5zM243.8 465.5h5.5v2.5h-5.5zM270.0 465.5h5.5v2.5h-5.5zM275.3 465.5h5.5v2.5h-5.5zM233.3 467.7h5.5v2.5h-5.5zM275.3 467.7h5.5v2.5h-5.5zM133.8 472.2h5.5v2.5h-5.5zM264.8 472.2h5.5v2.5h-5.5zM270.0 472.2h5.5v2.5h-5.5zM275.3 472.2h5.5v2.5h-5.5zM285.8 472.2h5.5v2.5h-5.5zM128.5 474.4h5.5v2.5h-5.5zM149.5 474.4h5.5v2.5h-5.5zM112.8 476.6h5.5v2.5h-5.5zM191.4 478.8h5.5v2.5h-5.5zM249.1 478.8h5.5v2.5h-5.5zM270.0 478.8h5.5v2.5h-5.5zM285.8 478.8h5.5v2.5h-5.5zM233.3 483.2h5.5v2.5h-5.5zM259.6 483.2h5.5v2.5h-5.5zM118.0 485.4h5.5v2.5h-5.5zM254.3 487.7h5.5v2.5h-5.5zM144.2 494.3h5.5v2.5h-5.5zM228.1 494.3h5.5v2.5h-5.5zM243.8 494.3h5.5v2.5h-5.5zM149.5 496.5h5.5v2.5h-5.5zM254.3 496.5h5.5v2.5h-5.5zM238.6 500.9h5.5v2.5h-5.5zM259.6 500.9h5.5v2.5h-5.5zM118.0 503.2h5.5v2.5h-5.5zM280.5 503.2h5.5v2.5h-5.5zM191.4 507.6h5.5v2.5h-5.5zM249.1 507.6h5.5v2.5h-5.5zM254.3 507.6h5.5v2.5h-5.5zM233.3 509.8h5.5v2.5h-5.5zM165.2 512.0h5.5v2.5h-5.5zM228.1 512.0h5.5v2.5h-5.5zM275.3 512.0h5.5v2.5h-5.5zM285.8 512.0h5.5v2.5h-5.5zM222.9 514.2h5.5v2.5h-5.5zM238.6 514.2h5.5v2.5h-5.5zM254.3 514.2h5.5v2.5h-5.5zM285.8 514.2h5.5v2.5h-5.5zM259.6 516.4h5.5v2.5h-5.5zM270.0 516.4h5.5v2.5h-5.5zM165.2 518.7h5.5v2.5h-5.5zM254.3 520.9h5.5v2.5h-5.5zM133.8 523.1h5.5v2.5h-5.5zM175.7 523.1h5.5v2.5h-5.5zM254.3 523.1h5.5v2.5h-5.5zM275.3 523.1h5.5v2.5h-5.5zM280.5 523.1h5.5v2.5h-5.5zM233.3 527.5h5.5v2.5h-5.5zM264.8 527.5h5.5v2.5h-5.5zM149.5 529.7h5.5v2.5h-5.5zM196.7 529.7h5.5v2.5h-5.5zM233.3 529.7h5.5v2.5h-5.5zM249.1 529.7h5.5v2.5h-5.5zM275.3 529.7h5.5v2.5h-5.5zM280.5 529.7h5.5v2.5h-5.5zM270.0 536.4h5.5v2.5h-5.5zM222.9 538.6h5.5v2.5h-5.5zM233.3 538.6h5.5v2.5h-5.5zM243.8 538.6h5.5v2.5h-5.5zM259.6 538.6h5.5v2.5h-5.5zM128.5 540.8h5.5v2.5h-5.5zM139.0 540.8h5.5v2.5h-5.5zM259.6 540.8h5.5v2.5h-5.5zM275.3 540.8h5.5v2.5h-5.5zM144.2 543.0h5.5v2.5h-5.5zM259.6 543.0h5.5v2.5h-5.5zM228.1 549.7h5.5v2.5h-5.5zM238.6 549.7h5.5v2.5h-5.5zM264.8 551.9h5.5v2.5h-5.5zM160.0 556.3h5.5v2.5h-5.5zM191.4 556.3h5.5v2.5h-5.5zM196.7 556.3h5.5v2.5h-5.5zM254.3 556.3h5.5v2.5h-5.5zM275.3 556.3h5.5v2.5h-5.5zM144.2 558.5h5.5v2.5h-5.5zM254.3 560.7h5.5v2.5h-5.5zM243.8 562.9h5.5v2.5h-5.5zM259.6 562.9h5.5v2.5h-5.5zM275.3 562.9h5.5v2.5h-5.5zM285.8 562.9h5.5v2.5h-5.5zM201.9 565.1h5.5v2.5h-5.5zM228.1 567.4h5.5v2.5h-5.5zM259.6 567.4h5.5v2.5h-5.5zM128.5 569.6h5.5v2.5h-5.5zM228.1 571.8h5.5v2.5h-5.5zM238.6 571.8h5.5v2.5h-5.5zM191.4 578.4h5.5v2.5h-5.5zM233.3 580.6h5.5v2.5h-5.5zM228.1 582.9h5.5v2.5h-5.5zM264.8 587.3h5.5v2.5h-5.5zM233.3 593.9h5.5v2.5h-5.5zM285.8 596.1h5.5v2.5h-5.5zM191.4 600.6h5.5v2.5h-5.5zM243.8 600.6h5.5v2.5h-5.5zM270.0 600.6h5.5v2.5h-5.5zM191.4 602.8h5.5v2.5h-5.5zM222.9 602.8h5.5v2.5h-5.5zM264.8 602.8h5.5v2.5h-5.5z"/>
<path fill="#eb604e" d="M243.8 365.9h5.5v2.5h-5.5zM264.8 365.9h5.5v2.5h-5.5zM133.8 368.1h5.5v2.5h-5.5zM139.0 368.1h5.5v2.5h-5.5zM191.4 368.1h5.5v2.5h-5.5zM228.1 368.1h5.5v2.5h-5.5zM275.3 368.1h5.5v2.5h-5.5zM128.5 374.8h5.5v2.5h-5.5zM144.2 374.8h5.5v2.5h-5.5zM243.8 374.8h5.5v2.5h-5.5zM264.8 374.8h5.5v2.5h-5.5zM196.7 381.4h5.5v2.5h-5.5zM201.9 381.4h5.5v2.5h-5.5zM249.1 381.4h5.5v2.5h-5.5zM254.3 381.4h5.5v2.5h-5.5zM212.4 383.6h5.5v2.5h-5.5zM259.6 383.6h5.5v2.5h-5.5zM264.8 383.6h5.5v2.5h-5.5zM270.0 383.6h5.5v2.5h-5.5zM243.8 385.8h5.5v2.5h-5.5zM270.0 385.8h5.5v2.5h-5.5zM264.8 388.0h5.5v2.5h-5.5zM280.5 388.0h5.5v2.5h-5.5zM191.4 392.5h5.5v2.5h-5.5zM243.8 392.5h5.5v2.5h-5.5zM259.6 392.5h5.5v2.5h-5.5zM285.8 392.5h5.5v2.5h-5.5zM165.2 394.7h5.5v2.5h-5.5zM201.9 396.9h5.5v2.5h-5.5zM270.0 396.9h5.5v2.5h-5.5zM254.3 399.1h5.5v2.5h-5.5zM270.0 399.1h5.5v2.5h-5.5zM165.2 401.3h5.5v2.5h-5.5zM207.1 401.3h5.5v2.5h-5.5zM238.6 401.3h5.5v2.5h-5.5zM144.2 403.5h5.5v2.5h-5.5zM233.3 403.5h5.5v2.5h-5.5zM264.8 403.5h5.5v2.5h-5.5zM270.0 403.5h5.5v2.5h-5.5zM228.1 405.8h5.5v2.5h-5.5zM228.1 408.0h5.5v2.5h-5.5zM249.1 408.0h5.5v2.5h-5.5zM270.0 408.0h5.5v2.5h-5.5zM154.7 410.2h5.5v2.5h-5.5zM249.1 410.2h5.5v2.5h-5.5zM254.3 410.2h5.5v2.5h-5.5zM149.5 412.4h5.5v2.5h-5.5zM160.0 412.4h5.5v2.5h-5.5zM191.4 412.4h5.5v2.5h-5.5zM270.0 412.4h5.5v2.5h-5.5zM275.3 412.4h5.5v2.5h-5.5zM133.8 414.6h5.5v2.5h-5.5zM233.3 414.6h5.5v2.5h-5.5zM270.0 414.6h5.5v2.5h-5.5zM186.2 416.8h5.5v2.5h-5.5zM243.8 416.8h5.5v2.5h-5.5zM254.3 419.0h5.5v2.5h-5.5zM270.0 419.0h5.5v2.5h-5.5zM149.5 421.2h5.5v2.5h-5.5zM196.7 421.2h5.5v2.5h-5.5zM238.6 423.5h5.5v2.5h-5.5zM264.8 423.5h5.5v2.5h-5.5zM270.0 423.5h5.5v2.5h-5.5zM228.1 427.9h5.5v2.5h-5.5zM249.1 427.9h5.5v2.5h-5.5zM144.2 434.5h5.5v2.5h-5.5zM264.8 434.5h5.5v2.5h-5.5zM270.0 434.5h5.5v2.5h-5.5zM280.5 434.5h5.5v2.5h-5.5zM139.0 436.7h5.5v2.5h-5.5zM233.3 436.7h5.5v2.5h-5.5zM238.6 436.7h5.5v2.5h-5.5zM149.5 439.0h5.5v2.5h-5.5zM280.5 439.0h5.5v2.5h-5.5zM238.6 441.2h5.5v2.5h-5.5zM254.3 441.2h5.5v2.5h-5.5zM259.6 441.2h5.5v2.5h-5.5zM285.8 441.2h5.5v2.5h-5.5zM118.0 443.4h5.5v2.5h-5.5zM228.1 443.4h5.5v2.5h-5.5zM233.3 443.4h5.5v2.5h-5.5zM270.0 443.4h5.5v2.5h-5.5zM165.2 445.6h5.5v2.5h-5.5zM207.1 445.6h5.5v2.5h-5.5zM238.6 445.6h5.5v2.5h-5.5zM264.8 445.6h5.5v2.5h-5.5zM275.3 445.6h5.5v2.5h-5.5zM243.8 452.2h5.5v2.5h-5.5zM254.3 452.2h5.5v2.5h-5.5zM259.6 456.7h5.5v2.5h-5.5zM207.1 458.9h5.5v2.5h-5.5zM228.1 458.9h5.5v2.5h-5.5zM259.6 458.9h5.5v2.5h-5.5zM264.8 458.9h5.5v2.5h-5.5zM249.1 461.1h5.5v2.5h-5.5zM154.7 463.3h5.5v2.5h-5.5zM259.6 463.3h5.5v2.5h-5.5zM264.8 463.3h5.5v2.5h-5.5zM275.3 463.3h5.5v2.5h-5.5zM285.8 463.3h5.5v2.5h-5.5zM160.0 465.5h5.5v2.5h-5.5zM264.8 465.5h5.5v2.5h-5.5zM139.0 472.2h5.5v2.5h-5.5zM233.3 472.2h5.5v2.5h-5.5zM238.6 472.2h5.5v2.5h-5.5zM123.3 474.4h5.5v2.5h-5.5zM243.8 474.4h5.5v2.5h-5.5zM280.5 474.4h5.5v2.5h-5.5zM285.8 474.4h5.5v2.5h-5.5zM154.7 476.6h5.5v2.5h-5.5zM160.0 476.6h5.5v2.5h-5.5zM228.1 476.6h5.5v2.5h-5.5zM264.8 478.8h5.5v2.5h-5.5zM280.5 478.8h5.5v2.5h-5.5zM228.1 483.2h5.5v2.5h-5.5zM228.1 485.4h5.5v2.5h-5.5zM243.8 485.4h5.5v2.5h-5.5zM270.0 485.4h5.5v2.5h-5.5zM233.3 487.7h5.5v2.5h-5.5zM191.4 494.3h5.5v2.5h-5.5zM233.3 494.3h5.5v2.5h-5.5zM264.8 494.3h5.5v2.5h-5.5zM154.7 496.5h5.5v2.5h-5.5zM249.1 496.5h5.5v2.5h-5.5zM270.0 496.5h5.5v2.5h-5.5zM139.0 500.9h5.5v2.5h-5.5zM228.1 500.9h5.5v2.5h-5.5zM254.3 500.9h5.5v2.5h-5.5zM270.0 500.9h5.5v2.5h-5.5zM118.0 505.4h5.5v2.5h-5.5zM243.8 505.4h5.5v2.5h-5.5zM259.6 505.4h5.5v2.5h-5.5zM217.6 507.6h5.5v2.5h-5.5zM233.3 507.6h5.5v2.5h-5.5zM238.6 507.6h5.5v2.5h-5.5zM233.3 512.0h5.5v2.5h-5.5zM249.1 512.0h5.5v2.5h-5.5zM228.1 514.2h5.5v2.5h-5.5zM175.7 516.4h5.5v2.5h-5.5zM201.9 518.7h5.5v2.5h-5.5zM259.6 518.7h5.5v2.5h-5.5zM270.0 518.7h5.5v2.5h-5.5zM233.3 523.1h5.5v2.5h-5.5zM259.6 523.1h5.5v2.5h-5.5zM270.0 523.1h5.5v2.5h-5.5zM254.3 525.3h5.5v2.5h-5.5zM264.8 525.3h5.5v2.5h-5.5zM270.0 525.3h5.5v2.5h-5.5zM212.4 527.5h5.5v2.5h-5.5zM249.1 527.5h5.5v2.5h-5.5zM270.0 531.9h5.5v2.5h-5.5zM243.8 534.2h5.5v2.5h-5.5zM249.1 534.2h5.5v2.5h-5.5zM254.3 536.4h5.5v2.5h-5.5zM123.3 538.6h5.5v2.5h-5.5zM144.2 538.6h5.5v2.5h-5.5zM238.6 538.6h5.5v2.5h-5.5zM280.5 538.6h5.5v2.5h-5.5zM123.3 540.8h5.5v2.5h-5.5zM186.2 540.8h5.5v2.5h-5.5zM249.1 540.8h5.5v2.5h-5.5zM160.0 543.0h5.5v2.5h-5.5zM254.3 543.0h5.5v2.5h-5.5zM191.4 549.7h5.5v2.5h-5.5zM249.1 549.7h5.5v2.5h-5.5zM160.0 551.9h5.5v2.5h-5.5zM212.4 551.9h5.5v2.5h-5.5zM233.3 551.9h5.5v2.5h-5.5zM259.6 551.9h5.5v2.5h-5.5zM270.0 551.9h5.5v2.5h-5.5zM280.5 551.9h5.5v2.5h-5.5zM249.1 556.3h5.5v2.5h-5.5zM196.7 558.5h5.5v2.5h-5.5zM249.1 558.5h5.5v2.5h-5.5zM264.8 558.5h5.5v2.5h-5.5zM270.0 558.5h5.5v2.5h-5.5zM243.8 560.7h5.5v2.5h-5.5zM170.5 562.9h5.5v2.5h-5.5zM238.6 562.9h5.5v2.5h-5.5zM254.3 562.9h5.5v2.5h-5.5zM139.0 565.1h5.5v2.5h-5.5zM228.1 565.1h5.5v2.5h-5.5zM259.6 565.1h5.5v2.5h-5.5zM144.2 567.4h5.5v2.5h-5.5zM233.3 567.4h5.5v2.5h-5.5zM243.8 567.4h5.5v2.5h-5.5zM154.7 571.8h5.5v2.5h-5.5zM201.9 571.8h5.5v2.5h-5.5zM228.1 578.4h5.5v2.5h-5.5zM233.3 578.4h5.5v2.5h-5.5zM275.3 578.4h5.5v2.5h-5.5zM280.5 578.4h5.5v2.5h-5.5zM243.8 580.6h5.5v2.5h-5.5zM270.0 580.6h5.5v2.5h-5.5zM264.8 582.9h5.5v2.5h-5.5zM238.6 593.9h5.5v2.5h-5.5zM249.1 593.9h5.5v2.5h-5.5zM233.3 596.1h5.5v2.5h-5.5zM243.8 596.1h5.5v2.5h-5.5zM259.6 596.1h5.5v2.5h-5.5zM201.9 600.6h5.5v2.5h-5.5zM264.8 600.6h5.5v2.5h-5.5zM160.0 602.8h5.5v2.5h-5.5zM228.1 602.8h5.5v2.5h-5.5z"/>
<path fill="#f39381" d="M249.1 365.9h5.5v2.5h-5.5zM196.7 368.1h5.5v2.5h-5.5zM243.8 368.1h5.5v2.5h-5.5zM249.1 368.1h5.5v2.5h-5.5zM112.8 372.5h5.5v2.5h-5.5zM149.5 372.5h5.5v2.5h-5.5zM175.7 372.5h5.5v2.5h-5.5zM217.6 372.5h5.5v2.5h-5.5zM249.1 372.5h5.5v2.5h-5.5zM285.8 372.5h5.5v2.5h-5.5zM160.0 374.8h5.5v2.5h-5.5zM228.1 374.8h5.5v2.5h-5.5zM233.3 381.4h5.5v2.5h-5.5zM128.5 385.8h5.5v2.5h-5.5zM144.2 385.8h5.5v2.5h-5.5zM249.1 385.8h5.5v2.5h-5.5zM264.8 385.8h5.5v2.5h-5.5zM144.2 388.0h5.5v2.5h-5.5zM217.6 388.0h5.5v2.5h-5.5zM228.1 392.5h5.5v2.5h-5.5zM233.3 392.5h5.5v2.5h-5.5zM270.0 392.5h5.5v2.5h-5.5zM133.8 394.7h5.5v2.5h-5.5zM170.5 394.7h5.5v2.5h-5.5zM280.5 394.7h5.5v2.5h-5.5zM118.0 396.9h5.5v2.5h-5.5zM233.3 396.9h5.5v2.5h-5.5zM238.6 396.9h5.5v2.5h-5.5zM243.8 396.9h5.5v2.5h-5.5zM254.3 396.9h5.5v2.5h-5.5zM180.9 399.1h5.5v2.5h-5.5zM149.5 401.3h5.5v2.5h-5.5zM264.8 401.3h5.5v2.5h-5.5zM123.3 403.5h5.5v2.5h-5.5zM139.0 403.5h5.5v2.5h-5.5zM149.5 403.5h5.5v2.5h-5.5zM180.9 405.8h5.5v2.5h-5.5zM201.9 405.8h5.5v2.5h-5.5zM144.2 408.0h5.5v2.5h-5.5zM196.7 408.0h5.5v2.5h-5.5zM217.6 408.0h5.5v2.5h-5.5zM254.3 408.0h5.5v2.5h-5.5zM280.5 408.0h5.5v2.5h-5.5zM238.6 410.2h5.5v2.5h-5.5zM259.6 410.2h5.5v2.5h-5.5zM285.8 410.2h5.5v2.5h-5.5zM133.8 412.4h5.5v2.5h-5.5zM165.2 412.4h5.5v2.5h-5.5zM254.3 412.4h5.5v2.5h-5.5zM264.8 412.4h5.5v2.5h-5.5zM280.5 412.4h5.5v2.5h-5.5zM170.5 414.6h5.5v2.5h-5.5zM264.8 414.6h5.5v2.5h-5.5zM285.8 414.6h5.5v2.5h-5.5zM149.5 416.8h5.5v2.5h-5.5zM233.3 416.8h5.5v2.5h-5.5zM238.6 416.8h5.5v2.5h-5.5zM264.8 416.8h5.5v2.5h-5.5zM270.0 416.8h5.5v2.5h-5.5zM180.9 419.0h5.5v2.5h-5.5zM233.3 419.0h5.5v2.5h-5.5zM259.6 419.0h5.5v2.5h-5.5zM264.8 419.0h5.5v2.5h-5.5zM191.4 421.2h5.5v2.5h-5.5zM254.3 421.2h5.5v2.5h-5.5zM259.6 421.2h5.5v2.5h-5.5zM264.8 421.2h5.5v2.5h-5.5zM144.2 423.5h5.5v2.5h-5.5zM180.9 423.5h5.5v2.5h-5.5zM243.8 423.5h5.5v2.5h-5.5zM259.6 423.5h5.5v2.5h-5.5zM280.5 423.5h5.5v2.5h-5.5zM144.2 425.7h5.5v2.5h-5.5zM259.6 425.7h5.5v2.5h-5.5zM118.0 427.9h5.5v2.5h-5.5zM133.8 427.9h5.5v2.5h-5.5zM165.2 427.9h5.5v2.5h-5.5zM196.7 427.9h5.5v2.5h-5.5zM238.6 430.1h5.5v2.5h-5.5zM254.3 430.1h5.5v2.5h-5.5zM264.8 430.1h5.5v2.5h-5.5zM233.3 434.5h5.5v2.5h-5.5zM196.7 436.7h5.5v2.5h-5.5zM243.8 436.7h5.5v2.5h-5.5zM160.0 439.0h5.5v2.5h-5.5zM228.1 439.0h5.5v2.5h-5.5zM118.0 441.2h5.5v2.5h-5.5zM201.9 441.2h5.5v2.5h-5.5zM233.3 441.2h5.5v2.5h-5.5zM112.8 443.4h5.5v2.5h-5.5zM259.6 447.8h5.5v2.5h-5.5zM285.8 447.8h5.5v2.5h-5.5zM254.3 450.0h5.5v2.5h-5.5zM270.0 450.0h5.5v2.5h-5.5zM186.2 452.2h5.5v2.5h-5.5zM191.4 452.2h5.5v2.5h-5.5zM275.3 452.2h5.5v2.5h-5.5zM160.0 456.7h5.5v2.5h-5.5zM238.6 456.7h5.5v2.5h-5.5zM264.8 456.7h5.5v2.5h-5.5zM144.2 458.9h5.5v2.5h-5.5zM165.2 458.9h5.5v2.5h-5.5zM180.9 458.9h5.5v2.5h-5.5zM233.3 458.9h5.5v2.5h-5.5zM254.3 458.9h5.5v2.5h-5.5zM243.8 461.1h5.5v2.5h-5.5zM285.8 461.1h5.5v2.5h-5.5zM123.3 463.3h5.5v2.5h-5.5zM207.1 465.5h5.5v2.5h-5.5zM285.8 465.5h5.5v2.5h-5.5zM228.1 467.7h5.5v2.5h-5.5zM112.8 472.2h5.5v2.5h-5.5zM149.5 472.2h5.5v2.5h-5.5zM175.7 472.2h5.5v2.5h-5.5zM228.1 472.2h5.5v2.5h-5.5zM259.6 472.2h5.5v2.5h-5.5zM165.2 474.4h5.5v2.5h-5.5zM264.8 474.4h5.5v2.5h-5.5zM191.4 476.6h5.5v2.5h-5.5zM201.9 476.6h5.5v2.5h-5.5zM264.8 476.6h5.5v2.5h-5.5zM123.3 478.8h5.5v2.5h-5.5zM133.8 478.8h5.5v2.5h-5.5zM275.3 478.8h5.5v2.5h-5.5zM259.6 485.4h5.5v2.5h-5.5zM280.5 485.4h5.5v2.5h-5.5zM144.2 487.7h5.5v2.5h-5.5zM280.5 487.7h5.5v2.5h-5.5zM228.1 489.9h5.5v2.5h-5.5zM264.8 489.9h5.5v2.5h-5.5zM123.3 492.1h5.5v2.5h-5.5zM133.8 492.1h5.5v2.5h-5.5zM112.8 494.3h5.5v2.5h-5.5zM222.9 494.3h5.5v2.5h-5.5zM280.5 494.3h5.5v2.5h-5.5zM233.3 496.5h5.5v2.5h-5.5zM238.6 496.5h5.5v2.5h-5.5zM133.8 500.9h5.5v2.5h-5.5zM191.4 500.9h5.5v2.5h-5.5zM201.9 500.9h5.5v2.5h-5.5zM233.3 500.9h5.5v2.5h-5.5zM285.8 500.9h5.5v2.5h-5.5zM123.3 503.2h5.5v2.5h-5.5zM196.7 503.2h5.5v2.5h-5.5zM264.8 503.2h5.5v2.5h-5.5zM238.6 505.4h5.5v2.5h-5.5zM264.8 505.4h5.5v2.5h-5.5zM285.8 507.6h5.5v2.5h-5.5zM249.1 509.8h5.5v2.5h-5.5zM270.0 509.8h5.5v2.5h-5.5zM238.6 512.0h5.5v2.5h-5.5zM264.8 514.2h5.5v2.5h-5.5zM38.7 516.4h5.6v2.5h-5.6zM254.3 516.4h5.5v2.5h-5.5zM264.8 516.4h5.5v2.5h-5.5zM196.7 518.7h5.5v2.5h-5.5zM275.3 518.7h5.5v2.5h-5.5zM149.5 520.9h5.5v2.5h-5.5zM249.1 520.9h5.5v2.5h-5.5zM280.5 520.9h5.5v2.5h-5.5zM112.8 525.3h5.5v2.5h-5.5zM175.7 525.3h5.5v2.5h-5.5zM238.6 525.3h5.5v2.5h-5.5zM139.0 527.5h5.5v2.5h-5.5zM254.3 527.5h5.5v2.5h-5.5zM128.5 529.7h5.5v2.5h-5.5zM165.2 529.7h5.5v2.5h-5.5zM285.8 529.7h5.5v2.5h-5.5zM217.6 531.9h5.5v2.5h-5.5zM259.6 531.9h5.5v2.5h-5.5zM149.5 534.2h5.5v2.5h-5.5zM207.1 534.2h5.5v2.5h-5.5zM228.1 534.2h5.5v2.5h-5.5zM254.3 534.2h5.5v2.5h-5.5zM165.2 536.4h5.5v2.5h-5.5zM285.8 536.4h5.5v2.5h-5.5zM160.0 538.6h5.5v2.5h-5.5zM160.0 540.8h5.5v2.5h-5.5zM228.1 540.8h5.5v2.5h-5.5zM165.2 543.0h5.5v2.5h-5.5zM233.3 543.0h5.5v2.5h-5.5zM264.8 543.0h5.5v2.5h-5.5zM270.0 543.0h5.5v2.5h-5.5zM149.5 545.2h5.5v2.5h-5.5zM228.1 545.2h5.5v2.5h-5.5zM264.8 545.2h5.5v2.5h-5.5zM270.0 545.2h5.5v2.5h-5.5zM228.1 547.4h5.5v2.5h-5.5zM133.8 551.9h5.5v2.5h-5.5zM238.6 554.1h5.5v2.5h-5.5zM249.1 554.1h5.5v2.5h-5.5zM118.0 556.3h5.5v2.5h-5.5zM228.1 558.5h5.5v2.5h-5.5zM123.3 560.7h5.5v2.5h-5.5zM259.6 560.7h5.5v2.5h-5.5zM270.0 560.7h5.5v2.5h-5.5zM285.8 560.7h5.5v2.5h-5.5zM128.5 562.9h5.5v2.5h-5.5zM160.0 562.9h5.5v2.5h-5.5zM249.1 562.9h5.5v2.5h-5.5zM112.8 569.6h5.5v2.5h-5.5zM228.1 569.6h5.5v2.5h-5.5zM249.1 569.6h5.5v2.5h-5.5zM186.2 571.8h5.5v2.5h-5.5zM264.8 571.8h5.5v2.5h-5.5zM243.8 574.0h5.5v2.5h-5.5zM254.3 574.0h5.5v2.5h-5.5zM154.7 576.2h5.5v2.5h-5.5zM249.1 576.2h5.5v2.5h-5.5zM160.0 578.4h5.5v2.5h-5.5zM196.7 578.4h5.5v2.5h-5.5zM285.8 578.4h5.5v2.5h-5.5zM275.3 580.6h5.5v2.5h-5.5zM285.8 580.6h5.5v2.5h-5.5zM80.9 582.9h5.6v2.5h-5.6zM180.9 582.9h5.5v2.5h-5.5zM243.8 582.9h5.5v2.5h-5.5zM249.1 582.9h5.5v2.5h-5.5zM201.9 587.3h5.5v2.5h-5.5zM243.8 587.3h5.5v2.5h-5.5zM233.3 589.5h5.5v2.5h-5.5zM259.6 591.7h5.5v2.5h-5.5zM118.0 593.9h5.5v2.5h-5.5zM243.8 593.9h5.5v2.5h-5.5zM259.6 593.9h5.5v2.5h-5.5zM212.4 596.1h5.5v2.5h-5.5zM249.1 596.1h5.5v2.5h-5.5zM254.3 596.1h5.5v2.5h-5.5zM264.8 596.1h5.5v2.5h-5.5zM186.2 598.4h5.5v2.5h-5.5zM238.6 598.4h5.5v2.5h-5.5zM201.9 602.8h5.5v2.5h-5.5zM233.3 602.8h5.5v2.5h-5.5z"/>
<path fill="#afcfee" d="M22.9 368.1h5.6v2.5h-5.6zM217.6 368.1h5.5v2.5h-5.5zM22.9 372.5h5.6v2.5h-5.6zM33.4 372.5h5.6v2.5h-5.6zM96.8 372.5h5.6v2.5h-5.6zM207.1 372.5h5.5v2.5h-5.5zM28.1 374.8h5.6v2.5h-5.6zM80.9 374.8h5.6v2.5h-5.6zM86.2 374.8h5.6v2.5h-5.6zM196.7 374.8h5.5v2.5h-5.5zM96.8 377.0h5.6v2.5h-5.6zM170.5 379.2h5.5v2.5h-5.5zM112.8 381.4h5.5v2.5h-5.5zM160.0 381.4h5.5v2.5h-5.5zM44.0 383.6h5.6v2.5h-5.6zM91.5 383.6h5.6v2.5h-5.6zM128.5 383.6h5.5v2.5h-5.5zM165.2 385.8h5.5v2.5h-5.5zM70.4 392.5h5.6v2.5h-5.6zM96.8 392.5h5.6v2.5h-5.6zM107.5 392.5h5.6v2.5h-5.6zM123.3 392.5h5.5v2.5h-5.5zM144.2 394.7h5.5v2.5h-5.5zM65.1 396.9h5.6v2.5h-5.6zM17.6 401.3h5.6v2.5h-5.6zM33.4 401.3h5.6v2.5h-5.6zM70.4 401.3h5.6v2.5h-5.6zM86.2 401.3h5.6v2.5h-5.6zM91.5 401.3h5.6v2.5h-5.6zM112.8 401.3h5.5v2.5h-5.5zM118.0 401.3h5.5v2.5h-5.5zM80.9 405.8h5.6v2.5h-5.6zM123.3 405.8h5.5v2.5h-5.5zM217.6 405.8h5.5v2.5h-5.5zM54.5 410.2h5.6v2.5h-5.6zM75.7 412.4h5.6v2.5h-5.6zM86.2 412.4h5.6v2.5h-5.6zM107.5 412.4h5.6v2.5h-5.6zM238.6 414.6h5.5v2.5h-5.5zM70.4 416.8h5.6v2.5h-5.6zM86.2 416.8h5.6v2.5h-5.6zM207.1 416.8h5.5v2.5h-5.5zM49.3 419.0h5.6v2.5h-5.6zM275.3 421.2h5.5v2.5h-5.5zM112.8 427.9h5.5v2.5h-5.5zM12.3 432.3h5.6v2.5h-5.6zM112.8 434.5h5.5v2.5h-5.5zM128.5 436.7h5.5v2.5h-5.5zM33.4 439.0h5.6v2.5h-5.6zM91.5 439.0h5.6v2.5h-5.6zM175.7 439.0h5.5v2.5h-5.5zM102.2 441.2h5.6v2.5h-5.6zM28.1 443.4h5.6v2.5h-5.6zM33.4 443.4h5.6v2.5h-5.6zM133.8 443.4h5.5v2.5h-5.5zM170.5 443.4h5.5v2.5h-5.5zM70.4 445.6h5.6v2.5h-5.6zM149.5 445.6h5.5v2.5h-5.5zM38.7 447.8h5.6v2.5h-5.6zM118.0 447.8h5.5v2.5h-5.5zM170.5 447.8h5.5v2.5h-5.5zM70.4 450.0h5.6v2.5h-5.6zM149.5 450.0h5.5v2.5h-5.5zM12.3 454.5h5.6v2.5h-5.6zM44.0 454.5h5.6v2.5h-5.6zM75.7 454.5h5.6v2.5h-5.6zM285.8 454.5h5.5v2.5h-5.5zM75.7 456.7h5.6v2.5h-5.6zM112.8 456.7h5.5v2.5h-5.5zM12.3 458.9h5.6v2.5h-5.6zM154.7 458.9h5.5v2.5h-5.5zM170.5 461.1h5.5v2.5h-5.5zM22.9 463.3h5.6v2.5h-5.6zM44.0 463.3h5.6v2.5h-5.6zM17.6 467.7h5.6v2.5h-5.6zM75.7 467.7h5.6v2.5h-5.6zM160.0 467.7h5.5v2.5h-5.5zM212.4 467.7h5.5v2.5h-5.5zM65.1 470.0h5.6v2.5h-5.6zM22.9 472.2h5.6v2.5h-5.6zM70.4 474.4h5.6v2.5h-5.6zM102.2 474.4h5.6v2.5h-5.6zM222.9 474.4h5.5v2.5h-5.5zM38.7 476.6h5.6v2.5h-5.6zM59.8 476.6h5.6v2.5h-5.6zM91.5 476.6h5.6v2.5h-5.6zM12.3 478.8h5.6v2.5h-5.6zM17.6 483.2h5.6v2.5h-5.6zM38.7 483.2h5.6v2.5h-5.6zM44.0 483.2h5.6v2.5h-5.6zM91.5 483.2h5.6v2.5h-5.6zM207.1 483.2h5.5v2.5h-5.5zM17.6 485.4h5.6v2.5h-5.6zM28.1 485.4h5.6v2.5h-5.6zM33.4 485.4h5.6v2.5h-5.6zM44.0 485.4h5.6v2.5h-5.6zM86.2 485.4h5.6v2.5h-5.6zM96.8 485.4h5.6v2.5h-5.6zM128.5 485.4h5.5v2.5h-5.5zM70.4 489.9h5.6v2.5h-5.6zM96.8 489.9h5.6v2.5h-5.6zM207.1 489.9h5.5v2.5h-5.5zM22.9 492.1h5.6v2.5h-5.6zM170.5 492.1h5.5v2.5h-5.5zM217.6 492.1h5.5v2.5h-5.5zM65.1 494.3h5.6v2.5h-5.6zM80.9 498.7h5.6v2.5h-5.6zM86.2 498.7h5.6v2.5h-5.6zM44.0 500.9h5.6v2.5h-5.6zM70.4 500.9h5.6v2.5h-5.6zM91.5 500.9h5.6v2.5h-5.6zM12.3 505.4h5.6v2.5h-5.6zM212.4 507.6h5.5v2.5h-5.5zM44.0 509.8h5.6v2.5h-5.6zM86.2 509.8h5.6v2.5h-5.6zM175.7 509.8h5.5v2.5h-5.5zM86.2 512.0h5.6v2.5h-5.6zM75.7 514.2h5.6v2.5h-5.6zM70.4 520.9h5.6v2.5h-5.6zM107.5 520.9h5.6v2.5h-5.6zM59.8 525.3h5.6v2.5h-5.6zM96.8 525.3h5.6v2.5h-5.6zM186.2 525.3h5.5v2.5h-5.5zM217.6 525.3h5.5v2.5h-5.5zM96.8 527.5h5.6v2.5h-5.6zM123.3 527.5h5.5v2.5h-5.5zM285.8 527.5h5.5v2.5h-5.5zM28.1 529.7h5.6v2.5h-5.6zM102.2 531.9h5.6v2.5h-5.6zM107.5 531.9h5.6v2.5h-5.6zM170.5 531.9h5.5v2.5h-5.5zM33.4 538.6h5.6v2.5h-5.6zM44.0 540.8h5.6v2.5h-5.6zM96.8 543.0h5.6v2.5h-5.6zM107.5 543.0h5.6v2.5h-5.6zM123.3 543.0h5.5v2.5h-5.5zM33.4 545.2h5.6v2.5h-5.6zM17.6 547.4h5.6v2.5h-5.6zM70.4 547.4h5.6v2.5h-5.6zM75.7 547.4h5.6v2.5h-5.6zM91.5 547.4h5.6v2.5h-5.6zM102.2 547.4h5.6v2.5h-5.6zM107.5 547.4h5.6v2.5h-5.6zM12.3 549.7h5.6v2.5h-5.6zM38.7 551.9h5.6v2.5h-5.6zM243.8 558.5h5.5v2.5h-5.5zM33.4 560.7h5.6v2.5h-5.6zM91.5 560.7h5.6v2.5h-5.6zM49.3 562.9h5.6v2.5h-5.6zM91.5 562.9h5.6v2.5h-5.6zM212.4 565.1h5.5v2.5h-5.5zM38.7 567.4h5.6v2.5h-5.6zM44.0 569.6h5.6v2.5h-5.6zM75.7 569.6h5.6v2.5h-5.6zM22.9 571.8h5.6v2.5h-5.6zM49.3 571.8h5.6v2.5h-5.6zM75.7 571.8h5.6v2.5h-5.6zM91.5 571.8h5.6v2.5h-5.6zM96.8 571.8h5.6v2.5h-5.6zM102.2 571.8h5.6v2.5h-5.6zM17.6 574.0h5.6v2.5h-5.6zM70.4 574.0h5.6v2.5h-5.6zM17.6 576.2h5.6v2.5h-5.6zM186.2 576.2h5.5v2.5h-5.5zM207.1 576.2h5.5v2.5h-5.5zM128.5 580.6h5.5v2.5h-5.5zM149.5 580.6h5.5v2.5h-5.5zM191.4 582.9h5.5v2.5h-5.5zM201.9 582.9h5.5v2.5h-5.5zM49.3 585.1h5.6v2.5h-5.6zM28.1 589.5h5.6v2.5h-5.6zM70.4 589.5h5.6v2.5h-5.6zM107.5 589.5h5.6v2.5h-5.6zM180.9 589.5h5.5v2.5h-5.5zM33.4 591.7h5.6v2.5h-5.6zM38.7 591.7h5.6v2.5h-5.6zM28.1 593.9h5.6v2.5h-5.6zM96.8 593.9h5.6v2.5h-5.6zM154.7 593.9h5.5v2.5h-5.5zM186.2 593.9h5.5v2.5h-5.5zM222.9 593.9h5.5v2.5h-5.5zM107.5 596.1h5.6v2.5h-5.6zM270.0 596.1h5.5v2.5h-5.5zM280.5 596.1h5.5v2.5h-5.5zM65.1 598.4h5.6v2.5h-5.6zM70.4 598.4h5.6v2.5h-5.6zM254.3 598.4h5.5v2.5h-5.5zM96.8 600.6h5.6v2.5h-5.6zM17.6 602.8h5.6v2.5h-5.6zM102.2 602.8h5.6v2.5h-5.6zM154.7 602.8h5.5v2.5h-5.5z"/>
<path fill="#f7bfb2" d="M160.0 368.1h5.5v2.5h-5.5zM170.5 372.5h5.5v2.5h-5.5zM170.5 374.8h5.5v2.5h-5.5zM249.1 374.8h5.5v2.5h-5.5zM123.3 377.0h5.5v2.5h-5.5zM228.1 377.0h5.5v2.5h-5.5zM233.3 377.0h5.5v2.5h-5.5zM264.8 377.0h5.5v2.5h-5.5zM285.8 377.0h5.5v2.5h-5.5zM233.3 379.2h5.5v2.5h-5.5zM264.8 379.2h5.5v2.5h-5.5zM285.8 379.2h5.5v2.5h-5.5zM139.0 381.4h5.5v2.5h-5.5zM154.7 381.4h5.5v2.5h-5.5zM170.5 381.4h5.5v2.5h-5.5zM222.9 381.4h5.5v2.5h-5.5zM118.0 383.6h5.5v2.5h-5.5zM196.7 383.6h5.5v2.5h-5.5zM112.8 385.8h5.5v2.5h-5.5zM133.8 385.8h5.5v2.5h-5.5zM175.7 385.8h5.5v2.5h-5.5zM128.5 388.0h5.5v2.5h-5.5zM165.2 388.0h5.5v2.5h-5.5zM165.2 392.5h5.5v2.5h-5.5zM139.0 394.7h5.5v2.5h-5.5zM254.3 394.7h5.5v2.5h-5.5zM207.1 396.9h5.5v2.5h-5.5zM280.5 396.9h5.5v2.5h-5.5zM17.6 399.1h5.6v2.5h-5.6zM123.3 399.1h5.5v2.5h-5.5zM128.5 399.1h5.5v2.5h-5.5zM243.8 399.1h5.5v2.5h-5.5zM133.8 401.3h5.5v2.5h-5.5zM280.5 401.3h5.5v2.5h-5.5zM207.1 403.5h5.5v2.5h-5.5zM243.8 403.5h5.5v2.5h-5.5zM139.0 405.8h5.5v2.5h-5.5zM165.2 405.8h5.5v2.5h-5.5zM259.6 405.8h5.5v2.5h-5.5zM270.0 405.8h5.5v2.5h-5.5zM264.8 408.0h5.5v2.5h-5.5zM275.3 408.0h5.5v2.5h-5.5zM118.0 410.2h5.5v2.5h-5.5zM280.5 410.2h5.5v2.5h-5.5zM222.9 412.4h5.5v2.5h-5.5zM249.1 412.4h5.5v2.5h-5.5zM285.8 412.4h5.5v2.5h-5.5zM128.5 414.6h5.5v2.5h-5.5zM139.0 414.6h5.5v2.5h-5.5zM160.0 416.8h5.5v2.5h-5.5zM170.5 416.8h5.5v2.5h-5.5zM275.3 416.8h5.5v2.5h-5.5zM123.3 419.0h5.5v2.5h-5.5zM154.7 419.0h5.5v2.5h-5.5zM196.7 419.0h5.5v2.5h-5.5zM212.4 419.0h5.5v2.5h-5.5zM285.8 419.0h5.5v2.5h-5.5zM33.4 421.2h5.6v2.5h-5.6zM139.0 421.2h5.5v2.5h-5.5zM139.0 423.5h5.5v2.5h-5.5zM196.7 423.5h5.5v2.5h-5.5zM222.9 423.5h5.5v2.5h-5.5zM285.8 423.5h5.5v2.5h-5.5zM201.9 425.7h5.5v2.5h-5.5zM228.1 425.7h5.5v2.5h-5.5zM249.1 425.7h5.5v2.5h-5.5zM270.0 425.7h5.5v2.5h-5.5zM212.4 427.9h5.5v2.5h-5.5zM222.9 427.9h5.5v2.5h-5.5zM238.6 427.9h5.5v2.5h-5.5zM201.9 430.1h5.5v2.5h-5.5zM270.0 430.1h5.5v2.5h-5.5zM275.3 430.1h5.5v2.5h-5.5zM28.1 432.3h5.6v2.5h-5.6zM123.3 436.7h5.5v2.5h-5.5zM149.5 436.7h5.5v2.5h-5.5zM133.8 439.0h5.5v2.5h-5.5zM144.2 439.0h5.5v2.5h-5.5zM180.9 439.0h5.5v2.5h-5.5zM191.4 439.0h5.5v2.5h-5.5zM233.3 439.0h5.5v2.5h-5.5zM22.9 441.2h5.6v2.5h-5.6zM38.7 441.2h5.6v2.5h-5.6zM144.2 441.2h5.5v2.5h-5.5zM149.5 441.2h5.5v2.5h-5.5zM154.7 441.2h5.5v2.5h-5.5zM280.5 441.2h5.5v2.5h-5.5zM80.9 445.6h5.6v2.5h-5.6zM196.7 445.6h5.5v2.5h-5.5zM212.4 445.6h5.5v2.5h-5.5zM222.9 447.8h5.5v2.5h-5.5zM254.3 447.8h5.5v2.5h-5.5zM118.0 450.0h5.5v2.5h-5.5zM233.3 450.0h5.5v2.5h-5.5zM165.2 452.2h5.5v2.5h-5.5zM212.4 452.2h5.5v2.5h-5.5zM280.5 452.2h5.5v2.5h-5.5zM133.8 454.5h5.5v2.5h-5.5zM144.2 454.5h5.5v2.5h-5.5zM201.9 454.5h5.5v2.5h-5.5zM275.3 454.5h5.5v2.5h-5.5zM144.2 456.7h5.5v2.5h-5.5zM191.4 456.7h5.5v2.5h-5.5zM128.5 461.1h5.5v2.5h-5.5zM149.5 461.1h5.5v2.5h-5.5zM259.6 461.1h5.5v2.5h-5.5zM144.2 465.5h5.5v2.5h-5.5zM180.9 465.5h5.5v2.5h-5.5zM112.8 467.7h5.5v2.5h-5.5zM217.6 467.7h5.5v2.5h-5.5zM191.4 472.2h5.5v2.5h-5.5zM249.1 472.2h5.5v2.5h-5.5zM275.3 474.4h5.5v2.5h-5.5zM186.2 476.6h5.5v2.5h-5.5zM259.6 476.6h5.5v2.5h-5.5zM280.5 476.6h5.5v2.5h-5.5zM149.5 483.2h5.5v2.5h-5.5zM154.7 483.2h5.5v2.5h-5.5zM191.4 483.2h5.5v2.5h-5.5zM285.8 483.2h5.5v2.5h-5.5zM149.5 485.4h5.5v2.5h-5.5zM170.5 485.4h5.5v2.5h-5.5zM128.5 487.7h5.5v2.5h-5.5zM133.8 487.7h5.5v2.5h-5.5zM170.5 487.7h5.5v2.5h-5.5zM175.7 487.7h5.5v2.5h-5.5zM201.9 492.1h5.5v2.5h-5.5zM238.6 492.1h5.5v2.5h-5.5zM259.6 492.1h5.5v2.5h-5.5zM65.1 496.5h5.6v2.5h-5.6zM112.8 496.5h5.5v2.5h-5.5zM118.0 496.5h5.5v2.5h-5.5zM196.7 496.5h5.5v2.5h-5.5zM201.9 496.5h5.5v2.5h-5.5zM217.6 496.5h5.5v2.5h-5.5zM128.5 500.9h5.5v2.5h-5.5zM154.7 500.9h5.5v2.5h-5.5zM180.9 500.9h5.5v2.5h-5.5zM160.0 503.2h5.5v2.5h-5.5zM180.9 503.2h5.5v2.5h-5.5zM238.6 503.2h5.5v2.5h-5.5zM133.8 505.4h5.5v2.5h-5.5zM139.0 505.4h5.5v2.5h-5.5zM254.3 505.4h5.5v2.5h-5.5zM285.8 505.4h5.5v2.5h-5.5zM165.2 507.6h5.5v2.5h-5.5zM201.9 507.6h5.5v2.5h-5.5zM123.3 509.8h5.5v2.5h-5.5zM154.7 509.8h5.5v2.5h-5.5zM196.7 509.8h5.5v2.5h-5.5zM243.8 509.8h5.5v2.5h-5.5zM264.8 509.8h5.5v2.5h-5.5zM285.8 509.8h5.5v2.5h-5.5zM133.8 512.0h5.5v2.5h-5.5zM154.7 512.0h5.5v2.5h-5.5zM191.4 512.0h5.5v2.5h-5.5zM201.9 512.0h5.5v2.5h-5.5zM207.1 512.0h5.5v2.5h-5.5zM259.6 512.0h5.5v2.5h-5.5zM170.5 514.2h5.5v2.5h-5.5zM191.4 514.2h5.5v2.5h-5.5zM207.1 514.2h5.5v2.5h-5.5zM212.4 514.2h5.5v2.5h-5.5zM112.8 516.4h5.5v2.5h-5.5zM180.9 516.4h5.5v2.5h-5.5zM217.6 516.4h5.5v2.5h-5.5zM280.5 516.4h5.5v2.5h-5.5zM118.0 518.7h5.5v2.5h-5.5zM133.8 518.7h5.5v2.5h-5.5zM149.5 518.7h5.5v2.5h-5.5zM233.3 518.7h5.5v2.5h-5.5zM285.8 518.7h5.5v2.5h-5.5zM123.3 520.9h5.5v2.5h-5.5zM160.0 520.9h5.5v2.5h-5.5zM196.7 523.1h5.5v2.5h-5.5zM228.1 523.1h5.5v2.5h-5.5zM191.4 525.3h5.5v2.5h-5.5zM212.4 525.3h5.5v2.5h-5.5zM222.9 525.3h5.5v2.5h-5.5zM149.5 527.5h5.5v2.5h-5.5zM191.4 527.5h5.5v2.5h-5.5zM270.0 527.5h5.5v2.5h-5.5zM280.5 527.5h5.5v2.5h-5.5zM222.9 531.9h5.5v2.5h-5.5zM280.5 531.9h5.5v2.5h-5.5zM238.6 534.2h5.5v2.5h-5.5zM259.6 534.2h5.5v2.5h-5.5zM270.0 534.2h5.5v2.5h-5.5zM112.8 536.4h5.5v2.5h-5.5zM139.0 536.4h5.5v2.5h-5.5zM259.6 536.4h5.5v2.5h-5.5zM175.7 538.6h5.5v2.5h-5.5zM285.8 538.6h5.5v2.5h-5.5zM133.8 540.8h5.5v2.5h-5.5zM154.7 540.8h5.5v2.5h-5.5zM180.9 540.8h5.5v2.5h-5.5zM285.8 540.8h5.5v2.5h-5.5zM207.1 543.0h5.5v2.5h-5.5zM280.5 543.0h5.5v2.5h-5.5zM243.8 545.2h5.5v2.5h-5.5zM112.8 547.4h5.5v2.5h-5.5zM217.6 547.4h5.5v2.5h-5.5zM118.0 549.7h5.5v2.5h-5.5zM133.8 549.7h5.5v2.5h-5.5zM144.2 549.7h5.5v2.5h-5.5zM170.5 549.7h5.5v2.5h-5.5zM186.2 549.7h5.5v2.5h-5.5zM196.7 549.7h5.5v2.5h-5.5zM285.8 549.7h5.5v2.5h-5.5zM222.9 551.9h5.5v2.5h-5.5zM275.3 551.9h5.5v2.5h-5.5zM233.3 554.1h5.5v2.5h-5.5zM112.8 558.5h5.5v2.5h-5.5zM154.7 558.5h5.5v2.5h-5.5zM175.7 558.5h5.5v2.5h-5.5zM201.9 558.5h5.5v2.5h-5.5zM207.1 558.5h5.5v2.5h-5.5zM275.3 558.5h5.5v2.5h-5.5zM280.5 558.5h5.5v2.5h-5.5zM165.2 560.7h5.5v2.5h-5.5zM249.1 560.7h5.5v2.5h-5.5zM280.5 560.7h5.5v2.5h-5.5zM112.8 562.9h5.5v2.5h-5.5zM149.5 562.9h5.5v2.5h-5.5zM180.9 562.9h5.5v2.5h-5.5zM280.5 562.9h5.5v2.5h-5.5zM123.3 565.1h5.5v2.5h-5.5zM128.5 565.1h5.5v2.5h-5.5zM160.0 569.6h5.5v2.5h-5.5zM212.4 569.6h5.5v2.5h-5.5zM254.3 569.6h5.5v2.5h-5.5zM112.8 571.8h5.5v2.5h-5.5zM160.0 571.8h5.5v2.5h-5.5zM249.1 571.8h5.5v2.5h-5.5zM275.3 571.8h5.5v2.5h-5.5zM191.4 574.0h5.5v2.5h-5.5zM233.3 574.0h5.5v2.5h-5.5zM243.8 576.2h5.5v2.5h-5.5zM259.6 576.2h5.5v2.5h-5.5zM91.5 580.6h5.6v2.5h-5.6zM133.8 580.6h5.5v2.5h-5.5zM254.3 580.6h5.5v2.5h-5.5zM285.8 582.9h5.5v2.5h-5.5zM128.5 587.3h5.5v2.5h-5.5zM144.2 587.3h5.5v2.5h-5.5zM196.7 587.3h5.5v2.5h-5.5zM238.6 587.3h5.5v2.5h-5.5zM249.1 587.3h5.5v2.5h-5.5zM249.1 589.5h5.5v2.5h-5.5zM280.5 589.5h5.5v2.5h-5.5zM285.8 589.5h5.5v2.5h-5.5zM123.3 591.7h5.5v2.5h-5.5zM128.5 591.7h5.5v2.5h-5.5zM233.3 591.7h5.5v2.5h-5.5zM238.6 591.7h5.5v2.5h-5.5zM149.5 593.9h5.5v2.5h-5.5zM160.0 593.9h5.5v2.5h-5.5zM201.9 596.1h5.5v2.5h-5.5zM217.6 596.1h5.5v2.5h-5.5zM285.8 598.4h5.5v2.5h-5.5zM123.3 600.6h5.5v2.5h-5.5zM160.0 600.6h5.5v2.5h-5.5zM170.5 600.6h5.5v2.5h-5.5zM175.7 600.6h5.5v2.5h-5.5zM180.9 600.6h5.5v2.5h-5.5zM207.1 600.6h5.5v2.5h-5.5zM233.3 600.6h5.5v2.5h-5.5zM275.3 600.6h5.5v2.5h-5.5zM280.5 600.6h5.5v2.5h-5.5zM212.4 602.8h5.5v2.5h-5.5zM275.3 602.8h5.5v2.5h-5.5z"/>
<path fill="#e2ecf6" d="M133.8 370.3h5.5v2.5h-5.5zM186.2 370.3h5.5v2.5h-5.5zM54.5 372.5h5.6v2.5h-5.6zM201.9 374.8h5.5v2.5h-5.5zM212.4 374.8h5.5v2.5h-5.5zM270.0 374.8h5.5v2.5h-5.5zM118.0 377.0h5.5v2.5h-5.5zM170.5 377.0h5.5v2.5h-5.5zM243.8 377.0h5.5v2.5h-5.5zM17.6 379.2h5.6v2.5h-5.6zM59.8 379.2h5.6v2.5h-5.6zM80.9 379.2h5.6v2.5h-5.6zM91.5 379.2h5.6v2.5h-5.6zM54.5 383.6h5.6v2.5h-5.6zM91.5 385.8h5.6v2.5h-5.6zM12.3 388.0h5.6v2.5h-5.6zM285.8 390.3h5.5v2.5h-5.5zM102.2 392.5h5.6v2.5h-5.6zM170.5 392.5h5.5v2.5h-5.5zM28.1 394.7h5.6v2.5h-5.6zM33.4 394.7h5.6v2.5h-5.6zM38.7 394.7h5.6v2.5h-5.6zM65.1 394.7h5.6v2.5h-5.6zM70.4 394.7h5.6v2.5h-5.6zM75.7 394.7h5.6v2.5h-5.6zM96.8 394.7h5.6v2.5h-5.6zM107.5 394.7h5.6v2.5h-5.6zM12.3 401.3h5.6v2.5h-5.6zM44.0 405.8h5.6v2.5h-5.6zM49.3 405.8h5.6v2.5h-5.6zM96.8 405.8h5.6v2.5h-5.6zM102.2 405.8h5.6v2.5h-5.6zM186.2 405.8h5.5v2.5h-5.5zM33.4 408.0h5.6v2.5h-5.6zM59.8 408.0h5.6v2.5h-5.6zM28.1 410.2h5.6v2.5h-5.6zM38.7 410.2h5.6v2.5h-5.6zM70.4 410.2h5.6v2.5h-5.6zM80.9 410.2h5.6v2.5h-5.6zM96.8 410.2h5.6v2.5h-5.6zM107.5 410.2h5.6v2.5h-5.6zM222.9 410.2h5.5v2.5h-5.5zM186.2 412.4h5.5v2.5h-5.5zM80.9 414.6h5.6v2.5h-5.6zM123.3 414.6h5.5v2.5h-5.5zM65.1 416.8h5.6v2.5h-5.6zM207.1 419.0h5.5v2.5h-5.5zM28.1 421.2h5.6v2.5h-5.6zM91.5 421.2h5.6v2.5h-5.6zM170.5 421.2h5.5v2.5h-5.5zM12.3 425.7h5.6v2.5h-5.6zM44.0 425.7h5.6v2.5h-5.6zM59.8 425.7h5.6v2.5h-5.6zM86.2 425.7h5.6v2.5h-5.6zM91.5 425.7h5.6v2.5h-5.6zM128.5 425.7h5.5v2.5h-5.5zM191.4 425.7h5.5v2.5h-5.5zM212.4 425.7h5.5v2.5h-5.5zM196.7 430.1h5.5v2.5h-5.5zM123.3 432.3h5.5v2.5h-5.5zM154.7 432.3h5.5v2.5h-5.5zM201.9 432.3h5.5v2.5h-5.5zM207.1 432.3h5.5v2.5h-5.5zM102.2 434.5h5.6v2.5h-5.6zM154.7 434.5h5.5v2.5h-5.5zM170.5 434.5h5.5v2.5h-5.5zM222.9 434.5h5.5v2.5h-5.5zM22.9 436.7h5.6v2.5h-5.6zM38.7 436.7h5.6v2.5h-5.6zM86.2 436.7h5.6v2.5h-5.6zM91.5 436.7h5.6v2.5h-5.6zM96.8 436.7h5.6v2.5h-5.6zM160.0 441.2h5.5v2.5h-5.5zM186.2 441.2h5.5v2.5h-5.5zM280.5 443.4h5.5v2.5h-5.5zM44.0 445.6h5.6v2.5h-5.6zM75.7 445.6h5.6v2.5h-5.6zM65.1 447.8h5.6v2.5h-5.6zM175.7 450.0h5.5v2.5h-5.5zM49.3 456.7h5.6v2.5h-5.6zM75.7 458.9h5.6v2.5h-5.6zM107.5 458.9h5.6v2.5h-5.6zM186.2 458.9h5.5v2.5h-5.5zM217.6 458.9h5.5v2.5h-5.5zM112.8 461.1h5.5v2.5h-5.5zM133.8 461.1h5.5v2.5h-5.5zM222.9 461.1h5.5v2.5h-5.5zM96.8 465.5h5.6v2.5h-5.6zM12.3 467.7h5.6v2.5h-5.6zM38.7 467.7h5.6v2.5h-5.6zM144.2 467.7h5.5v2.5h-5.5zM280.5 467.7h5.5v2.5h-5.5zM38.7 470.0h5.6v2.5h-5.6zM86.2 470.0h5.6v2.5h-5.6zM259.6 470.0h5.5v2.5h-5.5zM12.3 474.4h5.6v2.5h-5.6zM33.4 474.4h5.6v2.5h-5.6zM38.7 474.4h5.6v2.5h-5.6zM65.1 474.4h5.6v2.5h-5.6zM86.2 474.4h5.6v2.5h-5.6zM91.5 474.4h5.6v2.5h-5.6zM17.6 481.0h5.6v2.5h-5.6zM54.5 481.0h5.6v2.5h-5.6zM80.9 481.0h5.6v2.5h-5.6zM154.7 481.0h5.5v2.5h-5.5zM170.5 481.0h5.5v2.5h-5.5zM186.2 481.0h5.5v2.5h-5.5zM75.7 483.2h5.6v2.5h-5.6zM107.5 485.4h5.6v2.5h-5.6zM207.1 485.4h5.5v2.5h-5.5zM28.1 487.7h5.6v2.5h-5.6zM33.4 487.7h5.6v2.5h-5.6zM38.7 487.7h5.6v2.5h-5.6zM49.3 487.7h5.6v2.5h-5.6zM59.8 487.7h5.6v2.5h-5.6zM75.7 487.7h5.6v2.5h-5.6zM80.9 487.7h5.6v2.5h-5.6zM107.5 487.7h5.6v2.5h-5.6zM118.0 487.7h5.5v2.5h-5.5zM139.0 489.9h5.5v2.5h-5.5zM275.3 489.9h5.5v2.5h-5.5zM285.8 489.9h5.5v2.5h-5.5zM12.3 492.1h5.6v2.5h-5.6zM165.2 492.1h5.5v2.5h-5.5zM170.5 494.3h5.5v2.5h-5.5zM28.1 496.5h5.6v2.5h-5.6zM38.7 496.5h5.6v2.5h-5.6zM259.6 496.5h5.5v2.5h-5.5zM118.0 498.7h5.5v2.5h-5.5zM154.7 498.7h5.5v2.5h-5.5zM180.9 498.7h5.5v2.5h-5.5zM38.7 507.6h5.6v2.5h-5.6zM38.7 514.2h5.6v2.5h-5.6zM44.0 514.2h5.6v2.5h-5.6zM49.3 514.2h5.6v2.5h-5.6zM54.5 514.2h5.6v2.5h-5.6zM59.8 514.2h5.6v2.5h-5.6zM107.5 514.2h5.6v2.5h-5.6zM70.4 516.4h5.6v2.5h-5.6zM28.1 518.7h5.6v2.5h-5.6zM70.4 518.7h5.6v2.5h-5.6zM180.9 518.7h5.5v2.5h-5.5zM28.1 520.9h5.6v2.5h-5.6zM75.7 520.9h5.6v2.5h-5.6zM12.3 523.1h5.6v2.5h-5.6zM38.7 523.1h5.6v2.5h-5.6zM70.4 523.1h5.6v2.5h-5.6zM80.9 523.1h5.6v2.5h-5.6zM86.2 523.1h5.6v2.5h-5.6zM96.8 523.1h5.6v2.5h-5.6zM107.5 523.1h5.6v2.5h-5.6zM191.4 523.1h5.5v2.5h-5.5zM207.1 523.1h5.5v2.5h-5.5zM17.6 525.3h5.6v2.5h-5.6zM180.9 525.3h5.5v2.5h-5.5zM222.9 527.5h5.5v2.5h-5.5zM17.6 529.7h5.6v2.5h-5.6zM59.8 529.7h5.6v2.5h-5.6zM33.4 536.4h5.6v2.5h-5.6zM54.5 536.4h5.6v2.5h-5.6zM59.8 536.4h5.6v2.5h-5.6zM65.1 536.4h5.6v2.5h-5.6zM70.4 536.4h5.6v2.5h-5.6zM86.2 536.4h5.6v2.5h-5.6zM96.8 536.4h5.6v2.5h-5.6zM170.5 536.4h5.5v2.5h-5.5zM170.5 538.6h5.5v2.5h-5.5zM96.8 540.8h5.6v2.5h-5.6zM170.5 540.8h5.5v2.5h-5.5zM175.7 540.8h5.5v2.5h-5.5zM70.4 543.0h5.6v2.5h-5.6zM128.5 543.0h5.5v2.5h-5.5zM175.7 543.0h5.5v2.5h-5.5zM217.6 545.2h5.5v2.5h-5.5zM28.1 547.4h5.6v2.5h-5.6zM207.1 547.4h5.5v2.5h-5.5zM160.0 549.7h5.5v2.5h-5.5zM165.2 549.7h5.5v2.5h-5.5zM12.3 551.9h5.6v2.5h-5.6zM17.6 551.9h5.6v2.5h-5.6zM44.0 551.9h5.6v2.5h-5.6zM49.3 551.9h5.6v2.5h-5.6zM65.1 551.9h5.6v2.5h-5.6zM70.4 551.9h5.6v2.5h-5.6zM75.7 551.9h5.6v2.5h-5.6zM96.8 551.9h5.6v2.5h-5.6zM102.2 551.9h5.6v2.5h-5.6zM107.5 551.9h5.6v2.5h-5.6zM191.4 551.9h5.5v2.5h-5.5zM207.1 551.9h5.5v2.5h-5.5zM201.9 554.1h5.5v2.5h-5.5zM70.4 558.5h5.6v2.5h-5.6zM107.5 558.5h5.6v2.5h-5.6zM170.5 558.5h5.5v2.5h-5.5zM217.6 558.5h5.5v2.5h-5.5zM180.9 560.7h5.5v2.5h-5.5zM44.0 562.9h5.6v2.5h-5.6zM75.7 562.9h5.6v2.5h-5.6zM123.3 562.9h5.5v2.5h-5.5zM175.7 562.9h5.5v2.5h-5.5zM175.7 565.1h5.5v2.5h-5.5zM285.8 565.1h5.5v2.5h-5.5zM170.5 567.4h5.5v2.5h-5.5zM91.5 569.6h5.6v2.5h-5.6zM217.6 569.6h5.5v2.5h-5.5zM80.9 571.8h5.6v2.5h-5.6zM33.4 574.0h5.6v2.5h-5.6zM54.5 574.0h5.6v2.5h-5.6zM59.8 574.0h5.6v2.5h-5.6zM65.1 574.0h5.6v2.5h-5.6zM75.7 574.0h5.6v2.5h-5.6zM80.9 574.0h5.6v2.5h-5.6zM96.8 574.0h5.6v2.5h-5.6zM38.7 576.2h5.6v2.5h-5.6zM44.0 576.2h5.6v2.5h-5.6zM65.1 576.2h5.6v2.5h-5.6zM75.7 576.2h5.6v2.5h-5.6zM91.5 576.2h5.6v2.5h-5.6zM96.8 576.2h5.6v2.5h-5.6zM191.4 576.2h5.5v2.5h-5.5zM165.2 580.6h5.5v2.5h-5.5zM196.7 580.6h5.5v2.5h-5.5zM154.7 582.9h5.5v2.5h-5.5zM186.2 582.9h5.5v2.5h-5.5zM165.2 585.1h5.5v2.5h-5.5zM175.7 585.1h5.5v2.5h-5.5zM180.9 585.1h5.5v2.5h-5.5zM217.6 585.1h5.5v2.5h-5.5zM222.9 585.1h5.5v2.5h-5.5zM28.1 587.3h5.6v2.5h-5.6zM38.7 587.3h5.6v2.5h-5.6zM49.3 587.3h5.6v2.5h-5.6zM70.4 587.3h5.6v2.5h-5.6zM80.9 587.3h5.6v2.5h-5.6zM91.5 587.3h5.6v2.5h-5.6zM96.8 587.3h5.6v2.5h-5.6zM102.2 587.3h5.6v2.5h-5.6zM107.5 587.3h5.6v2.5h-5.6zM243.8 589.5h5.5v2.5h-5.5zM207.1 591.7h5.5v2.5h-5.5zM28.1 598.4h5.6v2.5h-5.6zM165.2 598.4h5.5v2.5h-5.5zM38.7 600.6h5.6v2.5h-5.6zM80.9 602.8h5.6v2.5h-5.6zM139.0 602.8h5.5v2.5h-5.5z"/>
<path fill="#356fbe" d="M38.7 374.8h5.6v2.5h-5.6zM59.8 383.6h5.6v2.5h-5.6zM80.9 388.0h5.6v2.5h-5.6zM65.1 390.3h5.6v2.5h-5.6zM33.4 392.5h5.6v2.5h-5.6zM65.1 392.5h5.6v2.5h-5.6zM49.3 401.3h5.6v2.5h-5.6zM70.4 403.5h5.6v2.5h-5.6zM28.1 414.6h5.6v2.5h-5.6zM54.5 416.8h5.6v2.5h-5.6zM70.4 419.0h5.6v2.5h-5.6zM91.5 432.3h5.6v2.5h-5.6zM107.5 432.3h5.6v2.5h-5.6zM80.9 443.4h5.6v2.5h-5.6zM102.2 450.0h5.6v2.5h-5.6zM107.5 452.2h5.6v2.5h-5.6zM33.4 478.8h5.6v2.5h-5.6zM33.4 481.0h5.6v2.5h-5.6zM44.0 496.5h5.6v2.5h-5.6zM49.3 496.5h5.6v2.5h-5.6zM102.2 496.5h5.6v2.5h-5.6zM12.3 509.8h5.6v2.5h-5.6zM75.7 516.4h5.6v2.5h-5.6zM33.4 518.7h5.6v2.5h-5.6zM59.8 518.7h5.6v2.5h-5.6zM70.4 529.7h5.6v2.5h-5.6zM70.4 534.2h5.6v2.5h-5.6zM28.1 538.6h5.6v2.5h-5.6zM91.5 540.8h5.6v2.5h-5.6zM33.4 554.1h5.6v2.5h-5.6zM33.4 556.3h5.6v2.5h-5.6zM75.7 560.7h5.6v2.5h-5.6zM96.8 560.7h5.6v2.5h-5.6zM107.5 562.9h5.6v2.5h-5.6zM54.5 565.1h5.6v2.5h-5.6zM59.8 565.1h5.6v2.5h-5.6zM33.4 567.4h5.6v2.5h-5.6zM107.5 567.4h5.6v2.5h-5.6zM33.4 578.4h5.6v2.5h-5.6zM49.3 578.4h5.6v2.5h-5.6zM44.0 580.6h5.6v2.5h-5.6zM22.9 591.7h5.6v2.5h-5.6zM86.2 593.9h5.6v2.5h-5.6zM86.2 596.1h5.6v2.5h-5.6zM75.7 600.6h5.6v2.5h-5.6z"/>
<path fill="#1e5aaf" d="M80.9 399.1h5.6v2.5h-5.6zM102.2 456.7h5.6v2.5h-5.6zM96.8 472.2h5.6v2.5h-5.6zM70.4 496.5h5.6v2.5h-5.6zM75.7 534.2h5.6v2.5h-5.6zM65.1 554.1h5.6v2.5h-5.6zM65.1 593.9h5.6v2.5h-5.6z"/>
<path fill="#e23728" d="M165.2 399.1h5.5v2.5h-5.5zM238.6 405.8h5.5v2.5h-5.5zM165.2 421.2h5.5v2.5h-5.5zM243.8 427.9h5.5v2.5h-5.5zM254.3 427.9h5.5v2.5h-5.5zM165.2 456.7h5.5v2.5h-5.5zM191.4 458.9h5.5v2.5h-5.5zM249.1 474.4h5.5v2.5h-5.5zM233.3 478.8h5.5v2.5h-5.5zM254.3 478.8h5.5v2.5h-5.5zM249.1 483.2h5.5v2.5h-5.5zM270.0 514.2h5.5v2.5h-5.5zM243.8 518.7h5.5v2.5h-5.5zM238.6 529.7h5.5v2.5h-5.5zM154.7 536.4h5.5v2.5h-5.5zM249.1 538.6h5.5v2.5h-5.5zM264.8 538.6h5.5v2.5h-5.5zM264.8 565.1h5.5v2.5h-5.5z"/>
<path d="M91.5 365.7V605M112.8 365.7V605" stroke="#111" stroke-width="1.5"/>
<defs><linearGradient id="cbar" x1="0" y1="0" x2="1" y2="0"><stop offset="0" stop-color="#2a66b6"/><stop offset="0.24" stop-color="#80ace0"/><stop offset="0.48" stop-color="#fafafc"/><stop offset="0.74" stop-color="#f2a090"/><stop offset="1" stop-color="#e6412a"/></linearGradient></defs>
<rect x="115" y="619.4" width="42.8" height="9.4" fill="url(#cbar)"/>
<path d="M115 629.7H158.2M115.6 629.7V633.9M125.9 629.7V633.9M136.4 629.7V633.9M147.1 629.7V633.9M157.6 629.7V633.9" stroke="#111" stroke-width="1.3"/>
<text transform="translate(115.6 638.2) rotate(-90)" x="0" y="0" font-size="10.6" text-anchor="end" dy="3.7" fill="#222">−2</text>
<text transform="translate(125.9 638.2) rotate(-90)" x="0" y="0" font-size="10.6" text-anchor="end" dy="3.7" fill="#222">−1</text>
<text transform="translate(136.4 638.2) rotate(-90)" x="0" y="0" font-size="10.6" text-anchor="end" dy="3.7" fill="#222">0</text>
<text transform="translate(147.1 638.2) rotate(-90)" x="0" y="0" font-size="10.6" text-anchor="end" dy="3.7" fill="#222">1</text>
<text transform="translate(157.6 638.2) rotate(-90)" x="0" y="0" font-size="10.6" text-anchor="end" dy="3.7" fill="#222">2</text>
<rect x="380.4" y="335.8" width="124.9" height="54.1" fill="none" stroke="#1a1a1a" stroke-width="1.3"/>
<text x="382.13" y="346.10" font-size="10.40" fill="#222" textLength="121.17" lengthAdjust="spacingAndGlyphs" xml:space="preserve">Cox model (continuous)</text>
<path d="M382.6 347.7H502.6" stroke="#333" stroke-width="0.9"/>
<text x="382.5" y="358.9" font-size="10.2" fill="#222" textLength="82.8" lengthAdjust="spacingAndGlyphs">HR<tspan font-size="7.2" dy="2.6">(per unit)</tspan><tspan dy="-2.6"> = 0.67</tspan></text>
<text x="382.19" y="372.80" font-size="10.20" fill="#222" textLength="106.44" lengthAdjust="spacingAndGlyphs" xml:space="preserve">95% CI = [0.46–0.97]</text>
<text x="381.78" y="385.80" font-size="10.20" fill="#222" textLength="49.29" lengthAdjust="spacingAndGlyphs" xml:space="preserve">P = 0.035</text>
<text x="382.17" y="401.50" font-size="10.40" fill="#222" textLength="119.49" lengthAdjust="spacingAndGlyphs" xml:space="preserve">T cell costimulation and</text>
<text x="381.85" y="414.00" font-size="10.40" fill="#222" textLength="122.49" lengthAdjust="spacingAndGlyphs" xml:space="preserve">receptor signaling score</text>
<path d="M380.8 420.1H504.9" stroke="#1a1a1a" stroke-width="1.5"/>
<path d="M348.1 398.1V506.1H502.2" stroke="#111" stroke-width="1.3" fill="none"/>
<path d="M343.8 506.1H348.1M343.8 484.5H348.1M343.8 462.9H348.1M343.8 441.3H348.1M343.8 419.7H348.1M343.8 398.1H348.1M348.1 506.1V510.3M373.7 506.1V510.3M399.4 506.1V510.3M425.0 506.1V510.3M450.6 506.1V510.3M476.3 506.1V510.3M501.9 506.1V510.3" stroke="#111" stroke-width="1.2"/>
<text x="323.18" y="509.6" font-size="11.6" fill="#222">0.0</text>
<text x="323.36" y="488.0" font-size="11.6" fill="#222">0.2</text>
<text x="323.12" y="466.4" font-size="11.6" fill="#222">0.4</text>
<text x="323.24" y="444.8" font-size="11.6" fill="#222">0.6</text>
<text x="323.24" y="423.2" font-size="11.6" fill="#222">0.8</text>
<text x="323.18" y="401.6" font-size="11.6" fill="#222">1.0</text>
<text x="344.96" y="524.20" font-size="11.20" fill="#222">0</text>
<text x="370.63" y="524.20" font-size="11.20" fill="#222">2</text>
<text x="396.31" y="524.20" font-size="11.20" fill="#222">4</text>
<text x="421.84" y="524.20" font-size="11.20" fill="#222">6</text>
<text x="447.50" y="524.20" font-size="11.20" fill="#222">8</text>
<text x="469.83" y="524.20" font-size="11.20" fill="#222">10</text>
<text x="495.54" y="524.20" font-size="11.20" fill="#222">12</text>
<text transform="translate(310.3 478.2) rotate(-90)" font-size="13.2" fill="#222" textLength="52.8" lengthAdjust="spacingAndGlyphs">Probability</text>
<text x="400.53" y="543.60" font-size="14.00" fill="#222" textLength="50.13" lengthAdjust="spacingAndGlyphs" xml:space="preserve">OS (years)</text>
<text x="410.80" y="502.80" font-size="10.60" fill="#222" textLength="48.01" lengthAdjust="spacingAndGlyphs" xml:space="preserve">P &lt; 0.001</text>
<path d="M456.4 438.8H474.6" stroke="#c8102e" stroke-width="1.7"/>
<path d="M456.4 451.2H474.6" stroke="#1b5088" stroke-width="1.7" stroke-dasharray="4.2 2"/>
<text x="479.20" y="442.20" font-size="10.80" fill="#222" textLength="20.70" lengthAdjust="spacingAndGlyphs" xml:space="preserve">Low</text>
<text x="479.26" y="455.30" font-size="10.80" fill="#222" textLength="24.23" lengthAdjust="spacingAndGlyphs" xml:space="preserve">High</text>
<path d="M348.10 398.10H348.10V410.63H348.61V415.38H349.38V419.70H350.15V424.02H350.92V428.34H351.95V433.20H352.71V438.06H353.48V442.92H354.00V447.24H354.51V451.56H357.71V456.31H367.33V469.49H373.73V473.70H374.50V478.02H375.27V483.42H376.04V487.74H376.81V492.06H391.16V492.06" stroke="#c8102e" stroke-width="1.7" fill="none"/>
<path d="M377.6 493.9v-3.6M391.2 493.9v-3.6" stroke="#c8102e" stroke-width="1.2"/>
<path d="M348.10 398.10H348.99V398.71H349.88V399.33H350.85V400.00H352.06V400.83H353.26V401.67H354.48V402.51H355.70V403.35H356.69V412.73H357.49V413.98H358.39V415.39H359.41V416.97H360.14V418.11H360.78V419.10H361.88V420.82H362.90V422.40H363.81V423.81H364.93V425.56H365.87V427.01H367.11V428.94H367.79V430.00H368.73V431.46H369.62V432.74H370.41V433.31H371.37V434.01H372.08V434.52H373.19V435.32H374.35V436.16H374.98V436.62H375.86V437.25H376.59V437.78H378.37V439.07H379.22V439.68H379.86V440.14H380.89V440.88H381.57V441.37H382.76V442.23H383.45V442.85H384.01V443.40H384.69V444.06H385.48V444.82H386.35V445.66H387.54V446.81H388.58V447.82H389.36V448.57H389.91V449.10H390.57V449.74H391.82V450.53H392.69V451.01H393.72V451.59H394.96V452.29H396.17V452.97H398.62V454.35H400.68V455.50H402.31V456.42H403.95V457.34H405.24V458.23H406.66V459.27H407.85V460.13H410.29V461.92H412.17V463.28H413.51V464.27H415.80V465.94H417.26V467.00H418.51V467.79H420.58V469.03H423.11V470.56H424.31V471.28H426.70V472.67H428.15V473.12H430.62V473.89H432.23V474.40H434.50V475.61H436.41V477.21H438.88V479.64H451.10V483.42H455.43V488.60H458.23V489.36H467.84V493.63H469.86V495.16H471.96V495.84H501.90" stroke="#1b5088" stroke-width="2.1" fill="none" stroke-dasharray="4.5 1.6"/>
<path d="M359.58 419.03v-3.6M386.11 447.23v-3.6M381.54 443.15v-3.6M372.87 436.89v-3.6M377.99 440.59v-3.6M379.35 441.57v-3.6M383.28 444.49v-3.6M389.75 450.75v-3.6M355.36 404.92v-3.6M376.43 439.46v-3.6M355.09 404.73v-3.6M368.33 432.64v-3.6M383.51 444.71v-3.6M388.30 449.34v-3.6M382.31 443.71v-3.6M350.31 401.42v-3.6M364.63 426.89v-3.6M355.95 406.03v-3.6M392.91 452.93v-3.6M355.11 404.74v-3.6M359.54 418.98v-3.6M364.54 426.74v-3.6M351.43 402.20v-3.6M387.23 448.30v-3.6M376.88 439.79v-3.6M355.80 405.22v-3.6M370.77 435.38v-3.6M352.22 402.75v-3.6M375.76 438.98v-3.6M358.98 418.11v-3.6M350.45 401.52v-3.6M353.84 403.86v-3.6M373.29 437.20v-3.6M376.91 439.81v-3.6M363.10 424.51v-3.6M377.19 440.01v-3.6M364.31 426.38v-3.6M354.52 404.33v-3.6M362.68 423.85v-3.6M366.22 429.35v-3.6M436.24 478.83v-3.6M398.44 456.05v-3.6M397.04 455.26v-3.6M419.59 470.24v-3.6M438.64 481.37v-3.6M435.98 478.60v-3.6M426.17 474.20v-3.6M396.12 454.74v-3.6M431.20 475.87v-3.6M425.37 473.71v-3.6M399.78 456.80v-3.6M415.01 467.15v-3.6M395.30 454.28v-3.6M430.98 475.81v-3.6M427.04 474.58v-3.6M431.12 475.85v-3.6M429.02 475.19v-3.6M405.63 460.32v-3.6M454.48 489.15v-3.6M471.14 497.64v-3.6M477.55 497.64v-3.6M487.80 497.64v-3.6M494.21 497.64v-3.6" stroke="#1b5088" stroke-width="1.1"/>
<text x="303.46" y="560.10" font-size="10.40" fill="#222" textLength="56.14" lengthAdjust="spacingAndGlyphs" xml:space="preserve">No. at risk:</text>
<path d="M312.5 570.3H336" stroke="#c8102e" stroke-width="1.8"/>
<path d="M312.5 582.1H336" stroke="#1b5088" stroke-width="1.8" stroke-dasharray="4.2 1.9"/>
<text x="341.64" y="573.60" font-size="11.00" fill="#222">25</text>
<text x="341.67" y="586.50" font-size="11.00" fill="#222">96</text>
<text x="370.38" y="573.60" font-size="11.00" fill="#222">7</text>
<text x="367.30" y="586.50" font-size="11.00" fill="#222">50</text>
<text x="395.99" y="573.60" font-size="11.00" fill="#222">0</text>
<text x="392.91" y="586.50" font-size="11.00" fill="#222">26</text>
<text x="421.62" y="573.60" font-size="11.00" fill="#222">0</text>
<text x="418.40" y="586.50" font-size="11.00" fill="#222">13</text>
<text x="447.25" y="573.60" font-size="11.00" fill="#222">0</text>
<text x="447.25" y="586.50" font-size="11.00" fill="#222">8</text>
<text x="472.89" y="573.60" font-size="11.00" fill="#222">0</text>
<text x="472.91" y="586.50" font-size="11.00" fill="#222">3</text>
<text x="498.52" y="573.60" font-size="11.00" fill="#222">0</text>
<text x="498.55" y="586.50" font-size="11.00" fill="#222">2</text>
<rect x="0.75" y="0.75" width="518.5" height="657.5" fill="none" stroke="#0a0a0a" stroke-width="1.6"/>
</svg></body></html>
